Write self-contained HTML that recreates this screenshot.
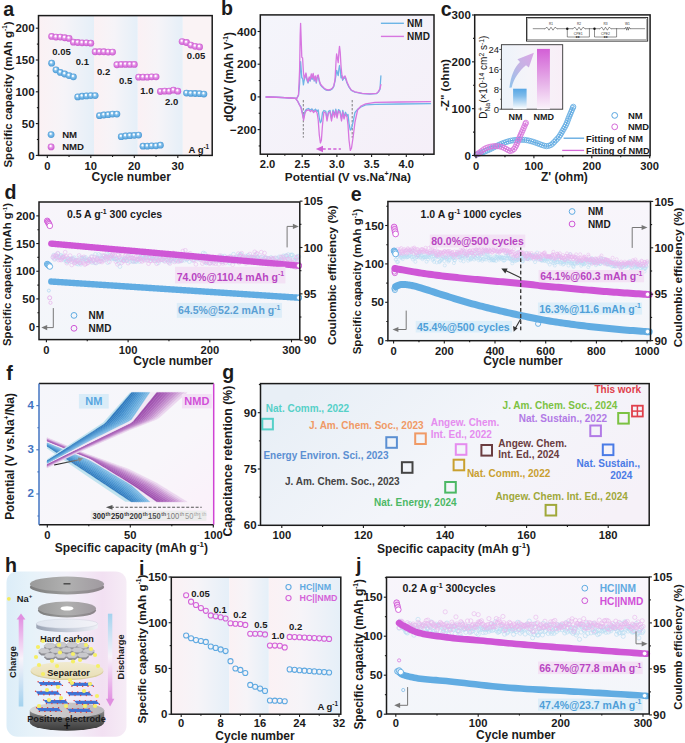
<!DOCTYPE html>
<html><head><meta charset="utf-8"><title>Figure</title>
<style>html,body{margin:0;padding:0;background:#fff;width:685px;height:743px;overflow:hidden}svg{display:block}</style>
</head><body>
<svg width="685" height="743" viewBox="0 0 685 743" font-family='"Liberation Sans", sans-serif'>
<defs><linearGradient id="bandA" x1="0" y1="0" x2="1" y2="0"><stop offset="0" stop-color="#fbf1f4"/><stop offset="0.45" stop-color="#f6f4f8"/><stop offset="1" stop-color="#e5eff8"/></linearGradient><radialGradient id="sphB" cx="0.5" cy="0.5" r="0.55" fx="0.4" fy="0.33"><stop offset="0" stop-color="#ffffff"/><stop offset="0.18" stop-color="#f4faff"/><stop offset="0.4" stop-color="#8cc4ec"/><stop offset="0.8" stop-color="#56a3dc"/><stop offset="1" stop-color="#4a93cd"/></radialGradient><radialGradient id="sphM" cx="0.5" cy="0.5" r="0.55" fx="0.4" fy="0.33"><stop offset="0" stop-color="#ffffff"/><stop offset="0.18" stop-color="#fff6ff"/><stop offset="0.4" stop-color="#e79be9"/><stop offset="0.8" stop-color="#d266d6"/><stop offset="1" stop-color="#c257c7"/></radialGradient><linearGradient id="bgB" x1="0" y1="0" x2="1" y2="1"><stop offset="0" stop-color="#f4f5fb"/><stop offset="1" stop-color="#f5eff8"/></linearGradient><linearGradient id="insBg" x1="0" y1="0" x2="1" y2="0"><stop offset="0" stop-color="#edf3fa"/><stop offset="0.45" stop-color="#f5f4f9"/><stop offset="1" stop-color="#f8eef7"/></linearGradient><linearGradient id="barNM" x1="0" y1="0" x2="0" y2="1"><stop offset="0" stop-color="#56a6e4"/><stop offset="0.35" stop-color="#7fbbea"/><stop offset="1" stop-color="#ffffff"/></linearGradient><linearGradient id="barNMD" x1="0" y1="0" x2="0" y2="1"><stop offset="0" stop-color="#d35fd6"/><stop offset="0.55" stop-color="#e6b0e8"/><stop offset="1" stop-color="#fbf3fb"/></linearGradient><linearGradient id="arrG" x1="0" y1="1" x2="1" y2="0"><stop offset="0" stop-color="#8fc3ec"/><stop offset="0.5" stop-color="#c3b4e4"/><stop offset="1" stop-color="#dba6e6"/></linearGradient><linearGradient id="bgD" x1="0" y1="0" x2="0" y2="1"><stop offset="0" stop-color="#f8f5fb"/><stop offset="1" stop-color="#f3f6fa"/></linearGradient><linearGradient id="bgE" x1="0" y1="0" x2="0" y2="1"><stop offset="0" stop-color="#f8f5fb"/><stop offset="1" stop-color="#f3f6fa"/></linearGradient><linearGradient id="bgF" x1="0" y1="0" x2="1" y2="1"><stop offset="0" stop-color="#f5f6fb"/><stop offset="0.6" stop-color="#f8f6fa"/><stop offset="1" stop-color="#fbf0fa"/></linearGradient><linearGradient id="kArr" x1="0" y1="0" x2="1" y2="0"><stop offset="0" stop-color="#111111"/><stop offset="1" stop-color="#9a9a9a"/></linearGradient><linearGradient id="bgG" x1="0" y1="0.3" x2="1" y2="0.7"><stop offset="0" stop-color="#e8eff6"/><stop offset="0.5" stop-color="#f3f5fa"/><stop offset="1" stop-color="#f6f1f8"/></linearGradient><linearGradient id="bgH" x1="0" y1="0" x2="1" y2="0"><stop offset="0" stop-color="#dcedf8"/><stop offset="0.2" stop-color="#e6f2f9"/><stop offset="0.5" stop-color="#f2f1f9"/><stop offset="0.8" stop-color="#f2e0f2"/><stop offset="1" stop-color="#f6ecf6"/></linearGradient><linearGradient id="chgA" x1="0" y1="0" x2="0" y2="1"><stop offset="0" stop-color="#e293e2"/><stop offset="0.45" stop-color="#f8f3fa"/><stop offset="1" stop-color="#a3d2ee"/></linearGradient><linearGradient id="dchA" x1="0" y1="0" x2="0" y2="1"><stop offset="0" stop-color="#a3d2ee"/><stop offset="0.5" stop-color="#f8f3fa"/><stop offset="1" stop-color="#e293e2"/></linearGradient><linearGradient id="discG" x1="0" y1="0" x2="1" y2="0"><stop offset="0" stop-color="#9a9a9a"/><stop offset="0.5" stop-color="#b0b0b0"/><stop offset="1" stop-color="#a09aa0"/></linearGradient><linearGradient id="discS" x1="0" y1="0" x2="1" y2="0"><stop offset="0" stop-color="#7d7d7d"/><stop offset="0.5" stop-color="#9a9a9a"/><stop offset="1" stop-color="#8a8288"/></linearGradient><linearGradient id="ccS" x1="0" y1="0" x2="1" y2="0"><stop offset="0" stop-color="#9aa3b3"/><stop offset="0.5" stop-color="#c3cad8"/><stop offset="1" stop-color="#eef0f6"/></linearGradient><linearGradient id="ccT" x1="0" y1="0" x2="1" y2="0"><stop offset="0" stop-color="#dfe5ef"/><stop offset="1" stop-color="#f3f3f8"/></linearGradient><linearGradient id="sepG" x1="0" y1="1" x2="0" y2="0"><stop offset="0" stop-color="#e8dfb4"/><stop offset="1" stop-color="#f1ead0"/></linearGradient><linearGradient id="elS" x1="0" y1="0" x2="0" y2="1"><stop offset="0" stop-color="#8e8e8e"/><stop offset="0.45" stop-color="#606060"/><stop offset="1" stop-color="#3a3a3a"/></linearGradient><linearGradient id="elT" x1="0" y1="0" x2="1" y2="0"><stop offset="0" stop-color="#d6d6d6"/><stop offset="1" stop-color="#b9b6ba"/></linearGradient><linearGradient id="bgJ" x1="0" y1="0" x2="0" y2="1"><stop offset="0" stop-color="#f8f5fb"/><stop offset="1" stop-color="#f3f6fa"/></linearGradient></defs>
<rect width="685" height="743" fill="#ffffff"/>
<rect x="38.5" y="15.6" width="55.5" height="139.8" fill="url(#bandA)"/>
<rect x="94.0" y="15.6" width="43.80000000000001" height="139.8" fill="url(#bandA)"/>
<rect x="137.8" y="15.6" width="45.0" height="139.8" fill="url(#bandA)"/>
<rect x="182.80" y="15.60" width="29.40" height="139.80" fill="#faf3f5"/>
<circle cx="51.65" cy="63.18" r="3.4" fill="url(#sphB)" stroke="none" stroke-width="1"/>
<circle cx="56.00" cy="69.86" r="3.4" fill="url(#sphB)" stroke="none" stroke-width="1"/>
<circle cx="60.35" cy="72.40" r="3.4" fill="url(#sphB)" stroke="none" stroke-width="1"/>
<circle cx="64.70" cy="73.99" r="3.4" fill="url(#sphB)" stroke="none" stroke-width="1"/>
<circle cx="69.05" cy="75.58" r="3.4" fill="url(#sphB)" stroke="none" stroke-width="1"/>
<circle cx="73.40" cy="76.85" r="3.4" fill="url(#sphB)" stroke="none" stroke-width="1"/>
<circle cx="77.75" cy="96.89" r="3.4" fill="url(#sphB)" stroke="none" stroke-width="1"/>
<circle cx="82.10" cy="96.25" r="3.4" fill="url(#sphB)" stroke="none" stroke-width="1"/>
<circle cx="86.45" cy="95.93" r="3.4" fill="url(#sphB)" stroke="none" stroke-width="1"/>
<circle cx="90.80" cy="95.62" r="3.4" fill="url(#sphB)" stroke="none" stroke-width="1"/>
<circle cx="95.15" cy="95.62" r="3.4" fill="url(#sphB)" stroke="none" stroke-width="1"/>
<circle cx="99.50" cy="115.65" r="3.4" fill="url(#sphB)" stroke="none" stroke-width="1"/>
<circle cx="103.85" cy="115.01" r="3.4" fill="url(#sphB)" stroke="none" stroke-width="1"/>
<circle cx="108.20" cy="114.70" r="3.4" fill="url(#sphB)" stroke="none" stroke-width="1"/>
<circle cx="112.55" cy="114.06" r="3.4" fill="url(#sphB)" stroke="none" stroke-width="1"/>
<circle cx="116.90" cy="114.06" r="3.4" fill="url(#sphB)" stroke="none" stroke-width="1"/>
<circle cx="121.25" cy="136.64" r="3.4" fill="url(#sphB)" stroke="none" stroke-width="1"/>
<circle cx="125.60" cy="136.00" r="3.4" fill="url(#sphB)" stroke="none" stroke-width="1"/>
<circle cx="129.95" cy="135.68" r="3.4" fill="url(#sphB)" stroke="none" stroke-width="1"/>
<circle cx="134.30" cy="135.37" r="3.4" fill="url(#sphB)" stroke="none" stroke-width="1"/>
<circle cx="138.65" cy="135.05" r="3.4" fill="url(#sphB)" stroke="none" stroke-width="1"/>
<circle cx="143.00" cy="146.18" r="3.4" fill="url(#sphB)" stroke="none" stroke-width="1"/>
<circle cx="147.35" cy="146.18" r="3.4" fill="url(#sphB)" stroke="none" stroke-width="1"/>
<circle cx="151.70" cy="145.86" r="3.4" fill="url(#sphB)" stroke="none" stroke-width="1"/>
<circle cx="156.05" cy="145.86" r="3.4" fill="url(#sphB)" stroke="none" stroke-width="1"/>
<circle cx="160.40" cy="145.22" r="3.4" fill="url(#sphB)" stroke="none" stroke-width="1"/>
<circle cx="186.50" cy="93.07" r="3.4" fill="url(#sphB)" stroke="none" stroke-width="1"/>
<circle cx="190.85" cy="93.39" r="3.4" fill="url(#sphB)" stroke="none" stroke-width="1"/>
<circle cx="195.20" cy="93.52" r="3.4" fill="url(#sphB)" stroke="none" stroke-width="1"/>
<circle cx="199.55" cy="93.71" r="3.4" fill="url(#sphB)" stroke="none" stroke-width="1"/>
<circle cx="203.90" cy="94.03" r="3.4" fill="url(#sphB)" stroke="none" stroke-width="1"/>
<circle cx="51.65" cy="36.47" r="3.4" fill="url(#sphM)" stroke="none" stroke-width="1"/>
<circle cx="56.00" cy="37.10" r="3.4" fill="url(#sphM)" stroke="none" stroke-width="1"/>
<circle cx="60.35" cy="37.10" r="3.4" fill="url(#sphM)" stroke="none" stroke-width="1"/>
<circle cx="64.70" cy="37.74" r="3.4" fill="url(#sphM)" stroke="none" stroke-width="1"/>
<circle cx="69.05" cy="38.38" r="3.4" fill="url(#sphM)" stroke="none" stroke-width="1"/>
<circle cx="73.40" cy="42.19" r="3.4" fill="url(#sphM)" stroke="none" stroke-width="1"/>
<circle cx="77.75" cy="42.51" r="3.4" fill="url(#sphM)" stroke="none" stroke-width="1"/>
<circle cx="82.10" cy="42.83" r="3.4" fill="url(#sphM)" stroke="none" stroke-width="1"/>
<circle cx="86.45" cy="42.83" r="3.4" fill="url(#sphM)" stroke="none" stroke-width="1"/>
<circle cx="90.80" cy="43.15" r="3.4" fill="url(#sphM)" stroke="none" stroke-width="1"/>
<circle cx="95.15" cy="51.73" r="3.4" fill="url(#sphM)" stroke="none" stroke-width="1"/>
<circle cx="99.50" cy="51.73" r="3.4" fill="url(#sphM)" stroke="none" stroke-width="1"/>
<circle cx="103.85" cy="51.73" r="3.4" fill="url(#sphM)" stroke="none" stroke-width="1"/>
<circle cx="108.20" cy="52.05" r="3.4" fill="url(#sphM)" stroke="none" stroke-width="1"/>
<circle cx="112.55" cy="52.05" r="3.4" fill="url(#sphM)" stroke="none" stroke-width="1"/>
<circle cx="116.90" cy="64.77" r="3.4" fill="url(#sphM)" stroke="none" stroke-width="1"/>
<circle cx="121.25" cy="64.45" r="3.4" fill="url(#sphM)" stroke="none" stroke-width="1"/>
<circle cx="125.60" cy="64.45" r="3.4" fill="url(#sphM)" stroke="none" stroke-width="1"/>
<circle cx="129.95" cy="64.45" r="3.4" fill="url(#sphM)" stroke="none" stroke-width="1"/>
<circle cx="134.30" cy="64.45" r="3.4" fill="url(#sphM)" stroke="none" stroke-width="1"/>
<circle cx="138.65" cy="77.17" r="3.4" fill="url(#sphM)" stroke="none" stroke-width="1"/>
<circle cx="143.00" cy="77.17" r="3.4" fill="url(#sphM)" stroke="none" stroke-width="1"/>
<circle cx="147.35" cy="77.17" r="3.4" fill="url(#sphM)" stroke="none" stroke-width="1"/>
<circle cx="151.70" cy="76.85" r="3.4" fill="url(#sphM)" stroke="none" stroke-width="1"/>
<circle cx="156.05" cy="76.85" r="3.4" fill="url(#sphM)" stroke="none" stroke-width="1"/>
<circle cx="160.40" cy="91.48" r="3.4" fill="url(#sphM)" stroke="none" stroke-width="1"/>
<circle cx="164.75" cy="91.16" r="3.4" fill="url(#sphM)" stroke="none" stroke-width="1"/>
<circle cx="169.10" cy="91.16" r="3.4" fill="url(#sphM)" stroke="none" stroke-width="1"/>
<circle cx="173.45" cy="90.21" r="3.4" fill="url(#sphM)" stroke="none" stroke-width="1"/>
<circle cx="177.80" cy="91.16" r="3.4" fill="url(#sphM)" stroke="none" stroke-width="1"/>
<circle cx="182.15" cy="41.56" r="3.4" fill="url(#sphM)" stroke="none" stroke-width="1"/>
<circle cx="186.50" cy="42.51" r="3.4" fill="url(#sphM)" stroke="none" stroke-width="1"/>
<circle cx="190.85" cy="45.05" r="3.4" fill="url(#sphM)" stroke="none" stroke-width="1"/>
<circle cx="195.20" cy="46.33" r="3.4" fill="url(#sphM)" stroke="none" stroke-width="1"/>
<circle cx="199.55" cy="46.96" r="3.4" fill="url(#sphM)" stroke="none" stroke-width="1"/>
<rect x="38.5" y="15.6" width="173.70" height="139.80" fill="none" stroke="#1b1b1b" stroke-width="1.5"/>
<line x1="38.50" y1="155.40" x2="35.80" y2="155.40" stroke="#1b1b1b" stroke-width="1.1"/>
<text x="34.60" y="159.54" font-size="11.5" font-weight="bold" text-anchor="end" fill="#1b1b1b">0</text>
<line x1="38.50" y1="123.60" x2="35.80" y2="123.60" stroke="#1b1b1b" stroke-width="1.1"/>
<text x="34.60" y="127.74" font-size="11.5" font-weight="bold" text-anchor="end" fill="#1b1b1b">50</text>
<line x1="38.50" y1="91.80" x2="35.80" y2="91.80" stroke="#1b1b1b" stroke-width="1.1"/>
<text x="34.60" y="95.94" font-size="11.5" font-weight="bold" text-anchor="end" fill="#1b1b1b">100</text>
<line x1="38.50" y1="60.00" x2="35.80" y2="60.00" stroke="#1b1b1b" stroke-width="1.1"/>
<text x="34.60" y="64.14" font-size="11.5" font-weight="bold" text-anchor="end" fill="#1b1b1b">150</text>
<line x1="38.50" y1="28.20" x2="35.80" y2="28.20" stroke="#1b1b1b" stroke-width="1.1"/>
<text x="34.60" y="32.34" font-size="11.5" font-weight="bold" text-anchor="end" fill="#1b1b1b">200</text>
<line x1="38.50" y1="139.50" x2="36.88" y2="139.50" stroke="#1b1b1b" stroke-width="1.1"/>
<line x1="38.50" y1="107.70" x2="36.88" y2="107.70" stroke="#1b1b1b" stroke-width="1.1"/>
<line x1="38.50" y1="75.90" x2="36.88" y2="75.90" stroke="#1b1b1b" stroke-width="1.1"/>
<line x1="38.50" y1="44.10" x2="36.88" y2="44.10" stroke="#1b1b1b" stroke-width="1.1"/>
<line x1="47.30" y1="155.40" x2="47.30" y2="158.10" stroke="#1b1b1b" stroke-width="1.1"/>
<text x="47.30" y="169.80" font-size="11.2" font-weight="bold" text-anchor="middle" fill="#1b1b1b">0</text>
<line x1="90.80" y1="155.40" x2="90.80" y2="158.10" stroke="#1b1b1b" stroke-width="1.1"/>
<text x="90.80" y="169.80" font-size="11.2" font-weight="bold" text-anchor="middle" fill="#1b1b1b">10</text>
<line x1="134.30" y1="155.40" x2="134.30" y2="158.10" stroke="#1b1b1b" stroke-width="1.1"/>
<text x="134.30" y="169.80" font-size="11.2" font-weight="bold" text-anchor="middle" fill="#1b1b1b">20</text>
<line x1="177.80" y1="155.40" x2="177.80" y2="158.10" stroke="#1b1b1b" stroke-width="1.1"/>
<text x="177.80" y="169.80" font-size="11.2" font-weight="bold" text-anchor="middle" fill="#1b1b1b">30</text>
<line x1="69.05" y1="155.40" x2="69.05" y2="157.02" stroke="#1b1b1b" stroke-width="1.1"/>
<line x1="112.55" y1="155.40" x2="112.55" y2="157.02" stroke="#1b1b1b" stroke-width="1.1"/>
<line x1="156.05" y1="155.40" x2="156.05" y2="157.02" stroke="#1b1b1b" stroke-width="1.1"/>
<line x1="199.55" y1="155.40" x2="199.55" y2="157.02" stroke="#1b1b1b" stroke-width="1.1"/>
<text x="61.50" y="55.40" font-size="9.5" font-weight="bold" text-anchor="middle" fill="#1b1b1b">0.05</text>
<text x="82.40" y="64.80" font-size="9.5" font-weight="bold" text-anchor="middle" fill="#1b1b1b">0.1</text>
<text x="103.60" y="74.70" font-size="9.5" font-weight="bold" text-anchor="middle" fill="#1b1b1b">0.2</text>
<text x="125.60" y="84.40" font-size="9.5" font-weight="bold" text-anchor="middle" fill="#1b1b1b">0.5</text>
<text x="146.90" y="94.20" font-size="9.5" font-weight="bold" text-anchor="middle" fill="#1b1b1b">1.0</text>
<text x="171.60" y="105.20" font-size="9.5" font-weight="bold" text-anchor="middle" fill="#1b1b1b">2.0</text>
<text x="196.10" y="58.80" font-size="9.5" font-weight="bold" text-anchor="middle" fill="#1b1b1b">0.05</text>
<text x="188.50" y="152.60" font-size="9.5" font-weight="bold" text-anchor="start" fill="#1b1b1b"><tspan dy="0.00">A g</tspan><tspan dy="-3.80" font-size="6.27">-1</tspan></text>
<circle cx="51.10" cy="134.60" r="3.4" fill="url(#sphB)" stroke="none" stroke-width="1"/>
<text x="62.20" y="138.00" font-size="9.6" font-weight="bold" text-anchor="start" fill="#1b1b1b">NM</text>
<circle cx="51.10" cy="146.90" r="3.4" fill="url(#sphM)" stroke="none" stroke-width="1"/>
<text x="62.20" y="150.30" font-size="9.6" font-weight="bold" text-anchor="start" fill="#1b1b1b">NMD</text>
<text x="12.00" y="94.50" font-size="11.55" font-weight="bold" text-anchor="middle" fill="#1b1b1b" transform="rotate(-90 12.0 94.5)"><tspan dy="0.00">Specific capacity (mAh g</tspan><tspan dy="-4.62" font-size="6.35">-1</tspan><tspan dy="4.62">)</tspan></text>
<text x="131.20" y="181.00" font-size="12" font-weight="bold" text-anchor="middle" fill="#1b1b1b">Cycle number</text>
<text x="3.30" y="15.50" font-size="19.6" font-weight="bold" text-anchor="start" fill="#1b1b1b">a</text>
<rect x="260.30" y="14.90" width="173.70" height="139.30" fill="url(#bgB)"/>
<line x1="303.30" y1="100.00" x2="303.30" y2="137.70" stroke="#555" stroke-width="0.75" stroke-dasharray="2.4,1.6"/>
<line x1="352.20" y1="100.00" x2="352.20" y2="137.70" stroke="#555" stroke-width="0.75" stroke-dasharray="2.4,1.6"/>
<polyline points="266.20,96.90 285.00,97.55 296.80,98.30 298.50,95.13 299.60,83.99 300.20,67.19 300.60,61.57 301.20,69.59 301.80,77.84 302.60,78.23 303.40,84.95 304.20,80.25 305.00,77.46 306.00,74.67 307.00,80.25 308.00,83.04 309.20,78.39 310.20,81.18 311.30,75.60 312.20,79.32 313.20,75.14 314.20,81.18 315.30,77.46 316.30,83.04 317.20,77.46 318.20,76.53 319.20,81.18 320.40,84.90 322.00,86.76 324.00,88.62 326.00,90.02 328.30,90.48 330.50,90.02 332.50,88.62 333.80,86.48 335.00,81.18 336.00,75.26 336.60,70.30 337.40,72.78 338.20,75.70 338.90,69.06 339.50,65.53 340.20,69.06 341.00,77.74 341.80,75.60 342.60,80.25 343.80,78.39 345.00,77.46 345.80,79.32 347.00,83.04 349.00,87.23 351.30,90.48 355.00,92.16 362.30,93.65 370.00,94.02 376.50,93.65 378.50,91.88 380.00,89.09 380.90,75.80" fill="none" stroke="#6db5e6" stroke-width="1.3" stroke-linejoin="round" stroke-linecap="round"/>
<polyline points="430.50,103.70 400.00,104.00 375.00,104.30 365.70,104.90 361.00,107.00 357.60,109.34 355.00,112.46 353.00,122.38 351.50,128.58 350.30,130.07 349.00,123.62 348.00,114.32 347.00,116.00 345.50,112.29 344.00,116.79 342.80,110.49 341.50,118.59 340.00,110.94 338.50,109.59 337.00,115.89 335.80,109.14 334.50,114.99 333.00,110.04 331.50,118.59 330.00,110.49 328.50,111.39 327.00,118.59 325.80,111.39 323.90,110.49 322.50,112.64 321.40,121.04 320.40,122.72 319.30,118.24 318.20,109.84 317.10,111.39 315.50,109.14 313.50,110.94 312.00,108.87 310.50,110.04 308.50,108.51 306.30,109.32 305.00,111.39 303.60,117.78 302.40,112.29 301.00,106.89 299.60,104.88 297.50,100.80 295.50,98.33 285.00,97.56 266.20,97.00" fill="none" stroke="#6db5e6" stroke-width="1.3" stroke-linejoin="round" stroke-linecap="round"/>
<polyline points="266.20,96.90 285.00,97.60 296.80,98.40 298.50,95.00 299.60,70.00 300.20,35.00 300.60,23.30 301.20,40.00 301.80,57.20 302.60,58.00 303.40,72.00 304.20,79.00 305.00,76.00 306.00,73.00 307.00,79.00 308.00,82.00 309.20,77.00 310.20,80.00 311.30,74.00 312.20,78.00 313.20,73.50 314.20,80.00 315.30,76.00 316.30,82.00 317.20,76.00 318.20,75.00 319.20,80.00 320.40,84.00 322.00,86.00 324.00,88.00 326.00,89.50 328.30,90.00 330.50,89.50 332.50,88.00 333.80,85.70 335.00,80.00 336.00,62.00 336.60,54.00 337.40,58.00 338.20,62.70 338.90,52.00 339.50,46.30 340.20,52.00 341.00,66.00 341.80,74.00 342.60,79.00 343.80,77.00 345.00,76.00 345.80,78.00 347.00,82.00 349.00,86.50 351.30,90.00 355.00,91.80 362.30,93.40 370.00,93.80 376.50,93.40 378.50,91.50 380.00,88.50 380.90,84.60" fill="none" stroke="#d776e0" stroke-width="1.3" stroke-linejoin="round" stroke-linecap="round"/>
<polyline points="430.50,101.70 400.00,102.00 375.00,102.30 365.70,103.90 361.00,106.00 357.60,110.00 355.00,122.00 353.00,138.00 351.50,148.00 350.30,150.40 349.00,140.00 348.00,125.00 347.00,117.00 345.50,114.00 344.00,119.00 342.80,112.00 341.50,121.00 340.00,112.50 338.50,111.00 337.00,118.00 335.80,110.50 334.50,117.00 333.00,111.50 331.50,121.00 330.00,112.00 328.50,113.00 327.00,121.00 325.80,113.00 323.90,112.00 322.50,125.00 321.40,140.00 320.40,143.00 319.30,135.00 318.20,120.00 317.10,113.00 315.50,110.50 313.50,112.50 312.00,110.20 310.50,111.50 308.50,109.80 306.30,110.70 305.00,113.00 303.60,120.10 302.40,114.00 301.00,108.00 299.60,105.30 297.50,101.00 295.50,98.40 285.00,97.60 266.20,97.00" fill="none" stroke="#d776e0" stroke-width="1.3" stroke-linejoin="round" stroke-linecap="round"/>
<line x1="322.50" y1="149.00" x2="340.90" y2="149.00" stroke="#d060d8" stroke-width="1.6" stroke-dasharray="3.2,2.2"/>
<polygon points="315.80,149.00 323.00,145.80 323.00,152.20" fill="#d060d8" stroke="none" stroke-width="1"/>
<rect x="260.3" y="14.9" width="173.70" height="139.30" fill="none" stroke="#1b1b1b" stroke-width="1.5"/>
<line x1="260.30" y1="31.50" x2="257.60" y2="31.50" stroke="#1b1b1b" stroke-width="1.1"/>
<text x="256.40" y="35.71" font-size="11.7" font-weight="bold" text-anchor="end" fill="#1b1b1b">400</text>
<line x1="260.30" y1="64.20" x2="257.60" y2="64.20" stroke="#1b1b1b" stroke-width="1.1"/>
<text x="256.40" y="68.41" font-size="11.7" font-weight="bold" text-anchor="end" fill="#1b1b1b">200</text>
<line x1="260.30" y1="96.90" x2="257.60" y2="96.90" stroke="#1b1b1b" stroke-width="1.1"/>
<text x="256.40" y="101.11" font-size="11.7" font-weight="bold" text-anchor="end" fill="#1b1b1b">0</text>
<line x1="260.30" y1="129.60" x2="257.60" y2="129.60" stroke="#1b1b1b" stroke-width="1.1"/>
<text x="256.40" y="133.81" font-size="11.7" font-weight="bold" text-anchor="end" fill="#1b1b1b">−200</text>
<line x1="260.30" y1="47.85" x2="258.68" y2="47.85" stroke="#1b1b1b" stroke-width="1.1"/>
<line x1="260.30" y1="80.55" x2="258.68" y2="80.55" stroke="#1b1b1b" stroke-width="1.1"/>
<line x1="260.30" y1="113.25" x2="258.68" y2="113.25" stroke="#1b1b1b" stroke-width="1.1"/>
<line x1="260.30" y1="145.95" x2="258.68" y2="145.95" stroke="#1b1b1b" stroke-width="1.1"/>
<line x1="267.50" y1="154.20" x2="267.50" y2="156.90" stroke="#1b1b1b" stroke-width="1.1"/>
<text x="267.50" y="168.00" font-size="11.2" font-weight="bold" text-anchor="middle" fill="#1b1b1b">2.0</text>
<line x1="302.20" y1="154.20" x2="302.20" y2="156.90" stroke="#1b1b1b" stroke-width="1.1"/>
<text x="302.20" y="168.00" font-size="11.2" font-weight="bold" text-anchor="middle" fill="#1b1b1b">2.5</text>
<line x1="336.90" y1="154.20" x2="336.90" y2="156.90" stroke="#1b1b1b" stroke-width="1.1"/>
<text x="336.90" y="168.00" font-size="11.2" font-weight="bold" text-anchor="middle" fill="#1b1b1b">3.0</text>
<line x1="371.60" y1="154.20" x2="371.60" y2="156.90" stroke="#1b1b1b" stroke-width="1.1"/>
<text x="371.60" y="168.00" font-size="11.2" font-weight="bold" text-anchor="middle" fill="#1b1b1b">3.5</text>
<line x1="406.30" y1="154.20" x2="406.30" y2="156.90" stroke="#1b1b1b" stroke-width="1.1"/>
<text x="406.30" y="168.00" font-size="11.2" font-weight="bold" text-anchor="middle" fill="#1b1b1b">4.0</text>
<line x1="284.85" y1="154.20" x2="284.85" y2="155.82" stroke="#1b1b1b" stroke-width="1.1"/>
<line x1="319.55" y1="154.20" x2="319.55" y2="155.82" stroke="#1b1b1b" stroke-width="1.1"/>
<line x1="354.25" y1="154.20" x2="354.25" y2="155.82" stroke="#1b1b1b" stroke-width="1.1"/>
<line x1="388.95" y1="154.20" x2="388.95" y2="155.82" stroke="#1b1b1b" stroke-width="1.1"/>
<line x1="423.65" y1="154.20" x2="423.65" y2="155.82" stroke="#1b1b1b" stroke-width="1.1"/>
<line x1="380.90" y1="23.30" x2="403.90" y2="23.30" stroke="#6db5e6" stroke-width="1.4"/>
<text x="407.10" y="26.90" font-size="10" font-weight="bold" text-anchor="start" fill="#1b1b1b">NM</text>
<line x1="380.90" y1="36.40" x2="403.90" y2="36.40" stroke="#d776e0" stroke-width="1.4"/>
<text x="407.10" y="40.00" font-size="10" font-weight="bold" text-anchor="start" fill="#1b1b1b">NMD</text>
<text x="232.60" y="76.90" font-size="11.9" font-weight="bold" text-anchor="middle" fill="#1b1b1b" transform="rotate(-90 232.6 76.9)"><tspan dy="0.00">dQ/dV (mAh V</tspan><tspan dy="-4.76" font-size="6.55">-1</tspan><tspan dy="4.76">)</tspan></text>
<text x="347.90" y="181.00" font-size="11.8" font-weight="bold" text-anchor="middle" fill="#1b1b1b"><tspan dy="0.00">Potential (V vs.Na</tspan><tspan dy="-4.72" font-size="7.08">+</tspan><tspan dy="4.72">/Na)</tspan></text>
<text x="220.90" y="15.30" font-size="19.6" font-weight="bold" text-anchor="start" fill="#1b1b1b">b</text>
<polyline points="476.58,154.56 476.97,154.43 477.47,154.25 478.06,154.05 478.73,153.81 479.46,153.56 480.22,153.28 481.01,152.99 481.79,152.69 482.60,152.37 483.46,152.03 484.36,151.67 485.28,151.30 486.22,150.91 487.17,150.51 488.11,150.10 489.03,149.69 489.93,149.27 490.82,148.84 491.71,148.39 492.60,147.94 493.50,147.48 494.41,147.03 495.33,146.58 496.26,146.13 497.23,145.69 498.23,145.24 499.25,144.78 500.27,144.33 501.29,143.88 502.30,143.46 503.27,143.07 504.20,142.72 505.08,142.39 505.93,142.10 506.75,141.83 507.55,141.58 508.34,141.35 509.13,141.13 509.93,140.94 510.74,140.75 511.58,140.58 512.44,140.42 513.30,140.28 514.17,140.16 515.02,140.05 515.85,139.96 516.65,139.88 517.40,139.81 518.10,139.76 518.76,139.74 519.38,139.73 519.99,139.73 520.57,139.74 521.15,139.76 521.73,139.79 522.32,139.81 522.90,139.83 523.47,139.85 524.03,139.88 524.58,139.91 525.14,139.95 525.72,140.01 526.32,140.08 526.95,140.19 527.62,140.32 528.32,140.47 529.05,140.65 529.79,140.84 530.54,141.04 531.28,141.25 532.02,141.47 532.74,141.69 533.46,141.91 534.18,142.14 534.90,142.39 535.62,142.64 536.32,142.89 537.01,143.14 537.67,143.38 538.30,143.61 538.90,143.82 539.46,144.04 540.00,144.26 540.52,144.46 541.03,144.66 541.54,144.85 542.06,145.03 542.59,145.20 543.13,145.36 543.67,145.53 544.21,145.70 544.75,145.85 545.30,145.98 545.84,146.08 546.38,146.13 546.93,146.13 547.47,146.09 548.02,146.01 548.57,145.89 549.12,145.74 549.66,145.54 550.20,145.31 550.74,145.04 551.27,144.73 551.79,144.36 552.30,143.94 552.81,143.46 553.31,142.96 553.82,142.42 554.32,141.88 554.82,141.33 555.32,140.80 555.83,140.27 556.35,139.74 556.87,139.21 557.39,138.67 557.90,138.11 558.40,137.54 558.90,136.93 559.38,136.30 559.84,135.63 560.29,134.93 560.72,134.21 561.15,133.46 561.57,132.70 562.00,131.93 562.42,131.16 562.85,130.40 563.29,129.63 563.75,128.85 564.20,128.07 564.66,127.27 565.11,126.48 565.54,125.69 565.95,124.90 566.32,124.12 566.67,123.35 566.98,122.58 567.28,121.81 567.55,121.04 567.82,120.28 568.09,119.52 568.36,118.77 568.64,118.04 568.93,117.31 569.22,116.60 569.51,115.89 569.80,115.20 570.09,114.50 570.38,113.81 570.67,113.12 570.96,112.42 571.26,111.68 571.59,110.88 571.93,110.06 572.26,109.26 572.57,108.49 572.86,107.81 573.09,107.23 573.27,106.80" fill="none" stroke="#5aa6e0" stroke-width="1.1" stroke-linejoin="round" stroke-linecap="round"/>
<polyline points="476.58,154.56 476.89,154.35 477.29,154.07 477.78,153.74 478.32,153.36 478.89,152.97 479.48,152.55 480.07,152.15 480.63,151.75 481.18,151.36 481.75,150.93 482.33,150.49 482.91,150.04 483.50,149.61 484.09,149.19 484.68,148.81 485.26,148.48 485.84,148.19 486.42,147.93 487.00,147.70 487.58,147.49 488.16,147.31 488.74,147.14 489.32,146.99 489.90,146.84 490.48,146.70 491.05,146.57 491.63,146.46 492.21,146.37 492.79,146.29 493.37,146.22 493.95,146.17 494.53,146.13 495.12,146.12 495.73,146.12 496.34,146.13 496.95,146.16 497.55,146.20 498.12,146.25 498.66,146.31 499.16,146.37 499.60,146.43 499.98,146.48 500.32,146.55 500.64,146.62 500.96,146.70 501.29,146.80 501.65,146.92 502.06,147.07 502.51,147.25 503.00,147.45 503.52,147.68 504.05,147.93 504.58,148.18 505.11,148.44 505.62,148.70 506.11,148.94 506.58,149.20 507.04,149.48 507.50,149.78 507.95,150.06 508.39,150.34 508.81,150.58 509.21,150.77 509.58,150.91 509.92,150.99 510.24,151.03 510.52,151.03 510.79,151.00 511.06,150.94 511.33,150.84 511.60,150.72 511.90,150.58 512.21,150.43 512.53,150.25 512.85,150.06 513.18,149.83 513.51,149.57 513.85,149.26 514.18,148.90 514.50,148.48 514.83,147.99 515.14,147.45 515.46,146.86 515.78,146.22 516.10,145.55 516.43,144.83 516.76,144.09 517.11,143.32 517.47,142.51 517.85,141.63 518.24,140.70 518.64,139.74 519.03,138.78 519.42,137.82 519.81,136.90 520.18,136.02 520.53,135.19 520.88,134.39 521.21,133.62 521.54,132.86 521.87,132.10 522.21,131.33 522.55,130.55 522.90,129.74 523.28,128.86 523.70,127.89 524.14,126.89 524.57,125.89 524.99,124.93 525.36,124.07 525.68,123.35 525.91,122.81" fill="none" stroke="#d56ad8" stroke-width="1.1" stroke-linejoin="round" stroke-linecap="round"/>
<circle cx="476.58" cy="154.56" r="2.6" fill="none" stroke="#66aee3" stroke-width="0.85"/>
<circle cx="478.75" cy="153.81" r="2.6" fill="none" stroke="#66aee3" stroke-width="0.85"/>
<circle cx="480.91" cy="153.03" r="2.6" fill="none" stroke="#66aee3" stroke-width="0.85"/>
<circle cx="483.06" cy="152.19" r="2.6" fill="none" stroke="#66aee3" stroke-width="0.85"/>
<circle cx="485.19" cy="151.33" r="2.6" fill="none" stroke="#66aee3" stroke-width="0.85"/>
<circle cx="487.31" cy="150.45" r="2.6" fill="none" stroke="#66aee3" stroke-width="0.85"/>
<circle cx="489.42" cy="149.51" r="2.6" fill="none" stroke="#66aee3" stroke-width="0.85"/>
<circle cx="491.48" cy="148.51" r="2.6" fill="none" stroke="#66aee3" stroke-width="0.85"/>
<circle cx="493.53" cy="147.47" r="2.6" fill="none" stroke="#66aee3" stroke-width="0.85"/>
<circle cx="495.60" cy="146.45" r="2.6" fill="none" stroke="#66aee3" stroke-width="0.85"/>
<circle cx="497.69" cy="145.48" r="2.6" fill="none" stroke="#66aee3" stroke-width="0.85"/>
<circle cx="499.78" cy="144.54" r="2.6" fill="none" stroke="#66aee3" stroke-width="0.85"/>
<circle cx="501.90" cy="143.63" r="2.6" fill="none" stroke="#66aee3" stroke-width="0.85"/>
<circle cx="504.03" cy="142.78" r="2.6" fill="none" stroke="#66aee3" stroke-width="0.85"/>
<circle cx="506.20" cy="142.01" r="2.6" fill="none" stroke="#66aee3" stroke-width="0.85"/>
<circle cx="508.40" cy="141.33" r="2.6" fill="none" stroke="#66aee3" stroke-width="0.85"/>
<circle cx="510.63" cy="140.77" r="2.6" fill="none" stroke="#66aee3" stroke-width="0.85"/>
<circle cx="512.89" cy="140.35" r="2.6" fill="none" stroke="#66aee3" stroke-width="0.85"/>
<circle cx="515.17" cy="140.03" r="2.6" fill="none" stroke="#66aee3" stroke-width="0.85"/>
<circle cx="517.45" cy="139.81" r="2.6" fill="none" stroke="#66aee3" stroke-width="0.85"/>
<circle cx="519.75" cy="139.73" r="2.6" fill="none" stroke="#66aee3" stroke-width="0.85"/>
<circle cx="522.05" cy="139.80" r="2.6" fill="none" stroke="#66aee3" stroke-width="0.85"/>
<circle cx="524.35" cy="139.89" r="2.6" fill="none" stroke="#66aee3" stroke-width="0.85"/>
<circle cx="526.63" cy="140.13" r="2.6" fill="none" stroke="#66aee3" stroke-width="0.85"/>
<circle cx="528.88" cy="140.61" r="2.6" fill="none" stroke="#66aee3" stroke-width="0.85"/>
<circle cx="531.11" cy="141.20" r="2.6" fill="none" stroke="#66aee3" stroke-width="0.85"/>
<circle cx="533.31" cy="141.86" r="2.6" fill="none" stroke="#66aee3" stroke-width="0.85"/>
<circle cx="535.49" cy="142.60" r="2.6" fill="none" stroke="#66aee3" stroke-width="0.85"/>
<circle cx="537.65" cy="143.37" r="2.6" fill="none" stroke="#66aee3" stroke-width="0.85"/>
<circle cx="539.81" cy="144.18" r="2.6" fill="none" stroke="#66aee3" stroke-width="0.85"/>
<circle cx="541.96" cy="145.00" r="2.6" fill="none" stroke="#66aee3" stroke-width="0.85"/>
<circle cx="544.15" cy="145.68" r="2.6" fill="none" stroke="#66aee3" stroke-width="0.85"/>
<circle cx="546.40" cy="146.13" r="2.6" fill="none" stroke="#66aee3" stroke-width="0.85"/>
<circle cx="548.68" cy="145.86" r="2.6" fill="none" stroke="#66aee3" stroke-width="0.85"/>
<circle cx="550.81" cy="145.00" r="2.6" fill="none" stroke="#66aee3" stroke-width="0.85"/>
<circle cx="552.64" cy="143.62" r="2.6" fill="none" stroke="#66aee3" stroke-width="0.85"/>
<circle cx="554.23" cy="141.97" r="2.6" fill="none" stroke="#66aee3" stroke-width="0.85"/>
<circle cx="555.81" cy="140.29" r="2.6" fill="none" stroke="#66aee3" stroke-width="0.85"/>
<circle cx="557.41" cy="138.64" r="2.6" fill="none" stroke="#66aee3" stroke-width="0.85"/>
<circle cx="558.92" cy="136.91" r="2.6" fill="none" stroke="#66aee3" stroke-width="0.85"/>
<circle cx="560.23" cy="135.02" r="2.6" fill="none" stroke="#66aee3" stroke-width="0.85"/>
<circle cx="561.39" cy="133.03" r="2.6" fill="none" stroke="#66aee3" stroke-width="0.85"/>
<circle cx="562.50" cy="131.02" r="2.6" fill="none" stroke="#66aee3" stroke-width="0.85"/>
<circle cx="563.65" cy="129.02" r="2.6" fill="none" stroke="#66aee3" stroke-width="0.85"/>
<circle cx="564.80" cy="127.03" r="2.6" fill="none" stroke="#66aee3" stroke-width="0.85"/>
<circle cx="565.89" cy="125.01" r="2.6" fill="none" stroke="#66aee3" stroke-width="0.85"/>
<circle cx="566.85" cy="122.92" r="2.6" fill="none" stroke="#66aee3" stroke-width="0.85"/>
<circle cx="567.65" cy="120.76" r="2.6" fill="none" stroke="#66aee3" stroke-width="0.85"/>
<circle cx="568.43" cy="118.60" r="2.6" fill="none" stroke="#66aee3" stroke-width="0.85"/>
<circle cx="569.28" cy="116.46" r="2.6" fill="none" stroke="#66aee3" stroke-width="0.85"/>
<circle cx="570.16" cy="114.34" r="2.6" fill="none" stroke="#66aee3" stroke-width="0.85"/>
<circle cx="571.04" cy="112.21" r="2.6" fill="none" stroke="#66aee3" stroke-width="0.85"/>
<circle cx="571.92" cy="110.09" r="2.6" fill="none" stroke="#66aee3" stroke-width="0.85"/>
<circle cx="572.79" cy="107.96" r="2.6" fill="none" stroke="#66aee3" stroke-width="0.85"/>
<circle cx="573.27" cy="106.80" r="2.6" fill="none" stroke="#66aee3" stroke-width="0.85"/>
<circle cx="476.58" cy="154.56" r="2.6" fill="none" stroke="#d877dc" stroke-width="0.85"/>
<circle cx="478.47" cy="153.26" r="2.6" fill="none" stroke="#d877dc" stroke-width="0.85"/>
<circle cx="480.36" cy="151.94" r="2.6" fill="none" stroke="#d877dc" stroke-width="0.85"/>
<circle cx="482.21" cy="150.58" r="2.6" fill="none" stroke="#d877dc" stroke-width="0.85"/>
<circle cx="484.06" cy="149.21" r="2.6" fill="none" stroke="#d877dc" stroke-width="0.85"/>
<circle cx="486.06" cy="148.09" r="2.6" fill="none" stroke="#d877dc" stroke-width="0.85"/>
<circle cx="488.22" cy="147.29" r="2.6" fill="none" stroke="#d877dc" stroke-width="0.85"/>
<circle cx="490.44" cy="146.71" r="2.6" fill="none" stroke="#d877dc" stroke-width="0.85"/>
<circle cx="492.71" cy="146.30" r="2.6" fill="none" stroke="#d877dc" stroke-width="0.85"/>
<circle cx="495.00" cy="146.12" r="2.6" fill="none" stroke="#d877dc" stroke-width="0.85"/>
<circle cx="497.30" cy="146.19" r="2.6" fill="none" stroke="#d877dc" stroke-width="0.85"/>
<circle cx="499.58" cy="146.42" r="2.6" fill="none" stroke="#d877dc" stroke-width="0.85"/>
<circle cx="501.81" cy="146.98" r="2.6" fill="none" stroke="#d877dc" stroke-width="0.85"/>
<circle cx="503.93" cy="147.87" r="2.6" fill="none" stroke="#d877dc" stroke-width="0.85"/>
<circle cx="505.99" cy="148.89" r="2.6" fill="none" stroke="#d877dc" stroke-width="0.85"/>
<circle cx="507.96" cy="150.07" r="2.6" fill="none" stroke="#d877dc" stroke-width="0.85"/>
<circle cx="510.04" cy="151.01" r="2.6" fill="none" stroke="#d877dc" stroke-width="0.85"/>
<circle cx="512.22" cy="150.42" r="2.6" fill="none" stroke="#d877dc" stroke-width="0.85"/>
<circle cx="514.04" cy="149.04" r="2.6" fill="none" stroke="#d877dc" stroke-width="0.85"/>
<circle cx="515.31" cy="147.13" r="2.6" fill="none" stroke="#d877dc" stroke-width="0.85"/>
<circle cx="516.32" cy="145.06" r="2.6" fill="none" stroke="#d877dc" stroke-width="0.85"/>
<circle cx="517.27" cy="142.97" r="2.6" fill="none" stroke="#d877dc" stroke-width="0.85"/>
<circle cx="518.17" cy="140.86" r="2.6" fill="none" stroke="#d877dc" stroke-width="0.85"/>
<circle cx="519.05" cy="138.73" r="2.6" fill="none" stroke="#d877dc" stroke-width="0.85"/>
<circle cx="519.93" cy="136.60" r="2.6" fill="none" stroke="#d877dc" stroke-width="0.85"/>
<circle cx="520.83" cy="134.49" r="2.6" fill="none" stroke="#d877dc" stroke-width="0.85"/>
<circle cx="521.75" cy="132.38" r="2.6" fill="none" stroke="#d877dc" stroke-width="0.85"/>
<circle cx="522.67" cy="130.27" r="2.6" fill="none" stroke="#d877dc" stroke-width="0.85"/>
<circle cx="523.59" cy="128.16" r="2.6" fill="none" stroke="#d877dc" stroke-width="0.85"/>
<circle cx="524.50" cy="126.05" r="2.6" fill="none" stroke="#d877dc" stroke-width="0.85"/>
<circle cx="525.42" cy="123.94" r="2.6" fill="none" stroke="#d877dc" stroke-width="0.85"/>
<circle cx="525.91" cy="122.81" r="2.6" fill="none" stroke="#d877dc" stroke-width="0.85"/>
<rect x="474.7" y="14.9" width="175.40" height="140.70" fill="none" stroke="#1b1b1b" stroke-width="1.5"/>
<line x1="474.70" y1="155.50" x2="472.00" y2="155.50" stroke="#1b1b1b" stroke-width="1.1"/>
<text x="470.80" y="159.64" font-size="11.5" font-weight="bold" text-anchor="end" fill="#1b1b1b">0</text>
<line x1="474.70" y1="108.67" x2="472.00" y2="108.67" stroke="#1b1b1b" stroke-width="1.1"/>
<text x="470.80" y="112.81" font-size="11.5" font-weight="bold" text-anchor="end" fill="#1b1b1b">100</text>
<line x1="474.70" y1="61.84" x2="472.00" y2="61.84" stroke="#1b1b1b" stroke-width="1.1"/>
<text x="470.80" y="65.98" font-size="11.5" font-weight="bold" text-anchor="end" fill="#1b1b1b">200</text>
<line x1="474.70" y1="15.01" x2="472.00" y2="15.01" stroke="#1b1b1b" stroke-width="1.1"/>
<text x="470.80" y="19.15" font-size="11.5" font-weight="bold" text-anchor="end" fill="#1b1b1b">300</text>
<line x1="474.70" y1="132.09" x2="473.08" y2="132.09" stroke="#1b1b1b" stroke-width="1.1"/>
<line x1="474.70" y1="85.25" x2="473.08" y2="85.25" stroke="#1b1b1b" stroke-width="1.1"/>
<line x1="474.70" y1="38.42" x2="473.08" y2="38.42" stroke="#1b1b1b" stroke-width="1.1"/>
<line x1="476.00" y1="155.60" x2="476.00" y2="158.30" stroke="#1b1b1b" stroke-width="1.1"/>
<text x="476.00" y="169.70" font-size="11.2" font-weight="bold" text-anchor="middle" fill="#1b1b1b">0</text>
<line x1="533.90" y1="155.60" x2="533.90" y2="158.30" stroke="#1b1b1b" stroke-width="1.1"/>
<text x="533.90" y="169.70" font-size="11.2" font-weight="bold" text-anchor="middle" fill="#1b1b1b">100</text>
<line x1="591.80" y1="155.60" x2="591.80" y2="158.30" stroke="#1b1b1b" stroke-width="1.1"/>
<text x="591.80" y="169.70" font-size="11.2" font-weight="bold" text-anchor="middle" fill="#1b1b1b">200</text>
<line x1="649.70" y1="155.60" x2="649.70" y2="158.30" stroke="#1b1b1b" stroke-width="1.1"/>
<text x="649.70" y="169.70" font-size="11.2" font-weight="bold" text-anchor="middle" fill="#1b1b1b">300</text>
<line x1="504.95" y1="155.60" x2="504.95" y2="157.22" stroke="#1b1b1b" stroke-width="1.1"/>
<line x1="562.85" y1="155.60" x2="562.85" y2="157.22" stroke="#1b1b1b" stroke-width="1.1"/>
<line x1="620.75" y1="155.60" x2="620.75" y2="157.22" stroke="#1b1b1b" stroke-width="1.1"/>
<circle cx="614.70" cy="115.40" r="2.9" fill="none" stroke="#5aa6e0" stroke-width="1.0"/>
<text x="627.90" y="118.80" font-size="9.5" font-weight="bold" text-anchor="start" fill="#1b1b1b">NM</text>
<circle cx="614.70" cy="126.80" r="2.9" fill="none" stroke="#d56ad8" stroke-width="1.0"/>
<text x="627.90" y="130.20" font-size="9.3" font-weight="bold" text-anchor="start" fill="#1b1b1b">NMD</text>
<line x1="563.60" y1="138.20" x2="584.10" y2="138.20" stroke="#5aa6e0" stroke-width="1.3"/>
<text x="586.10" y="141.60" font-size="9.3" font-weight="bold" text-anchor="start" fill="#1b1b1b">Fitting of NM</text>
<line x1="562.20" y1="150.40" x2="584.10" y2="150.40" stroke="#d56ad8" stroke-width="1.3"/>
<text x="586.10" y="153.80" font-size="9.3" font-weight="bold" text-anchor="start" fill="#1b1b1b">Fitting of NMD</text>
<text x="449.00" y="85.10" font-size="11.6" font-weight="bold" text-anchor="middle" fill="#1b1b1b" transform="rotate(-90 449.0 85.1)">-Z" (ohm)</text>
<text x="564.40" y="181.00" font-size="12" font-weight="bold" text-anchor="middle" fill="#1b1b1b">Z' (ohm)</text>
<text x="440.70" y="16.40" font-size="19.6" font-weight="bold" text-anchor="start" fill="#1b1b1b">c</text>
<rect x="526.5" y="17.5" width="121.2" height="23.6" fill="#ffffff" stroke="#222" stroke-width="0.9"/>
<rect x="527.8" y="18.8" width="118.6" height="21.0" fill="none" stroke="#444" stroke-width="0.4"/>
<line x1="532.80" y1="28.70" x2="545.00" y2="28.70" stroke="#222" stroke-width="0.5"/>
<polyline points="545.00,28.70 547.00,27.20 549.00,30.20 551.00,27.20 553.00,30.20 555.00,27.20 557.00,28.70" fill="none" stroke="#222" stroke-width="0.5" stroke-linejoin="round" stroke-linecap="round"/>
<line x1="557.00" y1="28.70" x2="567.30" y2="28.70" stroke="#222" stroke-width="0.5"/>
<circle cx="567.30" cy="28.70" r="1.2" fill="#111" stroke="none" stroke-width="1"/>
<polyline points="573.00,28.70 575.00,27.20 577.00,30.20 579.00,27.20 581.00,30.20 583.00,27.20 585.00,28.70" fill="none" stroke="#222" stroke-width="0.5" stroke-linejoin="round" stroke-linecap="round"/>
<line x1="567.30" y1="28.70" x2="573.00" y2="28.70" stroke="#222" stroke-width="0.5"/>
<line x1="585.00" y1="28.70" x2="594.50" y2="28.70" stroke="#222" stroke-width="0.5"/>
<polyline points="567.30,28.70 567.30,37.00 589.40,37.00 589.40,28.70" fill="none" stroke="#222" stroke-width="0.5" stroke-linejoin="round" stroke-linecap="round"/>
<circle cx="594.50" cy="28.70" r="1.2" fill="#111" stroke="none" stroke-width="1"/>
<polyline points="600.00,28.70 601.83,27.20 603.67,30.20 605.50,27.20 607.33,30.20 609.17,27.20 611.00,28.70" fill="none" stroke="#222" stroke-width="0.5" stroke-linejoin="round" stroke-linecap="round"/>
<line x1="594.50" y1="28.70" x2="600.00" y2="28.70" stroke="#222" stroke-width="0.5"/>
<line x1="611.00" y1="28.70" x2="625.00" y2="28.70" stroke="#222" stroke-width="0.5"/>
<polyline points="594.50,28.70 594.50,37.00 616.60,37.00 616.60,28.70" fill="none" stroke="#222" stroke-width="0.5" stroke-linejoin="round" stroke-linecap="round"/>
<polyline points="625.00,28.70 625.83,27.20 626.67,30.20 627.50,27.20 628.33,30.20 629.17,27.20 630.00,28.70" fill="none" stroke="#222" stroke-width="0.5" stroke-linejoin="round" stroke-linecap="round"/>
<line x1="630.00" y1="28.70" x2="645.10" y2="28.70" stroke="#222" stroke-width="0.5"/>
<text x="551.00" y="25.20" font-size="3.2" font-weight="normal" text-anchor="middle" fill="#333">R1</text>
<text x="579.00" y="25.20" font-size="3.2" font-weight="normal" text-anchor="middle" fill="#333">R2</text>
<text x="605.50" y="25.20" font-size="3.2" font-weight="normal" text-anchor="middle" fill="#333">R3</text>
<text x="627.50" y="25.20" font-size="3.2" font-weight="normal" text-anchor="middle" fill="#333">W1</text>
<text x="578.30" y="34.60" font-size="3.4" font-weight="normal" text-anchor="middle" fill="#333">CPE1</text>
<text x="578.30" y="38.30" font-size="3.6" font-weight="normal" text-anchor="middle" fill="#222">▸▸</text>
<text x="605.50" y="34.60" font-size="3.4" font-weight="normal" text-anchor="middle" fill="#333">CPE2</text>
<text x="605.50" y="38.30" font-size="3.6" font-weight="normal" text-anchor="middle" fill="#222">▸▸</text>
<rect x="501.4" y="44.7" width="61.3" height="64.5" fill="url(#insBg)" stroke="#333" stroke-width="0.9"/>
<rect x="513.10" y="88.70" width="13.50" height="20.50" fill="url(#barNM)"/>
<rect x="537.00" y="48.90" width="12.90" height="60.30" fill="url(#barNMD)"/>
<path d="M509.4,87.8 C510.8,76.5 514.2,67.5 520.0,62.0 L517.4,59.3 L533.9,52.7 L528.9,67.5 L526.0,65.2 C518.8,71.2 513.6,79 511.7,87.4 Z" fill="url(#arrG)"/>
<line x1="501.40" y1="109.20" x2="499.40" y2="109.20" stroke="#333" stroke-width="0.9"/>
<text x="499.00" y="112.60" font-size="9.5" font-weight="normal" text-anchor="end" fill="#1a1a1a">0</text>
<line x1="501.40" y1="89.28" x2="499.40" y2="89.28" stroke="#333" stroke-width="0.9"/>
<text x="499.00" y="92.68" font-size="9.5" font-weight="normal" text-anchor="end" fill="#1a1a1a">8</text>
<line x1="501.40" y1="69.36" x2="499.40" y2="69.36" stroke="#333" stroke-width="0.9"/>
<text x="499.00" y="72.76" font-size="9.5" font-weight="normal" text-anchor="end" fill="#1a1a1a">16</text>
<line x1="501.40" y1="49.44" x2="499.40" y2="49.44" stroke="#333" stroke-width="0.9"/>
<text x="499.00" y="52.84" font-size="9.5" font-weight="normal" text-anchor="end" fill="#1a1a1a">24</text>
<line x1="501.40" y1="99.24" x2="500.20" y2="99.24" stroke="#333" stroke-width="0.8"/>
<line x1="501.40" y1="79.32" x2="500.20" y2="79.32" stroke="#333" stroke-width="0.8"/>
<line x1="501.40" y1="59.40" x2="500.20" y2="59.40" stroke="#333" stroke-width="0.8"/>
<text x="515.60" y="119.80" font-size="9.0" font-weight="bold" text-anchor="middle" fill="#1a1a1a">NM</text>
<text x="543.70" y="119.80" font-size="9.0" font-weight="bold" text-anchor="middle" fill="#1a1a1a">NMD</text>
<text x="487.4" y="118.8" font-size="10.0" fill="#1a1a1a" transform="rotate(-90 487.4 118.8)">D<tspan dy="2.4" font-size="6.8">Na</tspan><tspan dx="-8.2" dy="-6.4" font-size="6.8">+</tspan><tspan dx="1.5" dy="4.0"> (×10</tspan><tspan dy="-3.8" font-size="6.8">-14</tspan><tspan dy="3.8"> cm</tspan><tspan dy="-3.8" font-size="6.8">2</tspan><tspan dy="3.8"> s</tspan><tspan dy="-3.8" font-size="6.8">-1</tspan><tspan dy="3.8">)</tspan></text>
<rect x="39.00" y="202.00" width="260.80" height="137.60" fill="url(#bgD)"/>
<g opacity="0.8">
<circle cx="52.94" cy="257.57" r="1.9" fill="none" stroke="#a8d6f0" stroke-width="0.55"/>
<circle cx="53.75" cy="255.14" r="1.9" fill="none" stroke="#a8d6f0" stroke-width="0.55"/>
<circle cx="54.57" cy="259.53" r="1.9" fill="none" stroke="#a8d6f0" stroke-width="0.55"/>
<circle cx="55.39" cy="255.55" r="1.9" fill="none" stroke="#a8d6f0" stroke-width="0.55"/>
<circle cx="56.20" cy="258.07" r="1.9" fill="none" stroke="#a8d6f0" stroke-width="0.55"/>
<circle cx="57.02" cy="258.05" r="1.9" fill="none" stroke="#a8d6f0" stroke-width="0.55"/>
<circle cx="57.84" cy="253.64" r="1.9" fill="none" stroke="#a8d6f0" stroke-width="0.55"/>
<circle cx="58.66" cy="257.20" r="1.9" fill="none" stroke="#a8d6f0" stroke-width="0.55"/>
<circle cx="59.47" cy="257.62" r="1.9" fill="none" stroke="#a8d6f0" stroke-width="0.55"/>
<circle cx="60.29" cy="256.08" r="1.9" fill="none" stroke="#a8d6f0" stroke-width="0.55"/>
<circle cx="61.11" cy="255.31" r="1.9" fill="none" stroke="#a8d6f0" stroke-width="0.55"/>
<circle cx="61.92" cy="257.73" r="1.9" fill="none" stroke="#a8d6f0" stroke-width="0.55"/>
<circle cx="62.74" cy="256.54" r="1.9" fill="none" stroke="#a8d6f0" stroke-width="0.55"/>
<circle cx="63.56" cy="259.81" r="1.9" fill="none" stroke="#a8d6f0" stroke-width="0.55"/>
<circle cx="64.37" cy="258.66" r="1.9" fill="none" stroke="#a8d6f0" stroke-width="0.55"/>
<circle cx="65.19" cy="258.90" r="1.9" fill="none" stroke="#a8d6f0" stroke-width="0.55"/>
<circle cx="66.01" cy="260.83" r="1.9" fill="none" stroke="#a8d6f0" stroke-width="0.55"/>
<circle cx="66.82" cy="261.30" r="1.9" fill="none" stroke="#a8d6f0" stroke-width="0.55"/>
<circle cx="67.64" cy="261.66" r="1.9" fill="none" stroke="#a8d6f0" stroke-width="0.55"/>
<circle cx="68.46" cy="258.95" r="1.9" fill="none" stroke="#a8d6f0" stroke-width="0.55"/>
<circle cx="69.28" cy="258.94" r="1.9" fill="none" stroke="#a8d6f0" stroke-width="0.55"/>
<circle cx="70.09" cy="259.37" r="1.9" fill="none" stroke="#a8d6f0" stroke-width="0.55"/>
<circle cx="70.91" cy="258.70" r="1.9" fill="none" stroke="#a8d6f0" stroke-width="0.55"/>
<circle cx="71.73" cy="261.68" r="1.9" fill="none" stroke="#a8d6f0" stroke-width="0.55"/>
<circle cx="72.54" cy="259.23" r="1.9" fill="none" stroke="#a8d6f0" stroke-width="0.55"/>
<circle cx="73.36" cy="258.70" r="1.9" fill="none" stroke="#a8d6f0" stroke-width="0.55"/>
<circle cx="74.18" cy="257.75" r="1.9" fill="none" stroke="#a8d6f0" stroke-width="0.55"/>
<circle cx="75.00" cy="261.11" r="1.9" fill="none" stroke="#a8d6f0" stroke-width="0.55"/>
<circle cx="75.81" cy="260.28" r="1.9" fill="none" stroke="#a8d6f0" stroke-width="0.55"/>
<circle cx="76.63" cy="263.65" r="1.9" fill="none" stroke="#a8d6f0" stroke-width="0.55"/>
<circle cx="77.45" cy="260.63" r="1.9" fill="none" stroke="#a8d6f0" stroke-width="0.55"/>
<circle cx="78.26" cy="264.14" r="1.9" fill="none" stroke="#a8d6f0" stroke-width="0.55"/>
<circle cx="79.08" cy="262.59" r="1.9" fill="none" stroke="#a8d6f0" stroke-width="0.55"/>
<circle cx="79.90" cy="257.48" r="1.9" fill="none" stroke="#a8d6f0" stroke-width="0.55"/>
<circle cx="80.71" cy="264.23" r="1.9" fill="none" stroke="#a8d6f0" stroke-width="0.55"/>
<circle cx="81.53" cy="258.11" r="1.9" fill="none" stroke="#a8d6f0" stroke-width="0.55"/>
<circle cx="82.35" cy="259.05" r="1.9" fill="none" stroke="#a8d6f0" stroke-width="0.55"/>
<circle cx="83.16" cy="260.33" r="1.9" fill="none" stroke="#a8d6f0" stroke-width="0.55"/>
<circle cx="83.98" cy="258.71" r="1.9" fill="none" stroke="#a8d6f0" stroke-width="0.55"/>
<circle cx="84.80" cy="258.52" r="1.9" fill="none" stroke="#a8d6f0" stroke-width="0.55"/>
<circle cx="85.62" cy="257.40" r="1.9" fill="none" stroke="#a8d6f0" stroke-width="0.55"/>
<circle cx="86.43" cy="259.92" r="1.9" fill="none" stroke="#a8d6f0" stroke-width="0.55"/>
<circle cx="87.25" cy="260.57" r="1.9" fill="none" stroke="#a8d6f0" stroke-width="0.55"/>
<circle cx="88.07" cy="260.50" r="1.9" fill="none" stroke="#a8d6f0" stroke-width="0.55"/>
<circle cx="88.88" cy="261.17" r="1.9" fill="none" stroke="#a8d6f0" stroke-width="0.55"/>
<circle cx="89.70" cy="259.14" r="1.9" fill="none" stroke="#a8d6f0" stroke-width="0.55"/>
<circle cx="90.52" cy="260.54" r="1.9" fill="none" stroke="#a8d6f0" stroke-width="0.55"/>
<circle cx="91.33" cy="256.64" r="1.9" fill="none" stroke="#a8d6f0" stroke-width="0.55"/>
<circle cx="92.15" cy="262.50" r="1.9" fill="none" stroke="#a8d6f0" stroke-width="0.55"/>
<circle cx="92.97" cy="260.80" r="1.9" fill="none" stroke="#a8d6f0" stroke-width="0.55"/>
<circle cx="93.79" cy="260.39" r="1.9" fill="none" stroke="#a8d6f0" stroke-width="0.55"/>
<circle cx="94.60" cy="262.59" r="1.9" fill="none" stroke="#a8d6f0" stroke-width="0.55"/>
<circle cx="95.42" cy="254.33" r="1.9" fill="none" stroke="#a8d6f0" stroke-width="0.55"/>
<circle cx="96.24" cy="263.01" r="1.9" fill="none" stroke="#a8d6f0" stroke-width="0.55"/>
<circle cx="97.05" cy="258.57" r="1.9" fill="none" stroke="#a8d6f0" stroke-width="0.55"/>
<circle cx="97.87" cy="258.96" r="1.9" fill="none" stroke="#a8d6f0" stroke-width="0.55"/>
<circle cx="98.69" cy="254.43" r="1.9" fill="none" stroke="#a8d6f0" stroke-width="0.55"/>
<circle cx="99.50" cy="261.78" r="1.9" fill="none" stroke="#a8d6f0" stroke-width="0.55"/>
<circle cx="100.32" cy="255.47" r="1.9" fill="none" stroke="#a8d6f0" stroke-width="0.55"/>
<circle cx="101.14" cy="259.10" r="1.9" fill="none" stroke="#a8d6f0" stroke-width="0.55"/>
<circle cx="101.96" cy="257.88" r="1.9" fill="none" stroke="#a8d6f0" stroke-width="0.55"/>
<circle cx="102.77" cy="258.90" r="1.9" fill="none" stroke="#a8d6f0" stroke-width="0.55"/>
<circle cx="103.59" cy="256.21" r="1.9" fill="none" stroke="#a8d6f0" stroke-width="0.55"/>
<circle cx="104.41" cy="259.83" r="1.9" fill="none" stroke="#a8d6f0" stroke-width="0.55"/>
<circle cx="105.22" cy="257.68" r="1.9" fill="none" stroke="#a8d6f0" stroke-width="0.55"/>
<circle cx="106.04" cy="256.83" r="1.9" fill="none" stroke="#a8d6f0" stroke-width="0.55"/>
<circle cx="106.86" cy="253.83" r="1.9" fill="none" stroke="#a8d6f0" stroke-width="0.55"/>
<circle cx="107.67" cy="262.54" r="1.9" fill="none" stroke="#a8d6f0" stroke-width="0.55"/>
<circle cx="108.49" cy="254.59" r="1.9" fill="none" stroke="#a8d6f0" stroke-width="0.55"/>
<circle cx="109.31" cy="255.84" r="1.9" fill="none" stroke="#a8d6f0" stroke-width="0.55"/>
<circle cx="110.13" cy="258.85" r="1.9" fill="none" stroke="#a8d6f0" stroke-width="0.55"/>
<circle cx="110.94" cy="257.33" r="1.9" fill="none" stroke="#a8d6f0" stroke-width="0.55"/>
<circle cx="111.76" cy="259.01" r="1.9" fill="none" stroke="#a8d6f0" stroke-width="0.55"/>
<circle cx="112.58" cy="254.81" r="1.9" fill="none" stroke="#a8d6f0" stroke-width="0.55"/>
<circle cx="113.39" cy="257.85" r="1.9" fill="none" stroke="#a8d6f0" stroke-width="0.55"/>
<circle cx="114.21" cy="258.84" r="1.9" fill="none" stroke="#a8d6f0" stroke-width="0.55"/>
<circle cx="115.03" cy="258.99" r="1.9" fill="none" stroke="#a8d6f0" stroke-width="0.55"/>
<circle cx="115.84" cy="259.05" r="1.9" fill="none" stroke="#a8d6f0" stroke-width="0.55"/>
<circle cx="116.66" cy="259.13" r="1.9" fill="none" stroke="#a8d6f0" stroke-width="0.55"/>
<circle cx="117.48" cy="260.68" r="1.9" fill="none" stroke="#a8d6f0" stroke-width="0.55"/>
<circle cx="118.30" cy="254.81" r="1.9" fill="none" stroke="#a8d6f0" stroke-width="0.55"/>
<circle cx="119.11" cy="263.02" r="1.9" fill="none" stroke="#a8d6f0" stroke-width="0.55"/>
<circle cx="119.93" cy="266.58" r="1.9" fill="none" stroke="#a8d6f0" stroke-width="0.55"/>
<circle cx="120.75" cy="259.58" r="1.9" fill="none" stroke="#a8d6f0" stroke-width="0.55"/>
<circle cx="121.56" cy="259.72" r="1.9" fill="none" stroke="#a8d6f0" stroke-width="0.55"/>
<circle cx="122.38" cy="258.74" r="1.9" fill="none" stroke="#a8d6f0" stroke-width="0.55"/>
<circle cx="123.20" cy="259.99" r="1.9" fill="none" stroke="#a8d6f0" stroke-width="0.55"/>
<circle cx="124.01" cy="259.93" r="1.9" fill="none" stroke="#a8d6f0" stroke-width="0.55"/>
<circle cx="124.83" cy="259.00" r="1.9" fill="none" stroke="#a8d6f0" stroke-width="0.55"/>
<circle cx="125.65" cy="257.74" r="1.9" fill="none" stroke="#a8d6f0" stroke-width="0.55"/>
<circle cx="126.47" cy="260.64" r="1.9" fill="none" stroke="#a8d6f0" stroke-width="0.55"/>
<circle cx="127.28" cy="260.50" r="1.9" fill="none" stroke="#a8d6f0" stroke-width="0.55"/>
<circle cx="128.10" cy="255.77" r="1.9" fill="none" stroke="#a8d6f0" stroke-width="0.55"/>
<circle cx="128.92" cy="258.63" r="1.9" fill="none" stroke="#a8d6f0" stroke-width="0.55"/>
<circle cx="129.73" cy="261.68" r="1.9" fill="none" stroke="#a8d6f0" stroke-width="0.55"/>
<circle cx="130.55" cy="254.89" r="1.9" fill="none" stroke="#a8d6f0" stroke-width="0.55"/>
<circle cx="131.37" cy="257.98" r="1.9" fill="none" stroke="#a8d6f0" stroke-width="0.55"/>
<circle cx="132.19" cy="260.70" r="1.9" fill="none" stroke="#a8d6f0" stroke-width="0.55"/>
<circle cx="133.00" cy="261.81" r="1.9" fill="none" stroke="#a8d6f0" stroke-width="0.55"/>
<circle cx="133.82" cy="258.71" r="1.9" fill="none" stroke="#a8d6f0" stroke-width="0.55"/>
<circle cx="134.64" cy="260.92" r="1.9" fill="none" stroke="#a8d6f0" stroke-width="0.55"/>
<circle cx="135.45" cy="261.27" r="1.9" fill="none" stroke="#a8d6f0" stroke-width="0.55"/>
<circle cx="136.27" cy="261.64" r="1.9" fill="none" stroke="#a8d6f0" stroke-width="0.55"/>
<circle cx="137.09" cy="259.91" r="1.9" fill="none" stroke="#a8d6f0" stroke-width="0.55"/>
<circle cx="137.90" cy="256.50" r="1.9" fill="none" stroke="#a8d6f0" stroke-width="0.55"/>
<circle cx="138.72" cy="259.52" r="1.9" fill="none" stroke="#a8d6f0" stroke-width="0.55"/>
<circle cx="139.54" cy="261.47" r="1.9" fill="none" stroke="#a8d6f0" stroke-width="0.55"/>
<circle cx="140.35" cy="257.03" r="1.9" fill="none" stroke="#a8d6f0" stroke-width="0.55"/>
<circle cx="141.17" cy="258.14" r="1.9" fill="none" stroke="#a8d6f0" stroke-width="0.55"/>
<circle cx="141.99" cy="256.44" r="1.9" fill="none" stroke="#a8d6f0" stroke-width="0.55"/>
<circle cx="142.81" cy="255.60" r="1.9" fill="none" stroke="#a8d6f0" stroke-width="0.55"/>
<circle cx="143.62" cy="258.29" r="1.9" fill="none" stroke="#a8d6f0" stroke-width="0.55"/>
<circle cx="144.44" cy="258.15" r="1.9" fill="none" stroke="#a8d6f0" stroke-width="0.55"/>
<circle cx="145.26" cy="257.86" r="1.9" fill="none" stroke="#a8d6f0" stroke-width="0.55"/>
<circle cx="146.07" cy="260.01" r="1.9" fill="none" stroke="#a8d6f0" stroke-width="0.55"/>
<circle cx="146.89" cy="256.27" r="1.9" fill="none" stroke="#a8d6f0" stroke-width="0.55"/>
<circle cx="147.71" cy="254.78" r="1.9" fill="none" stroke="#a8d6f0" stroke-width="0.55"/>
<circle cx="148.53" cy="257.19" r="1.9" fill="none" stroke="#a8d6f0" stroke-width="0.55"/>
<circle cx="149.34" cy="258.01" r="1.9" fill="none" stroke="#a8d6f0" stroke-width="0.55"/>
<circle cx="150.16" cy="258.04" r="1.9" fill="none" stroke="#a8d6f0" stroke-width="0.55"/>
<circle cx="150.98" cy="259.11" r="1.9" fill="none" stroke="#a8d6f0" stroke-width="0.55"/>
<circle cx="151.79" cy="259.17" r="1.9" fill="none" stroke="#a8d6f0" stroke-width="0.55"/>
<circle cx="152.61" cy="258.38" r="1.9" fill="none" stroke="#a8d6f0" stroke-width="0.55"/>
<circle cx="153.43" cy="259.32" r="1.9" fill="none" stroke="#a8d6f0" stroke-width="0.55"/>
<circle cx="154.24" cy="258.56" r="1.9" fill="none" stroke="#a8d6f0" stroke-width="0.55"/>
<circle cx="155.06" cy="260.95" r="1.9" fill="none" stroke="#a8d6f0" stroke-width="0.55"/>
<circle cx="155.88" cy="257.10" r="1.9" fill="none" stroke="#a8d6f0" stroke-width="0.55"/>
<circle cx="156.69" cy="257.80" r="1.9" fill="none" stroke="#a8d6f0" stroke-width="0.55"/>
<circle cx="157.51" cy="260.35" r="1.9" fill="none" stroke="#a8d6f0" stroke-width="0.55"/>
<circle cx="158.33" cy="262.79" r="1.9" fill="none" stroke="#a8d6f0" stroke-width="0.55"/>
<circle cx="159.15" cy="258.23" r="1.9" fill="none" stroke="#a8d6f0" stroke-width="0.55"/>
<circle cx="159.96" cy="256.08" r="1.9" fill="none" stroke="#a8d6f0" stroke-width="0.55"/>
<circle cx="160.78" cy="259.95" r="1.9" fill="none" stroke="#a8d6f0" stroke-width="0.55"/>
<circle cx="161.60" cy="259.56" r="1.9" fill="none" stroke="#a8d6f0" stroke-width="0.55"/>
<circle cx="162.41" cy="259.86" r="1.9" fill="none" stroke="#a8d6f0" stroke-width="0.55"/>
<circle cx="163.23" cy="257.49" r="1.9" fill="none" stroke="#a8d6f0" stroke-width="0.55"/>
<circle cx="164.05" cy="260.81" r="1.9" fill="none" stroke="#a8d6f0" stroke-width="0.55"/>
<circle cx="164.86" cy="257.05" r="1.9" fill="none" stroke="#a8d6f0" stroke-width="0.55"/>
<circle cx="165.68" cy="259.79" r="1.9" fill="none" stroke="#a8d6f0" stroke-width="0.55"/>
<circle cx="166.50" cy="257.39" r="1.9" fill="none" stroke="#a8d6f0" stroke-width="0.55"/>
<circle cx="167.32" cy="259.30" r="1.9" fill="none" stroke="#a8d6f0" stroke-width="0.55"/>
<circle cx="168.13" cy="259.93" r="1.9" fill="none" stroke="#a8d6f0" stroke-width="0.55"/>
<circle cx="168.95" cy="262.55" r="1.9" fill="none" stroke="#a8d6f0" stroke-width="0.55"/>
<circle cx="169.77" cy="261.00" r="1.9" fill="none" stroke="#a8d6f0" stroke-width="0.55"/>
<circle cx="170.58" cy="260.19" r="1.9" fill="none" stroke="#a8d6f0" stroke-width="0.55"/>
<circle cx="171.40" cy="258.35" r="1.9" fill="none" stroke="#a8d6f0" stroke-width="0.55"/>
<circle cx="172.22" cy="259.22" r="1.9" fill="none" stroke="#a8d6f0" stroke-width="0.55"/>
<circle cx="173.03" cy="261.16" r="1.9" fill="none" stroke="#a8d6f0" stroke-width="0.55"/>
<circle cx="173.85" cy="258.90" r="1.9" fill="none" stroke="#a8d6f0" stroke-width="0.55"/>
<circle cx="174.67" cy="257.71" r="1.9" fill="none" stroke="#a8d6f0" stroke-width="0.55"/>
<circle cx="175.49" cy="260.00" r="1.9" fill="none" stroke="#a8d6f0" stroke-width="0.55"/>
<circle cx="176.30" cy="260.55" r="1.9" fill="none" stroke="#a8d6f0" stroke-width="0.55"/>
<circle cx="177.12" cy="260.40" r="1.9" fill="none" stroke="#a8d6f0" stroke-width="0.55"/>
<circle cx="177.94" cy="257.88" r="1.9" fill="none" stroke="#a8d6f0" stroke-width="0.55"/>
<circle cx="178.75" cy="258.36" r="1.9" fill="none" stroke="#a8d6f0" stroke-width="0.55"/>
<circle cx="179.57" cy="261.27" r="1.9" fill="none" stroke="#a8d6f0" stroke-width="0.55"/>
<circle cx="180.39" cy="258.51" r="1.9" fill="none" stroke="#a8d6f0" stroke-width="0.55"/>
<circle cx="181.20" cy="260.15" r="1.9" fill="none" stroke="#a8d6f0" stroke-width="0.55"/>
<circle cx="182.02" cy="260.59" r="1.9" fill="none" stroke="#a8d6f0" stroke-width="0.55"/>
<circle cx="182.84" cy="256.42" r="1.9" fill="none" stroke="#a8d6f0" stroke-width="0.55"/>
<circle cx="183.66" cy="257.15" r="1.9" fill="none" stroke="#a8d6f0" stroke-width="0.55"/>
<circle cx="184.47" cy="260.18" r="1.9" fill="none" stroke="#a8d6f0" stroke-width="0.55"/>
<circle cx="185.29" cy="258.42" r="1.9" fill="none" stroke="#a8d6f0" stroke-width="0.55"/>
<circle cx="186.11" cy="257.43" r="1.9" fill="none" stroke="#a8d6f0" stroke-width="0.55"/>
<circle cx="186.92" cy="259.64" r="1.9" fill="none" stroke="#a8d6f0" stroke-width="0.55"/>
<circle cx="187.74" cy="258.46" r="1.9" fill="none" stroke="#a8d6f0" stroke-width="0.55"/>
<circle cx="188.56" cy="256.75" r="1.9" fill="none" stroke="#a8d6f0" stroke-width="0.55"/>
<circle cx="189.38" cy="261.65" r="1.9" fill="none" stroke="#a8d6f0" stroke-width="0.55"/>
<circle cx="190.19" cy="257.23" r="1.9" fill="none" stroke="#a8d6f0" stroke-width="0.55"/>
<circle cx="191.01" cy="256.31" r="1.9" fill="none" stroke="#a8d6f0" stroke-width="0.55"/>
<circle cx="191.83" cy="256.70" r="1.9" fill="none" stroke="#a8d6f0" stroke-width="0.55"/>
<circle cx="192.64" cy="260.40" r="1.9" fill="none" stroke="#a8d6f0" stroke-width="0.55"/>
<circle cx="193.46" cy="256.96" r="1.9" fill="none" stroke="#a8d6f0" stroke-width="0.55"/>
<circle cx="194.28" cy="259.33" r="1.9" fill="none" stroke="#a8d6f0" stroke-width="0.55"/>
<circle cx="195.09" cy="256.37" r="1.9" fill="none" stroke="#a8d6f0" stroke-width="0.55"/>
<circle cx="195.91" cy="256.28" r="1.9" fill="none" stroke="#a8d6f0" stroke-width="0.55"/>
<circle cx="196.73" cy="257.07" r="1.9" fill="none" stroke="#a8d6f0" stroke-width="0.55"/>
<circle cx="197.54" cy="259.08" r="1.9" fill="none" stroke="#a8d6f0" stroke-width="0.55"/>
<circle cx="198.36" cy="258.75" r="1.9" fill="none" stroke="#a8d6f0" stroke-width="0.55"/>
<circle cx="199.18" cy="255.84" r="1.9" fill="none" stroke="#a8d6f0" stroke-width="0.55"/>
<circle cx="200.00" cy="259.46" r="1.9" fill="none" stroke="#a8d6f0" stroke-width="0.55"/>
<circle cx="200.81" cy="256.68" r="1.9" fill="none" stroke="#a8d6f0" stroke-width="0.55"/>
<circle cx="201.63" cy="256.72" r="1.9" fill="none" stroke="#a8d6f0" stroke-width="0.55"/>
<circle cx="202.45" cy="258.42" r="1.9" fill="none" stroke="#a8d6f0" stroke-width="0.55"/>
<circle cx="203.26" cy="253.06" r="1.9" fill="none" stroke="#a8d6f0" stroke-width="0.55"/>
<circle cx="204.08" cy="257.90" r="1.9" fill="none" stroke="#a8d6f0" stroke-width="0.55"/>
<circle cx="204.90" cy="253.78" r="1.9" fill="none" stroke="#a8d6f0" stroke-width="0.55"/>
<circle cx="205.72" cy="262.38" r="1.9" fill="none" stroke="#a8d6f0" stroke-width="0.55"/>
<circle cx="206.53" cy="262.96" r="1.9" fill="none" stroke="#a8d6f0" stroke-width="0.55"/>
<circle cx="207.35" cy="256.51" r="1.9" fill="none" stroke="#a8d6f0" stroke-width="0.55"/>
<circle cx="208.17" cy="257.34" r="1.9" fill="none" stroke="#a8d6f0" stroke-width="0.55"/>
<circle cx="208.98" cy="259.39" r="1.9" fill="none" stroke="#a8d6f0" stroke-width="0.55"/>
<circle cx="209.80" cy="258.99" r="1.9" fill="none" stroke="#a8d6f0" stroke-width="0.55"/>
<circle cx="210.62" cy="262.88" r="1.9" fill="none" stroke="#a8d6f0" stroke-width="0.55"/>
<circle cx="211.43" cy="260.39" r="1.9" fill="none" stroke="#a8d6f0" stroke-width="0.55"/>
<circle cx="212.25" cy="261.33" r="1.9" fill="none" stroke="#a8d6f0" stroke-width="0.55"/>
<circle cx="213.07" cy="259.77" r="1.9" fill="none" stroke="#a8d6f0" stroke-width="0.55"/>
<circle cx="213.88" cy="257.60" r="1.9" fill="none" stroke="#a8d6f0" stroke-width="0.55"/>
<circle cx="214.70" cy="259.39" r="1.9" fill="none" stroke="#a8d6f0" stroke-width="0.55"/>
<circle cx="215.52" cy="258.81" r="1.9" fill="none" stroke="#a8d6f0" stroke-width="0.55"/>
<circle cx="216.34" cy="261.05" r="1.9" fill="none" stroke="#a8d6f0" stroke-width="0.55"/>
<circle cx="217.15" cy="260.56" r="1.9" fill="none" stroke="#a8d6f0" stroke-width="0.55"/>
<circle cx="217.97" cy="259.48" r="1.9" fill="none" stroke="#a8d6f0" stroke-width="0.55"/>
<circle cx="218.79" cy="260.30" r="1.9" fill="none" stroke="#a8d6f0" stroke-width="0.55"/>
<circle cx="219.60" cy="257.16" r="1.9" fill="none" stroke="#a8d6f0" stroke-width="0.55"/>
<circle cx="220.42" cy="261.52" r="1.9" fill="none" stroke="#a8d6f0" stroke-width="0.55"/>
<circle cx="221.24" cy="255.85" r="1.9" fill="none" stroke="#a8d6f0" stroke-width="0.55"/>
<circle cx="222.06" cy="261.68" r="1.9" fill="none" stroke="#a8d6f0" stroke-width="0.55"/>
<circle cx="222.87" cy="257.47" r="1.9" fill="none" stroke="#a8d6f0" stroke-width="0.55"/>
<circle cx="223.69" cy="261.15" r="1.9" fill="none" stroke="#a8d6f0" stroke-width="0.55"/>
<circle cx="224.51" cy="256.14" r="1.9" fill="none" stroke="#a8d6f0" stroke-width="0.55"/>
<circle cx="225.32" cy="259.14" r="1.9" fill="none" stroke="#a8d6f0" stroke-width="0.55"/>
<circle cx="226.14" cy="258.52" r="1.9" fill="none" stroke="#a8d6f0" stroke-width="0.55"/>
<circle cx="226.96" cy="257.71" r="1.9" fill="none" stroke="#a8d6f0" stroke-width="0.55"/>
<circle cx="227.77" cy="260.42" r="1.9" fill="none" stroke="#a8d6f0" stroke-width="0.55"/>
<circle cx="228.59" cy="261.14" r="1.9" fill="none" stroke="#a8d6f0" stroke-width="0.55"/>
<circle cx="229.41" cy="263.03" r="1.9" fill="none" stroke="#a8d6f0" stroke-width="0.55"/>
<circle cx="230.22" cy="256.28" r="1.9" fill="none" stroke="#a8d6f0" stroke-width="0.55"/>
<circle cx="231.04" cy="260.07" r="1.9" fill="none" stroke="#a8d6f0" stroke-width="0.55"/>
<circle cx="231.86" cy="259.73" r="1.9" fill="none" stroke="#a8d6f0" stroke-width="0.55"/>
<circle cx="232.68" cy="258.47" r="1.9" fill="none" stroke="#a8d6f0" stroke-width="0.55"/>
<circle cx="233.49" cy="254.23" r="1.9" fill="none" stroke="#a8d6f0" stroke-width="0.55"/>
<circle cx="234.31" cy="261.69" r="1.9" fill="none" stroke="#a8d6f0" stroke-width="0.55"/>
<circle cx="235.13" cy="257.55" r="1.9" fill="none" stroke="#a8d6f0" stroke-width="0.55"/>
<circle cx="235.94" cy="258.76" r="1.9" fill="none" stroke="#a8d6f0" stroke-width="0.55"/>
<circle cx="236.76" cy="256.78" r="1.9" fill="none" stroke="#a8d6f0" stroke-width="0.55"/>
<circle cx="237.58" cy="261.44" r="1.9" fill="none" stroke="#a8d6f0" stroke-width="0.55"/>
<circle cx="238.39" cy="258.51" r="1.9" fill="none" stroke="#a8d6f0" stroke-width="0.55"/>
<circle cx="239.21" cy="255.92" r="1.9" fill="none" stroke="#a8d6f0" stroke-width="0.55"/>
<circle cx="240.03" cy="254.41" r="1.9" fill="none" stroke="#a8d6f0" stroke-width="0.55"/>
<circle cx="240.85" cy="254.29" r="1.9" fill="none" stroke="#a8d6f0" stroke-width="0.55"/>
<circle cx="241.66" cy="259.27" r="1.9" fill="none" stroke="#a8d6f0" stroke-width="0.55"/>
<circle cx="242.48" cy="257.40" r="1.9" fill="none" stroke="#a8d6f0" stroke-width="0.55"/>
<circle cx="243.30" cy="257.74" r="1.9" fill="none" stroke="#a8d6f0" stroke-width="0.55"/>
<circle cx="244.11" cy="260.34" r="1.9" fill="none" stroke="#a8d6f0" stroke-width="0.55"/>
<circle cx="244.93" cy="260.50" r="1.9" fill="none" stroke="#a8d6f0" stroke-width="0.55"/>
<circle cx="245.75" cy="256.06" r="1.9" fill="none" stroke="#a8d6f0" stroke-width="0.55"/>
<circle cx="246.56" cy="257.16" r="1.9" fill="none" stroke="#a8d6f0" stroke-width="0.55"/>
<circle cx="247.38" cy="258.02" r="1.9" fill="none" stroke="#a8d6f0" stroke-width="0.55"/>
<circle cx="248.20" cy="255.32" r="1.9" fill="none" stroke="#a8d6f0" stroke-width="0.55"/>
<circle cx="249.02" cy="259.93" r="1.9" fill="none" stroke="#a8d6f0" stroke-width="0.55"/>
<circle cx="249.83" cy="256.92" r="1.9" fill="none" stroke="#a8d6f0" stroke-width="0.55"/>
<circle cx="250.65" cy="258.07" r="1.9" fill="none" stroke="#a8d6f0" stroke-width="0.55"/>
<circle cx="251.47" cy="258.33" r="1.9" fill="none" stroke="#a8d6f0" stroke-width="0.55"/>
<circle cx="252.28" cy="257.32" r="1.9" fill="none" stroke="#a8d6f0" stroke-width="0.55"/>
<circle cx="253.10" cy="258.08" r="1.9" fill="none" stroke="#a8d6f0" stroke-width="0.55"/>
<circle cx="253.92" cy="258.02" r="1.9" fill="none" stroke="#a8d6f0" stroke-width="0.55"/>
<circle cx="254.73" cy="258.15" r="1.9" fill="none" stroke="#a8d6f0" stroke-width="0.55"/>
<circle cx="255.55" cy="254.86" r="1.9" fill="none" stroke="#a8d6f0" stroke-width="0.55"/>
<circle cx="256.37" cy="259.57" r="1.9" fill="none" stroke="#a8d6f0" stroke-width="0.55"/>
<circle cx="257.19" cy="256.98" r="1.9" fill="none" stroke="#a8d6f0" stroke-width="0.55"/>
<circle cx="258.00" cy="257.92" r="1.9" fill="none" stroke="#a8d6f0" stroke-width="0.55"/>
<circle cx="258.82" cy="259.98" r="1.9" fill="none" stroke="#a8d6f0" stroke-width="0.55"/>
<circle cx="259.64" cy="257.74" r="1.9" fill="none" stroke="#a8d6f0" stroke-width="0.55"/>
<circle cx="260.45" cy="261.20" r="1.9" fill="none" stroke="#a8d6f0" stroke-width="0.55"/>
<circle cx="261.27" cy="257.16" r="1.9" fill="none" stroke="#a8d6f0" stroke-width="0.55"/>
<circle cx="262.09" cy="261.24" r="1.9" fill="none" stroke="#a8d6f0" stroke-width="0.55"/>
<circle cx="262.90" cy="260.65" r="1.9" fill="none" stroke="#a8d6f0" stroke-width="0.55"/>
<circle cx="263.72" cy="259.03" r="1.9" fill="none" stroke="#a8d6f0" stroke-width="0.55"/>
<circle cx="264.54" cy="258.02" r="1.9" fill="none" stroke="#a8d6f0" stroke-width="0.55"/>
<circle cx="265.36" cy="257.88" r="1.9" fill="none" stroke="#a8d6f0" stroke-width="0.55"/>
<circle cx="266.17" cy="257.91" r="1.9" fill="none" stroke="#a8d6f0" stroke-width="0.55"/>
<circle cx="266.99" cy="260.15" r="1.9" fill="none" stroke="#a8d6f0" stroke-width="0.55"/>
<circle cx="267.81" cy="261.65" r="1.9" fill="none" stroke="#a8d6f0" stroke-width="0.55"/>
<circle cx="268.62" cy="258.54" r="1.9" fill="none" stroke="#a8d6f0" stroke-width="0.55"/>
<circle cx="269.44" cy="258.99" r="1.9" fill="none" stroke="#a8d6f0" stroke-width="0.55"/>
<circle cx="270.26" cy="261.49" r="1.9" fill="none" stroke="#a8d6f0" stroke-width="0.55"/>
<circle cx="271.07" cy="257.48" r="1.9" fill="none" stroke="#a8d6f0" stroke-width="0.55"/>
<circle cx="271.89" cy="258.98" r="1.9" fill="none" stroke="#a8d6f0" stroke-width="0.55"/>
<circle cx="272.71" cy="261.24" r="1.9" fill="none" stroke="#a8d6f0" stroke-width="0.55"/>
<circle cx="273.53" cy="258.28" r="1.9" fill="none" stroke="#a8d6f0" stroke-width="0.55"/>
<circle cx="274.34" cy="261.78" r="1.9" fill="none" stroke="#a8d6f0" stroke-width="0.55"/>
<circle cx="275.16" cy="260.75" r="1.9" fill="none" stroke="#a8d6f0" stroke-width="0.55"/>
<circle cx="275.98" cy="258.02" r="1.9" fill="none" stroke="#a8d6f0" stroke-width="0.55"/>
<circle cx="276.79" cy="261.89" r="1.9" fill="none" stroke="#a8d6f0" stroke-width="0.55"/>
<circle cx="277.61" cy="258.52" r="1.9" fill="none" stroke="#a8d6f0" stroke-width="0.55"/>
<circle cx="278.43" cy="261.22" r="1.9" fill="none" stroke="#a8d6f0" stroke-width="0.55"/>
<circle cx="279.25" cy="256.84" r="1.9" fill="none" stroke="#a8d6f0" stroke-width="0.55"/>
<circle cx="280.06" cy="259.71" r="1.9" fill="none" stroke="#a8d6f0" stroke-width="0.55"/>
<circle cx="280.88" cy="257.74" r="1.9" fill="none" stroke="#a8d6f0" stroke-width="0.55"/>
<circle cx="281.70" cy="261.07" r="1.9" fill="none" stroke="#a8d6f0" stroke-width="0.55"/>
<circle cx="282.51" cy="258.61" r="1.9" fill="none" stroke="#a8d6f0" stroke-width="0.55"/>
<circle cx="283.33" cy="255.89" r="1.9" fill="none" stroke="#a8d6f0" stroke-width="0.55"/>
<circle cx="284.15" cy="256.81" r="1.9" fill="none" stroke="#a8d6f0" stroke-width="0.55"/>
<circle cx="284.96" cy="261.42" r="1.9" fill="none" stroke="#a8d6f0" stroke-width="0.55"/>
<circle cx="285.78" cy="255.73" r="1.9" fill="none" stroke="#a8d6f0" stroke-width="0.55"/>
<circle cx="286.60" cy="255.75" r="1.9" fill="none" stroke="#a8d6f0" stroke-width="0.55"/>
<circle cx="287.41" cy="258.30" r="1.9" fill="none" stroke="#a8d6f0" stroke-width="0.55"/>
<circle cx="288.23" cy="254.63" r="1.9" fill="none" stroke="#a8d6f0" stroke-width="0.55"/>
<circle cx="289.05" cy="259.67" r="1.9" fill="none" stroke="#a8d6f0" stroke-width="0.55"/>
<circle cx="289.87" cy="257.69" r="1.9" fill="none" stroke="#a8d6f0" stroke-width="0.55"/>
<circle cx="290.68" cy="255.27" r="1.9" fill="none" stroke="#a8d6f0" stroke-width="0.55"/>
<circle cx="291.50" cy="254.91" r="1.9" fill="none" stroke="#a8d6f0" stroke-width="0.55"/>
<circle cx="292.32" cy="255.02" r="1.9" fill="none" stroke="#a8d6f0" stroke-width="0.55"/>
<circle cx="293.13" cy="259.92" r="1.9" fill="none" stroke="#a8d6f0" stroke-width="0.55"/>
<circle cx="293.95" cy="261.39" r="1.9" fill="none" stroke="#a8d6f0" stroke-width="0.55"/>
<circle cx="294.77" cy="257.04" r="1.9" fill="none" stroke="#a8d6f0" stroke-width="0.55"/>
<circle cx="295.58" cy="260.85" r="1.9" fill="none" stroke="#a8d6f0" stroke-width="0.55"/>
<circle cx="296.40" cy="258.30" r="1.9" fill="none" stroke="#a8d6f0" stroke-width="0.55"/>
<circle cx="297.22" cy="260.76" r="1.9" fill="none" stroke="#a8d6f0" stroke-width="0.55"/>
<circle cx="298.04" cy="256.09" r="1.9" fill="none" stroke="#a8d6f0" stroke-width="0.55"/>
<circle cx="298.85" cy="256.74" r="1.9" fill="none" stroke="#a8d6f0" stroke-width="0.55"/>
<circle cx="52.94" cy="257.12" r="1.9" fill="none" stroke="#e6a8ea" stroke-width="0.55"/>
<circle cx="53.75" cy="255.95" r="1.9" fill="none" stroke="#e6a8ea" stroke-width="0.55"/>
<circle cx="54.57" cy="258.55" r="1.9" fill="none" stroke="#e6a8ea" stroke-width="0.55"/>
<circle cx="55.39" cy="256.32" r="1.9" fill="none" stroke="#e6a8ea" stroke-width="0.55"/>
<circle cx="56.20" cy="254.77" r="1.9" fill="none" stroke="#e6a8ea" stroke-width="0.55"/>
<circle cx="57.02" cy="256.26" r="1.9" fill="none" stroke="#e6a8ea" stroke-width="0.55"/>
<circle cx="57.84" cy="253.12" r="1.9" fill="none" stroke="#e6a8ea" stroke-width="0.55"/>
<circle cx="58.66" cy="260.00" r="1.9" fill="none" stroke="#e6a8ea" stroke-width="0.55"/>
<circle cx="59.47" cy="257.44" r="1.9" fill="none" stroke="#e6a8ea" stroke-width="0.55"/>
<circle cx="60.29" cy="259.68" r="1.9" fill="none" stroke="#e6a8ea" stroke-width="0.55"/>
<circle cx="61.11" cy="259.99" r="1.9" fill="none" stroke="#e6a8ea" stroke-width="0.55"/>
<circle cx="61.92" cy="258.43" r="1.9" fill="none" stroke="#e6a8ea" stroke-width="0.55"/>
<circle cx="62.74" cy="257.42" r="1.9" fill="none" stroke="#e6a8ea" stroke-width="0.55"/>
<circle cx="63.56" cy="256.99" r="1.9" fill="none" stroke="#e6a8ea" stroke-width="0.55"/>
<circle cx="64.37" cy="256.87" r="1.9" fill="none" stroke="#e6a8ea" stroke-width="0.55"/>
<circle cx="65.19" cy="252.20" r="1.9" fill="none" stroke="#e6a8ea" stroke-width="0.55"/>
<circle cx="66.01" cy="256.15" r="1.9" fill="none" stroke="#e6a8ea" stroke-width="0.55"/>
<circle cx="66.82" cy="263.12" r="1.9" fill="none" stroke="#e6a8ea" stroke-width="0.55"/>
<circle cx="67.64" cy="258.26" r="1.9" fill="none" stroke="#e6a8ea" stroke-width="0.55"/>
<circle cx="68.46" cy="260.70" r="1.9" fill="none" stroke="#e6a8ea" stroke-width="0.55"/>
<circle cx="69.28" cy="260.54" r="1.9" fill="none" stroke="#e6a8ea" stroke-width="0.55"/>
<circle cx="70.09" cy="255.62" r="1.9" fill="none" stroke="#e6a8ea" stroke-width="0.55"/>
<circle cx="70.91" cy="260.01" r="1.9" fill="none" stroke="#e6a8ea" stroke-width="0.55"/>
<circle cx="71.73" cy="264.96" r="1.9" fill="none" stroke="#e6a8ea" stroke-width="0.55"/>
<circle cx="72.54" cy="258.81" r="1.9" fill="none" stroke="#e6a8ea" stroke-width="0.55"/>
<circle cx="73.36" cy="260.61" r="1.9" fill="none" stroke="#e6a8ea" stroke-width="0.55"/>
<circle cx="74.18" cy="263.20" r="1.9" fill="none" stroke="#e6a8ea" stroke-width="0.55"/>
<circle cx="75.00" cy="262.62" r="1.9" fill="none" stroke="#e6a8ea" stroke-width="0.55"/>
<circle cx="75.81" cy="261.92" r="1.9" fill="none" stroke="#e6a8ea" stroke-width="0.55"/>
<circle cx="76.63" cy="260.35" r="1.9" fill="none" stroke="#e6a8ea" stroke-width="0.55"/>
<circle cx="77.45" cy="261.58" r="1.9" fill="none" stroke="#e6a8ea" stroke-width="0.55"/>
<circle cx="78.26" cy="260.29" r="1.9" fill="none" stroke="#e6a8ea" stroke-width="0.55"/>
<circle cx="79.08" cy="255.47" r="1.9" fill="none" stroke="#e6a8ea" stroke-width="0.55"/>
<circle cx="79.90" cy="262.89" r="1.9" fill="none" stroke="#e6a8ea" stroke-width="0.55"/>
<circle cx="80.71" cy="262.98" r="1.9" fill="none" stroke="#e6a8ea" stroke-width="0.55"/>
<circle cx="81.53" cy="261.48" r="1.9" fill="none" stroke="#e6a8ea" stroke-width="0.55"/>
<circle cx="82.35" cy="257.80" r="1.9" fill="none" stroke="#e6a8ea" stroke-width="0.55"/>
<circle cx="83.16" cy="262.85" r="1.9" fill="none" stroke="#e6a8ea" stroke-width="0.55"/>
<circle cx="83.98" cy="256.92" r="1.9" fill="none" stroke="#e6a8ea" stroke-width="0.55"/>
<circle cx="84.80" cy="264.57" r="1.9" fill="none" stroke="#e6a8ea" stroke-width="0.55"/>
<circle cx="85.62" cy="263.81" r="1.9" fill="none" stroke="#e6a8ea" stroke-width="0.55"/>
<circle cx="86.43" cy="261.09" r="1.9" fill="none" stroke="#e6a8ea" stroke-width="0.55"/>
<circle cx="87.25" cy="263.33" r="1.9" fill="none" stroke="#e6a8ea" stroke-width="0.55"/>
<circle cx="88.07" cy="262.62" r="1.9" fill="none" stroke="#e6a8ea" stroke-width="0.55"/>
<circle cx="88.88" cy="259.61" r="1.9" fill="none" stroke="#e6a8ea" stroke-width="0.55"/>
<circle cx="89.70" cy="258.81" r="1.9" fill="none" stroke="#e6a8ea" stroke-width="0.55"/>
<circle cx="90.52" cy="260.45" r="1.9" fill="none" stroke="#e6a8ea" stroke-width="0.55"/>
<circle cx="91.33" cy="261.46" r="1.9" fill="none" stroke="#e6a8ea" stroke-width="0.55"/>
<circle cx="92.15" cy="256.88" r="1.9" fill="none" stroke="#e6a8ea" stroke-width="0.55"/>
<circle cx="92.97" cy="259.42" r="1.9" fill="none" stroke="#e6a8ea" stroke-width="0.55"/>
<circle cx="93.79" cy="261.10" r="1.9" fill="none" stroke="#e6a8ea" stroke-width="0.55"/>
<circle cx="94.60" cy="256.97" r="1.9" fill="none" stroke="#e6a8ea" stroke-width="0.55"/>
<circle cx="95.42" cy="262.74" r="1.9" fill="none" stroke="#e6a8ea" stroke-width="0.55"/>
<circle cx="96.24" cy="259.66" r="1.9" fill="none" stroke="#e6a8ea" stroke-width="0.55"/>
<circle cx="97.05" cy="258.16" r="1.9" fill="none" stroke="#e6a8ea" stroke-width="0.55"/>
<circle cx="97.87" cy="259.90" r="1.9" fill="none" stroke="#e6a8ea" stroke-width="0.55"/>
<circle cx="98.69" cy="261.34" r="1.9" fill="none" stroke="#e6a8ea" stroke-width="0.55"/>
<circle cx="99.50" cy="258.63" r="1.9" fill="none" stroke="#e6a8ea" stroke-width="0.55"/>
<circle cx="100.32" cy="260.97" r="1.9" fill="none" stroke="#e6a8ea" stroke-width="0.55"/>
<circle cx="101.14" cy="260.98" r="1.9" fill="none" stroke="#e6a8ea" stroke-width="0.55"/>
<circle cx="101.96" cy="262.03" r="1.9" fill="none" stroke="#e6a8ea" stroke-width="0.55"/>
<circle cx="102.77" cy="255.41" r="1.9" fill="none" stroke="#e6a8ea" stroke-width="0.55"/>
<circle cx="103.59" cy="260.43" r="1.9" fill="none" stroke="#e6a8ea" stroke-width="0.55"/>
<circle cx="104.41" cy="255.55" r="1.9" fill="none" stroke="#e6a8ea" stroke-width="0.55"/>
<circle cx="105.22" cy="257.56" r="1.9" fill="none" stroke="#e6a8ea" stroke-width="0.55"/>
<circle cx="106.04" cy="259.21" r="1.9" fill="none" stroke="#e6a8ea" stroke-width="0.55"/>
<circle cx="106.86" cy="256.49" r="1.9" fill="none" stroke="#e6a8ea" stroke-width="0.55"/>
<circle cx="107.67" cy="257.46" r="1.9" fill="none" stroke="#e6a8ea" stroke-width="0.55"/>
<circle cx="108.49" cy="257.73" r="1.9" fill="none" stroke="#e6a8ea" stroke-width="0.55"/>
<circle cx="109.31" cy="261.81" r="1.9" fill="none" stroke="#e6a8ea" stroke-width="0.55"/>
<circle cx="110.13" cy="257.67" r="1.9" fill="none" stroke="#e6a8ea" stroke-width="0.55"/>
<circle cx="110.94" cy="255.28" r="1.9" fill="none" stroke="#e6a8ea" stroke-width="0.55"/>
<circle cx="111.76" cy="256.31" r="1.9" fill="none" stroke="#e6a8ea" stroke-width="0.55"/>
<circle cx="112.58" cy="254.81" r="1.9" fill="none" stroke="#e6a8ea" stroke-width="0.55"/>
<circle cx="113.39" cy="253.36" r="1.9" fill="none" stroke="#e6a8ea" stroke-width="0.55"/>
<circle cx="114.21" cy="256.29" r="1.9" fill="none" stroke="#e6a8ea" stroke-width="0.55"/>
<circle cx="115.03" cy="251.88" r="1.9" fill="none" stroke="#e6a8ea" stroke-width="0.55"/>
<circle cx="115.84" cy="261.53" r="1.9" fill="none" stroke="#e6a8ea" stroke-width="0.55"/>
<circle cx="116.66" cy="257.96" r="1.9" fill="none" stroke="#e6a8ea" stroke-width="0.55"/>
<circle cx="117.48" cy="264.28" r="1.9" fill="none" stroke="#e6a8ea" stroke-width="0.55"/>
<circle cx="118.30" cy="254.96" r="1.9" fill="none" stroke="#e6a8ea" stroke-width="0.55"/>
<circle cx="119.11" cy="256.97" r="1.9" fill="none" stroke="#e6a8ea" stroke-width="0.55"/>
<circle cx="119.93" cy="252.54" r="1.9" fill="none" stroke="#e6a8ea" stroke-width="0.55"/>
<circle cx="120.75" cy="258.27" r="1.9" fill="none" stroke="#e6a8ea" stroke-width="0.55"/>
<circle cx="121.56" cy="262.91" r="1.9" fill="none" stroke="#e6a8ea" stroke-width="0.55"/>
<circle cx="122.38" cy="253.76" r="1.9" fill="none" stroke="#e6a8ea" stroke-width="0.55"/>
<circle cx="123.20" cy="261.09" r="1.9" fill="none" stroke="#e6a8ea" stroke-width="0.55"/>
<circle cx="124.01" cy="260.95" r="1.9" fill="none" stroke="#e6a8ea" stroke-width="0.55"/>
<circle cx="124.83" cy="257.98" r="1.9" fill="none" stroke="#e6a8ea" stroke-width="0.55"/>
<circle cx="125.65" cy="255.82" r="1.9" fill="none" stroke="#e6a8ea" stroke-width="0.55"/>
<circle cx="126.47" cy="259.07" r="1.9" fill="none" stroke="#e6a8ea" stroke-width="0.55"/>
<circle cx="127.28" cy="257.23" r="1.9" fill="none" stroke="#e6a8ea" stroke-width="0.55"/>
<circle cx="128.10" cy="263.08" r="1.9" fill="none" stroke="#e6a8ea" stroke-width="0.55"/>
<circle cx="128.92" cy="253.15" r="1.9" fill="none" stroke="#e6a8ea" stroke-width="0.55"/>
<circle cx="129.73" cy="258.26" r="1.9" fill="none" stroke="#e6a8ea" stroke-width="0.55"/>
<circle cx="130.55" cy="257.86" r="1.9" fill="none" stroke="#e6a8ea" stroke-width="0.55"/>
<circle cx="131.37" cy="256.69" r="1.9" fill="none" stroke="#e6a8ea" stroke-width="0.55"/>
<circle cx="132.19" cy="257.98" r="1.9" fill="none" stroke="#e6a8ea" stroke-width="0.55"/>
<circle cx="133.00" cy="258.04" r="1.9" fill="none" stroke="#e6a8ea" stroke-width="0.55"/>
<circle cx="133.82" cy="261.31" r="1.9" fill="none" stroke="#e6a8ea" stroke-width="0.55"/>
<circle cx="134.64" cy="259.19" r="1.9" fill="none" stroke="#e6a8ea" stroke-width="0.55"/>
<circle cx="135.45" cy="257.80" r="1.9" fill="none" stroke="#e6a8ea" stroke-width="0.55"/>
<circle cx="136.27" cy="256.25" r="1.9" fill="none" stroke="#e6a8ea" stroke-width="0.55"/>
<circle cx="137.09" cy="259.63" r="1.9" fill="none" stroke="#e6a8ea" stroke-width="0.55"/>
<circle cx="137.90" cy="259.18" r="1.9" fill="none" stroke="#e6a8ea" stroke-width="0.55"/>
<circle cx="138.72" cy="258.64" r="1.9" fill="none" stroke="#e6a8ea" stroke-width="0.55"/>
<circle cx="139.54" cy="258.12" r="1.9" fill="none" stroke="#e6a8ea" stroke-width="0.55"/>
<circle cx="140.35" cy="259.27" r="1.9" fill="none" stroke="#e6a8ea" stroke-width="0.55"/>
<circle cx="141.17" cy="260.68" r="1.9" fill="none" stroke="#e6a8ea" stroke-width="0.55"/>
<circle cx="141.99" cy="261.52" r="1.9" fill="none" stroke="#e6a8ea" stroke-width="0.55"/>
<circle cx="142.81" cy="257.09" r="1.9" fill="none" stroke="#e6a8ea" stroke-width="0.55"/>
<circle cx="143.62" cy="259.50" r="1.9" fill="none" stroke="#e6a8ea" stroke-width="0.55"/>
<circle cx="144.44" cy="260.37" r="1.9" fill="none" stroke="#e6a8ea" stroke-width="0.55"/>
<circle cx="145.26" cy="250.85" r="1.9" fill="none" stroke="#e6a8ea" stroke-width="0.55"/>
<circle cx="146.07" cy="258.15" r="1.9" fill="none" stroke="#e6a8ea" stroke-width="0.55"/>
<circle cx="146.89" cy="258.31" r="1.9" fill="none" stroke="#e6a8ea" stroke-width="0.55"/>
<circle cx="147.71" cy="260.33" r="1.9" fill="none" stroke="#e6a8ea" stroke-width="0.55"/>
<circle cx="148.53" cy="263.63" r="1.9" fill="none" stroke="#e6a8ea" stroke-width="0.55"/>
<circle cx="149.34" cy="257.70" r="1.9" fill="none" stroke="#e6a8ea" stroke-width="0.55"/>
<circle cx="150.16" cy="261.14" r="1.9" fill="none" stroke="#e6a8ea" stroke-width="0.55"/>
<circle cx="150.98" cy="260.77" r="1.9" fill="none" stroke="#e6a8ea" stroke-width="0.55"/>
<circle cx="151.79" cy="258.08" r="1.9" fill="none" stroke="#e6a8ea" stroke-width="0.55"/>
<circle cx="152.61" cy="258.11" r="1.9" fill="none" stroke="#e6a8ea" stroke-width="0.55"/>
<circle cx="153.43" cy="260.27" r="1.9" fill="none" stroke="#e6a8ea" stroke-width="0.55"/>
<circle cx="154.24" cy="260.87" r="1.9" fill="none" stroke="#e6a8ea" stroke-width="0.55"/>
<circle cx="155.06" cy="255.06" r="1.9" fill="none" stroke="#e6a8ea" stroke-width="0.55"/>
<circle cx="155.88" cy="259.26" r="1.9" fill="none" stroke="#e6a8ea" stroke-width="0.55"/>
<circle cx="156.69" cy="263.66" r="1.9" fill="none" stroke="#e6a8ea" stroke-width="0.55"/>
<circle cx="157.51" cy="258.65" r="1.9" fill="none" stroke="#e6a8ea" stroke-width="0.55"/>
<circle cx="158.33" cy="260.25" r="1.9" fill="none" stroke="#e6a8ea" stroke-width="0.55"/>
<circle cx="159.15" cy="260.51" r="1.9" fill="none" stroke="#e6a8ea" stroke-width="0.55"/>
<circle cx="159.96" cy="258.61" r="1.9" fill="none" stroke="#e6a8ea" stroke-width="0.55"/>
<circle cx="160.78" cy="259.76" r="1.9" fill="none" stroke="#e6a8ea" stroke-width="0.55"/>
<circle cx="161.60" cy="254.73" r="1.9" fill="none" stroke="#e6a8ea" stroke-width="0.55"/>
<circle cx="162.41" cy="259.63" r="1.9" fill="none" stroke="#e6a8ea" stroke-width="0.55"/>
<circle cx="163.23" cy="259.38" r="1.9" fill="none" stroke="#e6a8ea" stroke-width="0.55"/>
<circle cx="164.05" cy="256.73" r="1.9" fill="none" stroke="#e6a8ea" stroke-width="0.55"/>
<circle cx="164.86" cy="261.40" r="1.9" fill="none" stroke="#e6a8ea" stroke-width="0.55"/>
<circle cx="165.68" cy="256.88" r="1.9" fill="none" stroke="#e6a8ea" stroke-width="0.55"/>
<circle cx="166.50" cy="259.73" r="1.9" fill="none" stroke="#e6a8ea" stroke-width="0.55"/>
<circle cx="167.32" cy="256.13" r="1.9" fill="none" stroke="#e6a8ea" stroke-width="0.55"/>
<circle cx="168.13" cy="261.64" r="1.9" fill="none" stroke="#e6a8ea" stroke-width="0.55"/>
<circle cx="168.95" cy="257.97" r="1.9" fill="none" stroke="#e6a8ea" stroke-width="0.55"/>
<circle cx="169.77" cy="263.44" r="1.9" fill="none" stroke="#e6a8ea" stroke-width="0.55"/>
<circle cx="170.58" cy="260.08" r="1.9" fill="none" stroke="#e6a8ea" stroke-width="0.55"/>
<circle cx="171.40" cy="258.67" r="1.9" fill="none" stroke="#e6a8ea" stroke-width="0.55"/>
<circle cx="172.22" cy="257.20" r="1.9" fill="none" stroke="#e6a8ea" stroke-width="0.55"/>
<circle cx="173.03" cy="252.95" r="1.9" fill="none" stroke="#e6a8ea" stroke-width="0.55"/>
<circle cx="173.85" cy="253.20" r="1.9" fill="none" stroke="#e6a8ea" stroke-width="0.55"/>
<circle cx="174.67" cy="261.91" r="1.9" fill="none" stroke="#e6a8ea" stroke-width="0.55"/>
<circle cx="175.49" cy="260.17" r="1.9" fill="none" stroke="#e6a8ea" stroke-width="0.55"/>
<circle cx="176.30" cy="254.46" r="1.9" fill="none" stroke="#e6a8ea" stroke-width="0.55"/>
<circle cx="177.12" cy="256.61" r="1.9" fill="none" stroke="#e6a8ea" stroke-width="0.55"/>
<circle cx="177.94" cy="261.53" r="1.9" fill="none" stroke="#e6a8ea" stroke-width="0.55"/>
<circle cx="178.75" cy="256.29" r="1.9" fill="none" stroke="#e6a8ea" stroke-width="0.55"/>
<circle cx="179.57" cy="260.69" r="1.9" fill="none" stroke="#e6a8ea" stroke-width="0.55"/>
<circle cx="180.39" cy="259.87" r="1.9" fill="none" stroke="#e6a8ea" stroke-width="0.55"/>
<circle cx="181.20" cy="260.91" r="1.9" fill="none" stroke="#e6a8ea" stroke-width="0.55"/>
<circle cx="182.02" cy="258.08" r="1.9" fill="none" stroke="#e6a8ea" stroke-width="0.55"/>
<circle cx="182.84" cy="251.06" r="1.9" fill="none" stroke="#e6a8ea" stroke-width="0.55"/>
<circle cx="183.66" cy="256.22" r="1.9" fill="none" stroke="#e6a8ea" stroke-width="0.55"/>
<circle cx="184.47" cy="257.55" r="1.9" fill="none" stroke="#e6a8ea" stroke-width="0.55"/>
<circle cx="185.29" cy="250.25" r="1.9" fill="none" stroke="#e6a8ea" stroke-width="0.55"/>
<circle cx="186.11" cy="258.52" r="1.9" fill="none" stroke="#e6a8ea" stroke-width="0.55"/>
<circle cx="186.92" cy="257.65" r="1.9" fill="none" stroke="#e6a8ea" stroke-width="0.55"/>
<circle cx="187.74" cy="257.99" r="1.9" fill="none" stroke="#e6a8ea" stroke-width="0.55"/>
<circle cx="188.56" cy="256.12" r="1.9" fill="none" stroke="#e6a8ea" stroke-width="0.55"/>
<circle cx="189.38" cy="258.19" r="1.9" fill="none" stroke="#e6a8ea" stroke-width="0.55"/>
<circle cx="190.19" cy="253.34" r="1.9" fill="none" stroke="#e6a8ea" stroke-width="0.55"/>
<circle cx="191.01" cy="258.25" r="1.9" fill="none" stroke="#e6a8ea" stroke-width="0.55"/>
<circle cx="191.83" cy="255.95" r="1.9" fill="none" stroke="#e6a8ea" stroke-width="0.55"/>
<circle cx="192.64" cy="256.97" r="1.9" fill="none" stroke="#e6a8ea" stroke-width="0.55"/>
<circle cx="193.46" cy="260.06" r="1.9" fill="none" stroke="#e6a8ea" stroke-width="0.55"/>
<circle cx="194.28" cy="260.49" r="1.9" fill="none" stroke="#e6a8ea" stroke-width="0.55"/>
<circle cx="195.09" cy="258.02" r="1.9" fill="none" stroke="#e6a8ea" stroke-width="0.55"/>
<circle cx="195.91" cy="264.36" r="1.9" fill="none" stroke="#e6a8ea" stroke-width="0.55"/>
<circle cx="196.73" cy="258.07" r="1.9" fill="none" stroke="#e6a8ea" stroke-width="0.55"/>
<circle cx="197.54" cy="258.02" r="1.9" fill="none" stroke="#e6a8ea" stroke-width="0.55"/>
<circle cx="198.36" cy="257.97" r="1.9" fill="none" stroke="#e6a8ea" stroke-width="0.55"/>
<circle cx="199.18" cy="258.71" r="1.9" fill="none" stroke="#e6a8ea" stroke-width="0.55"/>
<circle cx="200.00" cy="257.65" r="1.9" fill="none" stroke="#e6a8ea" stroke-width="0.55"/>
<circle cx="200.81" cy="259.74" r="1.9" fill="none" stroke="#e6a8ea" stroke-width="0.55"/>
<circle cx="201.63" cy="257.13" r="1.9" fill="none" stroke="#e6a8ea" stroke-width="0.55"/>
<circle cx="202.45" cy="263.58" r="1.9" fill="none" stroke="#e6a8ea" stroke-width="0.55"/>
<circle cx="203.26" cy="256.67" r="1.9" fill="none" stroke="#e6a8ea" stroke-width="0.55"/>
<circle cx="204.08" cy="261.78" r="1.9" fill="none" stroke="#e6a8ea" stroke-width="0.55"/>
<circle cx="204.90" cy="258.13" r="1.9" fill="none" stroke="#e6a8ea" stroke-width="0.55"/>
<circle cx="205.72" cy="260.91" r="1.9" fill="none" stroke="#e6a8ea" stroke-width="0.55"/>
<circle cx="206.53" cy="260.94" r="1.9" fill="none" stroke="#e6a8ea" stroke-width="0.55"/>
<circle cx="207.35" cy="262.08" r="1.9" fill="none" stroke="#e6a8ea" stroke-width="0.55"/>
<circle cx="208.17" cy="256.29" r="1.9" fill="none" stroke="#e6a8ea" stroke-width="0.55"/>
<circle cx="208.98" cy="263.15" r="1.9" fill="none" stroke="#e6a8ea" stroke-width="0.55"/>
<circle cx="209.80" cy="263.59" r="1.9" fill="none" stroke="#e6a8ea" stroke-width="0.55"/>
<circle cx="210.62" cy="259.75" r="1.9" fill="none" stroke="#e6a8ea" stroke-width="0.55"/>
<circle cx="211.43" cy="259.73" r="1.9" fill="none" stroke="#e6a8ea" stroke-width="0.55"/>
<circle cx="212.25" cy="260.43" r="1.9" fill="none" stroke="#e6a8ea" stroke-width="0.55"/>
<circle cx="213.07" cy="263.30" r="1.9" fill="none" stroke="#e6a8ea" stroke-width="0.55"/>
<circle cx="213.88" cy="262.51" r="1.9" fill="none" stroke="#e6a8ea" stroke-width="0.55"/>
<circle cx="214.70" cy="258.26" r="1.9" fill="none" stroke="#e6a8ea" stroke-width="0.55"/>
<circle cx="215.52" cy="263.69" r="1.9" fill="none" stroke="#e6a8ea" stroke-width="0.55"/>
<circle cx="216.34" cy="259.17" r="1.9" fill="none" stroke="#e6a8ea" stroke-width="0.55"/>
<circle cx="217.15" cy="258.88" r="1.9" fill="none" stroke="#e6a8ea" stroke-width="0.55"/>
<circle cx="217.97" cy="260.55" r="1.9" fill="none" stroke="#e6a8ea" stroke-width="0.55"/>
<circle cx="218.79" cy="264.30" r="1.9" fill="none" stroke="#e6a8ea" stroke-width="0.55"/>
<circle cx="219.60" cy="255.65" r="1.9" fill="none" stroke="#e6a8ea" stroke-width="0.55"/>
<circle cx="220.42" cy="260.58" r="1.9" fill="none" stroke="#e6a8ea" stroke-width="0.55"/>
<circle cx="221.24" cy="260.36" r="1.9" fill="none" stroke="#e6a8ea" stroke-width="0.55"/>
<circle cx="222.06" cy="261.92" r="1.9" fill="none" stroke="#e6a8ea" stroke-width="0.55"/>
<circle cx="222.87" cy="263.46" r="1.9" fill="none" stroke="#e6a8ea" stroke-width="0.55"/>
<circle cx="223.69" cy="261.52" r="1.9" fill="none" stroke="#e6a8ea" stroke-width="0.55"/>
<circle cx="224.51" cy="260.16" r="1.9" fill="none" stroke="#e6a8ea" stroke-width="0.55"/>
<circle cx="225.32" cy="262.99" r="1.9" fill="none" stroke="#e6a8ea" stroke-width="0.55"/>
<circle cx="226.14" cy="260.24" r="1.9" fill="none" stroke="#e6a8ea" stroke-width="0.55"/>
<circle cx="226.96" cy="257.29" r="1.9" fill="none" stroke="#e6a8ea" stroke-width="0.55"/>
<circle cx="227.77" cy="259.17" r="1.9" fill="none" stroke="#e6a8ea" stroke-width="0.55"/>
<circle cx="228.59" cy="260.54" r="1.9" fill="none" stroke="#e6a8ea" stroke-width="0.55"/>
<circle cx="229.41" cy="257.25" r="1.9" fill="none" stroke="#e6a8ea" stroke-width="0.55"/>
<circle cx="230.22" cy="257.49" r="1.9" fill="none" stroke="#e6a8ea" stroke-width="0.55"/>
<circle cx="231.04" cy="257.41" r="1.9" fill="none" stroke="#e6a8ea" stroke-width="0.55"/>
<circle cx="231.86" cy="261.99" r="1.9" fill="none" stroke="#e6a8ea" stroke-width="0.55"/>
<circle cx="232.68" cy="264.68" r="1.9" fill="none" stroke="#e6a8ea" stroke-width="0.55"/>
<circle cx="233.49" cy="257.30" r="1.9" fill="none" stroke="#e6a8ea" stroke-width="0.55"/>
<circle cx="234.31" cy="259.21" r="1.9" fill="none" stroke="#e6a8ea" stroke-width="0.55"/>
<circle cx="235.13" cy="260.26" r="1.9" fill="none" stroke="#e6a8ea" stroke-width="0.55"/>
<circle cx="235.94" cy="257.74" r="1.9" fill="none" stroke="#e6a8ea" stroke-width="0.55"/>
<circle cx="236.76" cy="260.20" r="1.9" fill="none" stroke="#e6a8ea" stroke-width="0.55"/>
<circle cx="237.58" cy="260.52" r="1.9" fill="none" stroke="#e6a8ea" stroke-width="0.55"/>
<circle cx="238.39" cy="253.66" r="1.9" fill="none" stroke="#e6a8ea" stroke-width="0.55"/>
<circle cx="239.21" cy="262.93" r="1.9" fill="none" stroke="#e6a8ea" stroke-width="0.55"/>
<circle cx="240.03" cy="256.07" r="1.9" fill="none" stroke="#e6a8ea" stroke-width="0.55"/>
<circle cx="240.85" cy="255.46" r="1.9" fill="none" stroke="#e6a8ea" stroke-width="0.55"/>
<circle cx="241.66" cy="253.22" r="1.9" fill="none" stroke="#e6a8ea" stroke-width="0.55"/>
<circle cx="242.48" cy="257.32" r="1.9" fill="none" stroke="#e6a8ea" stroke-width="0.55"/>
<circle cx="243.30" cy="256.49" r="1.9" fill="none" stroke="#e6a8ea" stroke-width="0.55"/>
<circle cx="244.11" cy="260.33" r="1.9" fill="none" stroke="#e6a8ea" stroke-width="0.55"/>
<circle cx="244.93" cy="257.61" r="1.9" fill="none" stroke="#e6a8ea" stroke-width="0.55"/>
<circle cx="245.75" cy="263.43" r="1.9" fill="none" stroke="#e6a8ea" stroke-width="0.55"/>
<circle cx="246.56" cy="259.10" r="1.9" fill="none" stroke="#e6a8ea" stroke-width="0.55"/>
<circle cx="247.38" cy="257.53" r="1.9" fill="none" stroke="#e6a8ea" stroke-width="0.55"/>
<circle cx="248.20" cy="257.68" r="1.9" fill="none" stroke="#e6a8ea" stroke-width="0.55"/>
<circle cx="249.02" cy="258.66" r="1.9" fill="none" stroke="#e6a8ea" stroke-width="0.55"/>
<circle cx="249.83" cy="254.07" r="1.9" fill="none" stroke="#e6a8ea" stroke-width="0.55"/>
<circle cx="250.65" cy="261.66" r="1.9" fill="none" stroke="#e6a8ea" stroke-width="0.55"/>
<circle cx="251.47" cy="256.87" r="1.9" fill="none" stroke="#e6a8ea" stroke-width="0.55"/>
<circle cx="252.28" cy="258.33" r="1.9" fill="none" stroke="#e6a8ea" stroke-width="0.55"/>
<circle cx="253.10" cy="257.13" r="1.9" fill="none" stroke="#e6a8ea" stroke-width="0.55"/>
<circle cx="253.92" cy="257.09" r="1.9" fill="none" stroke="#e6a8ea" stroke-width="0.55"/>
<circle cx="254.73" cy="251.88" r="1.9" fill="none" stroke="#e6a8ea" stroke-width="0.55"/>
<circle cx="255.55" cy="260.25" r="1.9" fill="none" stroke="#e6a8ea" stroke-width="0.55"/>
<circle cx="256.37" cy="253.63" r="1.9" fill="none" stroke="#e6a8ea" stroke-width="0.55"/>
<circle cx="257.19" cy="253.51" r="1.9" fill="none" stroke="#e6a8ea" stroke-width="0.55"/>
<circle cx="258.00" cy="257.81" r="1.9" fill="none" stroke="#e6a8ea" stroke-width="0.55"/>
<circle cx="258.82" cy="259.23" r="1.9" fill="none" stroke="#e6a8ea" stroke-width="0.55"/>
<circle cx="259.64" cy="261.04" r="1.9" fill="none" stroke="#e6a8ea" stroke-width="0.55"/>
<circle cx="260.45" cy="260.09" r="1.9" fill="none" stroke="#e6a8ea" stroke-width="0.55"/>
<circle cx="261.27" cy="252.15" r="1.9" fill="none" stroke="#e6a8ea" stroke-width="0.55"/>
<circle cx="262.09" cy="263.91" r="1.9" fill="none" stroke="#e6a8ea" stroke-width="0.55"/>
<circle cx="262.90" cy="256.77" r="1.9" fill="none" stroke="#e6a8ea" stroke-width="0.55"/>
<circle cx="263.72" cy="260.07" r="1.9" fill="none" stroke="#e6a8ea" stroke-width="0.55"/>
<circle cx="264.54" cy="253.02" r="1.9" fill="none" stroke="#e6a8ea" stroke-width="0.55"/>
<circle cx="265.36" cy="257.53" r="1.9" fill="none" stroke="#e6a8ea" stroke-width="0.55"/>
<circle cx="266.17" cy="262.27" r="1.9" fill="none" stroke="#e6a8ea" stroke-width="0.55"/>
<circle cx="266.99" cy="260.11" r="1.9" fill="none" stroke="#e6a8ea" stroke-width="0.55"/>
<circle cx="267.81" cy="258.27" r="1.9" fill="none" stroke="#e6a8ea" stroke-width="0.55"/>
<circle cx="268.62" cy="258.61" r="1.9" fill="none" stroke="#e6a8ea" stroke-width="0.55"/>
<circle cx="269.44" cy="261.72" r="1.9" fill="none" stroke="#e6a8ea" stroke-width="0.55"/>
<circle cx="270.26" cy="260.03" r="1.9" fill="none" stroke="#e6a8ea" stroke-width="0.55"/>
<circle cx="271.07" cy="260.65" r="1.9" fill="none" stroke="#e6a8ea" stroke-width="0.55"/>
<circle cx="271.89" cy="258.18" r="1.9" fill="none" stroke="#e6a8ea" stroke-width="0.55"/>
<circle cx="272.71" cy="258.90" r="1.9" fill="none" stroke="#e6a8ea" stroke-width="0.55"/>
<circle cx="273.53" cy="259.17" r="1.9" fill="none" stroke="#e6a8ea" stroke-width="0.55"/>
<circle cx="274.34" cy="261.55" r="1.9" fill="none" stroke="#e6a8ea" stroke-width="0.55"/>
<circle cx="275.16" cy="257.86" r="1.9" fill="none" stroke="#e6a8ea" stroke-width="0.55"/>
<circle cx="275.98" cy="261.72" r="1.9" fill="none" stroke="#e6a8ea" stroke-width="0.55"/>
<circle cx="276.79" cy="262.58" r="1.9" fill="none" stroke="#e6a8ea" stroke-width="0.55"/>
<circle cx="277.61" cy="261.58" r="1.9" fill="none" stroke="#e6a8ea" stroke-width="0.55"/>
<circle cx="278.43" cy="261.38" r="1.9" fill="none" stroke="#e6a8ea" stroke-width="0.55"/>
<circle cx="279.25" cy="261.42" r="1.9" fill="none" stroke="#e6a8ea" stroke-width="0.55"/>
<circle cx="280.06" cy="266.00" r="1.9" fill="none" stroke="#e6a8ea" stroke-width="0.55"/>
<circle cx="280.88" cy="256.98" r="1.9" fill="none" stroke="#e6a8ea" stroke-width="0.55"/>
<circle cx="281.70" cy="259.06" r="1.9" fill="none" stroke="#e6a8ea" stroke-width="0.55"/>
<circle cx="282.51" cy="257.18" r="1.9" fill="none" stroke="#e6a8ea" stroke-width="0.55"/>
<circle cx="283.33" cy="261.97" r="1.9" fill="none" stroke="#e6a8ea" stroke-width="0.55"/>
<circle cx="284.15" cy="258.83" r="1.9" fill="none" stroke="#e6a8ea" stroke-width="0.55"/>
<circle cx="284.96" cy="260.38" r="1.9" fill="none" stroke="#e6a8ea" stroke-width="0.55"/>
<circle cx="285.78" cy="260.86" r="1.9" fill="none" stroke="#e6a8ea" stroke-width="0.55"/>
<circle cx="286.60" cy="255.97" r="1.9" fill="none" stroke="#e6a8ea" stroke-width="0.55"/>
<circle cx="287.41" cy="262.56" r="1.9" fill="none" stroke="#e6a8ea" stroke-width="0.55"/>
<circle cx="288.23" cy="259.31" r="1.9" fill="none" stroke="#e6a8ea" stroke-width="0.55"/>
<circle cx="289.05" cy="265.66" r="1.9" fill="none" stroke="#e6a8ea" stroke-width="0.55"/>
<circle cx="289.87" cy="259.26" r="1.9" fill="none" stroke="#e6a8ea" stroke-width="0.55"/>
<circle cx="290.68" cy="261.24" r="1.9" fill="none" stroke="#e6a8ea" stroke-width="0.55"/>
<circle cx="291.50" cy="263.51" r="1.9" fill="none" stroke="#e6a8ea" stroke-width="0.55"/>
<circle cx="292.32" cy="262.27" r="1.9" fill="none" stroke="#e6a8ea" stroke-width="0.55"/>
<circle cx="293.13" cy="266.41" r="1.9" fill="none" stroke="#e6a8ea" stroke-width="0.55"/>
<circle cx="293.95" cy="263.38" r="1.9" fill="none" stroke="#e6a8ea" stroke-width="0.55"/>
<circle cx="294.77" cy="259.88" r="1.9" fill="none" stroke="#e6a8ea" stroke-width="0.55"/>
<circle cx="295.58" cy="267.54" r="1.9" fill="none" stroke="#e6a8ea" stroke-width="0.55"/>
<circle cx="296.40" cy="257.13" r="1.9" fill="none" stroke="#e6a8ea" stroke-width="0.55"/>
<circle cx="297.22" cy="257.30" r="1.9" fill="none" stroke="#e6a8ea" stroke-width="0.55"/>
<circle cx="298.04" cy="261.96" r="1.9" fill="none" stroke="#e6a8ea" stroke-width="0.55"/>
<circle cx="298.85" cy="263.85" r="1.9" fill="none" stroke="#e6a8ea" stroke-width="0.55"/>
</g>
<polyline points="51.30,243.63 52.12,243.71 52.94,243.78 53.75,243.85 54.57,243.92 55.39,244.00 56.20,244.07 57.02,244.14 57.84,244.22 58.66,244.29 59.47,244.36 60.29,244.43 61.11,244.51 61.92,244.58 62.74,244.65 63.56,244.73 64.37,244.80 65.19,244.87 66.01,244.94 66.82,245.02 67.64,245.09 68.46,245.16 69.28,245.24 70.09,245.31 70.91,245.38 71.73,245.45 72.54,245.53 73.36,245.60 74.18,245.67 75.00,245.75 75.81,245.82 76.63,245.89 77.45,245.96 78.26,246.04 79.08,246.11 79.90,246.18 80.71,246.26 81.53,246.33 82.35,246.40 83.16,246.47 83.98,246.55 84.80,246.62 85.62,246.69 86.43,246.77 87.25,246.84 88.07,246.91 88.88,246.98 89.70,247.06 90.52,247.13 91.33,247.20 92.15,247.28 92.97,247.35 93.79,247.42 94.60,247.49 95.42,247.57 96.24,247.64 97.05,247.71 97.87,247.79 98.69,247.86 99.50,247.93 100.32,248.00 101.14,248.08 101.96,248.15 102.77,248.22 103.59,248.30 104.41,248.37 105.22,248.44 106.04,248.51 106.86,248.59 107.67,248.66 108.49,248.73 109.31,248.81 110.13,248.88 110.94,248.95 111.76,249.02 112.58,249.10 113.39,249.17 114.21,249.24 115.03,249.32 115.84,249.39 116.66,249.46 117.48,249.53 118.30,249.61 119.11,249.68 119.93,249.75 120.75,249.83 121.56,249.90 122.38,249.97 123.20,250.04 124.01,250.12 124.83,250.19 125.65,250.26 126.47,250.34 127.28,250.41 128.10,250.48 128.92,250.55 129.73,250.63 130.55,250.70 131.37,250.77 132.19,250.85 133.00,250.92 133.82,250.99 134.64,251.06 135.45,251.14 136.27,251.21 137.09,251.28 137.90,251.36 138.72,251.43 139.54,251.50 140.35,251.57 141.17,251.65 141.99,251.72 142.81,251.79 143.62,251.87 144.44,251.94 145.26,252.01 146.07,252.08 146.89,252.16 147.71,252.23 148.53,252.30 149.34,252.38 150.16,252.45 150.98,252.52 151.79,252.59 152.61,252.67 153.43,252.74 154.24,252.81 155.06,252.89 155.88,252.96 156.69,253.03 157.51,253.10 158.33,253.18 159.15,253.25 159.96,253.32 160.78,253.40 161.60,253.47 162.41,253.54 163.23,253.61 164.05,253.69 164.86,253.76 165.68,253.83 166.50,253.91 167.32,253.98 168.13,254.05 168.95,254.12 169.77,254.20 170.58,254.27 171.40,254.34 172.22,254.42 173.03,254.49 173.85,254.56 174.67,254.63 175.49,254.71 176.30,254.78 177.12,254.85 177.94,254.93 178.75,255.00 179.57,255.07 180.39,255.14 181.20,255.22 182.02,255.29 182.84,255.36 183.66,255.44 184.47,255.51 185.29,255.58 186.11,255.65 186.92,255.73 187.74,255.80 188.56,255.87 189.38,255.95 190.19,256.02 191.01,256.09 191.83,256.16 192.64,256.24 193.46,256.31 194.28,256.38 195.09,256.46 195.91,256.53 196.73,256.60 197.54,256.67 198.36,256.75 199.18,256.82 200.00,256.89 200.81,256.97 201.63,257.04 202.45,257.11 203.26,257.18 204.08,257.26 204.90,257.33 205.72,257.40 206.53,257.48 207.35,257.55 208.17,257.62 208.98,257.69 209.80,257.77 210.62,257.84 211.43,257.91 212.25,257.99 213.07,258.06 213.88,258.13 214.70,258.20 215.52,258.28 216.34,258.35 217.15,258.42 217.97,258.50 218.79,258.57 219.60,258.64 220.42,258.71 221.24,258.79 222.06,258.86 222.87,258.93 223.69,259.00 224.51,259.08 225.32,259.15 226.14,259.22 226.96,259.30 227.77,259.37 228.59,259.44 229.41,259.51 230.22,259.59 231.04,259.66 231.86,259.73 232.68,259.81 233.49,259.88 234.31,259.95 235.13,260.02 235.94,260.10 236.76,260.17 237.58,260.24 238.39,260.32 239.21,260.39 240.03,260.46 240.85,260.53 241.66,260.61 242.48,260.68 243.30,260.75 244.11,260.83 244.93,260.90 245.75,260.97 246.56,261.04 247.38,261.12 248.20,261.19 249.02,261.26 249.83,261.34 250.65,261.41 251.47,261.48 252.28,261.55 253.10,261.63 253.92,261.70 254.73,261.77 255.55,261.85 256.37,261.92 257.19,261.99 258.00,262.06 258.82,262.14 259.64,262.21 260.45,262.28 261.27,262.36 262.09,262.43 262.90,262.50 263.72,262.57 264.54,262.65 265.36,262.72 266.17,262.79 266.99,262.87 267.81,262.94 268.62,263.01 269.44,263.08 270.26,263.16 271.07,263.23 271.89,263.30 272.71,263.38 273.53,263.45 274.34,263.52 275.16,263.59 275.98,263.67 276.79,263.74 277.61,263.81 278.43,263.89 279.25,263.96 280.06,264.03 280.88,264.10 281.70,264.18 282.51,264.25 283.33,264.32 284.15,264.40 284.96,264.47 285.78,264.54 286.60,264.61 287.41,264.69 288.23,264.76 289.05,264.83 289.87,264.91 290.68,264.98 291.50,265.05 292.32,265.12 293.13,265.20 293.95,265.27 294.77,265.34 295.58,265.42 296.40,265.49 297.22,265.56 298.04,265.63 298.85,265.71" fill="none" stroke="#cf57d6" stroke-width="6.4" stroke-linejoin="round" stroke-linecap="round"/>
<polyline points="51.30,281.54 52.12,281.59 52.94,281.64 53.75,281.70 54.57,281.75 55.39,281.80 56.20,281.86 57.02,281.91 57.84,281.96 58.66,282.02 59.47,282.07 60.29,282.12 61.11,282.18 61.92,282.23 62.74,282.28 63.56,282.34 64.37,282.39 65.19,282.44 66.01,282.50 66.82,282.55 67.64,282.60 68.46,282.66 69.28,282.71 70.09,282.76 70.91,282.82 71.73,282.87 72.54,282.92 73.36,282.98 74.18,283.03 75.00,283.08 75.81,283.14 76.63,283.19 77.45,283.24 78.26,283.30 79.08,283.35 79.90,283.40 80.71,283.46 81.53,283.51 82.35,283.57 83.16,283.62 83.98,283.67 84.80,283.73 85.62,283.78 86.43,283.83 87.25,283.89 88.07,283.94 88.88,283.99 89.70,284.05 90.52,284.10 91.33,284.15 92.15,284.21 92.97,284.26 93.79,284.31 94.60,284.37 95.42,284.42 96.24,284.47 97.05,284.53 97.87,284.58 98.69,284.63 99.50,284.69 100.32,284.74 101.14,284.79 101.96,284.85 102.77,284.90 103.59,284.95 104.41,285.01 105.22,285.06 106.04,285.11 106.86,285.17 107.67,285.22 108.49,285.27 109.31,285.33 110.13,285.38 110.94,285.43 111.76,285.49 112.58,285.54 113.39,285.60 114.21,285.65 115.03,285.70 115.84,285.76 116.66,285.81 117.48,285.86 118.30,285.92 119.11,285.97 119.93,286.02 120.75,286.08 121.56,286.13 122.38,286.18 123.20,286.24 124.01,286.29 124.83,286.34 125.65,286.40 126.47,286.45 127.28,286.50 128.10,286.56 128.92,286.61 129.73,286.66 130.55,286.72 131.37,286.77 132.19,286.82 133.00,286.88 133.82,286.93 134.64,286.98 135.45,287.04 136.27,287.09 137.09,287.14 137.90,287.20 138.72,287.25 139.54,287.30 140.35,287.36 141.17,287.41 141.99,287.46 142.81,287.52 143.62,287.57 144.44,287.63 145.26,287.68 146.07,287.73 146.89,287.79 147.71,287.84 148.53,287.89 149.34,287.95 150.16,288.00 150.98,288.05 151.79,288.11 152.61,288.16 153.43,288.21 154.24,288.27 155.06,288.32 155.88,288.37 156.69,288.43 157.51,288.48 158.33,288.53 159.15,288.59 159.96,288.64 160.78,288.69 161.60,288.75 162.41,288.80 163.23,288.85 164.05,288.91 164.86,288.96 165.68,289.01 166.50,289.07 167.32,289.12 168.13,289.17 168.95,289.23 169.77,289.28 170.58,289.33 171.40,289.39 172.22,289.44 173.03,289.49 173.85,289.55 174.67,289.60 175.49,289.66 176.30,289.71 177.12,289.76 177.94,289.82 178.75,289.87 179.57,289.92 180.39,289.98 181.20,290.03 182.02,290.08 182.84,290.14 183.66,290.19 184.47,290.24 185.29,290.30 186.11,290.35 186.92,290.40 187.74,290.46 188.56,290.51 189.38,290.56 190.19,290.62 191.01,290.67 191.83,290.72 192.64,290.78 193.46,290.83 194.28,290.88 195.09,290.94 195.91,290.99 196.73,291.04 197.54,291.10 198.36,291.15 199.18,291.20 200.00,291.26 200.81,291.31 201.63,291.36 202.45,291.42 203.26,291.47 204.08,291.53 204.90,291.58 205.72,291.63 206.53,291.69 207.35,291.74 208.17,291.79 208.98,291.85 209.80,291.90 210.62,291.95 211.43,292.01 212.25,292.06 213.07,292.11 213.88,292.17 214.70,292.22 215.52,292.27 216.34,292.33 217.15,292.38 217.97,292.43 218.79,292.49 219.60,292.54 220.42,292.59 221.24,292.65 222.06,292.70 222.87,292.75 223.69,292.81 224.51,292.86 225.32,292.91 226.14,292.97 226.96,293.02 227.77,293.07 228.59,293.13 229.41,293.18 230.22,293.23 231.04,293.29 231.86,293.34 232.68,293.39 233.49,293.45 234.31,293.50 235.13,293.56 235.94,293.61 236.76,293.66 237.58,293.72 238.39,293.77 239.21,293.82 240.03,293.88 240.85,293.93 241.66,293.98 242.48,294.04 243.30,294.09 244.11,294.14 244.93,294.20 245.75,294.25 246.56,294.30 247.38,294.36 248.20,294.41 249.02,294.46 249.83,294.52 250.65,294.57 251.47,294.62 252.28,294.68 253.10,294.73 253.92,294.78 254.73,294.84 255.55,294.89 256.37,294.94 257.19,295.00 258.00,295.05 258.82,295.10 259.64,295.16 260.45,295.21 261.27,295.26 262.09,295.32 262.90,295.37 263.72,295.42 264.54,295.48 265.36,295.53 266.17,295.59 266.99,295.64 267.81,295.69 268.62,295.75 269.44,295.80 270.26,295.85 271.07,295.91 271.89,295.96 272.71,296.01 273.53,296.07 274.34,296.12 275.16,296.17 275.98,296.23 276.79,296.28 277.61,296.33 278.43,296.39 279.25,296.44 280.06,296.49 280.88,296.55 281.70,296.60 282.51,296.65 283.33,296.71 284.15,296.76 284.96,296.81 285.78,296.87 286.60,296.92 287.41,296.97 288.23,297.03 289.05,297.08 289.87,297.13 290.68,297.19 291.50,297.24 292.32,297.29 293.13,297.35 293.95,297.40 294.77,297.45 295.58,297.51 296.40,297.56 297.22,297.62 298.04,297.67 298.85,297.72" fill="none" stroke="#61ace2" stroke-width="6.4" stroke-linejoin="round" stroke-linecap="round"/>
<circle cx="298.85" cy="265.71" r="2.4" fill="#ffffff" stroke="#cf57d6" stroke-width="0.8"/>
<circle cx="298.85" cy="297.72" r="2.4" fill="#ffffff" stroke="#61ace2" stroke-width="0.8"/>
<circle cx="47.22" cy="220.86" r="2.8" fill="#f4d2f5" stroke="#cf57d6" stroke-width="0.9"/>
<circle cx="47.87" cy="221.97" r="2.8" fill="#f4d2f5" stroke="#cf57d6" stroke-width="0.9"/>
<circle cx="48.52" cy="223.08" r="2.8" fill="#f4d2f5" stroke="#cf57d6" stroke-width="0.9"/>
<circle cx="49.18" cy="224.18" r="2.8" fill="#f4d2f5" stroke="#cf57d6" stroke-width="0.9"/>
<circle cx="49.83" cy="225.84" r="2.8" fill="#ffffff" stroke="#cf57d6" stroke-width="0.9"/>
<circle cx="47.22" cy="264.04" r="2.8" fill="#cfe6f6" stroke="#61ace2" stroke-width="0.9"/>
<circle cx="47.87" cy="264.60" r="2.8" fill="#cfe6f6" stroke="#61ace2" stroke-width="0.9"/>
<circle cx="48.52" cy="265.15" r="2.8" fill="#cfe6f6" stroke="#61ace2" stroke-width="0.9"/>
<circle cx="49.18" cy="265.70" r="2.8" fill="#cfe6f6" stroke="#61ace2" stroke-width="0.9"/>
<circle cx="49.83" cy="266.53" r="2.8" fill="#ffffff" stroke="#61ace2" stroke-width="0.9"/>
<circle cx="48.85" cy="290.62" r="1.5" fill="none" stroke="#9fd0ee" stroke-width="0.6"/>
<circle cx="49.67" cy="297.81" r="2.0" fill="none" stroke="#e3a6e8" stroke-width="0.8"/>
<circle cx="50.48" cy="302.80" r="1.6" fill="none" stroke="#e3a6e8" stroke-width="0.6"/>
<rect x="175.00" y="266.80" width="110.40" height="16.60" fill="#f3e2f5"/>
<text x="230.40" y="280.60" font-size="10.5" font-weight="bold" text-anchor="middle" fill="#b845c2"><tspan dy="0.00">74.0%@110.4 mAh g</tspan><tspan dy="-4.20" font-size="6.93">-1</tspan></text>
<rect x="176.80" y="302.90" width="105.10" height="14.90" fill="#ddedf8"/>
<text x="229.20" y="314.20" font-size="10.5" font-weight="bold" text-anchor="middle" fill="#5a9fd4"><tspan dy="0.00">64.5%@52.2 mAh g</tspan><tspan dy="-4.20" font-size="6.93">-1</tspan></text>
<text x="66.90" y="218.00" font-size="10.5" font-weight="bold" text-anchor="start" fill="#1b1b1b"><tspan dy="0.00">0.5 A g</tspan><tspan dy="-4.20" font-size="6.93">-1</tspan><tspan dy="4.20"> 300 cycles</tspan></text>
<polyline points="53.30,308.50 53.30,327.60 45.00,327.60" fill="none" stroke="#777" stroke-width="1.0" stroke-linejoin="round" stroke-linecap="round"/>
<polygon points="41.30,327.60 47.20,325.00 47.20,330.20" fill="#777" stroke="none" stroke-width="1"/>
<polyline points="287.10,247.00 287.10,226.40 295.00,226.40" fill="none" stroke="#777" stroke-width="1.0" stroke-linejoin="round" stroke-linecap="round"/>
<polygon points="298.80,226.40 292.90,223.80 292.90,229.00" fill="#777" stroke="none" stroke-width="1"/>
<circle cx="74.00" cy="315.40" r="2.9" fill="none" stroke="#61ace2" stroke-width="1.0"/>
<text x="88.60" y="319.00" font-size="10" font-weight="bold" text-anchor="start" fill="#1b1b1b">NM</text>
<circle cx="74.00" cy="328.30" r="2.9" fill="none" stroke="#cf57d6" stroke-width="1.0"/>
<text x="88.60" y="331.90" font-size="10" font-weight="bold" text-anchor="start" fill="#1b1b1b">NMD</text>
<rect x="39.0" y="202.0" width="260.80" height="137.60" fill="none" stroke="#1b1b1b" stroke-width="1.5"/>
<line x1="39.00" y1="326.60" x2="36.30" y2="326.60" stroke="#1b1b1b" stroke-width="1.1"/>
<text x="35.10" y="330.74" font-size="11.5" font-weight="bold" text-anchor="end" fill="#1b1b1b">0</text>
<line x1="39.00" y1="298.92" x2="36.30" y2="298.92" stroke="#1b1b1b" stroke-width="1.1"/>
<text x="35.10" y="303.06" font-size="11.5" font-weight="bold" text-anchor="end" fill="#1b1b1b">50</text>
<line x1="39.00" y1="271.24" x2="36.30" y2="271.24" stroke="#1b1b1b" stroke-width="1.1"/>
<text x="35.10" y="275.38" font-size="11.5" font-weight="bold" text-anchor="end" fill="#1b1b1b">100</text>
<line x1="39.00" y1="243.56" x2="36.30" y2="243.56" stroke="#1b1b1b" stroke-width="1.1"/>
<text x="35.10" y="247.70" font-size="11.5" font-weight="bold" text-anchor="end" fill="#1b1b1b">150</text>
<line x1="39.00" y1="215.88" x2="36.30" y2="215.88" stroke="#1b1b1b" stroke-width="1.1"/>
<text x="35.10" y="220.02" font-size="11.5" font-weight="bold" text-anchor="end" fill="#1b1b1b">200</text>
<line x1="39.00" y1="312.76" x2="37.38" y2="312.76" stroke="#1b1b1b" stroke-width="1.1"/>
<line x1="39.00" y1="285.08" x2="37.38" y2="285.08" stroke="#1b1b1b" stroke-width="1.1"/>
<line x1="39.00" y1="257.40" x2="37.38" y2="257.40" stroke="#1b1b1b" stroke-width="1.1"/>
<line x1="39.00" y1="229.72" x2="37.38" y2="229.72" stroke="#1b1b1b" stroke-width="1.1"/>
<line x1="299.80" y1="340.20" x2="302.50" y2="340.20" stroke="#1b1b1b" stroke-width="1.1"/>
<text x="303.70" y="344.34" font-size="11.5" font-weight="bold" text-anchor="start" fill="#1b1b1b">90</text>
<line x1="299.80" y1="293.85" x2="302.50" y2="293.85" stroke="#1b1b1b" stroke-width="1.1"/>
<text x="303.70" y="297.99" font-size="11.5" font-weight="bold" text-anchor="start" fill="#1b1b1b">95</text>
<line x1="299.80" y1="247.50" x2="302.50" y2="247.50" stroke="#1b1b1b" stroke-width="1.1"/>
<text x="303.70" y="251.64" font-size="11.5" font-weight="bold" text-anchor="start" fill="#1b1b1b">100</text>
<line x1="299.80" y1="201.15" x2="302.50" y2="201.15" stroke="#1b1b1b" stroke-width="1.1"/>
<text x="303.70" y="205.29" font-size="11.5" font-weight="bold" text-anchor="start" fill="#1b1b1b">105</text>
<line x1="299.80" y1="317.02" x2="301.42" y2="317.02" stroke="#1b1b1b" stroke-width="1.1"/>
<line x1="299.80" y1="270.68" x2="301.42" y2="270.68" stroke="#1b1b1b" stroke-width="1.1"/>
<line x1="299.80" y1="224.32" x2="301.42" y2="224.32" stroke="#1b1b1b" stroke-width="1.1"/>
<line x1="46.40" y1="339.60" x2="46.40" y2="342.30" stroke="#1b1b1b" stroke-width="1.1"/>
<text x="46.40" y="353.60" font-size="11.2" font-weight="bold" text-anchor="middle" fill="#1b1b1b">0</text>
<line x1="128.10" y1="339.60" x2="128.10" y2="342.30" stroke="#1b1b1b" stroke-width="1.1"/>
<text x="128.10" y="353.60" font-size="11.2" font-weight="bold" text-anchor="middle" fill="#1b1b1b">100</text>
<line x1="209.80" y1="339.60" x2="209.80" y2="342.30" stroke="#1b1b1b" stroke-width="1.1"/>
<text x="209.80" y="353.60" font-size="11.2" font-weight="bold" text-anchor="middle" fill="#1b1b1b">200</text>
<line x1="291.50" y1="339.60" x2="291.50" y2="342.30" stroke="#1b1b1b" stroke-width="1.1"/>
<text x="291.50" y="353.60" font-size="11.2" font-weight="bold" text-anchor="middle" fill="#1b1b1b">300</text>
<line x1="87.25" y1="339.60" x2="87.25" y2="341.22" stroke="#1b1b1b" stroke-width="1.1"/>
<line x1="168.95" y1="339.60" x2="168.95" y2="341.22" stroke="#1b1b1b" stroke-width="1.1"/>
<line x1="250.65" y1="339.60" x2="250.65" y2="341.22" stroke="#1b1b1b" stroke-width="1.1"/>
<text x="11.30" y="274.50" font-size="11.3" font-weight="bold" text-anchor="middle" fill="#1b1b1b" transform="rotate(-90 11.3 274.5)"><tspan dy="0.00">Specific capacity (mAh g</tspan><tspan dy="-4.52" font-size="6.22">-1</tspan><tspan dy="4.52">)</tspan></text>
<text x="336.50" y="275.20" font-size="11.75" font-weight="bold" text-anchor="middle" fill="#1b1b1b" transform="rotate(-90 336.5 275.2)">Coulombic efficiency (%)</text>
<text x="173.00" y="365.00" font-size="12" font-weight="bold" text-anchor="middle" fill="#1b1b1b">Cycle number</text>
<text x="4.50" y="199.30" font-size="19.6" font-weight="bold" text-anchor="start" fill="#1b1b1b">d</text>
<rect x="387.90" y="201.50" width="262.60" height="139.20" fill="url(#bgE)"/>
<g opacity="0.8">
<circle cx="395.63" cy="259.59" r="1.55" fill="none" stroke="#a8d6f0" stroke-width="0.5"/>
<circle cx="396.14" cy="259.47" r="1.55" fill="none" stroke="#a8d6f0" stroke-width="0.5"/>
<circle cx="396.64" cy="255.20" r="1.55" fill="none" stroke="#a8d6f0" stroke-width="0.5"/>
<circle cx="397.15" cy="262.02" r="1.55" fill="none" stroke="#a8d6f0" stroke-width="0.5"/>
<circle cx="397.66" cy="256.98" r="1.55" fill="none" stroke="#a8d6f0" stroke-width="0.5"/>
<circle cx="398.16" cy="261.83" r="1.55" fill="none" stroke="#a8d6f0" stroke-width="0.5"/>
<circle cx="398.67" cy="253.99" r="1.55" fill="none" stroke="#a8d6f0" stroke-width="0.5"/>
<circle cx="399.18" cy="256.03" r="1.55" fill="none" stroke="#a8d6f0" stroke-width="0.5"/>
<circle cx="399.68" cy="253.30" r="1.55" fill="none" stroke="#a8d6f0" stroke-width="0.5"/>
<circle cx="400.19" cy="257.58" r="1.55" fill="none" stroke="#a8d6f0" stroke-width="0.5"/>
<circle cx="400.70" cy="255.44" r="1.55" fill="none" stroke="#a8d6f0" stroke-width="0.5"/>
<circle cx="401.21" cy="256.98" r="1.55" fill="none" stroke="#a8d6f0" stroke-width="0.5"/>
<circle cx="401.71" cy="257.99" r="1.55" fill="none" stroke="#a8d6f0" stroke-width="0.5"/>
<circle cx="402.22" cy="255.91" r="1.55" fill="none" stroke="#a8d6f0" stroke-width="0.5"/>
<circle cx="402.73" cy="259.12" r="1.55" fill="none" stroke="#a8d6f0" stroke-width="0.5"/>
<circle cx="403.23" cy="257.00" r="1.55" fill="none" stroke="#a8d6f0" stroke-width="0.5"/>
<circle cx="403.74" cy="254.53" r="1.55" fill="none" stroke="#a8d6f0" stroke-width="0.5"/>
<circle cx="404.25" cy="255.98" r="1.55" fill="none" stroke="#a8d6f0" stroke-width="0.5"/>
<circle cx="404.75" cy="257.04" r="1.55" fill="none" stroke="#a8d6f0" stroke-width="0.5"/>
<circle cx="405.26" cy="250.98" r="1.55" fill="none" stroke="#a8d6f0" stroke-width="0.5"/>
<circle cx="405.77" cy="255.91" r="1.55" fill="none" stroke="#a8d6f0" stroke-width="0.5"/>
<circle cx="406.28" cy="257.38" r="1.55" fill="none" stroke="#a8d6f0" stroke-width="0.5"/>
<circle cx="406.78" cy="255.64" r="1.55" fill="none" stroke="#a8d6f0" stroke-width="0.5"/>
<circle cx="407.29" cy="257.21" r="1.55" fill="none" stroke="#a8d6f0" stroke-width="0.5"/>
<circle cx="407.80" cy="256.88" r="1.55" fill="none" stroke="#a8d6f0" stroke-width="0.5"/>
<circle cx="408.30" cy="256.79" r="1.55" fill="none" stroke="#a8d6f0" stroke-width="0.5"/>
<circle cx="408.81" cy="251.27" r="1.55" fill="none" stroke="#a8d6f0" stroke-width="0.5"/>
<circle cx="409.32" cy="255.91" r="1.55" fill="none" stroke="#a8d6f0" stroke-width="0.5"/>
<circle cx="409.82" cy="255.56" r="1.55" fill="none" stroke="#a8d6f0" stroke-width="0.5"/>
<circle cx="410.33" cy="254.41" r="1.55" fill="none" stroke="#a8d6f0" stroke-width="0.5"/>
<circle cx="410.84" cy="251.30" r="1.55" fill="none" stroke="#a8d6f0" stroke-width="0.5"/>
<circle cx="411.35" cy="256.50" r="1.55" fill="none" stroke="#a8d6f0" stroke-width="0.5"/>
<circle cx="411.85" cy="257.44" r="1.55" fill="none" stroke="#a8d6f0" stroke-width="0.5"/>
<circle cx="412.36" cy="250.27" r="1.55" fill="none" stroke="#a8d6f0" stroke-width="0.5"/>
<circle cx="412.87" cy="259.41" r="1.55" fill="none" stroke="#a8d6f0" stroke-width="0.5"/>
<circle cx="413.37" cy="256.90" r="1.55" fill="none" stroke="#a8d6f0" stroke-width="0.5"/>
<circle cx="413.88" cy="254.52" r="1.55" fill="none" stroke="#a8d6f0" stroke-width="0.5"/>
<circle cx="414.39" cy="250.79" r="1.55" fill="none" stroke="#a8d6f0" stroke-width="0.5"/>
<circle cx="414.89" cy="258.32" r="1.55" fill="none" stroke="#a8d6f0" stroke-width="0.5"/>
<circle cx="415.40" cy="261.78" r="1.55" fill="none" stroke="#a8d6f0" stroke-width="0.5"/>
<circle cx="415.91" cy="254.64" r="1.55" fill="none" stroke="#a8d6f0" stroke-width="0.5"/>
<circle cx="416.42" cy="257.42" r="1.55" fill="none" stroke="#a8d6f0" stroke-width="0.5"/>
<circle cx="416.92" cy="257.15" r="1.55" fill="none" stroke="#a8d6f0" stroke-width="0.5"/>
<circle cx="417.43" cy="255.22" r="1.55" fill="none" stroke="#a8d6f0" stroke-width="0.5"/>
<circle cx="417.94" cy="255.81" r="1.55" fill="none" stroke="#a8d6f0" stroke-width="0.5"/>
<circle cx="418.44" cy="255.69" r="1.55" fill="none" stroke="#a8d6f0" stroke-width="0.5"/>
<circle cx="418.95" cy="257.41" r="1.55" fill="none" stroke="#a8d6f0" stroke-width="0.5"/>
<circle cx="419.46" cy="253.47" r="1.55" fill="none" stroke="#a8d6f0" stroke-width="0.5"/>
<circle cx="419.96" cy="253.01" r="1.55" fill="none" stroke="#a8d6f0" stroke-width="0.5"/>
<circle cx="420.47" cy="256.48" r="1.55" fill="none" stroke="#a8d6f0" stroke-width="0.5"/>
<circle cx="420.98" cy="257.65" r="1.55" fill="none" stroke="#a8d6f0" stroke-width="0.5"/>
<circle cx="421.49" cy="254.95" r="1.55" fill="none" stroke="#a8d6f0" stroke-width="0.5"/>
<circle cx="421.99" cy="255.60" r="1.55" fill="none" stroke="#a8d6f0" stroke-width="0.5"/>
<circle cx="422.50" cy="259.17" r="1.55" fill="none" stroke="#a8d6f0" stroke-width="0.5"/>
<circle cx="423.01" cy="257.88" r="1.55" fill="none" stroke="#a8d6f0" stroke-width="0.5"/>
<circle cx="423.51" cy="254.43" r="1.55" fill="none" stroke="#a8d6f0" stroke-width="0.5"/>
<circle cx="424.02" cy="257.15" r="1.55" fill="none" stroke="#a8d6f0" stroke-width="0.5"/>
<circle cx="424.53" cy="257.74" r="1.55" fill="none" stroke="#a8d6f0" stroke-width="0.5"/>
<circle cx="425.03" cy="256.54" r="1.55" fill="none" stroke="#a8d6f0" stroke-width="0.5"/>
<circle cx="425.54" cy="257.17" r="1.55" fill="none" stroke="#a8d6f0" stroke-width="0.5"/>
<circle cx="426.05" cy="257.15" r="1.55" fill="none" stroke="#a8d6f0" stroke-width="0.5"/>
<circle cx="426.56" cy="261.68" r="1.55" fill="none" stroke="#a8d6f0" stroke-width="0.5"/>
<circle cx="427.06" cy="253.20" r="1.55" fill="none" stroke="#a8d6f0" stroke-width="0.5"/>
<circle cx="427.57" cy="256.85" r="1.55" fill="none" stroke="#a8d6f0" stroke-width="0.5"/>
<circle cx="428.08" cy="259.40" r="1.55" fill="none" stroke="#a8d6f0" stroke-width="0.5"/>
<circle cx="428.58" cy="255.15" r="1.55" fill="none" stroke="#a8d6f0" stroke-width="0.5"/>
<circle cx="429.09" cy="256.75" r="1.55" fill="none" stroke="#a8d6f0" stroke-width="0.5"/>
<circle cx="429.60" cy="257.48" r="1.55" fill="none" stroke="#a8d6f0" stroke-width="0.5"/>
<circle cx="430.10" cy="255.14" r="1.55" fill="none" stroke="#a8d6f0" stroke-width="0.5"/>
<circle cx="430.61" cy="252.38" r="1.55" fill="none" stroke="#a8d6f0" stroke-width="0.5"/>
<circle cx="431.12" cy="256.39" r="1.55" fill="none" stroke="#a8d6f0" stroke-width="0.5"/>
<circle cx="431.62" cy="254.04" r="1.55" fill="none" stroke="#a8d6f0" stroke-width="0.5"/>
<circle cx="432.13" cy="252.76" r="1.55" fill="none" stroke="#a8d6f0" stroke-width="0.5"/>
<circle cx="432.64" cy="260.17" r="1.55" fill="none" stroke="#a8d6f0" stroke-width="0.5"/>
<circle cx="433.15" cy="259.06" r="1.55" fill="none" stroke="#a8d6f0" stroke-width="0.5"/>
<circle cx="433.65" cy="256.08" r="1.55" fill="none" stroke="#a8d6f0" stroke-width="0.5"/>
<circle cx="434.16" cy="261.89" r="1.55" fill="none" stroke="#a8d6f0" stroke-width="0.5"/>
<circle cx="434.67" cy="258.58" r="1.55" fill="none" stroke="#a8d6f0" stroke-width="0.5"/>
<circle cx="435.17" cy="254.99" r="1.55" fill="none" stroke="#a8d6f0" stroke-width="0.5"/>
<circle cx="435.68" cy="255.60" r="1.55" fill="none" stroke="#a8d6f0" stroke-width="0.5"/>
<circle cx="436.19" cy="256.71" r="1.55" fill="none" stroke="#a8d6f0" stroke-width="0.5"/>
<circle cx="436.70" cy="262.47" r="1.55" fill="none" stroke="#a8d6f0" stroke-width="0.5"/>
<circle cx="437.20" cy="252.65" r="1.55" fill="none" stroke="#a8d6f0" stroke-width="0.5"/>
<circle cx="437.71" cy="256.84" r="1.55" fill="none" stroke="#a8d6f0" stroke-width="0.5"/>
<circle cx="438.22" cy="256.36" r="1.55" fill="none" stroke="#a8d6f0" stroke-width="0.5"/>
<circle cx="438.72" cy="257.01" r="1.55" fill="none" stroke="#a8d6f0" stroke-width="0.5"/>
<circle cx="439.23" cy="262.15" r="1.55" fill="none" stroke="#a8d6f0" stroke-width="0.5"/>
<circle cx="439.74" cy="261.51" r="1.55" fill="none" stroke="#a8d6f0" stroke-width="0.5"/>
<circle cx="440.24" cy="261.01" r="1.55" fill="none" stroke="#a8d6f0" stroke-width="0.5"/>
<circle cx="440.75" cy="253.74" r="1.55" fill="none" stroke="#a8d6f0" stroke-width="0.5"/>
<circle cx="441.26" cy="260.12" r="1.55" fill="none" stroke="#a8d6f0" stroke-width="0.5"/>
<circle cx="441.77" cy="258.75" r="1.55" fill="none" stroke="#a8d6f0" stroke-width="0.5"/>
<circle cx="442.27" cy="258.78" r="1.55" fill="none" stroke="#a8d6f0" stroke-width="0.5"/>
<circle cx="442.78" cy="256.86" r="1.55" fill="none" stroke="#a8d6f0" stroke-width="0.5"/>
<circle cx="443.29" cy="257.01" r="1.55" fill="none" stroke="#a8d6f0" stroke-width="0.5"/>
<circle cx="443.79" cy="257.54" r="1.55" fill="none" stroke="#a8d6f0" stroke-width="0.5"/>
<circle cx="444.30" cy="261.07" r="1.55" fill="none" stroke="#a8d6f0" stroke-width="0.5"/>
<circle cx="444.81" cy="265.41" r="1.55" fill="none" stroke="#a8d6f0" stroke-width="0.5"/>
<circle cx="445.31" cy="257.72" r="1.55" fill="none" stroke="#a8d6f0" stroke-width="0.5"/>
<circle cx="445.82" cy="257.47" r="1.55" fill="none" stroke="#a8d6f0" stroke-width="0.5"/>
<circle cx="446.33" cy="255.21" r="1.55" fill="none" stroke="#a8d6f0" stroke-width="0.5"/>
<circle cx="446.84" cy="258.28" r="1.55" fill="none" stroke="#a8d6f0" stroke-width="0.5"/>
<circle cx="447.34" cy="259.42" r="1.55" fill="none" stroke="#a8d6f0" stroke-width="0.5"/>
<circle cx="447.85" cy="257.02" r="1.55" fill="none" stroke="#a8d6f0" stroke-width="0.5"/>
<circle cx="448.36" cy="261.55" r="1.55" fill="none" stroke="#a8d6f0" stroke-width="0.5"/>
<circle cx="448.86" cy="260.32" r="1.55" fill="none" stroke="#a8d6f0" stroke-width="0.5"/>
<circle cx="449.37" cy="260.20" r="1.55" fill="none" stroke="#a8d6f0" stroke-width="0.5"/>
<circle cx="449.88" cy="257.16" r="1.55" fill="none" stroke="#a8d6f0" stroke-width="0.5"/>
<circle cx="450.38" cy="252.93" r="1.55" fill="none" stroke="#a8d6f0" stroke-width="0.5"/>
<circle cx="450.89" cy="255.97" r="1.55" fill="none" stroke="#a8d6f0" stroke-width="0.5"/>
<circle cx="451.40" cy="255.04" r="1.55" fill="none" stroke="#a8d6f0" stroke-width="0.5"/>
<circle cx="451.91" cy="257.09" r="1.55" fill="none" stroke="#a8d6f0" stroke-width="0.5"/>
<circle cx="452.41" cy="256.95" r="1.55" fill="none" stroke="#a8d6f0" stroke-width="0.5"/>
<circle cx="452.92" cy="258.59" r="1.55" fill="none" stroke="#a8d6f0" stroke-width="0.5"/>
<circle cx="453.43" cy="258.15" r="1.55" fill="none" stroke="#a8d6f0" stroke-width="0.5"/>
<circle cx="453.93" cy="263.08" r="1.55" fill="none" stroke="#a8d6f0" stroke-width="0.5"/>
<circle cx="454.44" cy="260.18" r="1.55" fill="none" stroke="#a8d6f0" stroke-width="0.5"/>
<circle cx="454.95" cy="260.32" r="1.55" fill="none" stroke="#a8d6f0" stroke-width="0.5"/>
<circle cx="455.45" cy="255.34" r="1.55" fill="none" stroke="#a8d6f0" stroke-width="0.5"/>
<circle cx="455.96" cy="255.69" r="1.55" fill="none" stroke="#a8d6f0" stroke-width="0.5"/>
<circle cx="456.47" cy="254.52" r="1.55" fill="none" stroke="#a8d6f0" stroke-width="0.5"/>
<circle cx="456.98" cy="253.51" r="1.55" fill="none" stroke="#a8d6f0" stroke-width="0.5"/>
<circle cx="457.48" cy="257.77" r="1.55" fill="none" stroke="#a8d6f0" stroke-width="0.5"/>
<circle cx="457.99" cy="254.56" r="1.55" fill="none" stroke="#a8d6f0" stroke-width="0.5"/>
<circle cx="458.50" cy="252.41" r="1.55" fill="none" stroke="#a8d6f0" stroke-width="0.5"/>
<circle cx="459.00" cy="256.92" r="1.55" fill="none" stroke="#a8d6f0" stroke-width="0.5"/>
<circle cx="459.51" cy="254.32" r="1.55" fill="none" stroke="#a8d6f0" stroke-width="0.5"/>
<circle cx="460.02" cy="257.17" r="1.55" fill="none" stroke="#a8d6f0" stroke-width="0.5"/>
<circle cx="460.52" cy="260.47" r="1.55" fill="none" stroke="#a8d6f0" stroke-width="0.5"/>
<circle cx="461.03" cy="256.40" r="1.55" fill="none" stroke="#a8d6f0" stroke-width="0.5"/>
<circle cx="461.54" cy="258.54" r="1.55" fill="none" stroke="#a8d6f0" stroke-width="0.5"/>
<circle cx="462.05" cy="256.33" r="1.55" fill="none" stroke="#a8d6f0" stroke-width="0.5"/>
<circle cx="462.55" cy="257.60" r="1.55" fill="none" stroke="#a8d6f0" stroke-width="0.5"/>
<circle cx="463.06" cy="255.74" r="1.55" fill="none" stroke="#a8d6f0" stroke-width="0.5"/>
<circle cx="463.57" cy="261.39" r="1.55" fill="none" stroke="#a8d6f0" stroke-width="0.5"/>
<circle cx="464.07" cy="251.56" r="1.55" fill="none" stroke="#a8d6f0" stroke-width="0.5"/>
<circle cx="464.58" cy="253.19" r="1.55" fill="none" stroke="#a8d6f0" stroke-width="0.5"/>
<circle cx="465.09" cy="257.12" r="1.55" fill="none" stroke="#a8d6f0" stroke-width="0.5"/>
<circle cx="465.59" cy="258.38" r="1.55" fill="none" stroke="#a8d6f0" stroke-width="0.5"/>
<circle cx="466.10" cy="256.22" r="1.55" fill="none" stroke="#a8d6f0" stroke-width="0.5"/>
<circle cx="466.61" cy="254.63" r="1.55" fill="none" stroke="#a8d6f0" stroke-width="0.5"/>
<circle cx="467.12" cy="255.18" r="1.55" fill="none" stroke="#a8d6f0" stroke-width="0.5"/>
<circle cx="467.62" cy="255.20" r="1.55" fill="none" stroke="#a8d6f0" stroke-width="0.5"/>
<circle cx="468.13" cy="260.67" r="1.55" fill="none" stroke="#a8d6f0" stroke-width="0.5"/>
<circle cx="468.64" cy="258.70" r="1.55" fill="none" stroke="#a8d6f0" stroke-width="0.5"/>
<circle cx="469.14" cy="252.94" r="1.55" fill="none" stroke="#a8d6f0" stroke-width="0.5"/>
<circle cx="469.65" cy="255.48" r="1.55" fill="none" stroke="#a8d6f0" stroke-width="0.5"/>
<circle cx="470.16" cy="259.55" r="1.55" fill="none" stroke="#a8d6f0" stroke-width="0.5"/>
<circle cx="470.66" cy="258.02" r="1.55" fill="none" stroke="#a8d6f0" stroke-width="0.5"/>
<circle cx="471.17" cy="259.35" r="1.55" fill="none" stroke="#a8d6f0" stroke-width="0.5"/>
<circle cx="471.68" cy="258.35" r="1.55" fill="none" stroke="#a8d6f0" stroke-width="0.5"/>
<circle cx="472.19" cy="253.23" r="1.55" fill="none" stroke="#a8d6f0" stroke-width="0.5"/>
<circle cx="472.69" cy="256.48" r="1.55" fill="none" stroke="#a8d6f0" stroke-width="0.5"/>
<circle cx="473.20" cy="253.34" r="1.55" fill="none" stroke="#a8d6f0" stroke-width="0.5"/>
<circle cx="473.71" cy="255.53" r="1.55" fill="none" stroke="#a8d6f0" stroke-width="0.5"/>
<circle cx="474.21" cy="259.50" r="1.55" fill="none" stroke="#a8d6f0" stroke-width="0.5"/>
<circle cx="474.72" cy="257.50" r="1.55" fill="none" stroke="#a8d6f0" stroke-width="0.5"/>
<circle cx="475.23" cy="250.60" r="1.55" fill="none" stroke="#a8d6f0" stroke-width="0.5"/>
<circle cx="475.73" cy="257.80" r="1.55" fill="none" stroke="#a8d6f0" stroke-width="0.5"/>
<circle cx="476.24" cy="258.49" r="1.55" fill="none" stroke="#a8d6f0" stroke-width="0.5"/>
<circle cx="476.75" cy="253.12" r="1.55" fill="none" stroke="#a8d6f0" stroke-width="0.5"/>
<circle cx="477.25" cy="255.84" r="1.55" fill="none" stroke="#a8d6f0" stroke-width="0.5"/>
<circle cx="477.76" cy="256.09" r="1.55" fill="none" stroke="#a8d6f0" stroke-width="0.5"/>
<circle cx="478.27" cy="252.64" r="1.55" fill="none" stroke="#a8d6f0" stroke-width="0.5"/>
<circle cx="478.78" cy="260.29" r="1.55" fill="none" stroke="#a8d6f0" stroke-width="0.5"/>
<circle cx="479.28" cy="255.17" r="1.55" fill="none" stroke="#a8d6f0" stroke-width="0.5"/>
<circle cx="479.79" cy="258.68" r="1.55" fill="none" stroke="#a8d6f0" stroke-width="0.5"/>
<circle cx="480.30" cy="259.54" r="1.55" fill="none" stroke="#a8d6f0" stroke-width="0.5"/>
<circle cx="480.80" cy="258.19" r="1.55" fill="none" stroke="#a8d6f0" stroke-width="0.5"/>
<circle cx="481.31" cy="253.58" r="1.55" fill="none" stroke="#a8d6f0" stroke-width="0.5"/>
<circle cx="481.82" cy="256.67" r="1.55" fill="none" stroke="#a8d6f0" stroke-width="0.5"/>
<circle cx="482.33" cy="260.73" r="1.55" fill="none" stroke="#a8d6f0" stroke-width="0.5"/>
<circle cx="482.83" cy="259.05" r="1.55" fill="none" stroke="#a8d6f0" stroke-width="0.5"/>
<circle cx="483.34" cy="252.86" r="1.55" fill="none" stroke="#a8d6f0" stroke-width="0.5"/>
<circle cx="483.85" cy="254.10" r="1.55" fill="none" stroke="#a8d6f0" stroke-width="0.5"/>
<circle cx="484.35" cy="259.15" r="1.55" fill="none" stroke="#a8d6f0" stroke-width="0.5"/>
<circle cx="484.86" cy="250.88" r="1.55" fill="none" stroke="#a8d6f0" stroke-width="0.5"/>
<circle cx="485.37" cy="257.54" r="1.55" fill="none" stroke="#a8d6f0" stroke-width="0.5"/>
<circle cx="485.87" cy="259.55" r="1.55" fill="none" stroke="#a8d6f0" stroke-width="0.5"/>
<circle cx="486.38" cy="257.10" r="1.55" fill="none" stroke="#a8d6f0" stroke-width="0.5"/>
<circle cx="486.89" cy="254.61" r="1.55" fill="none" stroke="#a8d6f0" stroke-width="0.5"/>
<circle cx="487.40" cy="253.07" r="1.55" fill="none" stroke="#a8d6f0" stroke-width="0.5"/>
<circle cx="487.90" cy="254.50" r="1.55" fill="none" stroke="#a8d6f0" stroke-width="0.5"/>
<circle cx="488.41" cy="258.01" r="1.55" fill="none" stroke="#a8d6f0" stroke-width="0.5"/>
<circle cx="488.92" cy="258.38" r="1.55" fill="none" stroke="#a8d6f0" stroke-width="0.5"/>
<circle cx="489.42" cy="260.56" r="1.55" fill="none" stroke="#a8d6f0" stroke-width="0.5"/>
<circle cx="489.93" cy="257.34" r="1.55" fill="none" stroke="#a8d6f0" stroke-width="0.5"/>
<circle cx="490.44" cy="258.63" r="1.55" fill="none" stroke="#a8d6f0" stroke-width="0.5"/>
<circle cx="490.94" cy="256.69" r="1.55" fill="none" stroke="#a8d6f0" stroke-width="0.5"/>
<circle cx="491.45" cy="260.33" r="1.55" fill="none" stroke="#a8d6f0" stroke-width="0.5"/>
<circle cx="491.96" cy="258.61" r="1.55" fill="none" stroke="#a8d6f0" stroke-width="0.5"/>
<circle cx="492.47" cy="259.53" r="1.55" fill="none" stroke="#a8d6f0" stroke-width="0.5"/>
<circle cx="492.97" cy="260.34" r="1.55" fill="none" stroke="#a8d6f0" stroke-width="0.5"/>
<circle cx="493.48" cy="260.35" r="1.55" fill="none" stroke="#a8d6f0" stroke-width="0.5"/>
<circle cx="493.99" cy="260.01" r="1.55" fill="none" stroke="#a8d6f0" stroke-width="0.5"/>
<circle cx="494.49" cy="260.45" r="1.55" fill="none" stroke="#a8d6f0" stroke-width="0.5"/>
<circle cx="495.00" cy="256.34" r="1.55" fill="none" stroke="#a8d6f0" stroke-width="0.5"/>
<circle cx="495.51" cy="257.50" r="1.55" fill="none" stroke="#a8d6f0" stroke-width="0.5"/>
<circle cx="496.01" cy="260.91" r="1.55" fill="none" stroke="#a8d6f0" stroke-width="0.5"/>
<circle cx="496.52" cy="256.60" r="1.55" fill="none" stroke="#a8d6f0" stroke-width="0.5"/>
<circle cx="497.03" cy="257.18" r="1.55" fill="none" stroke="#a8d6f0" stroke-width="0.5"/>
<circle cx="497.54" cy="254.43" r="1.55" fill="none" stroke="#a8d6f0" stroke-width="0.5"/>
<circle cx="498.04" cy="258.40" r="1.55" fill="none" stroke="#a8d6f0" stroke-width="0.5"/>
<circle cx="498.55" cy="258.47" r="1.55" fill="none" stroke="#a8d6f0" stroke-width="0.5"/>
<circle cx="499.06" cy="259.64" r="1.55" fill="none" stroke="#a8d6f0" stroke-width="0.5"/>
<circle cx="499.56" cy="257.74" r="1.55" fill="none" stroke="#a8d6f0" stroke-width="0.5"/>
<circle cx="500.07" cy="256.89" r="1.55" fill="none" stroke="#a8d6f0" stroke-width="0.5"/>
<circle cx="500.58" cy="257.67" r="1.55" fill="none" stroke="#a8d6f0" stroke-width="0.5"/>
<circle cx="501.08" cy="258.71" r="1.55" fill="none" stroke="#a8d6f0" stroke-width="0.5"/>
<circle cx="501.59" cy="256.79" r="1.55" fill="none" stroke="#a8d6f0" stroke-width="0.5"/>
<circle cx="502.10" cy="257.93" r="1.55" fill="none" stroke="#a8d6f0" stroke-width="0.5"/>
<circle cx="502.61" cy="257.57" r="1.55" fill="none" stroke="#a8d6f0" stroke-width="0.5"/>
<circle cx="503.11" cy="260.39" r="1.55" fill="none" stroke="#a8d6f0" stroke-width="0.5"/>
<circle cx="503.62" cy="257.69" r="1.55" fill="none" stroke="#a8d6f0" stroke-width="0.5"/>
<circle cx="504.13" cy="260.55" r="1.55" fill="none" stroke="#a8d6f0" stroke-width="0.5"/>
<circle cx="504.63" cy="260.19" r="1.55" fill="none" stroke="#a8d6f0" stroke-width="0.5"/>
<circle cx="505.14" cy="257.81" r="1.55" fill="none" stroke="#a8d6f0" stroke-width="0.5"/>
<circle cx="505.65" cy="253.19" r="1.55" fill="none" stroke="#a8d6f0" stroke-width="0.5"/>
<circle cx="506.15" cy="255.82" r="1.55" fill="none" stroke="#a8d6f0" stroke-width="0.5"/>
<circle cx="506.66" cy="258.17" r="1.55" fill="none" stroke="#a8d6f0" stroke-width="0.5"/>
<circle cx="507.17" cy="258.60" r="1.55" fill="none" stroke="#a8d6f0" stroke-width="0.5"/>
<circle cx="507.68" cy="255.81" r="1.55" fill="none" stroke="#a8d6f0" stroke-width="0.5"/>
<circle cx="508.18" cy="254.89" r="1.55" fill="none" stroke="#a8d6f0" stroke-width="0.5"/>
<circle cx="508.69" cy="255.30" r="1.55" fill="none" stroke="#a8d6f0" stroke-width="0.5"/>
<circle cx="509.20" cy="258.65" r="1.55" fill="none" stroke="#a8d6f0" stroke-width="0.5"/>
<circle cx="509.70" cy="257.77" r="1.55" fill="none" stroke="#a8d6f0" stroke-width="0.5"/>
<circle cx="510.21" cy="259.01" r="1.55" fill="none" stroke="#a8d6f0" stroke-width="0.5"/>
<circle cx="510.72" cy="258.91" r="1.55" fill="none" stroke="#a8d6f0" stroke-width="0.5"/>
<circle cx="511.22" cy="260.26" r="1.55" fill="none" stroke="#a8d6f0" stroke-width="0.5"/>
<circle cx="511.73" cy="258.83" r="1.55" fill="none" stroke="#a8d6f0" stroke-width="0.5"/>
<circle cx="512.24" cy="263.34" r="1.55" fill="none" stroke="#a8d6f0" stroke-width="0.5"/>
<circle cx="512.75" cy="261.08" r="1.55" fill="none" stroke="#a8d6f0" stroke-width="0.5"/>
<circle cx="513.25" cy="257.21" r="1.55" fill="none" stroke="#a8d6f0" stroke-width="0.5"/>
<circle cx="513.76" cy="260.41" r="1.55" fill="none" stroke="#a8d6f0" stroke-width="0.5"/>
<circle cx="514.27" cy="256.92" r="1.55" fill="none" stroke="#a8d6f0" stroke-width="0.5"/>
<circle cx="514.77" cy="261.27" r="1.55" fill="none" stroke="#a8d6f0" stroke-width="0.5"/>
<circle cx="515.28" cy="259.06" r="1.55" fill="none" stroke="#a8d6f0" stroke-width="0.5"/>
<circle cx="515.79" cy="257.23" r="1.55" fill="none" stroke="#a8d6f0" stroke-width="0.5"/>
<circle cx="516.29" cy="260.62" r="1.55" fill="none" stroke="#a8d6f0" stroke-width="0.5"/>
<circle cx="516.80" cy="259.83" r="1.55" fill="none" stroke="#a8d6f0" stroke-width="0.5"/>
<circle cx="517.31" cy="252.25" r="1.55" fill="none" stroke="#a8d6f0" stroke-width="0.5"/>
<circle cx="517.82" cy="259.72" r="1.55" fill="none" stroke="#a8d6f0" stroke-width="0.5"/>
<circle cx="518.32" cy="259.76" r="1.55" fill="none" stroke="#a8d6f0" stroke-width="0.5"/>
<circle cx="518.83" cy="259.42" r="1.55" fill="none" stroke="#a8d6f0" stroke-width="0.5"/>
<circle cx="519.34" cy="257.96" r="1.55" fill="none" stroke="#a8d6f0" stroke-width="0.5"/>
<circle cx="519.84" cy="258.08" r="1.55" fill="none" stroke="#a8d6f0" stroke-width="0.5"/>
<circle cx="520.35" cy="255.66" r="1.55" fill="none" stroke="#a8d6f0" stroke-width="0.5"/>
<circle cx="520.86" cy="256.10" r="1.55" fill="none" stroke="#a8d6f0" stroke-width="0.5"/>
<circle cx="521.36" cy="258.91" r="1.55" fill="none" stroke="#a8d6f0" stroke-width="0.5"/>
<circle cx="521.87" cy="258.78" r="1.55" fill="none" stroke="#a8d6f0" stroke-width="0.5"/>
<circle cx="522.38" cy="261.27" r="1.55" fill="none" stroke="#a8d6f0" stroke-width="0.5"/>
<circle cx="522.88" cy="261.44" r="1.55" fill="none" stroke="#a8d6f0" stroke-width="0.5"/>
<circle cx="523.39" cy="259.62" r="1.55" fill="none" stroke="#a8d6f0" stroke-width="0.5"/>
<circle cx="523.90" cy="256.11" r="1.55" fill="none" stroke="#a8d6f0" stroke-width="0.5"/>
<circle cx="524.41" cy="257.54" r="1.55" fill="none" stroke="#a8d6f0" stroke-width="0.5"/>
<circle cx="524.91" cy="255.91" r="1.55" fill="none" stroke="#a8d6f0" stroke-width="0.5"/>
<circle cx="525.42" cy="255.56" r="1.55" fill="none" stroke="#a8d6f0" stroke-width="0.5"/>
<circle cx="525.93" cy="258.17" r="1.55" fill="none" stroke="#a8d6f0" stroke-width="0.5"/>
<circle cx="526.43" cy="252.78" r="1.55" fill="none" stroke="#a8d6f0" stroke-width="0.5"/>
<circle cx="526.94" cy="258.99" r="1.55" fill="none" stroke="#a8d6f0" stroke-width="0.5"/>
<circle cx="527.45" cy="259.22" r="1.55" fill="none" stroke="#a8d6f0" stroke-width="0.5"/>
<circle cx="527.96" cy="258.75" r="1.55" fill="none" stroke="#a8d6f0" stroke-width="0.5"/>
<circle cx="528.46" cy="255.02" r="1.55" fill="none" stroke="#a8d6f0" stroke-width="0.5"/>
<circle cx="528.97" cy="258.04" r="1.55" fill="none" stroke="#a8d6f0" stroke-width="0.5"/>
<circle cx="529.48" cy="259.46" r="1.55" fill="none" stroke="#a8d6f0" stroke-width="0.5"/>
<circle cx="529.98" cy="256.67" r="1.55" fill="none" stroke="#a8d6f0" stroke-width="0.5"/>
<circle cx="530.49" cy="255.02" r="1.55" fill="none" stroke="#a8d6f0" stroke-width="0.5"/>
<circle cx="531.00" cy="257.97" r="1.55" fill="none" stroke="#a8d6f0" stroke-width="0.5"/>
<circle cx="531.50" cy="258.31" r="1.55" fill="none" stroke="#a8d6f0" stroke-width="0.5"/>
<circle cx="532.01" cy="255.14" r="1.55" fill="none" stroke="#a8d6f0" stroke-width="0.5"/>
<circle cx="532.52" cy="255.39" r="1.55" fill="none" stroke="#a8d6f0" stroke-width="0.5"/>
<circle cx="533.03" cy="255.49" r="1.55" fill="none" stroke="#a8d6f0" stroke-width="0.5"/>
<circle cx="533.53" cy="259.56" r="1.55" fill="none" stroke="#a8d6f0" stroke-width="0.5"/>
<circle cx="534.04" cy="257.09" r="1.55" fill="none" stroke="#a8d6f0" stroke-width="0.5"/>
<circle cx="534.55" cy="256.93" r="1.55" fill="none" stroke="#a8d6f0" stroke-width="0.5"/>
<circle cx="535.05" cy="262.07" r="1.55" fill="none" stroke="#a8d6f0" stroke-width="0.5"/>
<circle cx="535.56" cy="254.98" r="1.55" fill="none" stroke="#a8d6f0" stroke-width="0.5"/>
<circle cx="536.07" cy="257.62" r="1.55" fill="none" stroke="#a8d6f0" stroke-width="0.5"/>
<circle cx="536.57" cy="258.70" r="1.55" fill="none" stroke="#a8d6f0" stroke-width="0.5"/>
<circle cx="537.08" cy="252.56" r="1.55" fill="none" stroke="#a8d6f0" stroke-width="0.5"/>
<circle cx="537.59" cy="257.61" r="1.55" fill="none" stroke="#a8d6f0" stroke-width="0.5"/>
<circle cx="538.10" cy="259.71" r="1.55" fill="none" stroke="#a8d6f0" stroke-width="0.5"/>
<circle cx="538.60" cy="258.19" r="1.55" fill="none" stroke="#a8d6f0" stroke-width="0.5"/>
<circle cx="539.11" cy="256.75" r="1.55" fill="none" stroke="#a8d6f0" stroke-width="0.5"/>
<circle cx="539.62" cy="256.20" r="1.55" fill="none" stroke="#a8d6f0" stroke-width="0.5"/>
<circle cx="540.12" cy="258.32" r="1.55" fill="none" stroke="#a8d6f0" stroke-width="0.5"/>
<circle cx="540.63" cy="260.28" r="1.55" fill="none" stroke="#a8d6f0" stroke-width="0.5"/>
<circle cx="541.14" cy="259.94" r="1.55" fill="none" stroke="#a8d6f0" stroke-width="0.5"/>
<circle cx="541.64" cy="260.28" r="1.55" fill="none" stroke="#a8d6f0" stroke-width="0.5"/>
<circle cx="542.15" cy="260.90" r="1.55" fill="none" stroke="#a8d6f0" stroke-width="0.5"/>
<circle cx="542.66" cy="258.51" r="1.55" fill="none" stroke="#a8d6f0" stroke-width="0.5"/>
<circle cx="543.16" cy="259.69" r="1.55" fill="none" stroke="#a8d6f0" stroke-width="0.5"/>
<circle cx="543.67" cy="258.47" r="1.55" fill="none" stroke="#a8d6f0" stroke-width="0.5"/>
<circle cx="544.18" cy="260.63" r="1.55" fill="none" stroke="#a8d6f0" stroke-width="0.5"/>
<circle cx="544.69" cy="260.79" r="1.55" fill="none" stroke="#a8d6f0" stroke-width="0.5"/>
<circle cx="545.19" cy="259.25" r="1.55" fill="none" stroke="#a8d6f0" stroke-width="0.5"/>
<circle cx="545.70" cy="259.71" r="1.55" fill="none" stroke="#a8d6f0" stroke-width="0.5"/>
<circle cx="546.21" cy="256.24" r="1.55" fill="none" stroke="#a8d6f0" stroke-width="0.5"/>
<circle cx="546.71" cy="261.18" r="1.55" fill="none" stroke="#a8d6f0" stroke-width="0.5"/>
<circle cx="547.22" cy="258.63" r="1.55" fill="none" stroke="#a8d6f0" stroke-width="0.5"/>
<circle cx="547.73" cy="259.30" r="1.55" fill="none" stroke="#a8d6f0" stroke-width="0.5"/>
<circle cx="548.24" cy="262.39" r="1.55" fill="none" stroke="#a8d6f0" stroke-width="0.5"/>
<circle cx="548.74" cy="257.65" r="1.55" fill="none" stroke="#a8d6f0" stroke-width="0.5"/>
<circle cx="549.25" cy="259.06" r="1.55" fill="none" stroke="#a8d6f0" stroke-width="0.5"/>
<circle cx="549.76" cy="264.51" r="1.55" fill="none" stroke="#a8d6f0" stroke-width="0.5"/>
<circle cx="550.26" cy="258.21" r="1.55" fill="none" stroke="#a8d6f0" stroke-width="0.5"/>
<circle cx="550.77" cy="257.50" r="1.55" fill="none" stroke="#a8d6f0" stroke-width="0.5"/>
<circle cx="551.28" cy="261.69" r="1.55" fill="none" stroke="#a8d6f0" stroke-width="0.5"/>
<circle cx="551.78" cy="255.89" r="1.55" fill="none" stroke="#a8d6f0" stroke-width="0.5"/>
<circle cx="552.29" cy="259.62" r="1.55" fill="none" stroke="#a8d6f0" stroke-width="0.5"/>
<circle cx="552.80" cy="262.80" r="1.55" fill="none" stroke="#a8d6f0" stroke-width="0.5"/>
<circle cx="553.31" cy="258.83" r="1.55" fill="none" stroke="#a8d6f0" stroke-width="0.5"/>
<circle cx="553.81" cy="261.11" r="1.55" fill="none" stroke="#a8d6f0" stroke-width="0.5"/>
<circle cx="554.32" cy="263.51" r="1.55" fill="none" stroke="#a8d6f0" stroke-width="0.5"/>
<circle cx="554.83" cy="265.51" r="1.55" fill="none" stroke="#a8d6f0" stroke-width="0.5"/>
<circle cx="555.33" cy="259.94" r="1.55" fill="none" stroke="#a8d6f0" stroke-width="0.5"/>
<circle cx="555.84" cy="262.35" r="1.55" fill="none" stroke="#a8d6f0" stroke-width="0.5"/>
<circle cx="556.35" cy="259.17" r="1.55" fill="none" stroke="#a8d6f0" stroke-width="0.5"/>
<circle cx="556.85" cy="259.86" r="1.55" fill="none" stroke="#a8d6f0" stroke-width="0.5"/>
<circle cx="557.36" cy="262.09" r="1.55" fill="none" stroke="#a8d6f0" stroke-width="0.5"/>
<circle cx="557.87" cy="262.20" r="1.55" fill="none" stroke="#a8d6f0" stroke-width="0.5"/>
<circle cx="558.38" cy="256.85" r="1.55" fill="none" stroke="#a8d6f0" stroke-width="0.5"/>
<circle cx="558.88" cy="257.07" r="1.55" fill="none" stroke="#a8d6f0" stroke-width="0.5"/>
<circle cx="559.39" cy="259.41" r="1.55" fill="none" stroke="#a8d6f0" stroke-width="0.5"/>
<circle cx="559.90" cy="262.11" r="1.55" fill="none" stroke="#a8d6f0" stroke-width="0.5"/>
<circle cx="560.40" cy="263.66" r="1.55" fill="none" stroke="#a8d6f0" stroke-width="0.5"/>
<circle cx="560.91" cy="262.33" r="1.55" fill="none" stroke="#a8d6f0" stroke-width="0.5"/>
<circle cx="561.42" cy="257.55" r="1.55" fill="none" stroke="#a8d6f0" stroke-width="0.5"/>
<circle cx="561.92" cy="260.47" r="1.55" fill="none" stroke="#a8d6f0" stroke-width="0.5"/>
<circle cx="562.43" cy="262.31" r="1.55" fill="none" stroke="#a8d6f0" stroke-width="0.5"/>
<circle cx="562.94" cy="264.59" r="1.55" fill="none" stroke="#a8d6f0" stroke-width="0.5"/>
<circle cx="563.45" cy="261.36" r="1.55" fill="none" stroke="#a8d6f0" stroke-width="0.5"/>
<circle cx="563.95" cy="263.89" r="1.55" fill="none" stroke="#a8d6f0" stroke-width="0.5"/>
<circle cx="564.46" cy="261.84" r="1.55" fill="none" stroke="#a8d6f0" stroke-width="0.5"/>
<circle cx="564.97" cy="260.17" r="1.55" fill="none" stroke="#a8d6f0" stroke-width="0.5"/>
<circle cx="565.47" cy="259.45" r="1.55" fill="none" stroke="#a8d6f0" stroke-width="0.5"/>
<circle cx="565.98" cy="261.70" r="1.55" fill="none" stroke="#a8d6f0" stroke-width="0.5"/>
<circle cx="566.49" cy="262.89" r="1.55" fill="none" stroke="#a8d6f0" stroke-width="0.5"/>
<circle cx="566.99" cy="261.59" r="1.55" fill="none" stroke="#a8d6f0" stroke-width="0.5"/>
<circle cx="567.50" cy="257.91" r="1.55" fill="none" stroke="#a8d6f0" stroke-width="0.5"/>
<circle cx="568.01" cy="261.32" r="1.55" fill="none" stroke="#a8d6f0" stroke-width="0.5"/>
<circle cx="568.51" cy="265.55" r="1.55" fill="none" stroke="#a8d6f0" stroke-width="0.5"/>
<circle cx="569.02" cy="258.61" r="1.55" fill="none" stroke="#a8d6f0" stroke-width="0.5"/>
<circle cx="569.53" cy="261.71" r="1.55" fill="none" stroke="#a8d6f0" stroke-width="0.5"/>
<circle cx="570.04" cy="254.11" r="1.55" fill="none" stroke="#a8d6f0" stroke-width="0.5"/>
<circle cx="570.54" cy="263.47" r="1.55" fill="none" stroke="#a8d6f0" stroke-width="0.5"/>
<circle cx="571.05" cy="262.61" r="1.55" fill="none" stroke="#a8d6f0" stroke-width="0.5"/>
<circle cx="571.56" cy="263.11" r="1.55" fill="none" stroke="#a8d6f0" stroke-width="0.5"/>
<circle cx="572.06" cy="261.53" r="1.55" fill="none" stroke="#a8d6f0" stroke-width="0.5"/>
<circle cx="572.57" cy="263.80" r="1.55" fill="none" stroke="#a8d6f0" stroke-width="0.5"/>
<circle cx="573.08" cy="265.94" r="1.55" fill="none" stroke="#a8d6f0" stroke-width="0.5"/>
<circle cx="573.59" cy="267.00" r="1.55" fill="none" stroke="#a8d6f0" stroke-width="0.5"/>
<circle cx="574.09" cy="262.76" r="1.55" fill="none" stroke="#a8d6f0" stroke-width="0.5"/>
<circle cx="574.60" cy="263.68" r="1.55" fill="none" stroke="#a8d6f0" stroke-width="0.5"/>
<circle cx="575.11" cy="263.84" r="1.55" fill="none" stroke="#a8d6f0" stroke-width="0.5"/>
<circle cx="575.61" cy="257.47" r="1.55" fill="none" stroke="#a8d6f0" stroke-width="0.5"/>
<circle cx="576.12" cy="260.59" r="1.55" fill="none" stroke="#a8d6f0" stroke-width="0.5"/>
<circle cx="576.63" cy="259.89" r="1.55" fill="none" stroke="#a8d6f0" stroke-width="0.5"/>
<circle cx="577.13" cy="263.64" r="1.55" fill="none" stroke="#a8d6f0" stroke-width="0.5"/>
<circle cx="577.64" cy="261.75" r="1.55" fill="none" stroke="#a8d6f0" stroke-width="0.5"/>
<circle cx="578.15" cy="262.94" r="1.55" fill="none" stroke="#a8d6f0" stroke-width="0.5"/>
<circle cx="578.65" cy="262.91" r="1.55" fill="none" stroke="#a8d6f0" stroke-width="0.5"/>
<circle cx="579.16" cy="260.66" r="1.55" fill="none" stroke="#a8d6f0" stroke-width="0.5"/>
<circle cx="579.67" cy="260.98" r="1.55" fill="none" stroke="#a8d6f0" stroke-width="0.5"/>
<circle cx="580.18" cy="261.67" r="1.55" fill="none" stroke="#a8d6f0" stroke-width="0.5"/>
<circle cx="580.68" cy="262.02" r="1.55" fill="none" stroke="#a8d6f0" stroke-width="0.5"/>
<circle cx="581.19" cy="265.76" r="1.55" fill="none" stroke="#a8d6f0" stroke-width="0.5"/>
<circle cx="581.70" cy="264.08" r="1.55" fill="none" stroke="#a8d6f0" stroke-width="0.5"/>
<circle cx="582.20" cy="261.42" r="1.55" fill="none" stroke="#a8d6f0" stroke-width="0.5"/>
<circle cx="582.71" cy="263.16" r="1.55" fill="none" stroke="#a8d6f0" stroke-width="0.5"/>
<circle cx="583.22" cy="264.11" r="1.55" fill="none" stroke="#a8d6f0" stroke-width="0.5"/>
<circle cx="583.73" cy="261.41" r="1.55" fill="none" stroke="#a8d6f0" stroke-width="0.5"/>
<circle cx="584.23" cy="264.41" r="1.55" fill="none" stroke="#a8d6f0" stroke-width="0.5"/>
<circle cx="584.74" cy="263.79" r="1.55" fill="none" stroke="#a8d6f0" stroke-width="0.5"/>
<circle cx="585.25" cy="260.11" r="1.55" fill="none" stroke="#a8d6f0" stroke-width="0.5"/>
<circle cx="585.75" cy="263.01" r="1.55" fill="none" stroke="#a8d6f0" stroke-width="0.5"/>
<circle cx="586.26" cy="258.77" r="1.55" fill="none" stroke="#a8d6f0" stroke-width="0.5"/>
<circle cx="586.77" cy="260.89" r="1.55" fill="none" stroke="#a8d6f0" stroke-width="0.5"/>
<circle cx="587.27" cy="260.19" r="1.55" fill="none" stroke="#a8d6f0" stroke-width="0.5"/>
<circle cx="587.78" cy="259.42" r="1.55" fill="none" stroke="#a8d6f0" stroke-width="0.5"/>
<circle cx="588.29" cy="267.16" r="1.55" fill="none" stroke="#a8d6f0" stroke-width="0.5"/>
<circle cx="588.80" cy="262.23" r="1.55" fill="none" stroke="#a8d6f0" stroke-width="0.5"/>
<circle cx="589.30" cy="265.07" r="1.55" fill="none" stroke="#a8d6f0" stroke-width="0.5"/>
<circle cx="589.81" cy="263.10" r="1.55" fill="none" stroke="#a8d6f0" stroke-width="0.5"/>
<circle cx="590.32" cy="262.24" r="1.55" fill="none" stroke="#a8d6f0" stroke-width="0.5"/>
<circle cx="590.82" cy="259.06" r="1.55" fill="none" stroke="#a8d6f0" stroke-width="0.5"/>
<circle cx="591.33" cy="262.08" r="1.55" fill="none" stroke="#a8d6f0" stroke-width="0.5"/>
<circle cx="591.84" cy="258.10" r="1.55" fill="none" stroke="#a8d6f0" stroke-width="0.5"/>
<circle cx="592.34" cy="263.19" r="1.55" fill="none" stroke="#a8d6f0" stroke-width="0.5"/>
<circle cx="592.85" cy="262.08" r="1.55" fill="none" stroke="#a8d6f0" stroke-width="0.5"/>
<circle cx="593.36" cy="261.73" r="1.55" fill="none" stroke="#a8d6f0" stroke-width="0.5"/>
<circle cx="593.87" cy="259.72" r="1.55" fill="none" stroke="#a8d6f0" stroke-width="0.5"/>
<circle cx="594.37" cy="262.07" r="1.55" fill="none" stroke="#a8d6f0" stroke-width="0.5"/>
<circle cx="594.88" cy="263.40" r="1.55" fill="none" stroke="#a8d6f0" stroke-width="0.5"/>
<circle cx="595.39" cy="262.73" r="1.55" fill="none" stroke="#a8d6f0" stroke-width="0.5"/>
<circle cx="595.89" cy="265.25" r="1.55" fill="none" stroke="#a8d6f0" stroke-width="0.5"/>
<circle cx="596.40" cy="259.01" r="1.55" fill="none" stroke="#a8d6f0" stroke-width="0.5"/>
<circle cx="596.91" cy="260.22" r="1.55" fill="none" stroke="#a8d6f0" stroke-width="0.5"/>
<circle cx="597.41" cy="260.99" r="1.55" fill="none" stroke="#a8d6f0" stroke-width="0.5"/>
<circle cx="597.92" cy="261.36" r="1.55" fill="none" stroke="#a8d6f0" stroke-width="0.5"/>
<circle cx="598.43" cy="263.46" r="1.55" fill="none" stroke="#a8d6f0" stroke-width="0.5"/>
<circle cx="598.94" cy="263.01" r="1.55" fill="none" stroke="#a8d6f0" stroke-width="0.5"/>
<circle cx="599.44" cy="260.18" r="1.55" fill="none" stroke="#a8d6f0" stroke-width="0.5"/>
<circle cx="599.95" cy="263.97" r="1.55" fill="none" stroke="#a8d6f0" stroke-width="0.5"/>
<circle cx="600.46" cy="263.98" r="1.55" fill="none" stroke="#a8d6f0" stroke-width="0.5"/>
<circle cx="600.96" cy="258.47" r="1.55" fill="none" stroke="#a8d6f0" stroke-width="0.5"/>
<circle cx="601.47" cy="258.55" r="1.55" fill="none" stroke="#a8d6f0" stroke-width="0.5"/>
<circle cx="601.98" cy="261.57" r="1.55" fill="none" stroke="#a8d6f0" stroke-width="0.5"/>
<circle cx="602.48" cy="261.04" r="1.55" fill="none" stroke="#a8d6f0" stroke-width="0.5"/>
<circle cx="602.99" cy="261.90" r="1.55" fill="none" stroke="#a8d6f0" stroke-width="0.5"/>
<circle cx="603.50" cy="259.04" r="1.55" fill="none" stroke="#a8d6f0" stroke-width="0.5"/>
<circle cx="604.00" cy="263.48" r="1.55" fill="none" stroke="#a8d6f0" stroke-width="0.5"/>
<circle cx="604.51" cy="262.30" r="1.55" fill="none" stroke="#a8d6f0" stroke-width="0.5"/>
<circle cx="605.02" cy="261.41" r="1.55" fill="none" stroke="#a8d6f0" stroke-width="0.5"/>
<circle cx="605.53" cy="259.22" r="1.55" fill="none" stroke="#a8d6f0" stroke-width="0.5"/>
<circle cx="606.03" cy="263.25" r="1.55" fill="none" stroke="#a8d6f0" stroke-width="0.5"/>
<circle cx="606.54" cy="262.18" r="1.55" fill="none" stroke="#a8d6f0" stroke-width="0.5"/>
<circle cx="607.05" cy="263.94" r="1.55" fill="none" stroke="#a8d6f0" stroke-width="0.5"/>
<circle cx="607.55" cy="264.40" r="1.55" fill="none" stroke="#a8d6f0" stroke-width="0.5"/>
<circle cx="608.06" cy="264.46" r="1.55" fill="none" stroke="#a8d6f0" stroke-width="0.5"/>
<circle cx="608.57" cy="262.81" r="1.55" fill="none" stroke="#a8d6f0" stroke-width="0.5"/>
<circle cx="609.08" cy="261.00" r="1.55" fill="none" stroke="#a8d6f0" stroke-width="0.5"/>
<circle cx="609.58" cy="264.78" r="1.55" fill="none" stroke="#a8d6f0" stroke-width="0.5"/>
<circle cx="610.09" cy="264.64" r="1.55" fill="none" stroke="#a8d6f0" stroke-width="0.5"/>
<circle cx="610.60" cy="264.26" r="1.55" fill="none" stroke="#a8d6f0" stroke-width="0.5"/>
<circle cx="611.10" cy="262.56" r="1.55" fill="none" stroke="#a8d6f0" stroke-width="0.5"/>
<circle cx="611.61" cy="261.84" r="1.55" fill="none" stroke="#a8d6f0" stroke-width="0.5"/>
<circle cx="612.12" cy="266.48" r="1.55" fill="none" stroke="#a8d6f0" stroke-width="0.5"/>
<circle cx="612.62" cy="262.81" r="1.55" fill="none" stroke="#a8d6f0" stroke-width="0.5"/>
<circle cx="613.13" cy="266.06" r="1.55" fill="none" stroke="#a8d6f0" stroke-width="0.5"/>
<circle cx="613.64" cy="262.14" r="1.55" fill="none" stroke="#a8d6f0" stroke-width="0.5"/>
<circle cx="614.14" cy="266.15" r="1.55" fill="none" stroke="#a8d6f0" stroke-width="0.5"/>
<circle cx="614.65" cy="266.52" r="1.55" fill="none" stroke="#a8d6f0" stroke-width="0.5"/>
<circle cx="615.16" cy="265.74" r="1.55" fill="none" stroke="#a8d6f0" stroke-width="0.5"/>
<circle cx="615.67" cy="264.31" r="1.55" fill="none" stroke="#a8d6f0" stroke-width="0.5"/>
<circle cx="616.17" cy="266.58" r="1.55" fill="none" stroke="#a8d6f0" stroke-width="0.5"/>
<circle cx="616.68" cy="263.85" r="1.55" fill="none" stroke="#a8d6f0" stroke-width="0.5"/>
<circle cx="617.19" cy="264.09" r="1.55" fill="none" stroke="#a8d6f0" stroke-width="0.5"/>
<circle cx="617.69" cy="264.33" r="1.55" fill="none" stroke="#a8d6f0" stroke-width="0.5"/>
<circle cx="618.20" cy="263.98" r="1.55" fill="none" stroke="#a8d6f0" stroke-width="0.5"/>
<circle cx="618.71" cy="262.66" r="1.55" fill="none" stroke="#a8d6f0" stroke-width="0.5"/>
<circle cx="619.22" cy="266.49" r="1.55" fill="none" stroke="#a8d6f0" stroke-width="0.5"/>
<circle cx="619.72" cy="264.87" r="1.55" fill="none" stroke="#a8d6f0" stroke-width="0.5"/>
<circle cx="620.23" cy="265.03" r="1.55" fill="none" stroke="#a8d6f0" stroke-width="0.5"/>
<circle cx="620.74" cy="269.83" r="1.55" fill="none" stroke="#a8d6f0" stroke-width="0.5"/>
<circle cx="621.24" cy="264.22" r="1.55" fill="none" stroke="#a8d6f0" stroke-width="0.5"/>
<circle cx="621.75" cy="267.01" r="1.55" fill="none" stroke="#a8d6f0" stroke-width="0.5"/>
<circle cx="622.26" cy="266.97" r="1.55" fill="none" stroke="#a8d6f0" stroke-width="0.5"/>
<circle cx="622.76" cy="266.42" r="1.55" fill="none" stroke="#a8d6f0" stroke-width="0.5"/>
<circle cx="623.27" cy="265.23" r="1.55" fill="none" stroke="#a8d6f0" stroke-width="0.5"/>
<circle cx="623.78" cy="264.76" r="1.55" fill="none" stroke="#a8d6f0" stroke-width="0.5"/>
<circle cx="624.29" cy="264.48" r="1.55" fill="none" stroke="#a8d6f0" stroke-width="0.5"/>
<circle cx="624.79" cy="267.30" r="1.55" fill="none" stroke="#a8d6f0" stroke-width="0.5"/>
<circle cx="625.30" cy="264.13" r="1.55" fill="none" stroke="#a8d6f0" stroke-width="0.5"/>
<circle cx="625.81" cy="264.85" r="1.55" fill="none" stroke="#a8d6f0" stroke-width="0.5"/>
<circle cx="626.31" cy="266.80" r="1.55" fill="none" stroke="#a8d6f0" stroke-width="0.5"/>
<circle cx="626.82" cy="266.00" r="1.55" fill="none" stroke="#a8d6f0" stroke-width="0.5"/>
<circle cx="627.33" cy="264.15" r="1.55" fill="none" stroke="#a8d6f0" stroke-width="0.5"/>
<circle cx="627.83" cy="265.07" r="1.55" fill="none" stroke="#a8d6f0" stroke-width="0.5"/>
<circle cx="628.34" cy="264.51" r="1.55" fill="none" stroke="#a8d6f0" stroke-width="0.5"/>
<circle cx="628.85" cy="265.94" r="1.55" fill="none" stroke="#a8d6f0" stroke-width="0.5"/>
<circle cx="629.36" cy="263.59" r="1.55" fill="none" stroke="#a8d6f0" stroke-width="0.5"/>
<circle cx="629.86" cy="261.12" r="1.55" fill="none" stroke="#a8d6f0" stroke-width="0.5"/>
<circle cx="630.37" cy="265.28" r="1.55" fill="none" stroke="#a8d6f0" stroke-width="0.5"/>
<circle cx="630.88" cy="270.10" r="1.55" fill="none" stroke="#a8d6f0" stroke-width="0.5"/>
<circle cx="631.38" cy="262.41" r="1.55" fill="none" stroke="#a8d6f0" stroke-width="0.5"/>
<circle cx="631.89" cy="267.78" r="1.55" fill="none" stroke="#a8d6f0" stroke-width="0.5"/>
<circle cx="632.40" cy="269.71" r="1.55" fill="none" stroke="#a8d6f0" stroke-width="0.5"/>
<circle cx="632.90" cy="272.03" r="1.55" fill="none" stroke="#a8d6f0" stroke-width="0.5"/>
<circle cx="633.41" cy="265.57" r="1.55" fill="none" stroke="#a8d6f0" stroke-width="0.5"/>
<circle cx="633.92" cy="264.04" r="1.55" fill="none" stroke="#a8d6f0" stroke-width="0.5"/>
<circle cx="634.43" cy="264.28" r="1.55" fill="none" stroke="#a8d6f0" stroke-width="0.5"/>
<circle cx="634.93" cy="267.52" r="1.55" fill="none" stroke="#a8d6f0" stroke-width="0.5"/>
<circle cx="635.44" cy="263.29" r="1.55" fill="none" stroke="#a8d6f0" stroke-width="0.5"/>
<circle cx="635.95" cy="266.85" r="1.55" fill="none" stroke="#a8d6f0" stroke-width="0.5"/>
<circle cx="636.45" cy="268.06" r="1.55" fill="none" stroke="#a8d6f0" stroke-width="0.5"/>
<circle cx="636.96" cy="266.54" r="1.55" fill="none" stroke="#a8d6f0" stroke-width="0.5"/>
<circle cx="637.47" cy="266.21" r="1.55" fill="none" stroke="#a8d6f0" stroke-width="0.5"/>
<circle cx="637.97" cy="266.59" r="1.55" fill="none" stroke="#a8d6f0" stroke-width="0.5"/>
<circle cx="638.48" cy="265.78" r="1.55" fill="none" stroke="#a8d6f0" stroke-width="0.5"/>
<circle cx="638.99" cy="271.80" r="1.55" fill="none" stroke="#a8d6f0" stroke-width="0.5"/>
<circle cx="639.50" cy="263.07" r="1.55" fill="none" stroke="#a8d6f0" stroke-width="0.5"/>
<circle cx="640.00" cy="268.03" r="1.55" fill="none" stroke="#a8d6f0" stroke-width="0.5"/>
<circle cx="640.51" cy="265.20" r="1.55" fill="none" stroke="#a8d6f0" stroke-width="0.5"/>
<circle cx="641.02" cy="268.55" r="1.55" fill="none" stroke="#a8d6f0" stroke-width="0.5"/>
<circle cx="641.52" cy="266.31" r="1.55" fill="none" stroke="#a8d6f0" stroke-width="0.5"/>
<circle cx="642.03" cy="267.09" r="1.55" fill="none" stroke="#a8d6f0" stroke-width="0.5"/>
<circle cx="642.54" cy="270.34" r="1.55" fill="none" stroke="#a8d6f0" stroke-width="0.5"/>
<circle cx="643.04" cy="265.76" r="1.55" fill="none" stroke="#a8d6f0" stroke-width="0.5"/>
<circle cx="643.55" cy="265.17" r="1.55" fill="none" stroke="#a8d6f0" stroke-width="0.5"/>
<circle cx="644.06" cy="269.21" r="1.55" fill="none" stroke="#a8d6f0" stroke-width="0.5"/>
<circle cx="644.57" cy="271.47" r="1.55" fill="none" stroke="#a8d6f0" stroke-width="0.5"/>
<circle cx="645.07" cy="268.09" r="1.55" fill="none" stroke="#a8d6f0" stroke-width="0.5"/>
<circle cx="645.58" cy="268.52" r="1.55" fill="none" stroke="#a8d6f0" stroke-width="0.5"/>
<circle cx="646.09" cy="266.29" r="1.55" fill="none" stroke="#a8d6f0" stroke-width="0.5"/>
<circle cx="646.59" cy="266.57" r="1.55" fill="none" stroke="#a8d6f0" stroke-width="0.5"/>
<circle cx="647.10" cy="262.77" r="1.55" fill="none" stroke="#a8d6f0" stroke-width="0.5"/>
<circle cx="395.63" cy="250.87" r="1.55" fill="none" stroke="#e6a8ea" stroke-width="0.5"/>
<circle cx="396.14" cy="255.08" r="1.55" fill="none" stroke="#e6a8ea" stroke-width="0.5"/>
<circle cx="396.64" cy="253.15" r="1.55" fill="none" stroke="#e6a8ea" stroke-width="0.5"/>
<circle cx="397.15" cy="251.53" r="1.55" fill="none" stroke="#e6a8ea" stroke-width="0.5"/>
<circle cx="397.66" cy="248.89" r="1.55" fill="none" stroke="#e6a8ea" stroke-width="0.5"/>
<circle cx="398.16" cy="251.58" r="1.55" fill="none" stroke="#e6a8ea" stroke-width="0.5"/>
<circle cx="398.67" cy="254.62" r="1.55" fill="none" stroke="#e6a8ea" stroke-width="0.5"/>
<circle cx="399.18" cy="250.92" r="1.55" fill="none" stroke="#e6a8ea" stroke-width="0.5"/>
<circle cx="399.68" cy="253.69" r="1.55" fill="none" stroke="#e6a8ea" stroke-width="0.5"/>
<circle cx="400.19" cy="249.15" r="1.55" fill="none" stroke="#e6a8ea" stroke-width="0.5"/>
<circle cx="400.70" cy="251.86" r="1.55" fill="none" stroke="#e6a8ea" stroke-width="0.5"/>
<circle cx="401.21" cy="248.04" r="1.55" fill="none" stroke="#e6a8ea" stroke-width="0.5"/>
<circle cx="401.71" cy="251.55" r="1.55" fill="none" stroke="#e6a8ea" stroke-width="0.5"/>
<circle cx="402.22" cy="253.18" r="1.55" fill="none" stroke="#e6a8ea" stroke-width="0.5"/>
<circle cx="402.73" cy="253.97" r="1.55" fill="none" stroke="#e6a8ea" stroke-width="0.5"/>
<circle cx="403.23" cy="251.88" r="1.55" fill="none" stroke="#e6a8ea" stroke-width="0.5"/>
<circle cx="403.74" cy="250.35" r="1.55" fill="none" stroke="#e6a8ea" stroke-width="0.5"/>
<circle cx="404.25" cy="248.94" r="1.55" fill="none" stroke="#e6a8ea" stroke-width="0.5"/>
<circle cx="404.75" cy="250.62" r="1.55" fill="none" stroke="#e6a8ea" stroke-width="0.5"/>
<circle cx="405.26" cy="252.46" r="1.55" fill="none" stroke="#e6a8ea" stroke-width="0.5"/>
<circle cx="405.77" cy="250.13" r="1.55" fill="none" stroke="#e6a8ea" stroke-width="0.5"/>
<circle cx="406.28" cy="253.71" r="1.55" fill="none" stroke="#e6a8ea" stroke-width="0.5"/>
<circle cx="406.78" cy="250.08" r="1.55" fill="none" stroke="#e6a8ea" stroke-width="0.5"/>
<circle cx="407.29" cy="252.39" r="1.55" fill="none" stroke="#e6a8ea" stroke-width="0.5"/>
<circle cx="407.80" cy="248.20" r="1.55" fill="none" stroke="#e6a8ea" stroke-width="0.5"/>
<circle cx="408.30" cy="249.11" r="1.55" fill="none" stroke="#e6a8ea" stroke-width="0.5"/>
<circle cx="408.81" cy="250.26" r="1.55" fill="none" stroke="#e6a8ea" stroke-width="0.5"/>
<circle cx="409.32" cy="252.82" r="1.55" fill="none" stroke="#e6a8ea" stroke-width="0.5"/>
<circle cx="409.82" cy="249.89" r="1.55" fill="none" stroke="#e6a8ea" stroke-width="0.5"/>
<circle cx="410.33" cy="250.21" r="1.55" fill="none" stroke="#e6a8ea" stroke-width="0.5"/>
<circle cx="410.84" cy="251.91" r="1.55" fill="none" stroke="#e6a8ea" stroke-width="0.5"/>
<circle cx="411.35" cy="252.03" r="1.55" fill="none" stroke="#e6a8ea" stroke-width="0.5"/>
<circle cx="411.85" cy="248.51" r="1.55" fill="none" stroke="#e6a8ea" stroke-width="0.5"/>
<circle cx="412.36" cy="251.61" r="1.55" fill="none" stroke="#e6a8ea" stroke-width="0.5"/>
<circle cx="412.87" cy="250.04" r="1.55" fill="none" stroke="#e6a8ea" stroke-width="0.5"/>
<circle cx="413.37" cy="248.28" r="1.55" fill="none" stroke="#e6a8ea" stroke-width="0.5"/>
<circle cx="413.88" cy="253.62" r="1.55" fill="none" stroke="#e6a8ea" stroke-width="0.5"/>
<circle cx="414.39" cy="247.55" r="1.55" fill="none" stroke="#e6a8ea" stroke-width="0.5"/>
<circle cx="414.89" cy="248.99" r="1.55" fill="none" stroke="#e6a8ea" stroke-width="0.5"/>
<circle cx="415.40" cy="252.08" r="1.55" fill="none" stroke="#e6a8ea" stroke-width="0.5"/>
<circle cx="415.91" cy="252.65" r="1.55" fill="none" stroke="#e6a8ea" stroke-width="0.5"/>
<circle cx="416.42" cy="253.16" r="1.55" fill="none" stroke="#e6a8ea" stroke-width="0.5"/>
<circle cx="416.92" cy="249.17" r="1.55" fill="none" stroke="#e6a8ea" stroke-width="0.5"/>
<circle cx="417.43" cy="255.69" r="1.55" fill="none" stroke="#e6a8ea" stroke-width="0.5"/>
<circle cx="417.94" cy="249.20" r="1.55" fill="none" stroke="#e6a8ea" stroke-width="0.5"/>
<circle cx="418.44" cy="250.63" r="1.55" fill="none" stroke="#e6a8ea" stroke-width="0.5"/>
<circle cx="418.95" cy="252.23" r="1.55" fill="none" stroke="#e6a8ea" stroke-width="0.5"/>
<circle cx="419.46" cy="251.93" r="1.55" fill="none" stroke="#e6a8ea" stroke-width="0.5"/>
<circle cx="419.96" cy="251.69" r="1.55" fill="none" stroke="#e6a8ea" stroke-width="0.5"/>
<circle cx="420.47" cy="251.45" r="1.55" fill="none" stroke="#e6a8ea" stroke-width="0.5"/>
<circle cx="420.98" cy="249.40" r="1.55" fill="none" stroke="#e6a8ea" stroke-width="0.5"/>
<circle cx="421.49" cy="252.63" r="1.55" fill="none" stroke="#e6a8ea" stroke-width="0.5"/>
<circle cx="421.99" cy="249.07" r="1.55" fill="none" stroke="#e6a8ea" stroke-width="0.5"/>
<circle cx="422.50" cy="249.30" r="1.55" fill="none" stroke="#e6a8ea" stroke-width="0.5"/>
<circle cx="423.01" cy="251.63" r="1.55" fill="none" stroke="#e6a8ea" stroke-width="0.5"/>
<circle cx="423.51" cy="250.06" r="1.55" fill="none" stroke="#e6a8ea" stroke-width="0.5"/>
<circle cx="424.02" cy="252.23" r="1.55" fill="none" stroke="#e6a8ea" stroke-width="0.5"/>
<circle cx="424.53" cy="251.15" r="1.55" fill="none" stroke="#e6a8ea" stroke-width="0.5"/>
<circle cx="425.03" cy="250.36" r="1.55" fill="none" stroke="#e6a8ea" stroke-width="0.5"/>
<circle cx="425.54" cy="247.73" r="1.55" fill="none" stroke="#e6a8ea" stroke-width="0.5"/>
<circle cx="426.05" cy="251.46" r="1.55" fill="none" stroke="#e6a8ea" stroke-width="0.5"/>
<circle cx="426.56" cy="251.68" r="1.55" fill="none" stroke="#e6a8ea" stroke-width="0.5"/>
<circle cx="427.06" cy="251.38" r="1.55" fill="none" stroke="#e6a8ea" stroke-width="0.5"/>
<circle cx="427.57" cy="251.82" r="1.55" fill="none" stroke="#e6a8ea" stroke-width="0.5"/>
<circle cx="428.08" cy="253.52" r="1.55" fill="none" stroke="#e6a8ea" stroke-width="0.5"/>
<circle cx="428.58" cy="248.07" r="1.55" fill="none" stroke="#e6a8ea" stroke-width="0.5"/>
<circle cx="429.09" cy="252.76" r="1.55" fill="none" stroke="#e6a8ea" stroke-width="0.5"/>
<circle cx="429.60" cy="252.73" r="1.55" fill="none" stroke="#e6a8ea" stroke-width="0.5"/>
<circle cx="430.10" cy="253.01" r="1.55" fill="none" stroke="#e6a8ea" stroke-width="0.5"/>
<circle cx="430.61" cy="250.45" r="1.55" fill="none" stroke="#e6a8ea" stroke-width="0.5"/>
<circle cx="431.12" cy="246.27" r="1.55" fill="none" stroke="#e6a8ea" stroke-width="0.5"/>
<circle cx="431.62" cy="246.18" r="1.55" fill="none" stroke="#e6a8ea" stroke-width="0.5"/>
<circle cx="432.13" cy="250.03" r="1.55" fill="none" stroke="#e6a8ea" stroke-width="0.5"/>
<circle cx="432.64" cy="251.26" r="1.55" fill="none" stroke="#e6a8ea" stroke-width="0.5"/>
<circle cx="433.15" cy="252.00" r="1.55" fill="none" stroke="#e6a8ea" stroke-width="0.5"/>
<circle cx="433.65" cy="253.87" r="1.55" fill="none" stroke="#e6a8ea" stroke-width="0.5"/>
<circle cx="434.16" cy="250.66" r="1.55" fill="none" stroke="#e6a8ea" stroke-width="0.5"/>
<circle cx="434.67" cy="252.25" r="1.55" fill="none" stroke="#e6a8ea" stroke-width="0.5"/>
<circle cx="435.17" cy="248.24" r="1.55" fill="none" stroke="#e6a8ea" stroke-width="0.5"/>
<circle cx="435.68" cy="252.68" r="1.55" fill="none" stroke="#e6a8ea" stroke-width="0.5"/>
<circle cx="436.19" cy="254.09" r="1.55" fill="none" stroke="#e6a8ea" stroke-width="0.5"/>
<circle cx="436.70" cy="255.68" r="1.55" fill="none" stroke="#e6a8ea" stroke-width="0.5"/>
<circle cx="437.20" cy="255.61" r="1.55" fill="none" stroke="#e6a8ea" stroke-width="0.5"/>
<circle cx="437.71" cy="251.21" r="1.55" fill="none" stroke="#e6a8ea" stroke-width="0.5"/>
<circle cx="438.22" cy="251.75" r="1.55" fill="none" stroke="#e6a8ea" stroke-width="0.5"/>
<circle cx="438.72" cy="254.57" r="1.55" fill="none" stroke="#e6a8ea" stroke-width="0.5"/>
<circle cx="439.23" cy="255.32" r="1.55" fill="none" stroke="#e6a8ea" stroke-width="0.5"/>
<circle cx="439.74" cy="251.98" r="1.55" fill="none" stroke="#e6a8ea" stroke-width="0.5"/>
<circle cx="440.24" cy="253.21" r="1.55" fill="none" stroke="#e6a8ea" stroke-width="0.5"/>
<circle cx="440.75" cy="252.16" r="1.55" fill="none" stroke="#e6a8ea" stroke-width="0.5"/>
<circle cx="441.26" cy="252.65" r="1.55" fill="none" stroke="#e6a8ea" stroke-width="0.5"/>
<circle cx="441.77" cy="254.12" r="1.55" fill="none" stroke="#e6a8ea" stroke-width="0.5"/>
<circle cx="442.27" cy="255.93" r="1.55" fill="none" stroke="#e6a8ea" stroke-width="0.5"/>
<circle cx="442.78" cy="252.47" r="1.55" fill="none" stroke="#e6a8ea" stroke-width="0.5"/>
<circle cx="443.29" cy="252.57" r="1.55" fill="none" stroke="#e6a8ea" stroke-width="0.5"/>
<circle cx="443.79" cy="252.44" r="1.55" fill="none" stroke="#e6a8ea" stroke-width="0.5"/>
<circle cx="444.30" cy="251.05" r="1.55" fill="none" stroke="#e6a8ea" stroke-width="0.5"/>
<circle cx="444.81" cy="251.11" r="1.55" fill="none" stroke="#e6a8ea" stroke-width="0.5"/>
<circle cx="445.31" cy="253.79" r="1.55" fill="none" stroke="#e6a8ea" stroke-width="0.5"/>
<circle cx="445.82" cy="251.81" r="1.55" fill="none" stroke="#e6a8ea" stroke-width="0.5"/>
<circle cx="446.33" cy="256.98" r="1.55" fill="none" stroke="#e6a8ea" stroke-width="0.5"/>
<circle cx="446.84" cy="251.67" r="1.55" fill="none" stroke="#e6a8ea" stroke-width="0.5"/>
<circle cx="447.34" cy="253.02" r="1.55" fill="none" stroke="#e6a8ea" stroke-width="0.5"/>
<circle cx="447.85" cy="251.08" r="1.55" fill="none" stroke="#e6a8ea" stroke-width="0.5"/>
<circle cx="448.36" cy="251.15" r="1.55" fill="none" stroke="#e6a8ea" stroke-width="0.5"/>
<circle cx="448.86" cy="254.78" r="1.55" fill="none" stroke="#e6a8ea" stroke-width="0.5"/>
<circle cx="449.37" cy="253.27" r="1.55" fill="none" stroke="#e6a8ea" stroke-width="0.5"/>
<circle cx="449.88" cy="250.96" r="1.55" fill="none" stroke="#e6a8ea" stroke-width="0.5"/>
<circle cx="450.38" cy="254.08" r="1.55" fill="none" stroke="#e6a8ea" stroke-width="0.5"/>
<circle cx="450.89" cy="252.93" r="1.55" fill="none" stroke="#e6a8ea" stroke-width="0.5"/>
<circle cx="451.40" cy="254.22" r="1.55" fill="none" stroke="#e6a8ea" stroke-width="0.5"/>
<circle cx="451.91" cy="251.98" r="1.55" fill="none" stroke="#e6a8ea" stroke-width="0.5"/>
<circle cx="452.41" cy="252.53" r="1.55" fill="none" stroke="#e6a8ea" stroke-width="0.5"/>
<circle cx="452.92" cy="254.63" r="1.55" fill="none" stroke="#e6a8ea" stroke-width="0.5"/>
<circle cx="453.43" cy="255.75" r="1.55" fill="none" stroke="#e6a8ea" stroke-width="0.5"/>
<circle cx="453.93" cy="257.24" r="1.55" fill="none" stroke="#e6a8ea" stroke-width="0.5"/>
<circle cx="454.44" cy="251.49" r="1.55" fill="none" stroke="#e6a8ea" stroke-width="0.5"/>
<circle cx="454.95" cy="253.92" r="1.55" fill="none" stroke="#e6a8ea" stroke-width="0.5"/>
<circle cx="455.45" cy="254.37" r="1.55" fill="none" stroke="#e6a8ea" stroke-width="0.5"/>
<circle cx="455.96" cy="254.05" r="1.55" fill="none" stroke="#e6a8ea" stroke-width="0.5"/>
<circle cx="456.47" cy="254.78" r="1.55" fill="none" stroke="#e6a8ea" stroke-width="0.5"/>
<circle cx="456.98" cy="251.76" r="1.55" fill="none" stroke="#e6a8ea" stroke-width="0.5"/>
<circle cx="457.48" cy="251.86" r="1.55" fill="none" stroke="#e6a8ea" stroke-width="0.5"/>
<circle cx="457.99" cy="257.21" r="1.55" fill="none" stroke="#e6a8ea" stroke-width="0.5"/>
<circle cx="458.50" cy="253.05" r="1.55" fill="none" stroke="#e6a8ea" stroke-width="0.5"/>
<circle cx="459.00" cy="252.78" r="1.55" fill="none" stroke="#e6a8ea" stroke-width="0.5"/>
<circle cx="459.51" cy="253.56" r="1.55" fill="none" stroke="#e6a8ea" stroke-width="0.5"/>
<circle cx="460.02" cy="252.74" r="1.55" fill="none" stroke="#e6a8ea" stroke-width="0.5"/>
<circle cx="460.52" cy="249.77" r="1.55" fill="none" stroke="#e6a8ea" stroke-width="0.5"/>
<circle cx="461.03" cy="252.29" r="1.55" fill="none" stroke="#e6a8ea" stroke-width="0.5"/>
<circle cx="461.54" cy="250.61" r="1.55" fill="none" stroke="#e6a8ea" stroke-width="0.5"/>
<circle cx="462.05" cy="250.92" r="1.55" fill="none" stroke="#e6a8ea" stroke-width="0.5"/>
<circle cx="462.55" cy="255.64" r="1.55" fill="none" stroke="#e6a8ea" stroke-width="0.5"/>
<circle cx="463.06" cy="249.44" r="1.55" fill="none" stroke="#e6a8ea" stroke-width="0.5"/>
<circle cx="463.57" cy="252.34" r="1.55" fill="none" stroke="#e6a8ea" stroke-width="0.5"/>
<circle cx="464.07" cy="253.24" r="1.55" fill="none" stroke="#e6a8ea" stroke-width="0.5"/>
<circle cx="464.58" cy="251.09" r="1.55" fill="none" stroke="#e6a8ea" stroke-width="0.5"/>
<circle cx="465.09" cy="248.43" r="1.55" fill="none" stroke="#e6a8ea" stroke-width="0.5"/>
<circle cx="465.59" cy="254.08" r="1.55" fill="none" stroke="#e6a8ea" stroke-width="0.5"/>
<circle cx="466.10" cy="253.84" r="1.55" fill="none" stroke="#e6a8ea" stroke-width="0.5"/>
<circle cx="466.61" cy="251.85" r="1.55" fill="none" stroke="#e6a8ea" stroke-width="0.5"/>
<circle cx="467.12" cy="255.83" r="1.55" fill="none" stroke="#e6a8ea" stroke-width="0.5"/>
<circle cx="467.62" cy="254.54" r="1.55" fill="none" stroke="#e6a8ea" stroke-width="0.5"/>
<circle cx="468.13" cy="252.30" r="1.55" fill="none" stroke="#e6a8ea" stroke-width="0.5"/>
<circle cx="468.64" cy="250.95" r="1.55" fill="none" stroke="#e6a8ea" stroke-width="0.5"/>
<circle cx="469.14" cy="251.29" r="1.55" fill="none" stroke="#e6a8ea" stroke-width="0.5"/>
<circle cx="469.65" cy="250.69" r="1.55" fill="none" stroke="#e6a8ea" stroke-width="0.5"/>
<circle cx="470.16" cy="250.19" r="1.55" fill="none" stroke="#e6a8ea" stroke-width="0.5"/>
<circle cx="470.66" cy="253.01" r="1.55" fill="none" stroke="#e6a8ea" stroke-width="0.5"/>
<circle cx="471.17" cy="252.80" r="1.55" fill="none" stroke="#e6a8ea" stroke-width="0.5"/>
<circle cx="471.68" cy="252.70" r="1.55" fill="none" stroke="#e6a8ea" stroke-width="0.5"/>
<circle cx="472.19" cy="252.67" r="1.55" fill="none" stroke="#e6a8ea" stroke-width="0.5"/>
<circle cx="472.69" cy="249.92" r="1.55" fill="none" stroke="#e6a8ea" stroke-width="0.5"/>
<circle cx="473.20" cy="250.34" r="1.55" fill="none" stroke="#e6a8ea" stroke-width="0.5"/>
<circle cx="473.71" cy="255.81" r="1.55" fill="none" stroke="#e6a8ea" stroke-width="0.5"/>
<circle cx="474.21" cy="250.97" r="1.55" fill="none" stroke="#e6a8ea" stroke-width="0.5"/>
<circle cx="474.72" cy="253.83" r="1.55" fill="none" stroke="#e6a8ea" stroke-width="0.5"/>
<circle cx="475.23" cy="253.90" r="1.55" fill="none" stroke="#e6a8ea" stroke-width="0.5"/>
<circle cx="475.73" cy="249.31" r="1.55" fill="none" stroke="#e6a8ea" stroke-width="0.5"/>
<circle cx="476.24" cy="249.20" r="1.55" fill="none" stroke="#e6a8ea" stroke-width="0.5"/>
<circle cx="476.75" cy="249.44" r="1.55" fill="none" stroke="#e6a8ea" stroke-width="0.5"/>
<circle cx="477.25" cy="250.34" r="1.55" fill="none" stroke="#e6a8ea" stroke-width="0.5"/>
<circle cx="477.76" cy="248.15" r="1.55" fill="none" stroke="#e6a8ea" stroke-width="0.5"/>
<circle cx="478.27" cy="253.69" r="1.55" fill="none" stroke="#e6a8ea" stroke-width="0.5"/>
<circle cx="478.78" cy="249.91" r="1.55" fill="none" stroke="#e6a8ea" stroke-width="0.5"/>
<circle cx="479.28" cy="252.73" r="1.55" fill="none" stroke="#e6a8ea" stroke-width="0.5"/>
<circle cx="479.79" cy="252.56" r="1.55" fill="none" stroke="#e6a8ea" stroke-width="0.5"/>
<circle cx="480.30" cy="254.47" r="1.55" fill="none" stroke="#e6a8ea" stroke-width="0.5"/>
<circle cx="480.80" cy="248.45" r="1.55" fill="none" stroke="#e6a8ea" stroke-width="0.5"/>
<circle cx="481.31" cy="247.94" r="1.55" fill="none" stroke="#e6a8ea" stroke-width="0.5"/>
<circle cx="481.82" cy="249.60" r="1.55" fill="none" stroke="#e6a8ea" stroke-width="0.5"/>
<circle cx="482.33" cy="252.33" r="1.55" fill="none" stroke="#e6a8ea" stroke-width="0.5"/>
<circle cx="482.83" cy="250.85" r="1.55" fill="none" stroke="#e6a8ea" stroke-width="0.5"/>
<circle cx="483.34" cy="253.17" r="1.55" fill="none" stroke="#e6a8ea" stroke-width="0.5"/>
<circle cx="483.85" cy="251.63" r="1.55" fill="none" stroke="#e6a8ea" stroke-width="0.5"/>
<circle cx="484.35" cy="248.23" r="1.55" fill="none" stroke="#e6a8ea" stroke-width="0.5"/>
<circle cx="484.86" cy="248.02" r="1.55" fill="none" stroke="#e6a8ea" stroke-width="0.5"/>
<circle cx="485.37" cy="249.77" r="1.55" fill="none" stroke="#e6a8ea" stroke-width="0.5"/>
<circle cx="485.87" cy="249.53" r="1.55" fill="none" stroke="#e6a8ea" stroke-width="0.5"/>
<circle cx="486.38" cy="251.23" r="1.55" fill="none" stroke="#e6a8ea" stroke-width="0.5"/>
<circle cx="486.89" cy="250.27" r="1.55" fill="none" stroke="#e6a8ea" stroke-width="0.5"/>
<circle cx="487.40" cy="251.26" r="1.55" fill="none" stroke="#e6a8ea" stroke-width="0.5"/>
<circle cx="487.90" cy="250.01" r="1.55" fill="none" stroke="#e6a8ea" stroke-width="0.5"/>
<circle cx="488.41" cy="252.11" r="1.55" fill="none" stroke="#e6a8ea" stroke-width="0.5"/>
<circle cx="488.92" cy="249.00" r="1.55" fill="none" stroke="#e6a8ea" stroke-width="0.5"/>
<circle cx="489.42" cy="251.33" r="1.55" fill="none" stroke="#e6a8ea" stroke-width="0.5"/>
<circle cx="489.93" cy="250.48" r="1.55" fill="none" stroke="#e6a8ea" stroke-width="0.5"/>
<circle cx="490.44" cy="251.11" r="1.55" fill="none" stroke="#e6a8ea" stroke-width="0.5"/>
<circle cx="490.94" cy="247.95" r="1.55" fill="none" stroke="#e6a8ea" stroke-width="0.5"/>
<circle cx="491.45" cy="249.12" r="1.55" fill="none" stroke="#e6a8ea" stroke-width="0.5"/>
<circle cx="491.96" cy="252.35" r="1.55" fill="none" stroke="#e6a8ea" stroke-width="0.5"/>
<circle cx="492.47" cy="252.62" r="1.55" fill="none" stroke="#e6a8ea" stroke-width="0.5"/>
<circle cx="492.97" cy="249.74" r="1.55" fill="none" stroke="#e6a8ea" stroke-width="0.5"/>
<circle cx="493.48" cy="250.63" r="1.55" fill="none" stroke="#e6a8ea" stroke-width="0.5"/>
<circle cx="493.99" cy="251.28" r="1.55" fill="none" stroke="#e6a8ea" stroke-width="0.5"/>
<circle cx="494.49" cy="250.43" r="1.55" fill="none" stroke="#e6a8ea" stroke-width="0.5"/>
<circle cx="495.00" cy="247.72" r="1.55" fill="none" stroke="#e6a8ea" stroke-width="0.5"/>
<circle cx="495.51" cy="251.02" r="1.55" fill="none" stroke="#e6a8ea" stroke-width="0.5"/>
<circle cx="496.01" cy="248.15" r="1.55" fill="none" stroke="#e6a8ea" stroke-width="0.5"/>
<circle cx="496.52" cy="251.80" r="1.55" fill="none" stroke="#e6a8ea" stroke-width="0.5"/>
<circle cx="497.03" cy="251.33" r="1.55" fill="none" stroke="#e6a8ea" stroke-width="0.5"/>
<circle cx="497.54" cy="250.31" r="1.55" fill="none" stroke="#e6a8ea" stroke-width="0.5"/>
<circle cx="498.04" cy="251.05" r="1.55" fill="none" stroke="#e6a8ea" stroke-width="0.5"/>
<circle cx="498.55" cy="251.87" r="1.55" fill="none" stroke="#e6a8ea" stroke-width="0.5"/>
<circle cx="499.06" cy="252.96" r="1.55" fill="none" stroke="#e6a8ea" stroke-width="0.5"/>
<circle cx="499.56" cy="251.61" r="1.55" fill="none" stroke="#e6a8ea" stroke-width="0.5"/>
<circle cx="500.07" cy="251.76" r="1.55" fill="none" stroke="#e6a8ea" stroke-width="0.5"/>
<circle cx="500.58" cy="251.07" r="1.55" fill="none" stroke="#e6a8ea" stroke-width="0.5"/>
<circle cx="501.08" cy="249.15" r="1.55" fill="none" stroke="#e6a8ea" stroke-width="0.5"/>
<circle cx="501.59" cy="250.22" r="1.55" fill="none" stroke="#e6a8ea" stroke-width="0.5"/>
<circle cx="502.10" cy="249.08" r="1.55" fill="none" stroke="#e6a8ea" stroke-width="0.5"/>
<circle cx="502.61" cy="250.94" r="1.55" fill="none" stroke="#e6a8ea" stroke-width="0.5"/>
<circle cx="503.11" cy="250.56" r="1.55" fill="none" stroke="#e6a8ea" stroke-width="0.5"/>
<circle cx="503.62" cy="250.30" r="1.55" fill="none" stroke="#e6a8ea" stroke-width="0.5"/>
<circle cx="504.13" cy="250.20" r="1.55" fill="none" stroke="#e6a8ea" stroke-width="0.5"/>
<circle cx="504.63" cy="249.72" r="1.55" fill="none" stroke="#e6a8ea" stroke-width="0.5"/>
<circle cx="505.14" cy="252.76" r="1.55" fill="none" stroke="#e6a8ea" stroke-width="0.5"/>
<circle cx="505.65" cy="250.99" r="1.55" fill="none" stroke="#e6a8ea" stroke-width="0.5"/>
<circle cx="506.15" cy="251.49" r="1.55" fill="none" stroke="#e6a8ea" stroke-width="0.5"/>
<circle cx="506.66" cy="249.65" r="1.55" fill="none" stroke="#e6a8ea" stroke-width="0.5"/>
<circle cx="507.17" cy="250.44" r="1.55" fill="none" stroke="#e6a8ea" stroke-width="0.5"/>
<circle cx="507.68" cy="253.20" r="1.55" fill="none" stroke="#e6a8ea" stroke-width="0.5"/>
<circle cx="508.18" cy="251.41" r="1.55" fill="none" stroke="#e6a8ea" stroke-width="0.5"/>
<circle cx="508.69" cy="250.95" r="1.55" fill="none" stroke="#e6a8ea" stroke-width="0.5"/>
<circle cx="509.20" cy="252.27" r="1.55" fill="none" stroke="#e6a8ea" stroke-width="0.5"/>
<circle cx="509.70" cy="250.09" r="1.55" fill="none" stroke="#e6a8ea" stroke-width="0.5"/>
<circle cx="510.21" cy="252.05" r="1.55" fill="none" stroke="#e6a8ea" stroke-width="0.5"/>
<circle cx="510.72" cy="255.02" r="1.55" fill="none" stroke="#e6a8ea" stroke-width="0.5"/>
<circle cx="511.22" cy="252.14" r="1.55" fill="none" stroke="#e6a8ea" stroke-width="0.5"/>
<circle cx="511.73" cy="251.33" r="1.55" fill="none" stroke="#e6a8ea" stroke-width="0.5"/>
<circle cx="512.24" cy="254.41" r="1.55" fill="none" stroke="#e6a8ea" stroke-width="0.5"/>
<circle cx="512.75" cy="251.67" r="1.55" fill="none" stroke="#e6a8ea" stroke-width="0.5"/>
<circle cx="513.25" cy="258.26" r="1.55" fill="none" stroke="#e6a8ea" stroke-width="0.5"/>
<circle cx="513.76" cy="249.34" r="1.55" fill="none" stroke="#e6a8ea" stroke-width="0.5"/>
<circle cx="514.27" cy="255.89" r="1.55" fill="none" stroke="#e6a8ea" stroke-width="0.5"/>
<circle cx="514.77" cy="254.24" r="1.55" fill="none" stroke="#e6a8ea" stroke-width="0.5"/>
<circle cx="515.28" cy="254.03" r="1.55" fill="none" stroke="#e6a8ea" stroke-width="0.5"/>
<circle cx="515.79" cy="256.17" r="1.55" fill="none" stroke="#e6a8ea" stroke-width="0.5"/>
<circle cx="516.29" cy="253.03" r="1.55" fill="none" stroke="#e6a8ea" stroke-width="0.5"/>
<circle cx="516.80" cy="255.41" r="1.55" fill="none" stroke="#e6a8ea" stroke-width="0.5"/>
<circle cx="517.31" cy="256.30" r="1.55" fill="none" stroke="#e6a8ea" stroke-width="0.5"/>
<circle cx="517.82" cy="258.21" r="1.55" fill="none" stroke="#e6a8ea" stroke-width="0.5"/>
<circle cx="518.32" cy="252.64" r="1.55" fill="none" stroke="#e6a8ea" stroke-width="0.5"/>
<circle cx="518.83" cy="251.83" r="1.55" fill="none" stroke="#e6a8ea" stroke-width="0.5"/>
<circle cx="519.34" cy="254.64" r="1.55" fill="none" stroke="#e6a8ea" stroke-width="0.5"/>
<circle cx="519.84" cy="253.79" r="1.55" fill="none" stroke="#e6a8ea" stroke-width="0.5"/>
<circle cx="520.35" cy="251.28" r="1.55" fill="none" stroke="#e6a8ea" stroke-width="0.5"/>
<circle cx="520.86" cy="253.61" r="1.55" fill="none" stroke="#e6a8ea" stroke-width="0.5"/>
<circle cx="521.36" cy="252.27" r="1.55" fill="none" stroke="#e6a8ea" stroke-width="0.5"/>
<circle cx="521.87" cy="252.62" r="1.55" fill="none" stroke="#e6a8ea" stroke-width="0.5"/>
<circle cx="522.38" cy="253.19" r="1.55" fill="none" stroke="#e6a8ea" stroke-width="0.5"/>
<circle cx="522.88" cy="253.65" r="1.55" fill="none" stroke="#e6a8ea" stroke-width="0.5"/>
<circle cx="523.39" cy="252.50" r="1.55" fill="none" stroke="#e6a8ea" stroke-width="0.5"/>
<circle cx="523.90" cy="254.38" r="1.55" fill="none" stroke="#e6a8ea" stroke-width="0.5"/>
<circle cx="524.41" cy="254.62" r="1.55" fill="none" stroke="#e6a8ea" stroke-width="0.5"/>
<circle cx="524.91" cy="256.28" r="1.55" fill="none" stroke="#e6a8ea" stroke-width="0.5"/>
<circle cx="525.42" cy="258.90" r="1.55" fill="none" stroke="#e6a8ea" stroke-width="0.5"/>
<circle cx="525.93" cy="256.80" r="1.55" fill="none" stroke="#e6a8ea" stroke-width="0.5"/>
<circle cx="526.43" cy="255.76" r="1.55" fill="none" stroke="#e6a8ea" stroke-width="0.5"/>
<circle cx="526.94" cy="253.24" r="1.55" fill="none" stroke="#e6a8ea" stroke-width="0.5"/>
<circle cx="527.45" cy="255.92" r="1.55" fill="none" stroke="#e6a8ea" stroke-width="0.5"/>
<circle cx="527.96" cy="259.04" r="1.55" fill="none" stroke="#e6a8ea" stroke-width="0.5"/>
<circle cx="528.46" cy="254.10" r="1.55" fill="none" stroke="#e6a8ea" stroke-width="0.5"/>
<circle cx="528.97" cy="253.12" r="1.55" fill="none" stroke="#e6a8ea" stroke-width="0.5"/>
<circle cx="529.48" cy="254.89" r="1.55" fill="none" stroke="#e6a8ea" stroke-width="0.5"/>
<circle cx="529.98" cy="254.99" r="1.55" fill="none" stroke="#e6a8ea" stroke-width="0.5"/>
<circle cx="530.49" cy="255.07" r="1.55" fill="none" stroke="#e6a8ea" stroke-width="0.5"/>
<circle cx="531.00" cy="255.77" r="1.55" fill="none" stroke="#e6a8ea" stroke-width="0.5"/>
<circle cx="531.50" cy="253.05" r="1.55" fill="none" stroke="#e6a8ea" stroke-width="0.5"/>
<circle cx="532.01" cy="257.30" r="1.55" fill="none" stroke="#e6a8ea" stroke-width="0.5"/>
<circle cx="532.52" cy="257.20" r="1.55" fill="none" stroke="#e6a8ea" stroke-width="0.5"/>
<circle cx="533.03" cy="258.58" r="1.55" fill="none" stroke="#e6a8ea" stroke-width="0.5"/>
<circle cx="533.53" cy="256.83" r="1.55" fill="none" stroke="#e6a8ea" stroke-width="0.5"/>
<circle cx="534.04" cy="257.22" r="1.55" fill="none" stroke="#e6a8ea" stroke-width="0.5"/>
<circle cx="534.55" cy="257.19" r="1.55" fill="none" stroke="#e6a8ea" stroke-width="0.5"/>
<circle cx="535.05" cy="255.62" r="1.55" fill="none" stroke="#e6a8ea" stroke-width="0.5"/>
<circle cx="535.56" cy="254.05" r="1.55" fill="none" stroke="#e6a8ea" stroke-width="0.5"/>
<circle cx="536.07" cy="258.62" r="1.55" fill="none" stroke="#e6a8ea" stroke-width="0.5"/>
<circle cx="536.57" cy="255.85" r="1.55" fill="none" stroke="#e6a8ea" stroke-width="0.5"/>
<circle cx="537.08" cy="257.44" r="1.55" fill="none" stroke="#e6a8ea" stroke-width="0.5"/>
<circle cx="537.59" cy="257.40" r="1.55" fill="none" stroke="#e6a8ea" stroke-width="0.5"/>
<circle cx="538.10" cy="257.02" r="1.55" fill="none" stroke="#e6a8ea" stroke-width="0.5"/>
<circle cx="538.60" cy="255.49" r="1.55" fill="none" stroke="#e6a8ea" stroke-width="0.5"/>
<circle cx="539.11" cy="259.26" r="1.55" fill="none" stroke="#e6a8ea" stroke-width="0.5"/>
<circle cx="539.62" cy="253.40" r="1.55" fill="none" stroke="#e6a8ea" stroke-width="0.5"/>
<circle cx="540.12" cy="256.42" r="1.55" fill="none" stroke="#e6a8ea" stroke-width="0.5"/>
<circle cx="540.63" cy="257.65" r="1.55" fill="none" stroke="#e6a8ea" stroke-width="0.5"/>
<circle cx="541.14" cy="259.31" r="1.55" fill="none" stroke="#e6a8ea" stroke-width="0.5"/>
<circle cx="541.64" cy="254.30" r="1.55" fill="none" stroke="#e6a8ea" stroke-width="0.5"/>
<circle cx="542.15" cy="255.01" r="1.55" fill="none" stroke="#e6a8ea" stroke-width="0.5"/>
<circle cx="542.66" cy="254.67" r="1.55" fill="none" stroke="#e6a8ea" stroke-width="0.5"/>
<circle cx="543.16" cy="256.06" r="1.55" fill="none" stroke="#e6a8ea" stroke-width="0.5"/>
<circle cx="543.67" cy="253.08" r="1.55" fill="none" stroke="#e6a8ea" stroke-width="0.5"/>
<circle cx="544.18" cy="253.41" r="1.55" fill="none" stroke="#e6a8ea" stroke-width="0.5"/>
<circle cx="544.69" cy="252.33" r="1.55" fill="none" stroke="#e6a8ea" stroke-width="0.5"/>
<circle cx="545.19" cy="255.72" r="1.55" fill="none" stroke="#e6a8ea" stroke-width="0.5"/>
<circle cx="545.70" cy="254.58" r="1.55" fill="none" stroke="#e6a8ea" stroke-width="0.5"/>
<circle cx="546.21" cy="257.11" r="1.55" fill="none" stroke="#e6a8ea" stroke-width="0.5"/>
<circle cx="546.71" cy="256.17" r="1.55" fill="none" stroke="#e6a8ea" stroke-width="0.5"/>
<circle cx="547.22" cy="257.00" r="1.55" fill="none" stroke="#e6a8ea" stroke-width="0.5"/>
<circle cx="547.73" cy="256.31" r="1.55" fill="none" stroke="#e6a8ea" stroke-width="0.5"/>
<circle cx="548.24" cy="256.28" r="1.55" fill="none" stroke="#e6a8ea" stroke-width="0.5"/>
<circle cx="548.74" cy="256.36" r="1.55" fill="none" stroke="#e6a8ea" stroke-width="0.5"/>
<circle cx="549.25" cy="256.43" r="1.55" fill="none" stroke="#e6a8ea" stroke-width="0.5"/>
<circle cx="549.76" cy="256.11" r="1.55" fill="none" stroke="#e6a8ea" stroke-width="0.5"/>
<circle cx="550.26" cy="257.18" r="1.55" fill="none" stroke="#e6a8ea" stroke-width="0.5"/>
<circle cx="550.77" cy="257.73" r="1.55" fill="none" stroke="#e6a8ea" stroke-width="0.5"/>
<circle cx="551.28" cy="257.28" r="1.55" fill="none" stroke="#e6a8ea" stroke-width="0.5"/>
<circle cx="551.78" cy="255.18" r="1.55" fill="none" stroke="#e6a8ea" stroke-width="0.5"/>
<circle cx="552.29" cy="255.05" r="1.55" fill="none" stroke="#e6a8ea" stroke-width="0.5"/>
<circle cx="552.80" cy="254.36" r="1.55" fill="none" stroke="#e6a8ea" stroke-width="0.5"/>
<circle cx="553.31" cy="251.83" r="1.55" fill="none" stroke="#e6a8ea" stroke-width="0.5"/>
<circle cx="553.81" cy="258.33" r="1.55" fill="none" stroke="#e6a8ea" stroke-width="0.5"/>
<circle cx="554.32" cy="254.81" r="1.55" fill="none" stroke="#e6a8ea" stroke-width="0.5"/>
<circle cx="554.83" cy="258.87" r="1.55" fill="none" stroke="#e6a8ea" stroke-width="0.5"/>
<circle cx="555.33" cy="257.48" r="1.55" fill="none" stroke="#e6a8ea" stroke-width="0.5"/>
<circle cx="555.84" cy="257.93" r="1.55" fill="none" stroke="#e6a8ea" stroke-width="0.5"/>
<circle cx="556.35" cy="256.29" r="1.55" fill="none" stroke="#e6a8ea" stroke-width="0.5"/>
<circle cx="556.85" cy="253.93" r="1.55" fill="none" stroke="#e6a8ea" stroke-width="0.5"/>
<circle cx="557.36" cy="253.53" r="1.55" fill="none" stroke="#e6a8ea" stroke-width="0.5"/>
<circle cx="557.87" cy="255.76" r="1.55" fill="none" stroke="#e6a8ea" stroke-width="0.5"/>
<circle cx="558.38" cy="254.58" r="1.55" fill="none" stroke="#e6a8ea" stroke-width="0.5"/>
<circle cx="558.88" cy="255.61" r="1.55" fill="none" stroke="#e6a8ea" stroke-width="0.5"/>
<circle cx="559.39" cy="258.75" r="1.55" fill="none" stroke="#e6a8ea" stroke-width="0.5"/>
<circle cx="559.90" cy="253.29" r="1.55" fill="none" stroke="#e6a8ea" stroke-width="0.5"/>
<circle cx="560.40" cy="257.58" r="1.55" fill="none" stroke="#e6a8ea" stroke-width="0.5"/>
<circle cx="560.91" cy="257.44" r="1.55" fill="none" stroke="#e6a8ea" stroke-width="0.5"/>
<circle cx="561.42" cy="256.59" r="1.55" fill="none" stroke="#e6a8ea" stroke-width="0.5"/>
<circle cx="561.92" cy="258.27" r="1.55" fill="none" stroke="#e6a8ea" stroke-width="0.5"/>
<circle cx="562.43" cy="257.68" r="1.55" fill="none" stroke="#e6a8ea" stroke-width="0.5"/>
<circle cx="562.94" cy="255.06" r="1.55" fill="none" stroke="#e6a8ea" stroke-width="0.5"/>
<circle cx="563.45" cy="258.29" r="1.55" fill="none" stroke="#e6a8ea" stroke-width="0.5"/>
<circle cx="563.95" cy="257.73" r="1.55" fill="none" stroke="#e6a8ea" stroke-width="0.5"/>
<circle cx="564.46" cy="259.77" r="1.55" fill="none" stroke="#e6a8ea" stroke-width="0.5"/>
<circle cx="564.97" cy="260.10" r="1.55" fill="none" stroke="#e6a8ea" stroke-width="0.5"/>
<circle cx="565.47" cy="255.96" r="1.55" fill="none" stroke="#e6a8ea" stroke-width="0.5"/>
<circle cx="565.98" cy="255.77" r="1.55" fill="none" stroke="#e6a8ea" stroke-width="0.5"/>
<circle cx="566.49" cy="257.29" r="1.55" fill="none" stroke="#e6a8ea" stroke-width="0.5"/>
<circle cx="566.99" cy="253.41" r="1.55" fill="none" stroke="#e6a8ea" stroke-width="0.5"/>
<circle cx="567.50" cy="258.53" r="1.55" fill="none" stroke="#e6a8ea" stroke-width="0.5"/>
<circle cx="568.01" cy="255.70" r="1.55" fill="none" stroke="#e6a8ea" stroke-width="0.5"/>
<circle cx="568.51" cy="258.09" r="1.55" fill="none" stroke="#e6a8ea" stroke-width="0.5"/>
<circle cx="569.02" cy="256.80" r="1.55" fill="none" stroke="#e6a8ea" stroke-width="0.5"/>
<circle cx="569.53" cy="255.83" r="1.55" fill="none" stroke="#e6a8ea" stroke-width="0.5"/>
<circle cx="570.04" cy="259.36" r="1.55" fill="none" stroke="#e6a8ea" stroke-width="0.5"/>
<circle cx="570.54" cy="254.24" r="1.55" fill="none" stroke="#e6a8ea" stroke-width="0.5"/>
<circle cx="571.05" cy="257.05" r="1.55" fill="none" stroke="#e6a8ea" stroke-width="0.5"/>
<circle cx="571.56" cy="256.81" r="1.55" fill="none" stroke="#e6a8ea" stroke-width="0.5"/>
<circle cx="572.06" cy="257.26" r="1.55" fill="none" stroke="#e6a8ea" stroke-width="0.5"/>
<circle cx="572.57" cy="256.32" r="1.55" fill="none" stroke="#e6a8ea" stroke-width="0.5"/>
<circle cx="573.08" cy="259.36" r="1.55" fill="none" stroke="#e6a8ea" stroke-width="0.5"/>
<circle cx="573.59" cy="259.34" r="1.55" fill="none" stroke="#e6a8ea" stroke-width="0.5"/>
<circle cx="574.09" cy="256.46" r="1.55" fill="none" stroke="#e6a8ea" stroke-width="0.5"/>
<circle cx="574.60" cy="257.58" r="1.55" fill="none" stroke="#e6a8ea" stroke-width="0.5"/>
<circle cx="575.11" cy="257.98" r="1.55" fill="none" stroke="#e6a8ea" stroke-width="0.5"/>
<circle cx="575.61" cy="256.67" r="1.55" fill="none" stroke="#e6a8ea" stroke-width="0.5"/>
<circle cx="576.12" cy="254.39" r="1.55" fill="none" stroke="#e6a8ea" stroke-width="0.5"/>
<circle cx="576.63" cy="259.32" r="1.55" fill="none" stroke="#e6a8ea" stroke-width="0.5"/>
<circle cx="577.13" cy="262.06" r="1.55" fill="none" stroke="#e6a8ea" stroke-width="0.5"/>
<circle cx="577.64" cy="258.12" r="1.55" fill="none" stroke="#e6a8ea" stroke-width="0.5"/>
<circle cx="578.15" cy="260.80" r="1.55" fill="none" stroke="#e6a8ea" stroke-width="0.5"/>
<circle cx="578.65" cy="258.08" r="1.55" fill="none" stroke="#e6a8ea" stroke-width="0.5"/>
<circle cx="579.16" cy="259.50" r="1.55" fill="none" stroke="#e6a8ea" stroke-width="0.5"/>
<circle cx="579.67" cy="257.67" r="1.55" fill="none" stroke="#e6a8ea" stroke-width="0.5"/>
<circle cx="580.18" cy="254.31" r="1.55" fill="none" stroke="#e6a8ea" stroke-width="0.5"/>
<circle cx="580.68" cy="258.07" r="1.55" fill="none" stroke="#e6a8ea" stroke-width="0.5"/>
<circle cx="581.19" cy="261.14" r="1.55" fill="none" stroke="#e6a8ea" stroke-width="0.5"/>
<circle cx="581.70" cy="260.11" r="1.55" fill="none" stroke="#e6a8ea" stroke-width="0.5"/>
<circle cx="582.20" cy="260.11" r="1.55" fill="none" stroke="#e6a8ea" stroke-width="0.5"/>
<circle cx="582.71" cy="260.91" r="1.55" fill="none" stroke="#e6a8ea" stroke-width="0.5"/>
<circle cx="583.22" cy="257.40" r="1.55" fill="none" stroke="#e6a8ea" stroke-width="0.5"/>
<circle cx="583.73" cy="257.98" r="1.55" fill="none" stroke="#e6a8ea" stroke-width="0.5"/>
<circle cx="584.23" cy="256.51" r="1.55" fill="none" stroke="#e6a8ea" stroke-width="0.5"/>
<circle cx="584.74" cy="256.94" r="1.55" fill="none" stroke="#e6a8ea" stroke-width="0.5"/>
<circle cx="585.25" cy="258.82" r="1.55" fill="none" stroke="#e6a8ea" stroke-width="0.5"/>
<circle cx="585.75" cy="259.75" r="1.55" fill="none" stroke="#e6a8ea" stroke-width="0.5"/>
<circle cx="586.26" cy="259.69" r="1.55" fill="none" stroke="#e6a8ea" stroke-width="0.5"/>
<circle cx="586.77" cy="258.89" r="1.55" fill="none" stroke="#e6a8ea" stroke-width="0.5"/>
<circle cx="587.27" cy="260.18" r="1.55" fill="none" stroke="#e6a8ea" stroke-width="0.5"/>
<circle cx="587.78" cy="262.01" r="1.55" fill="none" stroke="#e6a8ea" stroke-width="0.5"/>
<circle cx="588.29" cy="254.67" r="1.55" fill="none" stroke="#e6a8ea" stroke-width="0.5"/>
<circle cx="588.80" cy="256.51" r="1.55" fill="none" stroke="#e6a8ea" stroke-width="0.5"/>
<circle cx="589.30" cy="259.77" r="1.55" fill="none" stroke="#e6a8ea" stroke-width="0.5"/>
<circle cx="589.81" cy="260.20" r="1.55" fill="none" stroke="#e6a8ea" stroke-width="0.5"/>
<circle cx="590.32" cy="260.10" r="1.55" fill="none" stroke="#e6a8ea" stroke-width="0.5"/>
<circle cx="590.82" cy="258.67" r="1.55" fill="none" stroke="#e6a8ea" stroke-width="0.5"/>
<circle cx="591.33" cy="260.20" r="1.55" fill="none" stroke="#e6a8ea" stroke-width="0.5"/>
<circle cx="591.84" cy="263.82" r="1.55" fill="none" stroke="#e6a8ea" stroke-width="0.5"/>
<circle cx="592.34" cy="259.27" r="1.55" fill="none" stroke="#e6a8ea" stroke-width="0.5"/>
<circle cx="592.85" cy="258.84" r="1.55" fill="none" stroke="#e6a8ea" stroke-width="0.5"/>
<circle cx="593.36" cy="262.52" r="1.55" fill="none" stroke="#e6a8ea" stroke-width="0.5"/>
<circle cx="593.87" cy="262.73" r="1.55" fill="none" stroke="#e6a8ea" stroke-width="0.5"/>
<circle cx="594.37" cy="260.30" r="1.55" fill="none" stroke="#e6a8ea" stroke-width="0.5"/>
<circle cx="594.88" cy="262.29" r="1.55" fill="none" stroke="#e6a8ea" stroke-width="0.5"/>
<circle cx="595.39" cy="258.36" r="1.55" fill="none" stroke="#e6a8ea" stroke-width="0.5"/>
<circle cx="595.89" cy="258.78" r="1.55" fill="none" stroke="#e6a8ea" stroke-width="0.5"/>
<circle cx="596.40" cy="263.72" r="1.55" fill="none" stroke="#e6a8ea" stroke-width="0.5"/>
<circle cx="596.91" cy="259.67" r="1.55" fill="none" stroke="#e6a8ea" stroke-width="0.5"/>
<circle cx="597.41" cy="263.39" r="1.55" fill="none" stroke="#e6a8ea" stroke-width="0.5"/>
<circle cx="597.92" cy="262.08" r="1.55" fill="none" stroke="#e6a8ea" stroke-width="0.5"/>
<circle cx="598.43" cy="258.28" r="1.55" fill="none" stroke="#e6a8ea" stroke-width="0.5"/>
<circle cx="598.94" cy="261.40" r="1.55" fill="none" stroke="#e6a8ea" stroke-width="0.5"/>
<circle cx="599.44" cy="259.75" r="1.55" fill="none" stroke="#e6a8ea" stroke-width="0.5"/>
<circle cx="599.95" cy="261.87" r="1.55" fill="none" stroke="#e6a8ea" stroke-width="0.5"/>
<circle cx="600.46" cy="257.33" r="1.55" fill="none" stroke="#e6a8ea" stroke-width="0.5"/>
<circle cx="600.96" cy="261.21" r="1.55" fill="none" stroke="#e6a8ea" stroke-width="0.5"/>
<circle cx="601.47" cy="255.53" r="1.55" fill="none" stroke="#e6a8ea" stroke-width="0.5"/>
<circle cx="601.98" cy="260.30" r="1.55" fill="none" stroke="#e6a8ea" stroke-width="0.5"/>
<circle cx="602.48" cy="262.11" r="1.55" fill="none" stroke="#e6a8ea" stroke-width="0.5"/>
<circle cx="602.99" cy="261.37" r="1.55" fill="none" stroke="#e6a8ea" stroke-width="0.5"/>
<circle cx="603.50" cy="262.08" r="1.55" fill="none" stroke="#e6a8ea" stroke-width="0.5"/>
<circle cx="604.00" cy="258.77" r="1.55" fill="none" stroke="#e6a8ea" stroke-width="0.5"/>
<circle cx="604.51" cy="263.71" r="1.55" fill="none" stroke="#e6a8ea" stroke-width="0.5"/>
<circle cx="605.02" cy="260.11" r="1.55" fill="none" stroke="#e6a8ea" stroke-width="0.5"/>
<circle cx="605.53" cy="259.08" r="1.55" fill="none" stroke="#e6a8ea" stroke-width="0.5"/>
<circle cx="606.03" cy="259.86" r="1.55" fill="none" stroke="#e6a8ea" stroke-width="0.5"/>
<circle cx="606.54" cy="264.49" r="1.55" fill="none" stroke="#e6a8ea" stroke-width="0.5"/>
<circle cx="607.05" cy="259.59" r="1.55" fill="none" stroke="#e6a8ea" stroke-width="0.5"/>
<circle cx="607.55" cy="260.50" r="1.55" fill="none" stroke="#e6a8ea" stroke-width="0.5"/>
<circle cx="608.06" cy="260.02" r="1.55" fill="none" stroke="#e6a8ea" stroke-width="0.5"/>
<circle cx="608.57" cy="264.13" r="1.55" fill="none" stroke="#e6a8ea" stroke-width="0.5"/>
<circle cx="609.08" cy="261.97" r="1.55" fill="none" stroke="#e6a8ea" stroke-width="0.5"/>
<circle cx="609.58" cy="260.12" r="1.55" fill="none" stroke="#e6a8ea" stroke-width="0.5"/>
<circle cx="610.09" cy="262.17" r="1.55" fill="none" stroke="#e6a8ea" stroke-width="0.5"/>
<circle cx="610.60" cy="262.04" r="1.55" fill="none" stroke="#e6a8ea" stroke-width="0.5"/>
<circle cx="611.10" cy="263.28" r="1.55" fill="none" stroke="#e6a8ea" stroke-width="0.5"/>
<circle cx="611.61" cy="262.87" r="1.55" fill="none" stroke="#e6a8ea" stroke-width="0.5"/>
<circle cx="612.12" cy="262.54" r="1.55" fill="none" stroke="#e6a8ea" stroke-width="0.5"/>
<circle cx="612.62" cy="257.78" r="1.55" fill="none" stroke="#e6a8ea" stroke-width="0.5"/>
<circle cx="613.13" cy="262.90" r="1.55" fill="none" stroke="#e6a8ea" stroke-width="0.5"/>
<circle cx="613.64" cy="263.69" r="1.55" fill="none" stroke="#e6a8ea" stroke-width="0.5"/>
<circle cx="614.14" cy="264.71" r="1.55" fill="none" stroke="#e6a8ea" stroke-width="0.5"/>
<circle cx="614.65" cy="261.99" r="1.55" fill="none" stroke="#e6a8ea" stroke-width="0.5"/>
<circle cx="615.16" cy="262.47" r="1.55" fill="none" stroke="#e6a8ea" stroke-width="0.5"/>
<circle cx="615.67" cy="263.83" r="1.55" fill="none" stroke="#e6a8ea" stroke-width="0.5"/>
<circle cx="616.17" cy="266.11" r="1.55" fill="none" stroke="#e6a8ea" stroke-width="0.5"/>
<circle cx="616.68" cy="259.29" r="1.55" fill="none" stroke="#e6a8ea" stroke-width="0.5"/>
<circle cx="617.19" cy="263.25" r="1.55" fill="none" stroke="#e6a8ea" stroke-width="0.5"/>
<circle cx="617.69" cy="264.34" r="1.55" fill="none" stroke="#e6a8ea" stroke-width="0.5"/>
<circle cx="618.20" cy="262.51" r="1.55" fill="none" stroke="#e6a8ea" stroke-width="0.5"/>
<circle cx="618.71" cy="264.72" r="1.55" fill="none" stroke="#e6a8ea" stroke-width="0.5"/>
<circle cx="619.22" cy="263.54" r="1.55" fill="none" stroke="#e6a8ea" stroke-width="0.5"/>
<circle cx="619.72" cy="266.82" r="1.55" fill="none" stroke="#e6a8ea" stroke-width="0.5"/>
<circle cx="620.23" cy="264.20" r="1.55" fill="none" stroke="#e6a8ea" stroke-width="0.5"/>
<circle cx="620.74" cy="268.16" r="1.55" fill="none" stroke="#e6a8ea" stroke-width="0.5"/>
<circle cx="621.24" cy="261.64" r="1.55" fill="none" stroke="#e6a8ea" stroke-width="0.5"/>
<circle cx="621.75" cy="263.29" r="1.55" fill="none" stroke="#e6a8ea" stroke-width="0.5"/>
<circle cx="622.26" cy="263.75" r="1.55" fill="none" stroke="#e6a8ea" stroke-width="0.5"/>
<circle cx="622.76" cy="263.26" r="1.55" fill="none" stroke="#e6a8ea" stroke-width="0.5"/>
<circle cx="623.27" cy="265.95" r="1.55" fill="none" stroke="#e6a8ea" stroke-width="0.5"/>
<circle cx="623.78" cy="263.33" r="1.55" fill="none" stroke="#e6a8ea" stroke-width="0.5"/>
<circle cx="624.29" cy="263.34" r="1.55" fill="none" stroke="#e6a8ea" stroke-width="0.5"/>
<circle cx="624.79" cy="261.67" r="1.55" fill="none" stroke="#e6a8ea" stroke-width="0.5"/>
<circle cx="625.30" cy="264.74" r="1.55" fill="none" stroke="#e6a8ea" stroke-width="0.5"/>
<circle cx="625.81" cy="264.36" r="1.55" fill="none" stroke="#e6a8ea" stroke-width="0.5"/>
<circle cx="626.31" cy="263.52" r="1.55" fill="none" stroke="#e6a8ea" stroke-width="0.5"/>
<circle cx="626.82" cy="262.96" r="1.55" fill="none" stroke="#e6a8ea" stroke-width="0.5"/>
<circle cx="627.33" cy="263.19" r="1.55" fill="none" stroke="#e6a8ea" stroke-width="0.5"/>
<circle cx="627.83" cy="262.87" r="1.55" fill="none" stroke="#e6a8ea" stroke-width="0.5"/>
<circle cx="628.34" cy="261.74" r="1.55" fill="none" stroke="#e6a8ea" stroke-width="0.5"/>
<circle cx="628.85" cy="262.90" r="1.55" fill="none" stroke="#e6a8ea" stroke-width="0.5"/>
<circle cx="629.36" cy="262.74" r="1.55" fill="none" stroke="#e6a8ea" stroke-width="0.5"/>
<circle cx="629.86" cy="263.68" r="1.55" fill="none" stroke="#e6a8ea" stroke-width="0.5"/>
<circle cx="630.37" cy="266.13" r="1.55" fill="none" stroke="#e6a8ea" stroke-width="0.5"/>
<circle cx="630.88" cy="262.31" r="1.55" fill="none" stroke="#e6a8ea" stroke-width="0.5"/>
<circle cx="631.38" cy="264.14" r="1.55" fill="none" stroke="#e6a8ea" stroke-width="0.5"/>
<circle cx="631.89" cy="263.60" r="1.55" fill="none" stroke="#e6a8ea" stroke-width="0.5"/>
<circle cx="632.40" cy="265.73" r="1.55" fill="none" stroke="#e6a8ea" stroke-width="0.5"/>
<circle cx="632.90" cy="260.07" r="1.55" fill="none" stroke="#e6a8ea" stroke-width="0.5"/>
<circle cx="633.41" cy="261.23" r="1.55" fill="none" stroke="#e6a8ea" stroke-width="0.5"/>
<circle cx="633.92" cy="264.00" r="1.55" fill="none" stroke="#e6a8ea" stroke-width="0.5"/>
<circle cx="634.43" cy="262.33" r="1.55" fill="none" stroke="#e6a8ea" stroke-width="0.5"/>
<circle cx="634.93" cy="261.54" r="1.55" fill="none" stroke="#e6a8ea" stroke-width="0.5"/>
<circle cx="635.44" cy="259.40" r="1.55" fill="none" stroke="#e6a8ea" stroke-width="0.5"/>
<circle cx="635.95" cy="262.92" r="1.55" fill="none" stroke="#e6a8ea" stroke-width="0.5"/>
<circle cx="636.45" cy="261.46" r="1.55" fill="none" stroke="#e6a8ea" stroke-width="0.5"/>
<circle cx="636.96" cy="264.93" r="1.55" fill="none" stroke="#e6a8ea" stroke-width="0.5"/>
<circle cx="637.47" cy="263.77" r="1.55" fill="none" stroke="#e6a8ea" stroke-width="0.5"/>
<circle cx="637.97" cy="263.70" r="1.55" fill="none" stroke="#e6a8ea" stroke-width="0.5"/>
<circle cx="638.48" cy="263.93" r="1.55" fill="none" stroke="#e6a8ea" stroke-width="0.5"/>
<circle cx="638.99" cy="265.49" r="1.55" fill="none" stroke="#e6a8ea" stroke-width="0.5"/>
<circle cx="639.50" cy="262.23" r="1.55" fill="none" stroke="#e6a8ea" stroke-width="0.5"/>
<circle cx="640.00" cy="265.14" r="1.55" fill="none" stroke="#e6a8ea" stroke-width="0.5"/>
<circle cx="640.51" cy="265.01" r="1.55" fill="none" stroke="#e6a8ea" stroke-width="0.5"/>
<circle cx="641.02" cy="263.61" r="1.55" fill="none" stroke="#e6a8ea" stroke-width="0.5"/>
<circle cx="641.52" cy="260.68" r="1.55" fill="none" stroke="#e6a8ea" stroke-width="0.5"/>
<circle cx="642.03" cy="261.21" r="1.55" fill="none" stroke="#e6a8ea" stroke-width="0.5"/>
<circle cx="642.54" cy="263.69" r="1.55" fill="none" stroke="#e6a8ea" stroke-width="0.5"/>
<circle cx="643.04" cy="265.52" r="1.55" fill="none" stroke="#e6a8ea" stroke-width="0.5"/>
<circle cx="643.55" cy="266.13" r="1.55" fill="none" stroke="#e6a8ea" stroke-width="0.5"/>
<circle cx="644.06" cy="263.39" r="1.55" fill="none" stroke="#e6a8ea" stroke-width="0.5"/>
<circle cx="644.57" cy="261.92" r="1.55" fill="none" stroke="#e6a8ea" stroke-width="0.5"/>
<circle cx="645.07" cy="261.86" r="1.55" fill="none" stroke="#e6a8ea" stroke-width="0.5"/>
<circle cx="645.58" cy="263.71" r="1.55" fill="none" stroke="#e6a8ea" stroke-width="0.5"/>
<circle cx="646.09" cy="265.04" r="1.55" fill="none" stroke="#e6a8ea" stroke-width="0.5"/>
<circle cx="646.59" cy="262.66" r="1.55" fill="none" stroke="#e6a8ea" stroke-width="0.5"/>
<circle cx="647.10" cy="261.16" r="1.55" fill="none" stroke="#e6a8ea" stroke-width="0.5"/>
</g>
<polyline points="394.87,268.51 396.29,268.76 398.12,269.09 400.28,269.49 402.71,269.93 405.32,270.40 408.07,270.89 410.87,271.39 413.67,271.87 416.38,272.32 418.95,272.73 421.43,273.11 423.94,273.48 426.46,273.85 429.00,274.21 431.55,274.56 434.10,274.90 436.66,275.23 439.21,275.56 441.76,275.88 444.30,276.19 446.84,276.49 449.37,276.78 451.91,277.06 454.44,277.34 456.98,277.60 459.51,277.87 462.05,278.12 464.58,278.38 467.12,278.63 469.65,278.88 472.19,279.12 474.72,279.36 477.25,279.60 479.79,279.83 482.33,280.05 484.86,280.28 487.40,280.50 489.93,280.73 492.47,280.95 495.00,281.18 497.54,281.41 500.07,281.63 502.61,281.86 505.14,282.08 507.68,282.31 510.21,282.53 512.75,282.76 515.28,283.00 517.82,283.24 520.35,283.48 522.88,283.74 525.42,284.00 527.96,284.27 530.49,284.55 533.03,284.83 535.56,285.11 538.10,285.38 540.63,285.65 543.16,285.92 545.70,286.17 548.24,286.42 550.77,286.66 553.31,286.89 555.84,287.12 558.38,287.35 560.91,287.57 563.45,287.80 565.98,288.02 568.51,288.25 571.05,288.48 573.59,288.71 576.12,288.94 578.65,289.18 581.19,289.42 583.73,289.65 586.26,289.89 588.80,290.12 591.33,290.34 593.87,290.57 596.40,290.78 598.94,290.99 601.47,291.19 604.00,291.39 606.54,291.59 609.08,291.78 611.61,291.97 614.14,292.15 616.68,292.34 619.22,292.52 621.75,292.70 624.40,292.89 627.22,293.08 630.14,293.28 633.08,293.47 635.98,293.66 638.75,293.84 641.32,294.01 643.62,294.16 645.57,294.29 647.10,294.39 648.16,294.46 648.80,294.50 649.09,294.52 649.12,294.52 648.94,294.51 648.63,294.49 648.27,294.47 647.94,294.45 647.69,294.43 647.61,294.42" fill="none" stroke="#cf57d6" stroke-width="7.0" stroke-linejoin="round" stroke-linecap="round"/>
<polyline points="395.63,286.56 395.95,286.42 396.35,286.23 396.83,286.00 397.36,285.75 397.94,285.49 398.56,285.22 399.21,284.98 399.87,284.76 400.54,284.59 401.21,284.48 401.87,284.42 402.56,284.39 403.26,284.40 403.98,284.42 404.72,284.48 405.49,284.55 406.28,284.65 407.09,284.76 407.94,284.88 408.81,285.02 409.65,285.15 410.43,285.28 411.19,285.40 411.95,285.54 412.77,285.70 413.68,285.90 414.71,286.15 415.91,286.47 417.31,286.85 418.95,287.32 420.87,287.90 423.05,288.57 425.44,289.33 427.99,290.15 430.67,291.02 433.43,291.91 436.22,292.82 438.99,293.71 441.70,294.57 444.30,295.39 446.84,296.18 449.37,296.97 451.91,297.76 454.44,298.54 456.98,299.32 459.51,300.10 462.05,300.86 464.58,301.61 467.12,302.35 469.65,303.07 472.19,303.77 474.72,304.46 477.25,305.14 479.79,305.80 482.33,306.45 484.86,307.10 487.40,307.73 489.93,308.36 492.47,308.98 495.00,309.60 497.54,310.21 500.07,310.81 502.61,311.40 505.14,311.99 507.68,312.57 510.21,313.14 512.75,313.71 515.28,314.27 517.82,314.81 520.35,315.36 522.88,315.89 525.42,316.42 527.96,316.95 530.49,317.46 533.03,317.97 535.56,318.47 538.10,318.96 540.63,319.44 543.16,319.90 545.70,320.35 548.24,320.78 550.77,321.20 553.31,321.61 555.84,322.00 558.38,322.39 560.91,322.76 563.45,323.13 565.98,323.49 568.51,323.84 571.05,324.19 573.59,324.53 576.12,324.86 578.65,325.19 581.19,325.50 583.73,325.81 586.26,326.11 588.80,326.41 591.33,326.70 593.87,326.98 596.40,327.26 598.94,327.53 601.47,327.80 604.00,328.06 606.54,328.31 609.08,328.56 611.61,328.80 614.14,329.04 616.68,329.27 619.22,329.50 621.75,329.72 624.40,329.94 627.22,330.17 630.14,330.39 633.08,330.61 635.98,330.83 638.75,331.03 641.32,331.22 643.62,331.38 645.57,331.52 647.10,331.64 648.16,331.72 648.80,331.77 649.09,331.79 649.12,331.79 648.94,331.78 648.63,331.75 648.27,331.73 647.94,331.70 647.69,331.68 647.61,331.68" fill="none" stroke="#61ace2" stroke-width="7.0" stroke-linejoin="round" stroke-linecap="round"/>
<circle cx="647.61" cy="294.39" r="2.3" fill="#ffffff" stroke="#cf57d6" stroke-width="0.8"/>
<circle cx="647.61" cy="331.64" r="2.3" fill="#ffffff" stroke="#61ace2" stroke-width="0.8"/>
<circle cx="538.10" cy="323.80" r="2.6" fill="none" stroke="#61ace2" stroke-width="0.9"/>
<circle cx="394.11" cy="227.04" r="2.9" fill="#f4d2f5" stroke="#cf57d6" stroke-width="0.9"/>
<circle cx="394.61" cy="229.34" r="2.9" fill="#f4d2f5" stroke="#cf57d6" stroke-width="0.9"/>
<circle cx="395.12" cy="231.64" r="2.9" fill="#f4d2f5" stroke="#cf57d6" stroke-width="0.9"/>
<circle cx="395.63" cy="233.95" r="2.9" fill="#ffffff" stroke="#cf57d6" stroke-width="0.9"/>
<circle cx="394.11" cy="250.84" r="2.9" fill="#cfe6f6" stroke="#61ace2" stroke-width="0.9"/>
<circle cx="394.61" cy="251.61" r="2.9" fill="#cfe6f6" stroke="#61ace2" stroke-width="0.9"/>
<circle cx="395.12" cy="252.38" r="2.9" fill="#cfe6f6" stroke="#61ace2" stroke-width="0.9"/>
<circle cx="395.63" cy="253.92" r="2.9" fill="#ffffff" stroke="#61ace2" stroke-width="0.9"/>
<circle cx="394.36" cy="271.58" r="2.6" fill="none" stroke="#cf57d6" stroke-width="0.8"/>
<circle cx="394.87" cy="273.12" r="2.6" fill="none" stroke="#cf57d6" stroke-width="0.8"/>
<circle cx="394.36" cy="288.48" r="2.6" fill="none" stroke="#61ace2" stroke-width="0.8"/>
<circle cx="394.87" cy="290.01" r="2.6" fill="none" stroke="#61ace2" stroke-width="0.8"/>
<line x1="520.70" y1="245.90" x2="520.70" y2="331.80" stroke="#3a3a3a" stroke-width="1.35" stroke-dasharray="3.8,2.4"/>
<line x1="520.70" y1="277.70" x2="505.00" y2="270.20" stroke="#333" stroke-width="1.1"/>
<polygon points="501.30,268.40 507.60,268.60 505.30,273.40" fill="#333" stroke="none" stroke-width="1"/>
<line x1="520.70" y1="319.00" x2="515.20" y2="328.60" stroke="#333" stroke-width="1.1"/>
<polygon points="513.70,331.80 513.00,325.90 517.60,328.20" fill="#333" stroke="none" stroke-width="1"/>
<rect x="429.80" y="234.60" width="95.50" height="12.90" fill="#f3e2f5"/>
<text x="477.50" y="245.00" font-size="10.5" font-weight="bold" text-anchor="middle" fill="#b845c2">80.0%@500 cycles</text>
<rect x="538.60" y="270.00" width="105.50" height="12.30" fill="#f3e2f5"/>
<text x="591.30" y="280.40" font-size="10.5" font-weight="bold" text-anchor="middle" fill="#b845c2"><tspan dy="0.00">64.1%@60.3 mAh g</tspan><tspan dy="-4.20" font-size="6.93">-1</tspan></text>
<rect x="537.90" y="302.50" width="104.20" height="12.10" fill="#ddeef9"/>
<text x="590.00" y="312.60" font-size="10.5" font-weight="bold" text-anchor="middle" fill="#4f9fd8"><tspan dy="0.00">16.3%@11.6 mAh g</tspan><tspan dy="-4.20" font-size="6.93">-1</tspan></text>
<rect x="415.70" y="320.90" width="96.30" height="11.60" fill="#ddeef9"/>
<text x="463.30" y="330.60" font-size="10.5" font-weight="bold" text-anchor="middle" fill="#4f9fd8">45.4%@500 cycles</text>
<text x="420.60" y="217.80" font-size="10.5" font-weight="bold" text-anchor="start" fill="#1b1b1b"><tspan dy="0.00">1.0 A g</tspan><tspan dy="-4.20" font-size="6.93">-1</tspan><tspan dy="4.20"> 1000 cycles</tspan></text>
<polyline points="406.20,311.00 406.20,329.50 396.00,329.50" fill="none" stroke="#777" stroke-width="1.0" stroke-linejoin="round" stroke-linecap="round"/>
<polygon points="392.50,329.50 398.40,326.90 398.40,332.10" fill="#777" stroke="none" stroke-width="1"/>
<polyline points="632.20,247.50 632.20,227.50 644.00,227.50" fill="none" stroke="#777" stroke-width="1.0" stroke-linejoin="round" stroke-linecap="round"/>
<polygon points="647.50,227.50 641.60,224.90 641.60,230.10" fill="#777" stroke="none" stroke-width="1"/>
<circle cx="572.10" cy="211.50" r="2.9" fill="none" stroke="#61ace2" stroke-width="1.0"/>
<text x="587.90" y="215.10" font-size="10" font-weight="bold" text-anchor="start" fill="#1b1b1b">NM</text>
<circle cx="572.10" cy="224.00" r="2.9" fill="none" stroke="#cf57d6" stroke-width="1.0"/>
<text x="587.90" y="227.60" font-size="10" font-weight="bold" text-anchor="start" fill="#1b1b1b">NMD</text>
<rect x="387.9" y="201.5" width="262.60" height="139.20" fill="none" stroke="#1b1b1b" stroke-width="1.5"/>
<line x1="387.90" y1="340.70" x2="385.20" y2="340.70" stroke="#1b1b1b" stroke-width="1.1"/>
<text x="384.00" y="344.84" font-size="11.5" font-weight="bold" text-anchor="end" fill="#1b1b1b">0</text>
<line x1="387.90" y1="302.30" x2="385.20" y2="302.30" stroke="#1b1b1b" stroke-width="1.1"/>
<text x="384.00" y="306.44" font-size="11.5" font-weight="bold" text-anchor="end" fill="#1b1b1b">50</text>
<line x1="387.90" y1="263.90" x2="385.20" y2="263.90" stroke="#1b1b1b" stroke-width="1.1"/>
<text x="384.00" y="268.04" font-size="11.5" font-weight="bold" text-anchor="end" fill="#1b1b1b">100</text>
<line x1="387.90" y1="225.50" x2="385.20" y2="225.50" stroke="#1b1b1b" stroke-width="1.1"/>
<text x="384.00" y="229.64" font-size="11.5" font-weight="bold" text-anchor="end" fill="#1b1b1b">150</text>
<line x1="387.90" y1="321.50" x2="386.28" y2="321.50" stroke="#1b1b1b" stroke-width="1.1"/>
<line x1="387.90" y1="283.10" x2="386.28" y2="283.10" stroke="#1b1b1b" stroke-width="1.1"/>
<line x1="387.90" y1="244.70" x2="386.28" y2="244.70" stroke="#1b1b1b" stroke-width="1.1"/>
<line x1="387.90" y1="206.30" x2="386.28" y2="206.30" stroke="#1b1b1b" stroke-width="1.1"/>
<line x1="650.50" y1="340.60" x2="653.20" y2="340.60" stroke="#1b1b1b" stroke-width="1.1"/>
<text x="654.40" y="344.74" font-size="11.5" font-weight="bold" text-anchor="start" fill="#1b1b1b">90</text>
<line x1="650.50" y1="294.20" x2="653.20" y2="294.20" stroke="#1b1b1b" stroke-width="1.1"/>
<text x="654.40" y="298.34" font-size="11.5" font-weight="bold" text-anchor="start" fill="#1b1b1b">95</text>
<line x1="650.50" y1="247.80" x2="653.20" y2="247.80" stroke="#1b1b1b" stroke-width="1.1"/>
<text x="654.40" y="251.94" font-size="11.5" font-weight="bold" text-anchor="start" fill="#1b1b1b">100</text>
<line x1="650.50" y1="201.40" x2="653.20" y2="201.40" stroke="#1b1b1b" stroke-width="1.1"/>
<text x="654.40" y="205.54" font-size="11.5" font-weight="bold" text-anchor="start" fill="#1b1b1b">105</text>
<line x1="650.50" y1="317.40" x2="652.12" y2="317.40" stroke="#1b1b1b" stroke-width="1.1"/>
<line x1="650.50" y1="271.00" x2="652.12" y2="271.00" stroke="#1b1b1b" stroke-width="1.1"/>
<line x1="650.50" y1="224.60" x2="652.12" y2="224.60" stroke="#1b1b1b" stroke-width="1.1"/>
<line x1="393.60" y1="340.70" x2="393.60" y2="343.40" stroke="#1b1b1b" stroke-width="1.1"/>
<text x="393.60" y="354.60" font-size="11.2" font-weight="bold" text-anchor="middle" fill="#1b1b1b">0</text>
<line x1="444.30" y1="340.70" x2="444.30" y2="343.40" stroke="#1b1b1b" stroke-width="1.1"/>
<text x="444.30" y="354.60" font-size="11.2" font-weight="bold" text-anchor="middle" fill="#1b1b1b">200</text>
<line x1="495.00" y1="340.70" x2="495.00" y2="343.40" stroke="#1b1b1b" stroke-width="1.1"/>
<text x="495.00" y="354.60" font-size="11.2" font-weight="bold" text-anchor="middle" fill="#1b1b1b">400</text>
<line x1="545.70" y1="340.70" x2="545.70" y2="343.40" stroke="#1b1b1b" stroke-width="1.1"/>
<text x="545.70" y="354.60" font-size="11.2" font-weight="bold" text-anchor="middle" fill="#1b1b1b">600</text>
<line x1="596.40" y1="340.70" x2="596.40" y2="343.40" stroke="#1b1b1b" stroke-width="1.1"/>
<text x="596.40" y="354.60" font-size="11.2" font-weight="bold" text-anchor="middle" fill="#1b1b1b">800</text>
<line x1="647.10" y1="340.70" x2="647.10" y2="343.40" stroke="#1b1b1b" stroke-width="1.1"/>
<text x="647.10" y="354.60" font-size="11.2" font-weight="bold" text-anchor="middle" fill="#1b1b1b">1000</text>
<line x1="418.95" y1="340.70" x2="418.95" y2="342.32" stroke="#1b1b1b" stroke-width="1.1"/>
<line x1="469.65" y1="340.70" x2="469.65" y2="342.32" stroke="#1b1b1b" stroke-width="1.1"/>
<line x1="520.35" y1="340.70" x2="520.35" y2="342.32" stroke="#1b1b1b" stroke-width="1.1"/>
<line x1="571.05" y1="340.70" x2="571.05" y2="342.32" stroke="#1b1b1b" stroke-width="1.1"/>
<line x1="621.75" y1="340.70" x2="621.75" y2="342.32" stroke="#1b1b1b" stroke-width="1.1"/>
<text x="361.20" y="281.50" font-size="11.5" font-weight="bold" text-anchor="middle" fill="#1b1b1b" transform="rotate(-90 361.2 281.5)"><tspan dy="0.00">Specific capacity (mAh g</tspan><tspan dy="-4.60" font-size="6.33">-1</tspan><tspan dy="4.60">)</tspan></text>
<text x="682.30" y="277.50" font-size="11.75" font-weight="bold" text-anchor="middle" fill="#1b1b1b" transform="rotate(-90 682.3 277.5)">Coulombic efficiency (%)</text>
<text x="523.00" y="364.60" font-size="12" font-weight="bold" text-anchor="middle" fill="#1b1b1b">Cycle number</text>
<text x="350.70" y="201.30" font-size="19.6" font-weight="bold" text-anchor="start" fill="#1b1b1b">e</text>
<rect x="39.00" y="383.60" width="174.70" height="141.10" fill="url(#bgF)"/>
<polygon points="47.00,448.60 88.00,476.80 125.30,501.80 131.10,501.80 89.00,473.80 47.00,446.20" fill="#c0e3ef" stroke="none" stroke-width="1"/>
<polygon points="47.00,441.00 90.00,458.50 133.40,485.40 156.80,501.80 149.80,501.80 131.50,485.50 90.00,460.60 47.00,442.90" fill="#f2e9f5" stroke="#f2e9f5" stroke-width="0.4"/>
<polygon points="47.00,441.00 49.99,442.22 52.99,443.44 55.98,444.66 58.98,445.87 61.97,447.09 64.96,448.31 67.96,449.53 70.95,450.75 73.94,451.97 76.94,453.18 79.93,454.40 82.93,455.62 85.92,456.84 88.91,458.06 91.75,459.59 94.50,461.29 97.25,462.99 99.99,464.69 102.74,466.40 105.49,468.10 108.24,469.80 110.98,471.51 113.73,473.21 116.48,474.91 119.22,476.61 121.97,478.32 124.72,480.02 127.47,481.72 130.21,483.43 132.96,485.13 135.62,486.96 138.27,488.81 140.92,490.67 143.57,492.52 146.21,494.38 148.86,496.23 151.51,498.09 154.15,499.94 156.80,501.80 159.84,501.80 157.12,499.92 154.40,498.05 151.68,496.17 148.96,494.29 146.24,492.41 143.52,490.54 140.80,488.66 138.08,486.78 135.35,484.93 132.52,483.22 129.69,481.51 126.86,479.80 124.04,478.09 121.21,476.38 118.38,474.67 115.55,472.96 112.72,471.25 109.88,469.58 107.03,467.92 104.19,466.25 101.34,464.58 98.50,462.91 95.65,461.25 92.80,459.58 89.88,458.07 86.81,456.84 83.74,455.61 80.68,454.38 77.61,453.13 74.55,451.88 71.49,450.64 68.43,449.39 65.37,448.14 62.31,446.90 59.25,445.65 56.18,444.40 53.12,443.15 50.06,441.91 47.00,440.66" fill="#9d4ead" stroke="#9d4ead" stroke-width="0.35"/>
<polygon points="47.00,440.66 50.06,441.91 53.12,443.15 56.18,444.40 59.25,445.65 62.31,446.90 65.37,448.14 68.43,449.39 71.49,450.64 74.55,451.88 77.61,453.13 80.68,454.38 83.74,455.61 86.81,456.84 89.88,458.07 92.80,459.58 95.65,461.25 98.50,462.91 101.34,464.58 104.19,466.25 107.03,467.92 109.88,469.58 112.72,471.25 115.55,472.96 118.38,474.67 121.21,476.38 124.04,478.09 126.86,479.80 129.69,481.51 132.52,483.22 135.35,484.93 138.08,486.78 140.80,488.66 143.52,490.54 146.24,492.41 148.96,494.29 151.68,496.17 154.40,498.05 157.12,499.92 159.84,501.80 162.88,501.80 160.09,499.90 157.29,498.00 154.50,496.10 151.71,494.20 148.91,492.30 146.12,490.40 143.33,488.50 140.53,486.60 137.73,484.72 134.82,483.01 131.91,481.29 129.01,479.57 126.10,477.85 123.19,476.14 120.28,474.42 117.38,472.70 114.47,471.00 111.52,469.36 108.58,467.73 105.63,466.10 102.69,464.47 99.75,462.84 96.80,461.21 93.86,459.57 90.84,458.08 87.70,456.84 84.56,455.59 81.42,454.35 78.29,453.08 75.16,451.80 72.03,450.53 68.90,449.25 65.77,447.98 62.64,446.70 59.52,445.42 56.39,444.15 53.26,442.87 50.13,441.60 47.00,440.32" fill="#a357b2" stroke="#a357b2" stroke-width="0.35"/>
<polygon points="47.00,440.32 50.13,441.60 53.26,442.87 56.39,444.15 59.52,445.42 62.64,446.70 65.77,447.98 68.90,449.25 72.03,450.53 75.16,451.80 78.29,453.08 81.42,454.35 84.56,455.59 87.70,456.84 90.84,458.08 93.86,459.57 96.80,461.21 99.75,462.84 102.69,464.47 105.63,466.10 108.58,467.73 111.52,469.36 114.47,471.00 117.38,472.70 120.28,474.42 123.19,476.14 126.10,477.85 129.01,479.57 131.91,481.29 134.82,483.01 137.73,484.72 140.53,486.60 143.33,488.50 146.12,490.40 148.91,492.30 151.71,494.20 154.50,496.10 157.29,498.00 160.09,499.90 162.88,501.80 165.92,501.80 163.05,499.88 160.19,497.96 157.32,496.03 154.45,494.11 151.59,492.19 148.72,490.27 145.86,488.35 142.99,486.42 140.11,484.52 137.13,482.80 134.14,481.07 131.15,479.35 128.16,477.62 125.18,475.90 122.19,474.17 119.20,472.45 116.21,470.74 113.17,469.14 110.12,467.55 107.08,465.95 104.04,464.36 101.00,462.76 97.95,461.16 94.91,459.57 91.81,458.10 88.59,456.84 85.38,455.58 82.16,454.32 78.96,453.03 75.77,451.72 72.57,450.42 69.37,449.11 66.18,447.81 62.98,446.50 59.79,445.20 56.59,443.89 53.39,442.59 50.20,441.28 47.00,439.98" fill="#a85fb7" stroke="#a85fb7" stroke-width="0.35"/>
<polygon points="47.00,439.98 50.20,441.28 53.39,442.59 56.59,443.89 59.79,445.20 62.98,446.50 66.18,447.81 69.37,449.11 72.57,450.42 75.77,451.72 78.96,453.03 82.16,454.32 85.38,455.58 88.59,456.84 91.81,458.10 94.91,459.57 97.95,461.16 101.00,462.76 104.04,464.36 107.08,465.95 110.12,467.55 113.17,469.14 116.21,470.74 119.20,472.45 122.19,474.17 125.18,475.90 128.16,477.62 131.15,479.35 134.14,481.07 137.13,482.80 140.11,484.52 142.99,486.42 145.86,488.35 148.72,490.27 151.59,492.19 154.45,494.11 157.32,496.03 160.19,497.96 163.05,499.88 165.92,501.80 168.96,501.80 166.02,499.86 163.08,497.91 160.14,495.97 157.20,494.02 154.26,492.08 151.32,490.13 148.38,488.19 145.45,486.25 142.50,484.32 139.43,482.59 136.36,480.85 133.29,479.12 130.23,477.39 127.16,475.66 124.09,473.93 121.02,472.20 117.95,470.49 114.81,468.92 111.67,467.36 108.53,465.80 105.39,464.24 102.25,462.68 99.11,461.12 95.97,459.56 92.77,458.11 89.48,456.84 86.19,455.57 82.91,454.30 79.64,452.98 76.37,451.64 73.11,450.31 69.85,448.98 66.58,447.64 63.32,446.31 60.06,444.97 56.79,443.64 53.53,442.31 50.26,440.97 47.00,439.64" fill="#ae68bc" stroke="#ae68bc" stroke-width="0.35"/>
<polygon points="47.00,439.64 50.26,440.97 53.53,442.31 56.79,443.64 60.06,444.97 63.32,446.31 66.58,447.64 69.85,448.98 73.11,450.31 76.37,451.64 79.64,452.98 82.91,454.30 86.19,455.57 89.48,456.84 92.77,458.11 95.97,459.56 99.11,461.12 102.25,462.68 105.39,464.24 108.53,465.80 111.67,467.36 114.81,468.92 117.95,470.49 121.02,472.20 124.09,473.93 127.16,475.66 130.23,477.39 133.29,479.12 136.36,480.85 139.43,482.59 142.50,484.32 145.45,486.25 148.38,488.19 151.32,490.13 154.26,492.08 157.20,494.02 160.14,495.97 163.08,497.91 166.02,499.86 168.96,501.80 172.00,501.80 168.99,499.83 165.98,497.87 162.96,495.90 159.95,493.93 156.94,491.97 153.93,490.00 150.91,488.03 147.90,486.07 144.88,484.11 141.73,482.38 138.59,480.64 135.44,478.90 132.29,477.16 129.14,475.42 126.00,473.68 122.85,471.95 119.69,470.23 116.45,468.71 113.21,467.18 109.97,465.66 106.74,464.13 103.50,462.61 100.26,461.08 97.02,459.56 93.74,458.12 90.37,456.84 87.01,455.55 83.65,454.27 80.31,452.92 76.98,451.56 73.65,450.20 70.32,448.84 66.99,447.47 63.66,446.11 60.33,444.75 56.99,443.39 53.66,442.02 50.33,440.66 47.00,439.30" fill="#b777c3" stroke="#b777c3" stroke-width="0.35"/>
<polygon points="47.00,439.30 50.33,440.66 53.66,442.02 56.99,443.39 60.33,444.75 63.66,446.11 66.99,447.47 70.32,448.84 73.65,450.20 76.98,451.56 80.31,452.92 83.65,454.27 87.01,455.55 90.37,456.84 93.74,458.12 97.02,459.56 100.26,461.08 103.50,462.61 106.74,464.13 109.97,465.66 113.21,467.18 116.45,468.71 119.69,470.23 122.85,471.95 126.00,473.68 129.14,475.42 132.29,477.16 135.44,478.90 138.59,480.64 141.73,482.38 144.88,484.11 147.90,486.07 150.91,488.03 153.93,490.00 156.94,491.97 159.95,493.93 162.96,495.90 165.98,497.87 168.99,499.83 172.00,501.80 175.04,501.80 171.95,499.81 168.87,497.82 165.78,495.83 162.70,493.84 159.61,491.86 156.53,489.87 153.44,487.88 150.36,485.89 147.26,483.91 144.04,482.17 140.81,480.42 137.58,478.67 134.35,476.93 131.13,475.18 127.90,473.44 124.67,471.69 121.43,469.98 118.10,468.49 114.76,467.00 111.42,465.51 108.08,464.02 104.75,462.53 101.41,461.04 98.07,459.55 94.70,458.13 91.26,456.84 87.83,455.54 84.39,454.25 80.99,452.87 77.59,451.48 74.19,450.09 70.79,448.70 67.39,447.31 63.99,445.92 60.60,444.52 57.20,443.13 53.80,441.74 50.40,440.35 47.00,438.96" fill="#bf86ca" stroke="#bf86ca" stroke-width="0.35"/>
<polygon points="47.00,438.96 50.40,440.35 53.80,441.74 57.20,443.13 60.60,444.52 63.99,445.92 67.39,447.31 70.79,448.70 74.19,450.09 77.59,451.48 80.99,452.87 84.39,454.25 87.83,455.54 91.26,456.84 94.70,458.13 98.07,459.55 101.41,461.04 104.75,462.53 108.08,464.02 111.42,465.51 114.76,467.00 118.10,468.49 121.43,469.98 124.67,471.69 127.90,473.44 131.13,475.18 134.35,476.93 137.58,478.67 140.81,480.42 144.04,482.17 147.26,483.91 150.36,485.89 153.44,487.88 156.53,489.87 159.61,491.86 162.70,493.84 165.78,495.83 168.87,497.82 171.95,499.81 175.04,501.80 178.08,501.80 174.92,499.79 171.76,497.78 168.60,495.77 165.45,493.76 162.29,491.74 159.13,489.73 155.97,487.72 152.81,485.71 149.65,483.71 146.34,481.96 143.03,480.20 139.73,478.45 136.42,476.70 133.11,474.95 129.80,473.19 126.50,471.44 123.17,469.72 119.74,468.27 116.30,466.81 112.87,465.36 109.43,463.91 106.00,462.45 102.56,461.00 99.13,459.55 95.66,458.14 92.16,456.84 88.65,455.53 85.14,454.22 81.66,452.82 78.20,451.40 74.73,449.98 71.26,448.56 67.80,447.14 64.33,445.72 60.87,444.30 57.40,442.88 53.93,441.46 50.47,440.04 47.00,438.62" fill="#c895d1" stroke="#c895d1" stroke-width="0.35"/>
<polygon points="47.00,438.62 50.47,440.04 53.93,441.46 57.40,442.88 60.87,444.30 64.33,445.72 67.80,447.14 71.26,448.56 74.73,449.98 78.20,451.40 81.66,452.82 85.14,454.22 88.65,455.53 92.16,456.84 95.66,458.14 99.13,459.55 102.56,461.00 106.00,462.45 109.43,463.91 112.87,465.36 116.30,466.81 119.74,468.27 123.17,469.72 126.50,471.44 129.80,473.19 133.11,474.95 136.42,476.70 139.73,478.45 143.03,480.20 146.34,481.96 149.65,483.71 152.81,485.71 155.97,487.72 159.13,489.73 162.29,491.74 165.45,493.76 168.60,495.77 171.76,497.78 174.92,499.79 178.08,501.80 181.12,501.80 177.89,499.77 174.66,497.73 171.42,495.70 168.19,493.67 164.96,491.63 161.73,489.60 158.50,487.57 155.27,485.53 152.03,483.50 148.64,481.75 145.26,479.99 141.87,478.23 138.48,476.47 135.09,474.71 131.71,472.95 128.32,471.19 124.92,469.47 121.38,468.05 117.85,466.63 114.32,465.21 110.78,463.79 107.25,462.38 103.71,460.96 100.18,459.54 96.63,458.16 93.05,456.84 89.46,455.51 85.88,454.19 82.34,452.77 78.80,451.32 75.27,449.87 71.74,448.42 68.20,446.97 64.67,445.52 61.14,444.07 57.60,442.63 54.07,441.18 50.53,439.73 47.00,438.28" fill="#d3aada" stroke="#d3aada" stroke-width="0.35"/>
<polygon points="47.00,438.28 50.53,439.73 54.07,441.18 57.60,442.63 61.14,444.07 64.67,445.52 68.20,446.97 71.74,448.42 75.27,449.87 78.80,451.32 82.34,452.77 85.88,454.19 89.46,455.51 93.05,456.84 96.63,458.16 100.18,459.54 103.71,460.96 107.25,462.38 110.78,463.79 114.32,465.21 117.85,466.63 121.38,468.05 124.92,469.47 128.32,471.19 131.71,472.95 135.09,474.71 138.48,476.47 141.87,478.23 145.26,479.99 148.64,481.75 152.03,483.50 155.27,485.53 158.50,487.57 161.73,489.60 164.96,491.63 168.19,493.67 171.42,495.70 174.66,497.73 177.89,499.77 181.12,501.80 184.16,501.80 180.86,499.74 177.55,497.69 174.25,495.63 170.94,493.58 167.64,491.52 164.33,489.47 161.03,487.41 157.72,485.35 154.41,483.30 150.95,481.54 147.48,479.77 144.01,478.00 140.55,476.24 137.08,474.47 133.61,472.70 130.14,470.94 126.66,469.21 123.03,467.83 119.39,466.45 115.76,465.06 112.13,463.68 108.50,462.30 104.87,460.92 101.23,459.53 97.59,458.17 93.94,456.84 90.28,455.50 86.62,454.17 83.01,452.72 79.41,451.24 75.81,449.76 72.21,448.28 68.61,446.81 65.01,445.33 61.41,443.85 57.80,442.37 54.20,440.90 50.60,439.42 47.00,437.94" fill="#dfc0e5" stroke="#dfc0e5" stroke-width="0.35"/>
<polygon points="47.00,437.94 50.60,439.42 54.20,440.90 57.80,442.37 61.41,443.85 65.01,445.33 68.61,446.81 72.21,448.28 75.81,449.76 79.41,451.24 83.01,452.72 86.62,454.17 90.28,455.50 93.94,456.84 97.59,458.17 101.23,459.53 104.87,460.92 108.50,462.30 112.13,463.68 115.76,465.06 119.39,466.45 123.03,467.83 126.66,469.21 130.14,470.94 133.61,472.70 137.08,474.47 140.55,476.24 144.01,478.00 147.48,479.77 150.95,481.54 154.41,483.30 157.72,485.35 161.03,487.41 164.33,489.47 167.64,491.52 170.94,493.58 174.25,495.63 177.55,497.69 180.86,499.74 184.16,501.80 187.20,501.80 183.82,499.72 180.44,497.64 177.07,495.57 173.69,493.49 170.31,491.41 166.93,489.33 163.55,487.25 160.18,485.18 156.80,483.10 153.25,481.33 149.70,479.55 146.16,477.78 142.61,476.00 139.06,474.23 135.51,472.46 131.97,470.68 128.40,468.96 124.67,467.61 120.94,466.26 117.21,464.92 113.48,463.57 109.75,462.22 106.02,460.87 102.29,459.53 98.56,458.18 94.83,456.83 91.10,455.49 87.37,454.14 83.69,452.66 80.02,451.16 76.35,449.65 72.68,448.14 69.01,446.64 65.34,445.13 61.68,443.63 58.01,442.12 54.34,440.61 50.67,439.11 47.00,437.60" fill="#ebd6ef" stroke="#ebd6ef" stroke-width="0.35"/>
<polygon points="47.00,446.20 49.16,447.62 51.32,449.04 53.48,450.46 55.64,451.88 57.80,453.30 59.96,454.72 62.12,456.14 64.28,457.56 66.44,458.98 68.60,460.40 70.76,461.82 72.92,463.24 75.08,464.66 77.25,466.08 79.41,467.49 81.57,468.91 83.73,470.33 85.89,471.75 88.05,473.17 90.20,474.60 92.36,476.03 94.51,477.46 96.66,478.89 98.81,480.33 100.97,481.76 103.12,483.19 105.27,484.62 107.42,486.05 109.58,487.48 111.73,488.92 113.88,490.35 116.03,491.78 118.19,493.21 120.34,494.64 122.49,496.07 124.64,497.51 126.80,498.94 128.95,500.37 131.10,501.80 132.97,501.80 130.80,500.31 128.64,498.82 126.47,497.32 124.31,495.83 122.14,494.34 119.97,492.85 117.81,491.36 115.64,489.86 113.44,488.42 111.24,486.97 109.04,485.53 106.84,484.08 104.64,482.63 102.44,481.19 100.24,479.74 98.05,478.30 95.85,476.85 93.65,475.40 91.45,473.96 89.24,472.52 87.04,471.08 84.83,469.65 82.62,468.21 80.41,466.78 78.18,465.39 75.96,464.00 73.73,462.60 71.50,461.21 69.27,459.81 67.05,458.42 64.82,457.02 62.59,455.63 60.36,454.24 58.14,452.84 55.91,451.45 53.68,450.05 51.45,448.66 49.23,447.26 47.00,445.87" fill="#2e79bd" stroke="#2e79bd" stroke-width="0.35"/>
<polygon points="47.00,445.87 49.23,447.26 51.45,448.66 53.68,450.05 55.91,451.45 58.14,452.84 60.36,454.24 62.59,455.63 64.82,457.02 67.05,458.42 69.27,459.81 71.50,461.21 73.73,462.60 75.96,464.00 78.18,465.39 80.41,466.78 82.62,468.21 84.83,469.65 87.04,471.08 89.24,472.52 91.45,473.96 93.65,475.40 95.85,476.85 98.05,478.30 100.24,479.74 102.44,481.19 104.64,482.63 106.84,484.08 109.04,485.53 111.24,486.97 113.44,488.42 115.64,489.86 117.81,491.36 119.97,492.85 122.14,494.34 124.31,495.83 126.47,497.32 128.64,498.82 130.80,500.31 132.97,501.80 134.84,501.80 132.66,500.25 130.48,498.69 128.30,497.14 126.12,495.59 123.94,494.04 121.76,492.48 119.59,490.93 117.41,489.38 115.16,487.92 112.91,486.46 110.67,485.00 108.42,483.54 106.17,482.08 103.92,480.62 101.68,479.16 99.43,477.70 97.18,476.24 94.94,474.78 92.69,473.32 90.44,471.86 88.19,470.41 85.93,468.96 83.68,467.51 81.42,466.07 79.12,464.70 76.83,463.33 74.53,461.97 72.24,460.60 69.95,459.23 67.65,457.86 65.36,456.49 63.06,455.12 60.77,453.75 58.47,452.38 56.18,451.02 53.88,449.65 51.59,448.28 49.29,446.91 47.00,445.54" fill="#3480c2" stroke="#3480c2" stroke-width="0.35"/>
<polygon points="47.00,445.54 49.29,446.91 51.59,448.28 53.88,449.65 56.18,451.02 58.47,452.38 60.77,453.75 63.06,455.12 65.36,456.49 67.65,457.86 69.95,459.23 72.24,460.60 74.53,461.97 76.83,463.33 79.12,464.70 81.42,466.07 83.68,467.51 85.93,468.96 88.19,470.41 90.44,471.86 92.69,473.32 94.94,474.78 97.18,476.24 99.43,477.70 101.68,479.16 103.92,480.62 106.17,482.08 108.42,483.54 110.67,485.00 112.91,486.46 115.16,487.92 117.41,489.38 119.59,490.93 121.76,492.48 123.94,494.04 126.12,495.59 128.30,497.14 130.48,498.69 132.66,500.25 134.84,501.80 136.71,501.80 134.52,500.19 132.32,498.57 130.13,496.96 127.94,495.35 125.75,493.73 123.55,492.12 121.36,490.51 119.17,488.90 116.88,487.42 114.58,485.95 112.29,484.47 109.99,483.00 107.70,481.52 105.40,480.05 103.11,478.57 100.81,477.10 98.52,475.62 96.23,474.15 93.93,472.67 91.64,471.20 89.34,469.74 87.04,468.27 84.74,466.80 82.42,465.36 80.06,464.02 77.70,462.67 75.34,461.33 72.98,459.99 70.62,458.64 68.25,457.30 65.89,455.96 63.53,454.61 61.17,453.27 58.81,451.93 56.45,450.58 54.08,449.24 51.72,447.90 49.36,446.55 47.00,445.21" fill="#3a86c7" stroke="#3a86c7" stroke-width="0.35"/>
<polygon points="47.00,445.21 49.36,446.55 51.72,447.90 54.08,449.24 56.45,450.58 58.81,451.93 61.17,453.27 63.53,454.61 65.89,455.96 68.25,457.30 70.62,458.64 72.98,459.99 75.34,461.33 77.70,462.67 80.06,464.02 82.42,465.36 84.74,466.80 87.04,468.27 89.34,469.74 91.64,471.20 93.93,472.67 96.23,474.15 98.52,475.62 100.81,477.10 103.11,478.57 105.40,480.05 107.70,481.52 109.99,483.00 112.29,484.47 114.58,485.95 116.88,487.42 119.17,488.90 121.36,490.51 123.55,492.12 125.75,493.73 127.94,495.35 130.13,496.96 132.32,498.57 134.52,500.19 136.71,501.80 138.58,501.80 136.37,500.13 134.17,498.45 131.96,496.78 129.76,495.11 127.55,493.43 125.34,491.76 123.14,490.09 120.93,488.41 118.59,486.92 116.25,485.43 113.91,483.94 111.57,482.46 109.22,480.97 106.88,479.48 104.54,477.99 102.20,476.50 99.86,475.01 97.52,473.52 95.17,472.03 92.83,470.55 90.48,469.06 88.14,467.58 85.79,466.10 83.43,464.65 81.00,463.33 78.57,462.01 76.14,460.70 73.72,459.38 71.29,458.06 68.86,456.74 66.43,455.42 64.00,454.11 61.57,452.79 59.14,451.47 56.71,450.15 54.29,448.83 51.86,447.52 49.43,446.20 47.00,444.88" fill="#418dcc" stroke="#418dcc" stroke-width="0.35"/>
<polygon points="47.00,444.88 49.43,446.20 51.86,447.52 54.29,448.83 56.71,450.15 59.14,451.47 61.57,452.79 64.00,454.11 66.43,455.42 68.86,456.74 71.29,458.06 73.72,459.38 76.14,460.70 78.57,462.01 81.00,463.33 83.43,464.65 85.79,466.10 88.14,467.58 90.48,469.06 92.83,470.55 95.17,472.03 97.52,473.52 99.86,475.01 102.20,476.50 104.54,477.99 106.88,479.48 109.22,480.97 111.57,482.46 113.91,483.94 116.25,485.43 118.59,486.92 120.93,488.41 123.14,490.09 125.34,491.76 127.55,493.43 129.76,495.11 131.96,496.78 134.17,498.45 136.37,500.13 138.58,501.80 140.45,501.80 138.23,500.07 136.01,498.33 133.79,496.60 131.57,494.86 129.35,493.13 127.13,491.40 124.91,489.66 122.70,487.93 120.31,486.42 117.92,484.92 115.53,483.42 113.14,481.91 110.75,480.41 108.36,478.91 105.97,477.40 103.58,475.90 101.20,474.40 98.81,472.89 96.42,471.39 94.03,469.89 91.63,468.39 89.24,466.89 86.85,465.40 84.44,463.94 81.94,462.65 79.44,461.35 76.95,460.06 74.45,458.77 71.96,457.48 69.46,456.18 66.97,454.89 64.47,453.60 61.97,452.31 59.48,451.01 56.98,449.72 54.49,448.43 51.99,447.14 49.50,445.84 47.00,444.55" fill="#4a95d0" stroke="#4a95d0" stroke-width="0.35"/>
<polygon points="47.00,444.55 49.50,445.84 51.99,447.14 54.49,448.43 56.98,449.72 59.48,451.01 61.97,452.31 64.47,453.60 66.97,454.89 69.46,456.18 71.96,457.48 74.45,458.77 76.95,460.06 79.44,461.35 81.94,462.65 84.44,463.94 86.85,465.40 89.24,466.89 91.63,468.39 94.03,469.89 96.42,471.39 98.81,472.89 101.20,474.40 103.58,475.90 105.97,477.40 108.36,478.91 110.75,480.41 113.14,481.91 115.53,483.42 117.92,484.92 120.31,486.42 122.70,487.93 124.91,489.66 127.13,491.40 129.35,493.13 131.57,494.86 133.79,496.60 136.01,498.33 138.23,500.07 140.45,501.80 142.32,501.80 140.09,500.01 137.85,498.21 135.62,496.42 133.39,494.62 131.16,492.83 128.92,491.03 126.69,489.24 124.46,487.44 122.02,485.93 119.59,484.41 117.15,482.89 114.71,481.37 112.28,479.85 109.84,478.34 107.41,476.82 104.97,475.30 102.53,473.78 100.10,472.27 97.66,470.75 95.22,469.23 92.78,467.72 90.34,466.21 87.91,464.69 85.44,463.23 82.88,461.96 80.32,460.69 77.75,459.43 75.19,458.16 72.63,456.89 70.07,455.62 67.50,454.36 64.94,453.09 62.38,451.82 59.81,450.56 57.25,449.29 54.69,448.02 52.13,446.75 49.56,445.49 47.00,444.22" fill="#549dd5" stroke="#549dd5" stroke-width="0.35"/>
<polygon points="47.00,444.22 49.56,445.49 52.13,446.75 54.69,448.02 57.25,449.29 59.81,450.56 62.38,451.82 64.94,453.09 67.50,454.36 70.07,455.62 72.63,456.89 75.19,458.16 77.75,459.43 80.32,460.69 82.88,461.96 85.44,463.23 87.91,464.69 90.34,466.21 92.78,467.72 95.22,469.23 97.66,470.75 100.10,472.27 102.53,473.78 104.97,475.30 107.41,476.82 109.84,478.34 112.28,479.85 114.71,481.37 117.15,482.89 119.59,484.41 122.02,485.93 124.46,487.44 126.69,489.24 128.92,491.03 131.16,492.83 133.39,494.62 135.62,496.42 137.85,498.21 140.09,500.01 142.32,501.80 144.19,501.80 141.94,499.95 139.70,498.09 137.45,496.24 135.21,494.38 132.96,492.53 130.71,490.67 128.47,488.82 126.22,486.96 123.74,485.43 121.26,483.89 118.77,482.36 116.29,480.83 113.80,479.30 111.32,477.77 108.84,476.23 106.35,474.70 103.87,473.17 101.39,471.64 98.90,470.11 96.42,468.58 93.93,467.05 91.45,465.52 88.96,463.99 86.45,462.52 83.82,461.27 81.19,460.03 78.56,458.79 75.93,457.55 73.30,456.31 70.67,455.07 68.04,453.82 65.41,452.58 62.78,451.34 60.15,450.10 57.52,448.86 54.89,447.62 52.26,446.37 49.63,445.13 47.00,443.89" fill="#5da5d9" stroke="#5da5d9" stroke-width="0.35"/>
<polygon points="47.00,443.89 49.63,445.13 52.26,446.37 54.89,447.62 57.52,448.86 60.15,450.10 62.78,451.34 65.41,452.58 68.04,453.82 70.67,455.07 73.30,456.31 75.93,457.55 78.56,458.79 81.19,460.03 83.82,461.27 86.45,462.52 88.96,463.99 91.45,465.52 93.93,467.05 96.42,468.58 98.90,470.11 101.39,471.64 103.87,473.17 106.35,474.70 108.84,476.23 111.32,477.77 113.80,479.30 116.29,480.83 118.77,482.36 121.26,483.89 123.74,485.43 126.22,486.96 128.47,488.82 130.71,490.67 132.96,492.53 135.21,494.38 137.45,496.24 139.70,498.09 141.94,499.95 144.19,501.80 146.06,501.80 143.80,499.88 141.54,497.97 139.28,496.05 137.02,494.14 134.76,492.22 132.50,490.31 130.24,488.39 127.98,486.48 125.45,484.93 122.92,483.38 120.39,481.84 117.86,480.29 115.33,478.74 112.80,477.20 110.27,475.65 107.74,474.10 105.21,472.56 102.68,471.01 100.15,469.46 97.62,467.92 95.08,466.37 92.55,464.83 90.02,463.29 87.46,461.80 84.76,460.59 82.06,459.37 79.36,458.15 76.67,456.94 73.97,455.72 71.27,454.51 68.58,453.29 65.88,452.07 63.18,450.86 60.49,449.64 57.79,448.42 55.09,447.21 52.39,445.99 49.70,444.78 47.00,443.56" fill="#69acdd" stroke="#69acdd" stroke-width="0.35"/>
<polygon points="47.00,443.56 49.70,444.78 52.39,445.99 55.09,447.21 57.79,448.42 60.49,449.64 63.18,450.86 65.88,452.07 68.58,453.29 71.27,454.51 73.97,455.72 76.67,456.94 79.36,458.15 82.06,459.37 84.76,460.59 87.46,461.80 90.02,463.29 92.55,464.83 95.08,466.37 97.62,467.92 100.15,469.46 102.68,471.01 105.21,472.56 107.74,474.10 110.27,475.65 112.80,477.20 115.33,478.74 117.86,480.29 120.39,481.84 122.92,483.38 125.45,484.93 127.98,486.48 130.24,488.39 132.50,490.31 134.76,492.22 137.02,494.14 139.28,496.05 141.54,497.97 143.80,499.88 146.06,501.80 147.93,501.80 145.66,499.82 143.38,497.85 141.11,495.87 138.84,493.90 136.57,491.92 134.29,489.94 132.02,487.97 129.75,485.99 127.17,484.43 124.59,482.87 122.01,481.31 119.44,479.75 116.86,478.19 114.28,476.63 111.70,475.07 109.12,473.50 106.55,471.94 103.97,470.38 101.39,468.82 98.81,467.26 96.23,465.70 93.65,464.14 91.08,462.58 88.46,461.09 85.70,459.90 82.93,458.71 80.17,457.52 77.40,456.33 74.64,455.14 71.88,453.95 69.11,452.76 66.35,451.57 63.58,450.37 60.82,449.18 58.06,447.99 55.29,446.80 52.53,445.61 49.76,444.42 47.00,443.23" fill="#74b4e1" stroke="#74b4e1" stroke-width="0.35"/>
<polygon points="47.00,443.23 49.76,444.42 52.53,445.61 55.29,446.80 58.06,447.99 60.82,449.18 63.58,450.37 66.35,451.57 69.11,452.76 71.88,453.95 74.64,455.14 77.40,456.33 80.17,457.52 82.93,458.71 85.70,459.90 88.46,461.09 91.08,462.58 93.65,464.14 96.23,465.70 98.81,467.26 101.39,468.82 103.97,470.38 106.55,471.94 109.12,473.50 111.70,475.07 114.28,476.63 116.86,478.19 119.44,479.75 122.01,481.31 124.59,482.87 127.17,484.43 129.75,485.99 132.02,487.97 134.29,489.94 136.57,491.92 138.84,493.90 141.11,495.87 143.38,497.85 145.66,499.82 147.93,501.80 149.80,501.80 147.51,499.76 145.23,497.73 142.94,495.69 140.66,493.65 138.37,491.62 136.08,489.58 133.80,487.55 131.51,485.51 128.89,483.93 126.26,482.36 123.64,480.78 121.01,479.21 118.38,477.63 115.76,476.06 113.13,474.48 110.51,472.91 107.88,471.33 105.26,469.75 102.63,468.18 100.01,466.60 97.38,465.03 94.76,463.45 92.13,461.88 89.47,460.38 86.64,459.22 83.81,458.05 80.97,456.88 78.14,455.72 75.31,454.55 72.48,453.39 69.65,452.22 66.82,451.06 63.99,449.89 61.16,448.73 58.32,447.56 55.49,446.40 52.66,445.23 49.83,444.07 47.00,442.90" fill="#80bce4" stroke="#80bce4" stroke-width="0.35"/>
<polygon points="47.00,459.30 103.10,422.40 129.90,392.40 131.60,392.40 105.00,423.60 47.00,460.90" fill="#c0e3ef" stroke="none" stroke-width="1"/>
<polygon points="47.00,463.30 90.00,440.50 131.10,420.00 149.80,392.40 156.80,392.40 132.30,422.60 47.00,464.60" fill="#f2e9f5" stroke="#f2e9f5" stroke-width="0.4"/>
<polygon points="47.00,460.90 49.37,459.37 51.74,457.85 54.11,456.32 56.49,454.80 58.86,453.27 61.23,451.75 63.60,450.22 65.97,448.70 68.34,447.17 70.71,445.65 73.09,444.12 75.46,442.60 77.83,441.07 80.20,439.55 82.57,438.02 84.94,436.50 87.31,434.97 89.69,433.45 92.06,431.92 94.43,430.40 96.80,428.87 99.17,427.35 101.54,425.82 103.91,424.30 105.99,422.44 107.82,420.29 109.65,418.15 111.48,416.00 113.31,413.86 115.14,411.71 116.97,409.56 118.80,407.42 120.62,405.27 122.45,403.13 124.28,400.98 126.11,398.84 127.94,396.69 129.77,394.55 131.60,392.40 133.42,392.40 131.59,394.60 129.76,396.81 127.93,399.01 126.10,401.21 124.27,403.41 122.44,405.62 120.61,407.82 118.78,410.02 116.95,412.22 115.12,414.43 113.20,416.52 111.26,418.60 109.32,420.68 107.38,422.76 105.21,424.58 102.78,426.10 100.36,427.62 97.93,429.13 95.50,430.65 93.07,432.17 90.65,433.69 88.22,435.21 85.79,436.73 83.36,438.25 80.94,439.77 78.51,441.30 76.09,442.83 73.66,444.35 71.24,445.88 68.82,447.40 66.39,448.93 63.97,450.46 61.54,451.98 59.12,453.51 56.70,455.04 54.27,456.56 51.85,458.09 49.42,459.61 47.00,461.14" fill="#2e79bd" stroke="#2e79bd" stroke-width="0.35"/>
<polygon points="47.00,461.14 49.42,459.61 51.85,458.09 54.27,456.56 56.70,455.04 59.12,453.51 61.54,451.98 63.97,450.46 66.39,448.93 68.82,447.40 71.24,445.88 73.66,444.35 76.09,442.83 78.51,441.30 80.94,439.77 83.36,438.25 85.79,436.73 88.22,435.21 90.65,433.69 93.07,432.17 95.50,430.65 97.93,429.13 100.36,427.62 102.78,426.10 105.21,424.58 107.38,422.76 109.32,420.68 111.26,418.60 113.20,416.52 115.12,414.43 116.95,412.22 118.78,410.02 120.61,407.82 122.44,405.62 124.27,403.41 126.10,401.21 127.93,399.01 129.76,396.81 131.59,394.60 133.42,392.40 135.24,392.40 133.41,394.66 131.58,396.92 129.75,399.18 127.91,401.44 126.08,403.70 124.25,405.96 122.42,408.22 120.59,410.48 118.76,412.74 116.93,415.00 114.91,417.05 112.86,419.06 110.81,421.06 108.76,423.07 106.51,424.86 104.03,426.37 101.54,427.88 99.06,429.39 96.57,430.91 94.09,432.42 91.61,433.93 89.12,435.45 86.64,436.96 84.15,438.47 81.67,440.00 79.20,441.52 76.72,443.05 74.24,444.58 71.77,446.11 69.29,447.63 66.81,449.16 64.34,450.69 61.86,452.22 59.38,453.74 56.91,455.27 54.43,456.80 51.95,458.33 49.48,459.85 47.00,461.38" fill="#3480c2" stroke="#3480c2" stroke-width="0.35"/>
<polygon points="47.00,461.38 49.48,459.85 51.95,458.33 54.43,456.80 56.91,455.27 59.38,453.74 61.86,452.22 64.34,450.69 66.81,449.16 69.29,447.63 71.77,446.11 74.24,444.58 76.72,443.05 79.20,441.52 81.67,440.00 84.15,438.47 86.64,436.96 89.12,435.45 91.61,433.93 94.09,432.42 96.57,430.91 99.06,429.39 101.54,427.88 104.03,426.37 106.51,424.86 108.76,423.07 110.81,421.06 112.86,419.06 114.91,417.05 116.93,415.00 118.76,412.74 120.59,410.48 122.42,408.22 124.25,405.96 126.08,403.70 127.91,401.44 129.75,399.18 131.58,396.92 133.41,394.66 135.24,392.40 137.06,392.40 135.23,394.72 133.40,397.03 131.56,399.35 129.73,401.67 127.90,403.98 126.07,406.30 124.23,408.62 122.40,410.93 120.57,413.25 118.74,415.57 116.63,417.57 114.47,419.51 112.31,421.45 110.14,423.39 107.81,425.13 105.27,426.64 102.73,428.15 100.19,429.65 97.65,431.16 95.11,432.67 92.57,434.17 90.02,435.68 87.48,437.19 84.94,438.70 82.41,440.22 79.88,441.75 77.35,443.28 74.82,444.81 72.29,446.33 69.77,447.86 67.24,449.39 64.71,450.92 62.18,452.45 59.65,453.98 57.12,455.51 54.59,457.03 52.06,458.56 49.53,460.09 47.00,461.62" fill="#3a86c7" stroke="#3a86c7" stroke-width="0.35"/>
<polygon points="47.00,461.62 49.53,460.09 52.06,458.56 54.59,457.03 57.12,455.51 59.65,453.98 62.18,452.45 64.71,450.92 67.24,449.39 69.77,447.86 72.29,446.33 74.82,444.81 77.35,443.28 79.88,441.75 82.41,440.22 84.94,438.70 87.48,437.19 90.02,435.68 92.57,434.17 95.11,432.67 97.65,431.16 100.19,429.65 102.73,428.15 105.27,426.64 107.81,425.13 110.14,423.39 112.31,421.45 114.47,419.51 116.63,417.57 118.74,415.57 120.57,413.25 122.40,410.93 124.23,408.62 126.07,406.30 127.90,403.98 129.73,401.67 131.56,399.35 133.40,397.03 135.23,394.72 137.06,392.40 138.88,392.40 137.05,394.77 135.21,397.15 133.38,399.52 131.55,401.89 129.71,404.27 127.88,406.64 126.05,409.02 124.21,411.39 122.38,413.76 120.54,416.14 118.34,418.09 116.07,419.96 113.80,421.84 111.53,423.71 109.11,425.41 106.51,426.91 103.91,428.41 101.32,429.91 98.72,431.42 96.12,432.92 93.53,434.42 90.93,435.92 88.33,437.42 85.73,438.92 83.15,440.44 80.57,441.97 77.99,443.50 75.40,445.03 72.82,446.56 70.24,448.09 67.66,449.62 65.07,451.15 62.49,452.68 59.91,454.21 57.33,455.74 54.75,457.27 52.16,458.80 49.58,460.33 47.00,461.86" fill="#418dcc" stroke="#418dcc" stroke-width="0.35"/>
<polygon points="47.00,461.86 49.58,460.33 52.16,458.80 54.75,457.27 57.33,455.74 59.91,454.21 62.49,452.68 65.07,451.15 67.66,449.62 70.24,448.09 72.82,446.56 75.40,445.03 77.99,443.50 80.57,441.97 83.15,440.44 85.73,438.92 88.33,437.42 90.93,435.92 93.53,434.42 96.12,432.92 98.72,431.42 101.32,429.91 103.91,428.41 106.51,426.91 109.11,425.41 111.53,423.71 113.80,421.84 116.07,419.96 118.34,418.09 120.54,416.14 122.38,413.76 124.21,411.39 126.05,409.02 127.88,406.64 129.71,404.27 131.55,401.89 133.38,399.52 135.21,397.15 137.05,394.77 138.88,392.40 140.70,392.40 138.87,394.83 137.03,397.26 135.20,399.69 133.36,402.12 131.53,404.55 129.69,406.98 127.86,409.41 126.02,411.85 124.19,414.28 122.35,416.71 120.06,418.61 117.68,420.42 115.30,422.22 112.91,424.03 110.41,425.69 107.75,427.19 105.10,428.68 102.45,430.17 99.79,431.67 97.14,433.16 94.49,434.66 91.83,436.15 89.18,437.65 86.53,439.14 83.89,440.67 81.25,442.20 78.62,443.73 75.98,445.26 73.35,446.79 70.71,448.32 68.08,449.85 65.44,451.38 62.81,452.91 60.17,454.45 57.54,455.98 54.90,457.51 52.27,459.04 49.63,460.57 47.00,462.10" fill="#4a95d0" stroke="#4a95d0" stroke-width="0.35"/>
<polygon points="47.00,462.10 49.63,460.57 52.27,459.04 54.90,457.51 57.54,455.98 60.17,454.45 62.81,452.91 65.44,451.38 68.08,449.85 70.71,448.32 73.35,446.79 75.98,445.26 78.62,443.73 81.25,442.20 83.89,440.67 86.53,439.14 89.18,437.65 91.83,436.15 94.49,434.66 97.14,433.16 99.79,431.67 102.45,430.17 105.10,428.68 107.75,427.19 110.41,425.69 112.91,424.03 115.30,422.22 117.68,420.42 120.06,418.61 122.35,416.71 124.19,414.28 126.02,411.85 127.86,409.41 129.69,406.98 131.53,404.55 133.36,402.12 135.20,399.69 137.03,397.26 138.87,394.83 140.70,392.40 142.52,392.40 140.68,394.89 138.85,397.38 137.01,399.86 135.18,402.35 133.34,404.84 131.51,407.33 129.67,409.81 127.83,412.30 126.00,414.79 124.16,417.28 121.78,419.14 119.28,420.87 116.79,422.61 114.30,424.35 111.71,425.97 109.00,427.46 106.29,428.95 103.58,430.43 100.87,431.92 98.16,433.41 95.45,434.90 92.74,436.39 90.03,437.88 87.32,439.37 84.63,440.89 81.94,442.42 79.25,443.96 76.56,445.49 73.88,447.02 71.19,448.55 68.50,450.08 65.81,451.62 63.13,453.15 60.44,454.68 57.75,456.21 55.06,457.74 52.38,459.28 49.69,460.81 47.00,462.34" fill="#549dd5" stroke="#549dd5" stroke-width="0.35"/>
<polygon points="47.00,462.34 49.69,460.81 52.38,459.28 55.06,457.74 57.75,456.21 60.44,454.68 63.13,453.15 65.81,451.62 68.50,450.08 71.19,448.55 73.88,447.02 76.56,445.49 79.25,443.96 81.94,442.42 84.63,440.89 87.32,439.37 90.03,437.88 92.74,436.39 95.45,434.90 98.16,433.41 100.87,431.92 103.58,430.43 106.29,428.95 109.00,427.46 111.71,425.97 114.30,424.35 116.79,422.61 119.28,420.87 121.78,419.14 124.16,417.28 126.00,414.79 127.83,412.30 129.67,409.81 131.51,407.33 133.34,404.84 135.18,402.35 137.01,399.86 138.85,397.38 140.68,394.89 142.52,392.40 144.34,392.40 142.50,394.94 140.67,397.49 138.83,400.03 136.99,402.58 135.16,405.12 133.32,407.67 131.48,410.21 129.65,412.76 127.81,415.30 125.97,417.85 123.49,419.66 120.89,421.33 118.29,423.00 115.68,424.66 113.00,426.25 110.24,427.73 107.47,429.21 104.71,430.69 101.94,432.18 99.17,433.66 96.41,435.14 93.64,436.62 90.87,438.11 88.11,439.59 85.36,441.11 82.62,442.65 79.88,444.18 77.14,445.71 74.40,447.25 71.66,448.78 68.92,450.31 66.18,451.85 63.44,453.38 60.70,454.91 57.96,456.45 55.22,457.98 52.48,459.51 49.74,461.05 47.00,462.58" fill="#5da5d9" stroke="#5da5d9" stroke-width="0.35"/>
<polygon points="47.00,462.58 49.74,461.05 52.48,459.51 55.22,457.98 57.96,456.45 60.70,454.91 63.44,453.38 66.18,451.85 68.92,450.31 71.66,448.78 74.40,447.25 77.14,445.71 79.88,444.18 82.62,442.65 85.36,441.11 88.11,439.59 90.87,438.11 93.64,436.62 96.41,435.14 99.17,433.66 101.94,432.18 104.71,430.69 107.47,429.21 110.24,427.73 113.00,426.25 115.68,424.66 118.29,423.00 120.89,421.33 123.49,419.66 125.97,417.85 127.81,415.30 129.65,412.76 131.48,410.21 133.32,407.67 135.16,405.12 136.99,402.58 138.83,400.03 140.67,397.49 142.50,394.94 144.34,392.40 146.16,392.40 144.32,395.00 142.48,397.60 140.65,400.21 138.81,402.81 136.97,405.41 135.13,408.01 133.29,410.61 131.46,413.21 129.62,415.82 127.78,418.42 125.21,420.18 122.50,421.78 119.78,423.38 117.07,424.98 114.30,426.53 111.48,428.00 108.66,429.48 105.83,430.96 103.01,432.43 100.19,433.91 97.37,435.38 94.54,436.86 91.72,438.34 88.90,439.81 86.10,441.34 83.31,442.87 80.51,444.41 77.72,445.94 74.93,447.48 72.14,449.01 69.34,450.54 66.55,452.08 63.76,453.61 60.96,455.15 58.17,456.68 55.38,458.22 52.59,459.75 49.79,461.29 47.00,462.82" fill="#69acdd" stroke="#69acdd" stroke-width="0.35"/>
<polygon points="47.00,462.82 49.79,461.29 52.59,459.75 55.38,458.22 58.17,456.68 60.96,455.15 63.76,453.61 66.55,452.08 69.34,450.54 72.14,449.01 74.93,447.48 77.72,445.94 80.51,444.41 83.31,442.87 86.10,441.34 88.90,439.81 91.72,438.34 94.54,436.86 97.37,435.38 100.19,433.91 103.01,432.43 105.83,430.96 108.66,429.48 111.48,428.00 114.30,426.53 117.07,424.98 119.78,423.38 122.50,421.78 125.21,420.18 127.78,418.42 129.62,415.82 131.46,413.21 133.29,410.61 135.13,408.01 136.97,405.41 138.81,402.81 140.65,400.21 142.48,397.60 144.32,395.00 146.16,392.40 147.98,392.40 146.14,395.06 144.30,397.72 142.46,400.38 140.62,403.04 138.79,405.69 136.95,408.35 135.11,411.01 133.27,413.67 131.43,416.33 129.59,418.99 126.93,420.70 124.10,422.24 121.28,423.77 118.45,425.30 115.60,426.80 112.72,428.27 109.84,429.74 106.96,431.22 104.08,432.69 101.21,434.16 98.33,435.63 95.45,437.10 92.57,438.57 89.69,440.04 86.84,441.56 83.99,443.10 81.15,444.63 78.30,446.17 75.46,447.70 72.61,449.24 69.76,450.78 66.92,452.31 64.07,453.85 61.23,455.38 58.38,456.92 55.54,458.45 52.69,459.99 49.85,461.52 47.00,463.06" fill="#74b4e1" stroke="#74b4e1" stroke-width="0.35"/>
<polygon points="47.00,463.06 49.85,461.52 52.69,459.99 55.54,458.45 58.38,456.92 61.23,455.38 64.07,453.85 66.92,452.31 69.76,450.78 72.61,449.24 75.46,447.70 78.30,446.17 81.15,444.63 83.99,443.10 86.84,441.56 89.69,440.04 92.57,438.57 95.45,437.10 98.33,435.63 101.21,434.16 104.08,432.69 106.96,431.22 109.84,429.74 112.72,428.27 115.60,426.80 118.45,425.30 121.28,423.77 124.10,422.24 126.93,420.70 129.59,418.99 131.43,416.33 133.27,413.67 135.11,411.01 136.95,408.35 138.79,405.69 140.62,403.04 142.46,400.38 144.30,397.72 146.14,395.06 147.98,392.40 149.80,392.40 147.96,395.12 146.12,397.83 144.28,400.55 142.44,403.26 140.60,405.98 138.76,408.69 136.92,411.41 135.08,414.13 133.24,416.84 131.40,419.56 128.64,421.23 125.71,422.69 122.77,424.15 119.84,425.62 116.90,427.08 113.96,428.55 111.03,430.01 108.09,431.48 105.16,432.94 102.22,434.40 99.29,435.87 96.35,437.33 93.42,438.80 90.48,440.26 87.58,441.79 84.68,443.32 81.78,444.86 78.88,446.40 75.98,447.93 73.08,449.47 70.19,451.01 67.29,452.54 64.39,454.08 61.49,455.62 58.59,457.15 55.69,458.69 52.80,460.23 49.90,461.76 47.00,463.30" fill="#80bce4" stroke="#80bce4" stroke-width="0.35"/>
<polygon points="47.00,464.60 50.08,463.08 53.16,461.57 56.25,460.05 59.33,458.53 62.41,457.01 65.49,455.50 68.57,453.98 71.65,452.46 74.74,450.94 77.82,449.43 80.90,447.91 83.98,446.39 87.06,444.87 90.14,443.36 93.23,441.84 96.31,440.32 99.39,438.80 102.47,437.29 105.55,435.77 108.64,434.25 111.72,432.73 114.80,431.22 117.88,429.70 120.96,428.18 124.04,426.67 127.13,425.15 130.21,423.63 132.99,421.74 135.16,419.08 137.32,416.41 139.49,413.74 141.65,411.07 143.82,408.41 145.98,405.74 148.14,403.07 150.31,400.40 152.47,397.74 154.64,395.07 156.80,392.40 159.84,392.40 157.59,395.08 155.33,397.76 153.08,400.43 150.83,403.11 148.57,405.79 146.32,408.47 144.07,411.15 141.81,413.82 139.56,416.50 137.27,419.12 134.94,421.68 132.05,423.52 128.89,425.04 125.73,426.55 122.58,428.07 119.42,429.59 116.26,431.11 113.11,432.64 109.96,434.17 106.81,435.70 103.65,437.23 100.50,438.76 97.35,440.29 94.20,441.82 91.05,443.35 87.89,444.88 84.74,446.41 81.59,447.94 78.44,449.47 75.29,451.00 72.14,452.53 68.99,454.08 65.85,455.63 62.71,457.18 59.57,458.74 56.43,460.29 53.28,461.84 50.14,463.39 47.00,464.94" fill="#9d4ead" stroke="#9d4ead" stroke-width="0.35"/>
<polygon points="47.00,464.94 50.14,463.39 53.28,461.84 56.43,460.29 59.57,458.74 62.71,457.18 65.85,455.63 68.99,454.08 72.14,452.53 75.29,451.00 78.44,449.47 81.59,447.94 84.74,446.41 87.89,444.88 91.05,443.35 94.20,441.82 97.35,440.29 100.50,438.76 103.65,437.23 106.81,435.70 109.96,434.17 113.11,432.64 116.26,431.11 119.42,429.59 122.58,428.07 125.73,426.55 128.89,425.04 132.05,423.52 134.94,421.68 137.27,419.12 139.56,416.50 141.81,413.82 144.07,411.15 146.32,408.47 148.57,405.79 150.83,403.11 153.08,400.43 155.33,397.76 157.59,395.08 159.84,392.40 162.88,392.40 160.54,395.09 158.20,397.78 155.85,400.47 153.51,403.15 151.17,405.84 148.83,408.53 146.48,411.22 144.14,413.91 141.80,416.60 139.39,419.17 136.89,421.61 133.89,423.42 130.66,424.93 127.42,426.44 124.19,427.96 120.95,429.47 117.73,431.00 114.50,432.54 111.28,434.08 108.06,435.63 104.84,437.17 101.61,438.71 98.39,440.25 95.17,441.79 91.95,443.34 88.73,444.88 85.50,446.42 82.28,447.96 79.06,449.51 75.84,451.05 72.62,452.60 69.42,454.19 66.21,455.77 63.01,457.36 59.81,458.94 56.61,460.53 53.40,462.11 50.20,463.70 47.00,465.28" fill="#a357b2" stroke="#a357b2" stroke-width="0.35"/>
<polygon points="47.00,465.28 50.20,463.70 53.40,462.11 56.61,460.53 59.81,458.94 63.01,457.36 66.21,455.77 69.42,454.19 72.62,452.60 75.84,451.05 79.06,449.51 82.28,447.96 85.50,446.42 88.73,444.88 91.95,443.34 95.17,441.79 98.39,440.25 101.61,438.71 104.84,437.17 108.06,435.63 111.28,434.08 114.50,432.54 117.73,431.00 120.95,429.47 124.19,427.96 127.42,426.44 130.66,424.93 133.89,423.42 136.89,421.61 139.39,419.17 141.80,416.60 144.14,413.91 146.48,411.22 148.83,408.53 151.17,405.84 153.51,403.15 155.85,400.47 158.20,397.78 160.54,395.09 162.88,392.40 165.92,392.40 163.49,395.10 161.06,397.80 158.63,400.50 156.19,403.20 153.76,405.90 151.33,408.59 148.90,411.29 146.47,413.99 144.04,416.69 141.50,419.22 138.84,421.54 135.73,423.31 132.42,424.82 129.11,426.33 125.80,427.85 122.49,429.36 119.19,430.89 115.90,432.44 112.60,434.00 109.31,435.55 106.02,437.11 102.73,438.66 99.43,440.22 96.14,441.77 92.85,443.33 89.56,444.88 86.26,446.44 82.97,447.99 79.68,449.55 76.39,451.10 73.10,452.67 69.84,454.29 66.58,455.91 63.31,457.53 60.05,459.15 56.79,460.76 53.53,462.38 50.26,464.00 47.00,465.62" fill="#a85fb7" stroke="#a85fb7" stroke-width="0.35"/>
<polygon points="47.00,465.62 50.26,464.00 53.53,462.38 56.79,460.76 60.05,459.15 63.31,457.53 66.58,455.91 69.84,454.29 73.10,452.67 76.39,451.10 79.68,449.55 82.97,447.99 86.26,446.44 89.56,444.88 92.85,443.33 96.14,441.77 99.43,440.22 102.73,438.66 106.02,437.11 109.31,435.55 112.60,434.00 115.90,432.44 119.19,430.89 122.49,429.36 125.80,427.85 129.11,426.33 132.42,424.82 135.73,423.31 138.84,421.54 141.50,419.22 144.04,416.69 146.47,413.99 148.90,411.29 151.33,408.59 153.76,405.90 156.19,403.20 158.63,400.50 161.06,397.80 163.49,395.10 165.92,392.40 168.96,392.40 166.44,395.11 163.92,397.82 161.40,400.53 158.88,403.24 156.36,405.95 153.84,408.66 151.32,411.37 148.80,414.08 146.28,416.79 143.62,419.27 140.78,421.47 137.57,423.20 134.19,424.71 130.80,426.22 127.41,427.73 124.03,429.24 120.65,430.78 117.29,432.35 113.93,433.91 110.56,435.48 107.20,437.05 103.84,438.62 100.48,440.18 97.11,441.75 93.75,443.32 90.39,444.88 87.02,446.45 83.66,448.02 80.30,449.59 76.94,451.15 73.58,452.74 70.26,454.39 66.94,456.05 63.61,457.70 60.29,459.35 56.97,461.00 53.65,462.66 50.32,464.31 47.00,465.96" fill="#ae68bc" stroke="#ae68bc" stroke-width="0.35"/>
<polygon points="47.00,465.96 50.32,464.31 53.65,462.66 56.97,461.00 60.29,459.35 63.61,457.70 66.94,456.05 70.26,454.39 73.58,452.74 76.94,451.15 80.30,449.59 83.66,448.02 87.02,446.45 90.39,444.88 93.75,443.32 97.11,441.75 100.48,440.18 103.84,438.62 107.20,437.05 110.56,435.48 113.93,433.91 117.29,432.35 120.65,430.78 124.03,429.24 127.41,427.73 130.80,426.22 134.19,424.71 137.57,423.20 140.78,421.47 143.62,419.27 146.28,416.79 148.80,414.08 151.32,411.37 153.84,408.66 156.36,405.95 158.88,403.24 161.40,400.53 163.92,397.82 166.44,395.11 168.96,392.40 172.00,392.40 169.39,395.12 166.78,397.84 164.17,400.56 161.56,403.28 158.95,406.00 156.34,408.72 153.73,411.44 151.12,414.16 148.52,416.88 145.73,419.32 142.73,421.40 139.41,423.10 135.95,424.60 132.49,426.11 129.03,427.62 125.56,429.13 122.12,430.67 118.68,432.25 115.25,433.83 111.82,435.41 108.38,436.99 104.95,438.57 101.52,440.15 98.08,441.73 94.65,443.31 91.22,444.89 87.79,446.47 84.35,448.05 80.92,449.63 77.49,451.21 74.07,452.81 70.68,454.50 67.30,456.18 63.92,457.87 60.53,459.56 57.15,461.24 53.77,462.93 50.38,464.61 47.00,466.30" fill="#b777c3" stroke="#b777c3" stroke-width="0.35"/>
<polygon points="47.00,466.30 50.38,464.61 53.77,462.93 57.15,461.24 60.53,459.56 63.92,457.87 67.30,456.18 70.68,454.50 74.07,452.81 77.49,451.21 80.92,449.63 84.35,448.05 87.79,446.47 91.22,444.89 94.65,443.31 98.08,441.73 101.52,440.15 104.95,438.57 108.38,436.99 111.82,435.41 115.25,433.83 118.68,432.25 122.12,430.67 125.56,429.13 129.03,427.62 132.49,426.11 135.95,424.60 139.41,423.10 142.73,421.40 145.73,419.32 148.52,416.88 151.12,414.16 153.73,411.44 156.34,408.72 158.95,406.00 161.56,403.28 164.17,400.56 166.78,397.84 169.39,395.12 172.00,392.40 175.04,392.40 172.34,395.13 169.64,397.86 166.94,400.59 164.25,403.32 161.55,406.05 158.85,408.78 156.15,411.51 153.45,414.24 150.75,416.97 147.85,419.37 144.68,421.33 141.26,422.99 137.72,424.50 134.18,426.00 130.64,427.51 127.10,429.02 123.58,430.56 120.08,432.15 116.57,433.75 113.07,435.34 109.57,436.93 106.06,438.52 102.56,440.11 99.06,441.71 95.55,443.30 92.05,444.89 88.55,446.48 85.04,448.07 81.54,449.67 78.04,451.26 74.55,452.88 71.10,454.60 67.66,456.32 64.22,458.04 60.77,459.76 57.33,461.48 53.89,463.20 50.44,464.92 47.00,466.64" fill="#bf86ca" stroke="#bf86ca" stroke-width="0.35"/>
<polygon points="47.00,466.64 50.44,464.92 53.89,463.20 57.33,461.48 60.77,459.76 64.22,458.04 67.66,456.32 71.10,454.60 74.55,452.88 78.04,451.26 81.54,449.67 85.04,448.07 88.55,446.48 92.05,444.89 95.55,443.30 99.06,441.71 102.56,440.11 106.06,438.52 109.57,436.93 113.07,435.34 116.57,433.75 120.08,432.15 123.58,430.56 127.10,429.02 130.64,427.51 134.18,426.00 137.72,424.50 141.26,422.99 144.68,421.33 147.85,419.37 150.75,416.97 153.45,414.24 156.15,411.51 158.85,408.78 161.55,406.05 164.25,403.32 166.94,400.59 169.64,397.86 172.34,395.13 175.04,392.40 178.08,392.40 175.29,395.14 172.50,397.88 169.72,400.62 166.93,403.36 164.14,406.10 161.35,408.85 158.57,411.59 155.78,414.33 152.99,417.07 149.96,419.42 146.62,421.27 143.10,422.88 139.48,424.39 135.87,425.89 132.25,427.40 128.64,428.90 125.04,430.45 121.47,432.06 117.90,433.66 114.32,435.27 110.75,436.87 107.17,438.47 103.60,440.08 100.03,441.68 96.45,443.29 92.88,444.89 89.31,446.50 85.73,448.10 82.16,449.71 78.59,451.31 75.03,452.95 71.53,454.71 68.02,456.46 64.52,458.21 61.02,459.97 57.51,461.72 54.01,463.47 50.50,465.23 47.00,466.98" fill="#c895d1" stroke="#c895d1" stroke-width="0.35"/>
<polygon points="47.00,466.98 50.50,465.23 54.01,463.47 57.51,461.72 61.02,459.97 64.52,458.21 68.02,456.46 71.53,454.71 75.03,452.95 78.59,451.31 82.16,449.71 85.73,448.10 89.31,446.50 92.88,444.89 96.45,443.29 100.03,441.68 103.60,440.08 107.17,438.47 110.75,436.87 114.32,435.27 117.90,433.66 121.47,432.06 125.04,430.45 128.64,428.90 132.25,427.40 135.87,425.89 139.48,424.39 143.10,422.88 146.62,421.27 149.96,419.42 152.99,417.07 155.78,414.33 158.57,411.59 161.35,408.85 164.14,406.10 166.93,403.36 169.72,400.62 172.50,397.88 175.29,395.14 178.08,392.40 181.12,392.40 178.24,395.15 175.37,397.90 172.49,400.65 169.61,403.41 166.74,406.16 163.86,408.91 160.98,411.66 158.11,414.41 155.23,417.16 152.08,419.46 148.57,421.20 144.94,422.78 141.25,424.28 137.56,425.78 133.87,427.29 130.18,428.79 126.51,430.34 122.86,431.96 119.22,433.58 115.57,435.19 111.93,436.81 108.29,438.43 104.64,440.04 101.00,441.66 97.36,443.28 93.71,444.90 90.07,446.51 86.42,448.13 82.78,449.75 79.14,451.36 75.51,453.02 71.95,454.81 68.38,456.60 64.82,458.38 61.26,460.17 57.69,461.96 54.13,463.75 50.56,465.53 47.00,467.32" fill="#d3aada" stroke="#d3aada" stroke-width="0.35"/>
<polygon points="47.00,467.32 50.56,465.53 54.13,463.75 57.69,461.96 61.26,460.17 64.82,458.38 68.38,456.60 71.95,454.81 75.51,453.02 79.14,451.36 82.78,449.75 86.42,448.13 90.07,446.51 93.71,444.90 97.36,443.28 101.00,441.66 104.64,440.04 108.29,438.43 111.93,436.81 115.57,435.19 119.22,433.58 122.86,431.96 126.51,430.34 130.18,428.79 133.87,427.29 137.56,425.78 141.25,424.28 144.94,422.78 148.57,421.20 152.08,419.46 155.23,417.16 158.11,414.41 160.98,411.66 163.86,408.91 166.74,406.16 169.61,403.41 172.49,400.65 175.37,397.90 178.24,395.15 181.12,392.40 184.16,392.40 181.19,395.16 178.23,397.92 175.26,400.69 172.30,403.45 169.33,406.21 166.37,408.97 163.40,411.73 160.43,414.49 157.47,417.26 154.19,419.51 150.52,421.13 146.78,422.67 143.01,424.17 139.25,425.67 135.48,427.17 131.71,428.67 127.97,430.23 124.25,431.86 120.54,433.49 116.83,435.12 113.11,436.75 109.40,438.38 105.68,440.01 101.97,441.64 98.26,443.27 94.54,444.90 90.83,446.53 87.12,448.16 83.40,449.79 79.69,451.42 76.00,453.09 72.37,454.91 68.75,456.74 65.12,458.56 61.50,460.38 57.87,462.20 54.25,464.02 50.62,465.84 47.00,467.66" fill="#dfc0e5" stroke="#dfc0e5" stroke-width="0.35"/>
<polygon points="47.00,467.66 50.62,465.84 54.25,464.02 57.87,462.20 61.50,460.38 65.12,458.56 68.75,456.74 72.37,454.91 76.00,453.09 79.69,451.42 83.40,449.79 87.12,448.16 90.83,446.53 94.54,444.90 98.26,443.27 101.97,441.64 105.68,440.01 109.40,438.38 113.11,436.75 116.83,435.12 120.54,433.49 124.25,431.86 127.97,430.23 131.71,428.67 135.48,427.17 139.25,425.67 143.01,424.17 146.78,422.67 150.52,421.13 154.19,419.51 157.47,417.26 160.43,414.49 163.40,411.73 166.37,408.97 169.33,406.21 172.30,403.45 175.26,400.69 178.23,397.92 181.19,395.16 184.16,392.40 187.20,392.40 184.15,395.17 181.09,397.94 178.04,400.72 174.98,403.49 171.93,406.26 168.87,409.03 165.82,411.81 162.76,414.58 159.71,417.35 156.31,419.56 152.46,421.06 148.62,422.56 144.78,424.06 140.93,425.56 137.09,427.06 133.25,428.56 129.43,430.12 125.65,431.77 121.86,433.41 118.08,435.05 114.30,436.69 110.51,438.33 106.73,439.98 102.94,441.62 99.16,443.26 95.37,444.90 91.59,446.54 87.81,448.19 84.02,449.83 80.24,451.47 76.48,453.16 72.79,455.02 69.11,456.87 65.42,458.73 61.74,460.58 58.05,462.44 54.37,464.29 50.68,466.15 47.00,468.00" fill="#ebd6ef" stroke="#ebd6ef" stroke-width="0.35"/>
<path d="M54,464.6 L78.5,459.2 L77.8,457.6 L83.4,458.2 L79.2,462.0 L78.9,460.4 L54.3,465.6 Z" fill="url(#kArr)"/>
<rect x="78.90" y="394.00" width="29.80" height="14.60" fill="#d9ecf8"/>
<text x="93.80" y="405.30" font-size="11" font-weight="bold" text-anchor="middle" fill="#5aa6e0">NM</text>
<rect x="182.00" y="394.00" width="29.80" height="14.40" fill="#f3e0f5"/>
<text x="196.90" y="405.20" font-size="11" font-weight="bold" text-anchor="middle" fill="#d150d8">NMD</text>
<line x1="111.00" y1="507.30" x2="201.70" y2="507.30" stroke="#555" stroke-width="1.1" stroke-dasharray="3,1.7"/>
<polygon points="105.90,507.30 112.50,504.90 112.50,509.70" fill="#555" stroke="none" stroke-width="1"/>
<rect x="90.70" y="510.60" width="115.70" height="10.20" fill="#ececec"/>
<text x="92.5" y="519.0" font-size="8.2" font-weight="bold" fill="#262626" textLength="12.69" lengthAdjust="spacingAndGlyphs">300</text>
<text x="105.6" y="516.2" font-size="5.2" font-weight="bold" fill="#262626">th</text>
<text x="111.1" y="519.0" font-size="8.2" font-weight="bold" fill="#303030" textLength="12.69" lengthAdjust="spacingAndGlyphs">250</text>
<text x="124.2" y="516.2" font-size="5.2" font-weight="bold" fill="#303030">th</text>
<text x="129.6" y="519.0" font-size="8.2" font-weight="bold" fill="#3c3c3c" textLength="12.69" lengthAdjust="spacingAndGlyphs">200</text>
<text x="142.7" y="516.2" font-size="5.2" font-weight="bold" fill="#3c3c3c">th</text>
<text x="148.1" y="519.0" font-size="8.2" font-weight="bold" fill="#5a5a5a" textLength="12.69" lengthAdjust="spacingAndGlyphs">150</text>
<text x="161.2" y="516.2" font-size="5.2" font-weight="bold" fill="#5a5a5a">th</text>
<text x="166.6" y="519.0" font-size="8.2" font-weight="normal" fill="#7a7a7a" textLength="12.69" lengthAdjust="spacingAndGlyphs">100</text>
<text x="179.7" y="516.2" font-size="5.2" font-weight="normal" fill="#7a7a7a">th</text>
<text x="185.1" y="519.0" font-size="8.2" font-weight="normal" fill="#999999" textLength="8.46" lengthAdjust="spacingAndGlyphs">50</text>
<text x="194.0" y="516.2" font-size="5.2" font-weight="normal" fill="#999999">th</text>
<text x="197.4" y="519.0" font-size="8.2" font-weight="normal" fill="#b0b0b0" textLength="4.23" lengthAdjust="spacingAndGlyphs">1</text>
<text x="202.0" y="516.2" font-size="5.2" font-weight="normal" fill="#b0b0b0">th</text>
<line x1="39.0" y1="383.6" x2="213.7" y2="383.6" stroke="#1b1b1b" stroke-width="1.5"/>
<line x1="39.0" y1="524.7" x2="213.7" y2="524.7" stroke="#1b1b1b" stroke-width="1.5"/>
<line x1="39.0" y1="383.6" x2="39.0" y2="524.7" stroke="#4374c2" stroke-width="1.5"/>
<line x1="213.7" y1="383.6" x2="213.7" y2="524.7" stroke="#d044d4" stroke-width="1.5"/>
<line x1="39.00" y1="493.95" x2="36.30" y2="493.95" stroke="#4374c2" stroke-width="1.1"/>
<text x="33.90" y="497.29" font-size="11.5" font-weight="bold" text-anchor="end" fill="#4374c2">2</text>
<line x1="39.00" y1="449.80" x2="36.30" y2="449.80" stroke="#4374c2" stroke-width="1.1"/>
<text x="33.90" y="453.14" font-size="11.5" font-weight="bold" text-anchor="end" fill="#4374c2">3</text>
<line x1="39.00" y1="405.65" x2="36.30" y2="405.65" stroke="#4374c2" stroke-width="1.1"/>
<text x="33.90" y="408.99" font-size="11.5" font-weight="bold" text-anchor="end" fill="#4374c2">4</text>
<line x1="39.00" y1="516.02" x2="37.38" y2="516.02" stroke="#4374c2" stroke-width="1.1"/>
<line x1="39.00" y1="471.88" x2="37.38" y2="471.88" stroke="#4374c2" stroke-width="1.1"/>
<line x1="39.00" y1="427.73" x2="37.38" y2="427.73" stroke="#4374c2" stroke-width="1.1"/>
<line x1="47.30" y1="524.70" x2="47.30" y2="527.40" stroke="#1b1b1b" stroke-width="1.1"/>
<text x="47.30" y="538.80" font-size="11.2" font-weight="bold" text-anchor="middle" fill="#1b1b1b">0</text>
<line x1="130.30" y1="524.70" x2="130.30" y2="527.40" stroke="#1b1b1b" stroke-width="1.1"/>
<text x="130.30" y="538.80" font-size="11.2" font-weight="bold" text-anchor="middle" fill="#1b1b1b">50</text>
<line x1="213.30" y1="524.70" x2="213.30" y2="527.40" stroke="#1b1b1b" stroke-width="1.1"/>
<text x="213.30" y="538.80" font-size="11.2" font-weight="bold" text-anchor="middle" fill="#1b1b1b">100</text>
<line x1="88.80" y1="524.70" x2="88.80" y2="526.32" stroke="#1b1b1b" stroke-width="1.1"/>
<line x1="171.80" y1="524.70" x2="171.80" y2="526.32" stroke="#1b1b1b" stroke-width="1.1"/>
<text x="13.60" y="456.50" font-size="11.9" font-weight="bold" text-anchor="middle" fill="#1b1b1b" transform="rotate(-90 13.6 456.5)"><tspan dy="0.00">Potential (V vs.Na</tspan><tspan dy="-4.76" font-size="6.55">+</tspan><tspan dy="4.76">/Na)</tspan></text>
<text x="131.40" y="551.50" font-size="12" font-weight="bold" text-anchor="middle" fill="#1b1b1b"><tspan dy="0.00">Specific capacity (mAh g</tspan><tspan dy="-4.80" font-size="7.92">-1</tspan><tspan dy="4.80">)</tspan></text>
<text x="6.20" y="380.40" font-size="19.6" font-weight="bold" text-anchor="start" fill="#1b1b1b">f</text>
<rect x="260.50" y="383.60" width="388.70" height="141.70" fill="url(#bgG)"/>
<rect x="262.30" y="418.80" width="10.6" height="10.6" fill="none" stroke="#56d0c8" stroke-width="2"/>
<text x="265.80" y="411.60" font-size="10" font-weight="bold" text-anchor="start" fill="#56d0c8">Nat. Comm., 2022</text>
<rect x="415.20" y="433.40" width="10.6" height="10.6" fill="none" stroke="#f09a66" stroke-width="2"/>
<text x="308.90" y="428.80" font-size="10" font-weight="bold" text-anchor="start" fill="#f09a66">J. Am. Chem. Soc., 2023</text>
<rect x="386.30" y="437.20" width="10.6" height="10.6" fill="none" stroke="#5b8fd2" stroke-width="2"/>
<text x="263.40" y="458.90" font-size="10" font-weight="bold" text-anchor="start" fill="#5b8fd2">Energy Environ. Sci., 2023</text>
<rect x="401.90" y="462.20" width="10.6" height="10.6" fill="none" stroke="#444444" stroke-width="2"/>
<text x="285.00" y="484.50" font-size="10" font-weight="bold" text-anchor="start" fill="#444444">J. Am. Chem. Soc., 2023</text>
<rect x="445.20" y="482.00" width="10.6" height="10.6" fill="none" stroke="#4cb865" stroke-width="2"/>
<text x="456.60" y="506.20" font-size="10" font-weight="bold" text-anchor="end" fill="#4cb865">Nat. Energy, 2024</text>
<rect x="455.80" y="444.20" width="10.6" height="10.6" fill="none" stroke="#e58cef" stroke-width="2"/>
<text x="430.70" y="425.50" font-size="10" font-weight="bold" text-anchor="start" fill="#e58cef">Angew. Chem.</text>
<text x="430.70" y="437.80" font-size="10" font-weight="bold" text-anchor="start" fill="#e58cef">Int. Ed., 2022</text>
<rect x="481.40" y="445.00" width="10.6" height="10.6" fill="none" stroke="#6a3c40" stroke-width="2"/>
<text x="498.30" y="446.60" font-size="10" font-weight="bold" text-anchor="start" fill="#6a3c40">Angew. Chem.</text>
<text x="498.30" y="458.40" font-size="10" font-weight="bold" text-anchor="start" fill="#6a3c40">Int. Ed., 2024</text>
<rect x="453.60" y="459.70" width="10.6" height="10.6" fill="none" stroke="#c9a030" stroke-width="2"/>
<text x="466.90" y="477.30" font-size="10" font-weight="bold" text-anchor="start" fill="#c9a030">Nat. Comm., 2022</text>
<rect x="545.60" y="504.90" width="10.6" height="10.6" fill="none" stroke="#a0a83a" stroke-width="2"/>
<text x="495.40" y="499.50" font-size="10" font-weight="bold" text-anchor="start" fill="#a0a83a">Angew. Chem. Int. Ed., 2024</text>
<rect x="590.30" y="425.50" width="10.6" height="10.6" fill="none" stroke="#b27ae6" stroke-width="2"/>
<text x="518.70" y="421.90" font-size="10" font-weight="bold" text-anchor="start" fill="#b27ae6">Nat. Sustain., 2022</text>
<rect x="602.80" y="444.50" width="10.6" height="10.6" fill="none" stroke="#4a7be6" stroke-width="2"/>
<text x="576.60" y="466.60" font-size="10" font-weight="bold" text-anchor="start" fill="#4a7be6">Nat. Sustain.,</text>
<text x="621.30" y="478.80" font-size="10" font-weight="bold" text-anchor="middle" fill="#4a7be6">2024</text>
<rect x="618.20" y="413.00" width="10.6" height="10.6" fill="none" stroke="#7cc243" stroke-width="2"/>
<text x="502.60" y="409.40" font-size="10" font-weight="bold" text-anchor="start" fill="#7cc243">J. Am. Chem. Soc., 2024</text>
<rect x="632.0" y="405.7" width="10.8" height="10.8" fill="none" stroke="#e0404c" stroke-width="1.8"/>
<line x1="637.40" y1="405.70" x2="637.40" y2="416.50" stroke="#e0404c" stroke-width="1.5"/>
<line x1="632.00" y1="411.10" x2="642.80" y2="411.10" stroke="#e0404c" stroke-width="1.5"/>
<text x="617.80" y="392.90" font-size="10" font-weight="bold" text-anchor="middle" fill="#e0404c">This work</text>
<rect x="260.5" y="383.6" width="388.70" height="141.70" fill="none" stroke="#1b1b1b" stroke-width="1.5"/>
<line x1="260.50" y1="525.30" x2="257.80" y2="525.30" stroke="#1b1b1b" stroke-width="1.1"/>
<text x="256.60" y="529.44" font-size="11.5" font-weight="bold" text-anchor="end" fill="#1b1b1b">60</text>
<line x1="260.50" y1="469.00" x2="257.80" y2="469.00" stroke="#1b1b1b" stroke-width="1.1"/>
<text x="256.60" y="473.14" font-size="11.5" font-weight="bold" text-anchor="end" fill="#1b1b1b">75</text>
<line x1="260.50" y1="412.71" x2="257.80" y2="412.71" stroke="#1b1b1b" stroke-width="1.1"/>
<text x="256.60" y="416.85" font-size="11.5" font-weight="bold" text-anchor="end" fill="#1b1b1b">90</text>
<line x1="260.50" y1="497.15" x2="258.88" y2="497.15" stroke="#1b1b1b" stroke-width="1.1"/>
<line x1="260.50" y1="440.86" x2="258.88" y2="440.86" stroke="#1b1b1b" stroke-width="1.1"/>
<line x1="260.50" y1="384.56" x2="258.88" y2="384.56" stroke="#1b1b1b" stroke-width="1.1"/>
<line x1="281.80" y1="525.30" x2="281.80" y2="528.00" stroke="#1b1b1b" stroke-width="1.1"/>
<text x="281.80" y="539.30" font-size="11.2" font-weight="bold" text-anchor="middle" fill="#1b1b1b">100</text>
<line x1="363.40" y1="525.30" x2="363.40" y2="528.00" stroke="#1b1b1b" stroke-width="1.1"/>
<text x="363.40" y="539.30" font-size="11.2" font-weight="bold" text-anchor="middle" fill="#1b1b1b">120</text>
<line x1="445.00" y1="525.30" x2="445.00" y2="528.00" stroke="#1b1b1b" stroke-width="1.1"/>
<text x="445.00" y="539.30" font-size="11.2" font-weight="bold" text-anchor="middle" fill="#1b1b1b">140</text>
<line x1="526.60" y1="525.30" x2="526.60" y2="528.00" stroke="#1b1b1b" stroke-width="1.1"/>
<text x="526.60" y="539.30" font-size="11.2" font-weight="bold" text-anchor="middle" fill="#1b1b1b">160</text>
<line x1="608.20" y1="525.30" x2="608.20" y2="528.00" stroke="#1b1b1b" stroke-width="1.1"/>
<text x="608.20" y="539.30" font-size="11.2" font-weight="bold" text-anchor="middle" fill="#1b1b1b">180</text>
<line x1="322.60" y1="525.30" x2="322.60" y2="526.92" stroke="#1b1b1b" stroke-width="1.1"/>
<line x1="404.20" y1="525.30" x2="404.20" y2="526.92" stroke="#1b1b1b" stroke-width="1.1"/>
<line x1="485.80" y1="525.30" x2="485.80" y2="526.92" stroke="#1b1b1b" stroke-width="1.1"/>
<line x1="567.40" y1="525.30" x2="567.40" y2="526.92" stroke="#1b1b1b" stroke-width="1.1"/>
<text x="232.00" y="461.10" font-size="12.3" font-weight="bold" text-anchor="middle" fill="#1b1b1b" transform="rotate(-90 232.0 461.1)">Capacitance retention (%)</text>
<text x="453.60" y="552.50" font-size="12" font-weight="bold" text-anchor="middle" fill="#1b1b1b"><tspan dy="0.00">Specific capacity (mAh g</tspan><tspan dy="-4.80" font-size="7.92">-1</tspan><tspan dy="4.80">)</tspan></text>
<text x="222.30" y="378.80" font-size="19.6" font-weight="bold" text-anchor="start" fill="#1b1b1b">g</text>
<text x="4.00" y="540.00" font-size="1" font-weight="bold" text-anchor="start" fill="#1b1b1b"></text>
<rect x="6.5" y="571.4" width="120" height="165.4" rx="11" fill="url(#bgH)"/>
<rect x="18.7" y="619" width="4.6" height="87.5" fill="url(#chgA)"/>
<polygon points="21.00,613.40 16.60,619.60 25.40,619.60" fill="#e08fe0" stroke="none" stroke-width="1"/>
<rect x="107.9" y="613.7" width="4.4" height="85.5" fill="url(#dchA)"/>
<polygon points="110.10,706.60 105.90,698.80 114.40,698.80" fill="#e08fe0" stroke="none" stroke-width="1"/>
<text x="15.60" y="662.10" font-size="9.2" font-weight="bold" text-anchor="middle" fill="#1b1b1b" transform="rotate(-90 15.6 662.1)">Charge</text>
<text x="123.90" y="656.90" font-size="9.3" font-weight="bold" text-anchor="middle" fill="#1b1b1b" transform="rotate(-90 123.9 656.9)">Discharge</text>
<circle cx="8.90" cy="598.80" r="1.9" fill="#f2ea5c" stroke="none" stroke-width="1"/>
<text x="16.80" y="602.00" font-size="9.3" font-weight="bold" text-anchor="start" fill="#1b1b1b"><tspan dy="0.00">Na</tspan><tspan dy="-3.72" font-size="6.14">+</tspan></text>
<ellipse cx="67" cy="587" rx="37.2" ry="7.4" fill="url(#discS)"/>
<ellipse cx="67" cy="584" rx="37.2" ry="7.4" fill="url(#discG)"/>
<line x1="63.50" y1="583.80" x2="70.50" y2="583.80" stroke="#444" stroke-width="1.4"/>
<ellipse cx="67" cy="610.5" rx="29" ry="6.9" fill="url(#discS)"/>
<ellipse cx="67" cy="608.4" rx="29" ry="6.9" fill="url(#discG)"/>
<ellipse cx="67" cy="608.4" rx="6.5" ry="2.2" fill="#ffffff"/>
<path d="M36.3,623.7 L36.3,627.6 A30.7,4.6 0 0 0 97.7,627.6 L97.7,623.7 Z" fill="url(#ccS)"/>
<ellipse cx="67" cy="623.7" rx="30.7" ry="4.6" fill="url(#ccT)" stroke="#c8cdd8" stroke-width="0.4"/>
<polygon points="43.80,647.80 46.90,645.20 53.10,645.20 56.20,647.80 53.10,650.40 46.90,650.40" fill="#8c8c92" stroke="none" stroke-width="1"/>
<polygon points="43.80,646.00 46.90,643.40 53.10,643.40 56.20,646.00 53.10,648.60 46.90,648.60" fill="#c9c9cd" stroke="#9e9ea4" stroke-width="0.4"/>
<polygon points="54.80,646.80 57.90,644.20 64.10,644.20 67.20,646.80 64.10,649.40 57.90,649.40" fill="#8c8c92" stroke="none" stroke-width="1"/>
<polygon points="54.80,645.00 57.90,642.40 64.10,642.40 67.20,645.00 64.10,647.60 57.90,647.60" fill="#c9c9cd" stroke="#9e9ea4" stroke-width="0.4"/>
<polygon points="65.80,646.80 68.90,644.20 75.10,644.20 78.20,646.80 75.10,649.40 68.90,649.40" fill="#8c8c92" stroke="none" stroke-width="1"/>
<polygon points="65.80,645.00 68.90,642.40 75.10,642.40 78.20,645.00 75.10,647.60 68.90,647.60" fill="#c9c9cd" stroke="#9e9ea4" stroke-width="0.4"/>
<polygon points="76.80,647.80 79.90,645.20 86.10,645.20 89.20,647.80 86.10,650.40 79.90,650.40" fill="#8c8c92" stroke="none" stroke-width="1"/>
<polygon points="76.80,646.00 79.90,643.40 86.10,643.40 89.20,646.00 86.10,648.60 79.90,648.60" fill="#c9c9cd" stroke="#9e9ea4" stroke-width="0.4"/>
<polygon points="38.30,652.80 41.40,650.20 47.60,650.20 50.70,652.80 47.60,655.40 41.40,655.40" fill="#8c8c92" stroke="none" stroke-width="1"/>
<polygon points="38.30,651.00 41.40,648.40 47.60,648.40 50.70,651.00 47.60,653.60 41.40,653.60" fill="#c9c9cd" stroke="#9e9ea4" stroke-width="0.4"/>
<polygon points="49.30,652.30 52.40,649.70 58.60,649.70 61.70,652.30 58.60,654.90 52.40,654.90" fill="#8c8c92" stroke="none" stroke-width="1"/>
<polygon points="49.30,650.50 52.40,647.90 58.60,647.90 61.70,650.50 58.60,653.10 52.40,653.10" fill="#c9c9cd" stroke="#9e9ea4" stroke-width="0.4"/>
<polygon points="60.30,651.80 63.40,649.20 69.60,649.20 72.70,651.80 69.60,654.40 63.40,654.40" fill="#8c8c92" stroke="none" stroke-width="1"/>
<polygon points="60.30,650.00 63.40,647.40 69.60,647.40 72.70,650.00 69.60,652.60 63.40,652.60" fill="#c9c9cd" stroke="#9e9ea4" stroke-width="0.4"/>
<polygon points="71.30,651.80 74.40,649.20 80.60,649.20 83.70,651.80 80.60,654.40 74.40,654.40" fill="#8c8c92" stroke="none" stroke-width="1"/>
<polygon points="71.30,650.00 74.40,647.40 80.60,647.40 83.70,650.00 80.60,652.60 74.40,652.60" fill="#c9c9cd" stroke="#9e9ea4" stroke-width="0.4"/>
<polygon points="82.30,652.80 85.40,650.20 91.60,650.20 94.70,652.80 91.60,655.40 85.40,655.40" fill="#8c8c92" stroke="none" stroke-width="1"/>
<polygon points="82.30,651.00 85.40,648.40 91.60,648.40 94.70,651.00 91.60,653.60 85.40,653.60" fill="#c9c9cd" stroke="#9e9ea4" stroke-width="0.4"/>
<polygon points="43.80,657.30 46.90,654.70 53.10,654.70 56.20,657.30 53.10,659.90 46.90,659.90" fill="#8c8c92" stroke="none" stroke-width="1"/>
<polygon points="43.80,655.50 46.90,652.90 53.10,652.90 56.20,655.50 53.10,658.10 46.90,658.10" fill="#c9c9cd" stroke="#9e9ea4" stroke-width="0.4"/>
<polygon points="54.80,657.30 57.90,654.70 64.10,654.70 67.20,657.30 64.10,659.90 57.90,659.90" fill="#8c8c92" stroke="none" stroke-width="1"/>
<polygon points="54.80,655.50 57.90,652.90 64.10,652.90 67.20,655.50 64.10,658.10 57.90,658.10" fill="#c9c9cd" stroke="#9e9ea4" stroke-width="0.4"/>
<polygon points="65.80,657.30 68.90,654.70 75.10,654.70 78.20,657.30 75.10,659.90 68.90,659.90" fill="#8c8c92" stroke="none" stroke-width="1"/>
<polygon points="65.80,655.50 68.90,652.90 75.10,652.90 78.20,655.50 75.10,658.10 68.90,658.10" fill="#c9c9cd" stroke="#9e9ea4" stroke-width="0.4"/>
<polygon points="76.80,656.80 79.90,654.20 86.10,654.20 89.20,656.80 86.10,659.40 79.90,659.40" fill="#8c8c92" stroke="none" stroke-width="1"/>
<polygon points="76.80,655.00 79.90,652.40 86.10,652.40 89.20,655.00 86.10,657.60 79.90,657.60" fill="#c9c9cd" stroke="#9e9ea4" stroke-width="0.4"/>
<text x="67.00" y="641.80" font-size="9.1" font-weight="bold" text-anchor="middle" fill="#1b1b1b">Hard carbon</text>
<ellipse cx="67" cy="671.5" rx="36.3" ry="8.6" fill="#d9cf9f"/>
<ellipse cx="67" cy="670.3" rx="36.3" ry="8.3" fill="url(#sepG)"/>
<text x="68.50" y="675.60" font-size="9.1" font-weight="bold" text-anchor="middle" fill="#1b1b1b">Separator</text>
<path d="M29.8,710.2 L29.8,722.5 A37.2,8.2 0 0 0 104.2,722.5 L104.2,710.2 Z" fill="url(#elS)"/>
<ellipse cx="67" cy="710.2" rx="37.2" ry="7.6" fill="url(#elT)"/>
<polygon points="38.10,681.90 59.60,681.90 62.40,685.30 40.90,685.30" fill="#3f72d4" stroke="none" stroke-width="1"/>
<circle cx="40.90" cy="685.40" r="0.7" fill="#e03a3a" stroke="none" stroke-width="1"/>
<circle cx="38.10" cy="681.80" r="0.7" fill="#e03a3a" stroke="none" stroke-width="1"/>
<circle cx="46.27" cy="685.40" r="0.7" fill="#e03a3a" stroke="none" stroke-width="1"/>
<circle cx="43.48" cy="681.80" r="0.7" fill="#e03a3a" stroke="none" stroke-width="1"/>
<circle cx="51.65" cy="685.40" r="0.7" fill="#e03a3a" stroke="none" stroke-width="1"/>
<circle cx="48.85" cy="681.80" r="0.7" fill="#e03a3a" stroke="none" stroke-width="1"/>
<circle cx="57.02" cy="685.40" r="0.7" fill="#e03a3a" stroke="none" stroke-width="1"/>
<circle cx="54.23" cy="681.80" r="0.7" fill="#e03a3a" stroke="none" stroke-width="1"/>
<circle cx="62.40" cy="685.40" r="0.7" fill="#e03a3a" stroke="none" stroke-width="1"/>
<circle cx="59.60" cy="681.80" r="0.7" fill="#e03a3a" stroke="none" stroke-width="1"/>
<polygon points="69.10,682.70 90.60,682.70 93.40,686.10 71.90,686.10" fill="#3f72d4" stroke="none" stroke-width="1"/>
<circle cx="71.90" cy="686.20" r="0.7" fill="#e03a3a" stroke="none" stroke-width="1"/>
<circle cx="69.10" cy="682.60" r="0.7" fill="#e03a3a" stroke="none" stroke-width="1"/>
<circle cx="77.28" cy="686.20" r="0.7" fill="#e03a3a" stroke="none" stroke-width="1"/>
<circle cx="74.47" cy="682.60" r="0.7" fill="#e03a3a" stroke="none" stroke-width="1"/>
<circle cx="82.65" cy="686.20" r="0.7" fill="#e03a3a" stroke="none" stroke-width="1"/>
<circle cx="79.85" cy="682.60" r="0.7" fill="#e03a3a" stroke="none" stroke-width="1"/>
<circle cx="88.03" cy="686.20" r="0.7" fill="#e03a3a" stroke="none" stroke-width="1"/>
<circle cx="85.22" cy="682.60" r="0.7" fill="#e03a3a" stroke="none" stroke-width="1"/>
<circle cx="93.40" cy="686.20" r="0.7" fill="#e03a3a" stroke="none" stroke-width="1"/>
<circle cx="90.60" cy="682.60" r="0.7" fill="#e03a3a" stroke="none" stroke-width="1"/>
<polygon points="35.60,691.30 57.60,691.30 60.40,694.70 38.40,694.70" fill="#3f72d4" stroke="none" stroke-width="1"/>
<circle cx="38.40" cy="694.80" r="0.7" fill="#e03a3a" stroke="none" stroke-width="1"/>
<circle cx="35.60" cy="691.20" r="0.7" fill="#e03a3a" stroke="none" stroke-width="1"/>
<circle cx="43.90" cy="694.80" r="0.7" fill="#e03a3a" stroke="none" stroke-width="1"/>
<circle cx="41.10" cy="691.20" r="0.7" fill="#e03a3a" stroke="none" stroke-width="1"/>
<circle cx="49.40" cy="694.80" r="0.7" fill="#e03a3a" stroke="none" stroke-width="1"/>
<circle cx="46.60" cy="691.20" r="0.7" fill="#e03a3a" stroke="none" stroke-width="1"/>
<circle cx="54.90" cy="694.80" r="0.7" fill="#e03a3a" stroke="none" stroke-width="1"/>
<circle cx="52.10" cy="691.20" r="0.7" fill="#e03a3a" stroke="none" stroke-width="1"/>
<circle cx="60.40" cy="694.80" r="0.7" fill="#e03a3a" stroke="none" stroke-width="1"/>
<circle cx="57.60" cy="691.20" r="0.7" fill="#e03a3a" stroke="none" stroke-width="1"/>
<polygon points="66.60,692.10 89.10,692.10 91.90,695.50 69.40,695.50" fill="#3f72d4" stroke="none" stroke-width="1"/>
<circle cx="69.40" cy="695.60" r="0.7" fill="#e03a3a" stroke="none" stroke-width="1"/>
<circle cx="66.60" cy="692.00" r="0.7" fill="#e03a3a" stroke="none" stroke-width="1"/>
<circle cx="75.03" cy="695.60" r="0.7" fill="#e03a3a" stroke="none" stroke-width="1"/>
<circle cx="72.22" cy="692.00" r="0.7" fill="#e03a3a" stroke="none" stroke-width="1"/>
<circle cx="80.65" cy="695.60" r="0.7" fill="#e03a3a" stroke="none" stroke-width="1"/>
<circle cx="77.85" cy="692.00" r="0.7" fill="#e03a3a" stroke="none" stroke-width="1"/>
<circle cx="86.28" cy="695.60" r="0.7" fill="#e03a3a" stroke="none" stroke-width="1"/>
<circle cx="83.47" cy="692.00" r="0.7" fill="#e03a3a" stroke="none" stroke-width="1"/>
<circle cx="91.90" cy="695.60" r="0.7" fill="#e03a3a" stroke="none" stroke-width="1"/>
<circle cx="89.10" cy="692.00" r="0.7" fill="#e03a3a" stroke="none" stroke-width="1"/>
<polygon points="43.60,700.10 65.60,700.10 68.40,703.50 46.40,703.50" fill="#3f72d4" stroke="none" stroke-width="1"/>
<circle cx="46.40" cy="703.60" r="0.7" fill="#e03a3a" stroke="none" stroke-width="1"/>
<circle cx="43.60" cy="700.00" r="0.7" fill="#e03a3a" stroke="none" stroke-width="1"/>
<circle cx="51.90" cy="703.60" r="0.7" fill="#e03a3a" stroke="none" stroke-width="1"/>
<circle cx="49.10" cy="700.00" r="0.7" fill="#e03a3a" stroke="none" stroke-width="1"/>
<circle cx="57.40" cy="703.60" r="0.7" fill="#e03a3a" stroke="none" stroke-width="1"/>
<circle cx="54.60" cy="700.00" r="0.7" fill="#e03a3a" stroke="none" stroke-width="1"/>
<circle cx="62.90" cy="703.60" r="0.7" fill="#e03a3a" stroke="none" stroke-width="1"/>
<circle cx="60.10" cy="700.00" r="0.7" fill="#e03a3a" stroke="none" stroke-width="1"/>
<circle cx="68.40" cy="703.60" r="0.7" fill="#e03a3a" stroke="none" stroke-width="1"/>
<circle cx="65.60" cy="700.00" r="0.7" fill="#e03a3a" stroke="none" stroke-width="1"/>
<polygon points="74.10,700.70 96.60,700.70 99.40,704.10 76.90,704.10" fill="#3f72d4" stroke="none" stroke-width="1"/>
<circle cx="76.90" cy="704.20" r="0.7" fill="#e03a3a" stroke="none" stroke-width="1"/>
<circle cx="74.10" cy="700.60" r="0.7" fill="#e03a3a" stroke="none" stroke-width="1"/>
<circle cx="82.53" cy="704.20" r="0.7" fill="#e03a3a" stroke="none" stroke-width="1"/>
<circle cx="79.72" cy="700.60" r="0.7" fill="#e03a3a" stroke="none" stroke-width="1"/>
<circle cx="88.15" cy="704.20" r="0.7" fill="#e03a3a" stroke="none" stroke-width="1"/>
<circle cx="85.35" cy="700.60" r="0.7" fill="#e03a3a" stroke="none" stroke-width="1"/>
<circle cx="93.78" cy="704.20" r="0.7" fill="#e03a3a" stroke="none" stroke-width="1"/>
<circle cx="90.97" cy="700.60" r="0.7" fill="#e03a3a" stroke="none" stroke-width="1"/>
<circle cx="99.40" cy="704.20" r="0.7" fill="#e03a3a" stroke="none" stroke-width="1"/>
<circle cx="96.60" cy="700.60" r="0.7" fill="#e03a3a" stroke="none" stroke-width="1"/>
<polygon points="36.60,707.90 58.60,707.90 61.40,711.30 39.40,711.30" fill="#3f72d4" stroke="none" stroke-width="1"/>
<circle cx="39.40" cy="711.40" r="0.7" fill="#e03a3a" stroke="none" stroke-width="1"/>
<circle cx="36.60" cy="707.80" r="0.7" fill="#e03a3a" stroke="none" stroke-width="1"/>
<circle cx="44.90" cy="711.40" r="0.7" fill="#e03a3a" stroke="none" stroke-width="1"/>
<circle cx="42.10" cy="707.80" r="0.7" fill="#e03a3a" stroke="none" stroke-width="1"/>
<circle cx="50.40" cy="711.40" r="0.7" fill="#e03a3a" stroke="none" stroke-width="1"/>
<circle cx="47.60" cy="707.80" r="0.7" fill="#e03a3a" stroke="none" stroke-width="1"/>
<circle cx="55.90" cy="711.40" r="0.7" fill="#e03a3a" stroke="none" stroke-width="1"/>
<circle cx="53.10" cy="707.80" r="0.7" fill="#e03a3a" stroke="none" stroke-width="1"/>
<circle cx="61.40" cy="711.40" r="0.7" fill="#e03a3a" stroke="none" stroke-width="1"/>
<circle cx="58.60" cy="707.80" r="0.7" fill="#e03a3a" stroke="none" stroke-width="1"/>
<polygon points="67.10,708.70 89.10,708.70 91.90,712.10 69.90,712.10" fill="#3f72d4" stroke="none" stroke-width="1"/>
<circle cx="69.90" cy="712.20" r="0.7" fill="#e03a3a" stroke="none" stroke-width="1"/>
<circle cx="67.10" cy="708.60" r="0.7" fill="#e03a3a" stroke="none" stroke-width="1"/>
<circle cx="75.40" cy="712.20" r="0.7" fill="#e03a3a" stroke="none" stroke-width="1"/>
<circle cx="72.60" cy="708.60" r="0.7" fill="#e03a3a" stroke="none" stroke-width="1"/>
<circle cx="80.90" cy="712.20" r="0.7" fill="#e03a3a" stroke="none" stroke-width="1"/>
<circle cx="78.10" cy="708.60" r="0.7" fill="#e03a3a" stroke="none" stroke-width="1"/>
<circle cx="86.40" cy="712.20" r="0.7" fill="#e03a3a" stroke="none" stroke-width="1"/>
<circle cx="83.60" cy="708.60" r="0.7" fill="#e03a3a" stroke="none" stroke-width="1"/>
<circle cx="91.90" cy="712.20" r="0.7" fill="#e03a3a" stroke="none" stroke-width="1"/>
<circle cx="89.10" cy="708.60" r="0.7" fill="#e03a3a" stroke="none" stroke-width="1"/>
<text x="66.50" y="721.50" font-size="9.2" font-weight="bold" text-anchor="middle" fill="#1b1b1b">Positive electrode</text>
<text x="67.00" y="729.50" font-size="12" font-weight="bold" text-anchor="middle" fill="#111">+</text>
<circle cx="38.00" cy="647.00" r="2.1" fill="#f5ef66" stroke="none" stroke-width="1"/>
<circle cx="43.00" cy="641.00" r="2.1" fill="#f5ef66" stroke="none" stroke-width="1"/>
<circle cx="59.00" cy="645.00" r="2.1" fill="#f5ef66" stroke="none" stroke-width="1"/>
<circle cx="78.00" cy="641.00" r="2.1" fill="#f5ef66" stroke="none" stroke-width="1"/>
<circle cx="86.00" cy="645.00" r="2.1" fill="#f5ef66" stroke="none" stroke-width="1"/>
<circle cx="91.00" cy="649.00" r="2.1" fill="#f5ef66" stroke="none" stroke-width="1"/>
<circle cx="95.00" cy="655.00" r="2.1" fill="#f5ef66" stroke="none" stroke-width="1"/>
<circle cx="36.00" cy="657.00" r="2.1" fill="#f5ef66" stroke="none" stroke-width="1"/>
<circle cx="60.00" cy="652.50" r="2.1" fill="#f5ef66" stroke="none" stroke-width="1"/>
<circle cx="73.00" cy="654.00" r="2.1" fill="#f5ef66" stroke="none" stroke-width="1"/>
<circle cx="80.00" cy="660.00" r="2.1" fill="#f5ef66" stroke="none" stroke-width="1"/>
<circle cx="52.00" cy="661.00" r="2.1" fill="#f5ef66" stroke="none" stroke-width="1"/>
<circle cx="39.00" cy="665.00" r="2.1" fill="#f5ef66" stroke="none" stroke-width="1"/>
<circle cx="98.00" cy="666.00" r="2.1" fill="#f5ef66" stroke="none" stroke-width="1"/>
<circle cx="73.00" cy="661.50" r="2.1" fill="#f5ef66" stroke="none" stroke-width="1"/>
<circle cx="57.00" cy="666.00" r="2.1" fill="#f5ef66" stroke="none" stroke-width="1"/>
<circle cx="43.00" cy="674.00" r="2.1" fill="#f5ef66" stroke="none" stroke-width="1"/>
<circle cx="70.00" cy="680.00" r="2.1" fill="#f5ef66" stroke="none" stroke-width="1"/>
<circle cx="58.00" cy="687.00" r="2.1" fill="#f5ef66" stroke="none" stroke-width="1"/>
<circle cx="72.00" cy="683.00" r="2.1" fill="#f5ef66" stroke="none" stroke-width="1"/>
<circle cx="90.00" cy="684.00" r="2.1" fill="#f5ef66" stroke="none" stroke-width="1"/>
<circle cx="47.00" cy="690.00" r="2.1" fill="#f5ef66" stroke="none" stroke-width="1"/>
<circle cx="84.00" cy="691.00" r="2.1" fill="#f5ef66" stroke="none" stroke-width="1"/>
<circle cx="61.00" cy="698.00" r="2.1" fill="#f5ef66" stroke="none" stroke-width="1"/>
<circle cx="97.00" cy="696.00" r="2.1" fill="#f5ef66" stroke="none" stroke-width="1"/>
<circle cx="49.00" cy="700.00" r="2.1" fill="#f5ef66" stroke="none" stroke-width="1"/>
<circle cx="85.00" cy="706.00" r="2.1" fill="#f5ef66" stroke="none" stroke-width="1"/>
<circle cx="39.00" cy="706.00" r="2.1" fill="#f5ef66" stroke="none" stroke-width="1"/>
<circle cx="66.00" cy="706.00" r="2.1" fill="#f5ef66" stroke="none" stroke-width="1"/>
<circle cx="95.00" cy="706.00" r="2.1" fill="#f5ef66" stroke="none" stroke-width="1"/>
<text x="4.90" y="572.40" font-size="19.6" font-weight="bold" text-anchor="start" fill="#1b1b1b">h</text>
<rect x="171.3" y="577.2" width="58.10" height="137.00" fill="url(#bandA)"/>
<rect x="229.4" y="577.2" width="39.40" height="137.00" fill="url(#bandA)"/>
<rect x="268.8" y="577.2" width="72.00" height="137.00" fill="url(#bandA)"/>
<circle cx="186.13" cy="635.54" r="2.55" fill="none" stroke="#5fa9e1" stroke-width="1.05"/>
<circle cx="191.06" cy="638.28" r="2.55" fill="none" stroke="#5fa9e1" stroke-width="1.05"/>
<circle cx="195.99" cy="640.11" r="2.55" fill="none" stroke="#5fa9e1" stroke-width="1.05"/>
<circle cx="200.92" cy="641.02" r="2.55" fill="none" stroke="#5fa9e1" stroke-width="1.05"/>
<circle cx="205.85" cy="641.94" r="2.55" fill="none" stroke="#5fa9e1" stroke-width="1.05"/>
<circle cx="210.78" cy="646.51" r="2.55" fill="none" stroke="#5fa9e1" stroke-width="1.05"/>
<circle cx="215.71" cy="647.88" r="2.55" fill="none" stroke="#5fa9e1" stroke-width="1.05"/>
<circle cx="220.64" cy="649.44" r="2.55" fill="none" stroke="#5fa9e1" stroke-width="1.05"/>
<circle cx="225.57" cy="651.09" r="2.55" fill="none" stroke="#5fa9e1" stroke-width="1.05"/>
<circle cx="230.50" cy="661.15" r="2.55" fill="none" stroke="#5fa9e1" stroke-width="1.05"/>
<circle cx="235.43" cy="668.47" r="2.55" fill="none" stroke="#5fa9e1" stroke-width="1.05"/>
<circle cx="240.36" cy="669.93" r="2.55" fill="none" stroke="#5fa9e1" stroke-width="1.05"/>
<circle cx="245.29" cy="673.04" r="2.55" fill="none" stroke="#5fa9e1" stroke-width="1.05"/>
<circle cx="250.22" cy="684.93" r="2.55" fill="none" stroke="#5fa9e1" stroke-width="1.05"/>
<circle cx="255.15" cy="686.76" r="2.55" fill="none" stroke="#5fa9e1" stroke-width="1.05"/>
<circle cx="260.08" cy="688.59" r="2.55" fill="none" stroke="#5fa9e1" stroke-width="1.05"/>
<circle cx="265.01" cy="690.88" r="2.55" fill="none" stroke="#5fa9e1" stroke-width="1.05"/>
<circle cx="269.94" cy="700.48" r="2.55" fill="none" stroke="#5fa9e1" stroke-width="1.05"/>
<circle cx="274.87" cy="700.66" r="2.55" fill="none" stroke="#5fa9e1" stroke-width="1.05"/>
<circle cx="279.80" cy="700.85" r="2.55" fill="none" stroke="#5fa9e1" stroke-width="1.05"/>
<circle cx="284.73" cy="701.21" r="2.55" fill="none" stroke="#5fa9e1" stroke-width="1.05"/>
<circle cx="289.66" cy="669.38" r="2.55" fill="none" stroke="#5fa9e1" stroke-width="1.05"/>
<circle cx="294.59" cy="669.84" r="2.55" fill="none" stroke="#5fa9e1" stroke-width="1.05"/>
<circle cx="299.52" cy="670.29" r="2.55" fill="none" stroke="#5fa9e1" stroke-width="1.05"/>
<circle cx="304.45" cy="670.66" r="2.55" fill="none" stroke="#5fa9e1" stroke-width="1.05"/>
<circle cx="309.38" cy="671.03" r="2.55" fill="none" stroke="#5fa9e1" stroke-width="1.05"/>
<circle cx="314.31" cy="671.39" r="2.55" fill="none" stroke="#5fa9e1" stroke-width="1.05"/>
<circle cx="319.24" cy="671.76" r="2.55" fill="none" stroke="#5fa9e1" stroke-width="1.05"/>
<circle cx="324.17" cy="672.12" r="2.55" fill="none" stroke="#5fa9e1" stroke-width="1.05"/>
<circle cx="329.10" cy="672.49" r="2.55" fill="none" stroke="#5fa9e1" stroke-width="1.05"/>
<circle cx="186.13" cy="595.29" r="2.55" fill="none" stroke="#d462d8" stroke-width="1.05"/>
<circle cx="191.06" cy="601.69" r="2.55" fill="none" stroke="#d462d8" stroke-width="1.05"/>
<circle cx="195.99" cy="604.98" r="2.55" fill="none" stroke="#d462d8" stroke-width="1.05"/>
<circle cx="200.92" cy="608.09" r="2.55" fill="none" stroke="#d462d8" stroke-width="1.05"/>
<circle cx="205.85" cy="610.84" r="2.55" fill="none" stroke="#d462d8" stroke-width="1.05"/>
<circle cx="210.78" cy="615.41" r="2.55" fill="none" stroke="#d462d8" stroke-width="1.05"/>
<circle cx="215.71" cy="616.33" r="2.55" fill="none" stroke="#d462d8" stroke-width="1.05"/>
<circle cx="220.64" cy="617.24" r="2.55" fill="none" stroke="#d462d8" stroke-width="1.05"/>
<circle cx="225.57" cy="618.52" r="2.55" fill="none" stroke="#d462d8" stroke-width="1.05"/>
<circle cx="230.50" cy="623.28" r="2.55" fill="none" stroke="#d462d8" stroke-width="1.05"/>
<circle cx="235.43" cy="623.74" r="2.55" fill="none" stroke="#d462d8" stroke-width="1.05"/>
<circle cx="240.36" cy="624.01" r="2.55" fill="none" stroke="#d462d8" stroke-width="1.05"/>
<circle cx="245.29" cy="624.93" r="2.55" fill="none" stroke="#d462d8" stroke-width="1.05"/>
<circle cx="250.22" cy="633.71" r="2.55" fill="none" stroke="#d462d8" stroke-width="1.05"/>
<circle cx="255.15" cy="633.71" r="2.55" fill="none" stroke="#d462d8" stroke-width="1.05"/>
<circle cx="260.08" cy="633.71" r="2.55" fill="none" stroke="#d462d8" stroke-width="1.05"/>
<circle cx="265.01" cy="634.44" r="2.55" fill="none" stroke="#d462d8" stroke-width="1.05"/>
<circle cx="269.94" cy="645.60" r="2.55" fill="none" stroke="#d462d8" stroke-width="1.05"/>
<circle cx="274.87" cy="645.60" r="2.55" fill="none" stroke="#d462d8" stroke-width="1.05"/>
<circle cx="279.80" cy="645.78" r="2.55" fill="none" stroke="#d462d8" stroke-width="1.05"/>
<circle cx="284.73" cy="647.43" r="2.55" fill="none" stroke="#d462d8" stroke-width="1.05"/>
<circle cx="289.66" cy="636.91" r="2.55" fill="none" stroke="#d462d8" stroke-width="1.05"/>
<circle cx="294.59" cy="637.09" r="2.55" fill="none" stroke="#d462d8" stroke-width="1.05"/>
<circle cx="299.52" cy="637.27" r="2.55" fill="none" stroke="#d462d8" stroke-width="1.05"/>
<circle cx="304.45" cy="637.55" r="2.55" fill="none" stroke="#d462d8" stroke-width="1.05"/>
<circle cx="309.38" cy="637.82" r="2.55" fill="none" stroke="#d462d8" stroke-width="1.05"/>
<circle cx="314.31" cy="638.10" r="2.55" fill="none" stroke="#d462d8" stroke-width="1.05"/>
<circle cx="319.24" cy="638.37" r="2.55" fill="none" stroke="#d462d8" stroke-width="1.05"/>
<circle cx="324.17" cy="638.65" r="2.55" fill="none" stroke="#d462d8" stroke-width="1.05"/>
<circle cx="329.10" cy="638.92" r="2.55" fill="none" stroke="#d462d8" stroke-width="1.05"/>
<text x="200.50" y="597.00" font-size="9.5" font-weight="bold" text-anchor="middle" fill="#1b1b1b">0.05</text>
<text x="220.20" y="612.80" font-size="9.5" font-weight="bold" text-anchor="middle" fill="#1b1b1b">0.1</text>
<text x="239.90" y="618.10" font-size="9.5" font-weight="bold" text-anchor="middle" fill="#1b1b1b">0.2</text>
<text x="260.90" y="628.10" font-size="9.5" font-weight="bold" text-anchor="middle" fill="#1b1b1b">0.5</text>
<text x="278.00" y="638.60" font-size="9.5" font-weight="bold" text-anchor="middle" fill="#1b1b1b">1.0</text>
<text x="295.60" y="629.90" font-size="9.5" font-weight="bold" text-anchor="middle" fill="#1b1b1b">0.2</text>
<text x="317.40" y="710.00" font-size="9.5" font-weight="bold" text-anchor="start" fill="#1b1b1b"><tspan dy="0.00">A g</tspan><tspan dy="-3.80" font-size="6.27">-1</tspan></text>
<circle cx="288.50" cy="587.10" r="2.6" fill="none" stroke="#5fa9e1" stroke-width="1.05"/>
<text x="299.50" y="590.30" font-size="8.9" font-weight="bold" text-anchor="start" fill="#5fa9e1">HC||NM</text>
<circle cx="288.50" cy="598.10" r="2.6" fill="none" stroke="#d462d8" stroke-width="1.05"/>
<text x="299.50" y="601.30" font-size="8.9" font-weight="bold" text-anchor="start" fill="#d462d8">HC||NMD</text>
<rect x="171.3" y="577.2" width="169.50" height="137.00" fill="none" stroke="#1b1b1b" stroke-width="1.5"/>
<line x1="171.30" y1="714.20" x2="168.60" y2="714.20" stroke="#1b1b1b" stroke-width="1.1"/>
<text x="167.40" y="718.34" font-size="11.5" font-weight="bold" text-anchor="end" fill="#1b1b1b">0</text>
<line x1="171.30" y1="668.47" x2="168.60" y2="668.47" stroke="#1b1b1b" stroke-width="1.1"/>
<text x="167.40" y="672.61" font-size="11.5" font-weight="bold" text-anchor="end" fill="#1b1b1b">50</text>
<line x1="171.30" y1="622.73" x2="168.60" y2="622.73" stroke="#1b1b1b" stroke-width="1.1"/>
<text x="167.40" y="626.87" font-size="11.5" font-weight="bold" text-anchor="end" fill="#1b1b1b">100</text>
<line x1="171.30" y1="577.00" x2="168.60" y2="577.00" stroke="#1b1b1b" stroke-width="1.1"/>
<text x="167.40" y="581.14" font-size="11.5" font-weight="bold" text-anchor="end" fill="#1b1b1b">150</text>
<line x1="171.30" y1="691.33" x2="169.68" y2="691.33" stroke="#1b1b1b" stroke-width="1.1"/>
<line x1="171.30" y1="645.60" x2="169.68" y2="645.60" stroke="#1b1b1b" stroke-width="1.1"/>
<line x1="171.30" y1="599.86" x2="169.68" y2="599.86" stroke="#1b1b1b" stroke-width="1.1"/>
<line x1="181.20" y1="714.20" x2="181.20" y2="716.90" stroke="#1b1b1b" stroke-width="1.1"/>
<text x="181.20" y="727.00" font-size="11.2" font-weight="bold" text-anchor="middle" fill="#1b1b1b">0</text>
<line x1="220.64" y1="714.20" x2="220.64" y2="716.90" stroke="#1b1b1b" stroke-width="1.1"/>
<text x="220.64" y="727.00" font-size="11.2" font-weight="bold" text-anchor="middle" fill="#1b1b1b">8</text>
<line x1="260.08" y1="714.20" x2="260.08" y2="716.90" stroke="#1b1b1b" stroke-width="1.1"/>
<text x="260.08" y="727.00" font-size="11.2" font-weight="bold" text-anchor="middle" fill="#1b1b1b">16</text>
<line x1="299.52" y1="714.20" x2="299.52" y2="716.90" stroke="#1b1b1b" stroke-width="1.1"/>
<text x="299.52" y="727.00" font-size="11.2" font-weight="bold" text-anchor="middle" fill="#1b1b1b">24</text>
<line x1="338.96" y1="714.20" x2="338.96" y2="716.90" stroke="#1b1b1b" stroke-width="1.1"/>
<text x="338.96" y="727.00" font-size="11.2" font-weight="bold" text-anchor="middle" fill="#1b1b1b">32</text>
<line x1="200.92" y1="714.20" x2="200.92" y2="715.82" stroke="#1b1b1b" stroke-width="1.1"/>
<line x1="240.36" y1="714.20" x2="240.36" y2="715.82" stroke="#1b1b1b" stroke-width="1.1"/>
<line x1="279.80" y1="714.20" x2="279.80" y2="715.82" stroke="#1b1b1b" stroke-width="1.1"/>
<line x1="319.24" y1="714.20" x2="319.24" y2="715.82" stroke="#1b1b1b" stroke-width="1.1"/>
<text x="145.50" y="649.00" font-size="11.75" font-weight="bold" text-anchor="middle" fill="#1b1b1b" transform="rotate(-90 145.5 649.0)"><tspan dy="0.00">Specific capacity (mAh g</tspan><tspan dy="-4.70" font-size="6.46">-1</tspan><tspan dy="4.70">)</tspan></text>
<text x="255.00" y="740.00" font-size="12" font-weight="bold" text-anchor="middle" fill="#1b1b1b">Cycle number</text>
<text x="138.90" y="574.50" font-size="19.6" font-weight="bold" text-anchor="start" fill="#1b1b1b">i</text>
<rect x="386.50" y="577.20" width="262.70" height="136.80" fill="url(#bgJ)"/>
<g opacity="0.8">
<circle cx="399.10" cy="628.14" r="2.1" fill="none" stroke="#a8d6f0" stroke-width="0.6"/>
<circle cx="399.92" cy="621.18" r="2.1" fill="none" stroke="#a8d6f0" stroke-width="0.6"/>
<circle cx="400.74" cy="625.81" r="2.1" fill="none" stroke="#a8d6f0" stroke-width="0.6"/>
<circle cx="401.57" cy="625.75" r="2.1" fill="none" stroke="#a8d6f0" stroke-width="0.6"/>
<circle cx="402.39" cy="627.25" r="2.1" fill="none" stroke="#a8d6f0" stroke-width="0.6"/>
<circle cx="403.22" cy="628.10" r="2.1" fill="none" stroke="#a8d6f0" stroke-width="0.6"/>
<circle cx="404.04" cy="627.13" r="2.1" fill="none" stroke="#a8d6f0" stroke-width="0.6"/>
<circle cx="404.86" cy="629.35" r="2.1" fill="none" stroke="#a8d6f0" stroke-width="0.6"/>
<circle cx="405.69" cy="631.58" r="2.1" fill="none" stroke="#a8d6f0" stroke-width="0.6"/>
<circle cx="406.51" cy="632.12" r="2.1" fill="none" stroke="#a8d6f0" stroke-width="0.6"/>
<circle cx="407.34" cy="632.94" r="2.1" fill="none" stroke="#a8d6f0" stroke-width="0.6"/>
<circle cx="408.16" cy="628.25" r="2.1" fill="none" stroke="#a8d6f0" stroke-width="0.6"/>
<circle cx="408.98" cy="627.19" r="2.1" fill="none" stroke="#a8d6f0" stroke-width="0.6"/>
<circle cx="409.81" cy="623.67" r="2.1" fill="none" stroke="#a8d6f0" stroke-width="0.6"/>
<circle cx="410.63" cy="627.35" r="2.1" fill="none" stroke="#a8d6f0" stroke-width="0.6"/>
<circle cx="411.46" cy="628.09" r="2.1" fill="none" stroke="#a8d6f0" stroke-width="0.6"/>
<circle cx="412.28" cy="626.82" r="2.1" fill="none" stroke="#a8d6f0" stroke-width="0.6"/>
<circle cx="413.10" cy="629.02" r="2.1" fill="none" stroke="#a8d6f0" stroke-width="0.6"/>
<circle cx="413.93" cy="635.15" r="2.1" fill="none" stroke="#a8d6f0" stroke-width="0.6"/>
<circle cx="414.75" cy="625.54" r="2.1" fill="none" stroke="#a8d6f0" stroke-width="0.6"/>
<circle cx="415.58" cy="630.49" r="2.1" fill="none" stroke="#a8d6f0" stroke-width="0.6"/>
<circle cx="416.40" cy="628.25" r="2.1" fill="none" stroke="#a8d6f0" stroke-width="0.6"/>
<circle cx="417.22" cy="629.86" r="2.1" fill="none" stroke="#a8d6f0" stroke-width="0.6"/>
<circle cx="418.05" cy="619.40" r="2.1" fill="none" stroke="#a8d6f0" stroke-width="0.6"/>
<circle cx="418.87" cy="625.21" r="2.1" fill="none" stroke="#a8d6f0" stroke-width="0.6"/>
<circle cx="419.70" cy="627.61" r="2.1" fill="none" stroke="#a8d6f0" stroke-width="0.6"/>
<circle cx="420.52" cy="632.73" r="2.1" fill="none" stroke="#a8d6f0" stroke-width="0.6"/>
<circle cx="421.34" cy="626.04" r="2.1" fill="none" stroke="#a8d6f0" stroke-width="0.6"/>
<circle cx="422.17" cy="631.94" r="2.1" fill="none" stroke="#a8d6f0" stroke-width="0.6"/>
<circle cx="422.99" cy="625.15" r="2.1" fill="none" stroke="#a8d6f0" stroke-width="0.6"/>
<circle cx="423.82" cy="634.00" r="2.1" fill="none" stroke="#a8d6f0" stroke-width="0.6"/>
<circle cx="424.64" cy="629.27" r="2.1" fill="none" stroke="#a8d6f0" stroke-width="0.6"/>
<circle cx="425.46" cy="625.88" r="2.1" fill="none" stroke="#a8d6f0" stroke-width="0.6"/>
<circle cx="426.29" cy="631.81" r="2.1" fill="none" stroke="#a8d6f0" stroke-width="0.6"/>
<circle cx="427.11" cy="628.60" r="2.1" fill="none" stroke="#a8d6f0" stroke-width="0.6"/>
<circle cx="427.94" cy="628.42" r="2.1" fill="none" stroke="#a8d6f0" stroke-width="0.6"/>
<circle cx="428.76" cy="625.82" r="2.1" fill="none" stroke="#a8d6f0" stroke-width="0.6"/>
<circle cx="429.58" cy="630.58" r="2.1" fill="none" stroke="#a8d6f0" stroke-width="0.6"/>
<circle cx="430.41" cy="626.65" r="2.1" fill="none" stroke="#a8d6f0" stroke-width="0.6"/>
<circle cx="431.23" cy="622.04" r="2.1" fill="none" stroke="#a8d6f0" stroke-width="0.6"/>
<circle cx="432.06" cy="633.92" r="2.1" fill="none" stroke="#a8d6f0" stroke-width="0.6"/>
<circle cx="432.88" cy="631.82" r="2.1" fill="none" stroke="#a8d6f0" stroke-width="0.6"/>
<circle cx="433.70" cy="627.40" r="2.1" fill="none" stroke="#a8d6f0" stroke-width="0.6"/>
<circle cx="434.53" cy="631.14" r="2.1" fill="none" stroke="#a8d6f0" stroke-width="0.6"/>
<circle cx="435.35" cy="633.44" r="2.1" fill="none" stroke="#a8d6f0" stroke-width="0.6"/>
<circle cx="436.18" cy="624.16" r="2.1" fill="none" stroke="#a8d6f0" stroke-width="0.6"/>
<circle cx="437.00" cy="625.72" r="2.1" fill="none" stroke="#a8d6f0" stroke-width="0.6"/>
<circle cx="437.82" cy="625.23" r="2.1" fill="none" stroke="#a8d6f0" stroke-width="0.6"/>
<circle cx="438.65" cy="625.31" r="2.1" fill="none" stroke="#a8d6f0" stroke-width="0.6"/>
<circle cx="439.47" cy="626.50" r="2.1" fill="none" stroke="#a8d6f0" stroke-width="0.6"/>
<circle cx="440.30" cy="631.67" r="2.1" fill="none" stroke="#a8d6f0" stroke-width="0.6"/>
<circle cx="441.12" cy="636.87" r="2.1" fill="none" stroke="#a8d6f0" stroke-width="0.6"/>
<circle cx="441.94" cy="627.23" r="2.1" fill="none" stroke="#a8d6f0" stroke-width="0.6"/>
<circle cx="442.77" cy="632.51" r="2.1" fill="none" stroke="#a8d6f0" stroke-width="0.6"/>
<circle cx="443.59" cy="628.75" r="2.1" fill="none" stroke="#a8d6f0" stroke-width="0.6"/>
<circle cx="444.42" cy="627.60" r="2.1" fill="none" stroke="#a8d6f0" stroke-width="0.6"/>
<circle cx="445.24" cy="633.12" r="2.1" fill="none" stroke="#a8d6f0" stroke-width="0.6"/>
<circle cx="446.06" cy="630.03" r="2.1" fill="none" stroke="#a8d6f0" stroke-width="0.6"/>
<circle cx="446.89" cy="623.07" r="2.1" fill="none" stroke="#a8d6f0" stroke-width="0.6"/>
<circle cx="447.71" cy="626.32" r="2.1" fill="none" stroke="#a8d6f0" stroke-width="0.6"/>
<circle cx="448.54" cy="634.34" r="2.1" fill="none" stroke="#a8d6f0" stroke-width="0.6"/>
<circle cx="449.36" cy="629.57" r="2.1" fill="none" stroke="#a8d6f0" stroke-width="0.6"/>
<circle cx="450.18" cy="628.89" r="2.1" fill="none" stroke="#a8d6f0" stroke-width="0.6"/>
<circle cx="451.01" cy="626.98" r="2.1" fill="none" stroke="#a8d6f0" stroke-width="0.6"/>
<circle cx="451.83" cy="626.40" r="2.1" fill="none" stroke="#a8d6f0" stroke-width="0.6"/>
<circle cx="452.66" cy="629.12" r="2.1" fill="none" stroke="#a8d6f0" stroke-width="0.6"/>
<circle cx="453.48" cy="629.70" r="2.1" fill="none" stroke="#a8d6f0" stroke-width="0.6"/>
<circle cx="454.30" cy="625.98" r="2.1" fill="none" stroke="#a8d6f0" stroke-width="0.6"/>
<circle cx="455.13" cy="633.71" r="2.1" fill="none" stroke="#a8d6f0" stroke-width="0.6"/>
<circle cx="455.95" cy="625.08" r="2.1" fill="none" stroke="#a8d6f0" stroke-width="0.6"/>
<circle cx="456.78" cy="627.79" r="2.1" fill="none" stroke="#a8d6f0" stroke-width="0.6"/>
<circle cx="457.60" cy="630.60" r="2.1" fill="none" stroke="#a8d6f0" stroke-width="0.6"/>
<circle cx="458.42" cy="630.88" r="2.1" fill="none" stroke="#a8d6f0" stroke-width="0.6"/>
<circle cx="459.25" cy="628.16" r="2.1" fill="none" stroke="#a8d6f0" stroke-width="0.6"/>
<circle cx="460.07" cy="633.87" r="2.1" fill="none" stroke="#a8d6f0" stroke-width="0.6"/>
<circle cx="460.90" cy="636.81" r="2.1" fill="none" stroke="#a8d6f0" stroke-width="0.6"/>
<circle cx="461.72" cy="627.70" r="2.1" fill="none" stroke="#a8d6f0" stroke-width="0.6"/>
<circle cx="462.54" cy="624.10" r="2.1" fill="none" stroke="#a8d6f0" stroke-width="0.6"/>
<circle cx="463.37" cy="629.50" r="2.1" fill="none" stroke="#a8d6f0" stroke-width="0.6"/>
<circle cx="464.19" cy="628.84" r="2.1" fill="none" stroke="#a8d6f0" stroke-width="0.6"/>
<circle cx="465.02" cy="629.08" r="2.1" fill="none" stroke="#a8d6f0" stroke-width="0.6"/>
<circle cx="465.84" cy="632.27" r="2.1" fill="none" stroke="#a8d6f0" stroke-width="0.6"/>
<circle cx="466.66" cy="627.68" r="2.1" fill="none" stroke="#a8d6f0" stroke-width="0.6"/>
<circle cx="467.49" cy="626.32" r="2.1" fill="none" stroke="#a8d6f0" stroke-width="0.6"/>
<circle cx="468.31" cy="628.96" r="2.1" fill="none" stroke="#a8d6f0" stroke-width="0.6"/>
<circle cx="469.14" cy="626.05" r="2.1" fill="none" stroke="#a8d6f0" stroke-width="0.6"/>
<circle cx="469.96" cy="632.50" r="2.1" fill="none" stroke="#a8d6f0" stroke-width="0.6"/>
<circle cx="470.78" cy="628.23" r="2.1" fill="none" stroke="#a8d6f0" stroke-width="0.6"/>
<circle cx="471.61" cy="631.60" r="2.1" fill="none" stroke="#a8d6f0" stroke-width="0.6"/>
<circle cx="472.43" cy="630.74" r="2.1" fill="none" stroke="#a8d6f0" stroke-width="0.6"/>
<circle cx="473.26" cy="628.22" r="2.1" fill="none" stroke="#a8d6f0" stroke-width="0.6"/>
<circle cx="474.08" cy="628.58" r="2.1" fill="none" stroke="#a8d6f0" stroke-width="0.6"/>
<circle cx="474.90" cy="626.28" r="2.1" fill="none" stroke="#a8d6f0" stroke-width="0.6"/>
<circle cx="475.73" cy="626.92" r="2.1" fill="none" stroke="#a8d6f0" stroke-width="0.6"/>
<circle cx="476.55" cy="633.07" r="2.1" fill="none" stroke="#a8d6f0" stroke-width="0.6"/>
<circle cx="477.38" cy="624.84" r="2.1" fill="none" stroke="#a8d6f0" stroke-width="0.6"/>
<circle cx="478.20" cy="634.39" r="2.1" fill="none" stroke="#a8d6f0" stroke-width="0.6"/>
<circle cx="479.02" cy="629.50" r="2.1" fill="none" stroke="#a8d6f0" stroke-width="0.6"/>
<circle cx="479.85" cy="628.19" r="2.1" fill="none" stroke="#a8d6f0" stroke-width="0.6"/>
<circle cx="480.67" cy="629.49" r="2.1" fill="none" stroke="#a8d6f0" stroke-width="0.6"/>
<circle cx="481.50" cy="627.58" r="2.1" fill="none" stroke="#a8d6f0" stroke-width="0.6"/>
<circle cx="482.32" cy="629.15" r="2.1" fill="none" stroke="#a8d6f0" stroke-width="0.6"/>
<circle cx="483.14" cy="632.52" r="2.1" fill="none" stroke="#a8d6f0" stroke-width="0.6"/>
<circle cx="483.97" cy="626.59" r="2.1" fill="none" stroke="#a8d6f0" stroke-width="0.6"/>
<circle cx="484.79" cy="629.46" r="2.1" fill="none" stroke="#a8d6f0" stroke-width="0.6"/>
<circle cx="485.62" cy="632.33" r="2.1" fill="none" stroke="#a8d6f0" stroke-width="0.6"/>
<circle cx="486.44" cy="629.10" r="2.1" fill="none" stroke="#a8d6f0" stroke-width="0.6"/>
<circle cx="487.26" cy="629.39" r="2.1" fill="none" stroke="#a8d6f0" stroke-width="0.6"/>
<circle cx="488.09" cy="628.21" r="2.1" fill="none" stroke="#a8d6f0" stroke-width="0.6"/>
<circle cx="488.91" cy="631.24" r="2.1" fill="none" stroke="#a8d6f0" stroke-width="0.6"/>
<circle cx="489.74" cy="628.75" r="2.1" fill="none" stroke="#a8d6f0" stroke-width="0.6"/>
<circle cx="490.56" cy="629.93" r="2.1" fill="none" stroke="#a8d6f0" stroke-width="0.6"/>
<circle cx="491.38" cy="624.03" r="2.1" fill="none" stroke="#a8d6f0" stroke-width="0.6"/>
<circle cx="492.21" cy="630.52" r="2.1" fill="none" stroke="#a8d6f0" stroke-width="0.6"/>
<circle cx="493.03" cy="625.11" r="2.1" fill="none" stroke="#a8d6f0" stroke-width="0.6"/>
<circle cx="493.86" cy="629.59" r="2.1" fill="none" stroke="#a8d6f0" stroke-width="0.6"/>
<circle cx="494.68" cy="625.61" r="2.1" fill="none" stroke="#a8d6f0" stroke-width="0.6"/>
<circle cx="495.50" cy="621.68" r="2.1" fill="none" stroke="#a8d6f0" stroke-width="0.6"/>
<circle cx="496.33" cy="630.59" r="2.1" fill="none" stroke="#a8d6f0" stroke-width="0.6"/>
<circle cx="497.15" cy="628.86" r="2.1" fill="none" stroke="#a8d6f0" stroke-width="0.6"/>
<circle cx="497.98" cy="632.32" r="2.1" fill="none" stroke="#a8d6f0" stroke-width="0.6"/>
<circle cx="498.80" cy="631.66" r="2.1" fill="none" stroke="#a8d6f0" stroke-width="0.6"/>
<circle cx="499.62" cy="631.18" r="2.1" fill="none" stroke="#a8d6f0" stroke-width="0.6"/>
<circle cx="500.45" cy="629.03" r="2.1" fill="none" stroke="#a8d6f0" stroke-width="0.6"/>
<circle cx="501.27" cy="626.28" r="2.1" fill="none" stroke="#a8d6f0" stroke-width="0.6"/>
<circle cx="502.10" cy="626.39" r="2.1" fill="none" stroke="#a8d6f0" stroke-width="0.6"/>
<circle cx="502.92" cy="630.94" r="2.1" fill="none" stroke="#a8d6f0" stroke-width="0.6"/>
<circle cx="503.74" cy="628.85" r="2.1" fill="none" stroke="#a8d6f0" stroke-width="0.6"/>
<circle cx="504.57" cy="634.15" r="2.1" fill="none" stroke="#a8d6f0" stroke-width="0.6"/>
<circle cx="505.39" cy="627.42" r="2.1" fill="none" stroke="#a8d6f0" stroke-width="0.6"/>
<circle cx="506.22" cy="630.12" r="2.1" fill="none" stroke="#a8d6f0" stroke-width="0.6"/>
<circle cx="507.04" cy="632.89" r="2.1" fill="none" stroke="#a8d6f0" stroke-width="0.6"/>
<circle cx="507.86" cy="631.73" r="2.1" fill="none" stroke="#a8d6f0" stroke-width="0.6"/>
<circle cx="508.69" cy="627.45" r="2.1" fill="none" stroke="#a8d6f0" stroke-width="0.6"/>
<circle cx="509.51" cy="629.01" r="2.1" fill="none" stroke="#a8d6f0" stroke-width="0.6"/>
<circle cx="510.34" cy="627.23" r="2.1" fill="none" stroke="#a8d6f0" stroke-width="0.6"/>
<circle cx="511.16" cy="630.79" r="2.1" fill="none" stroke="#a8d6f0" stroke-width="0.6"/>
<circle cx="511.98" cy="628.83" r="2.1" fill="none" stroke="#a8d6f0" stroke-width="0.6"/>
<circle cx="512.81" cy="630.13" r="2.1" fill="none" stroke="#a8d6f0" stroke-width="0.6"/>
<circle cx="513.63" cy="634.33" r="2.1" fill="none" stroke="#a8d6f0" stroke-width="0.6"/>
<circle cx="514.46" cy="629.87" r="2.1" fill="none" stroke="#a8d6f0" stroke-width="0.6"/>
<circle cx="515.28" cy="629.78" r="2.1" fill="none" stroke="#a8d6f0" stroke-width="0.6"/>
<circle cx="516.10" cy="631.59" r="2.1" fill="none" stroke="#a8d6f0" stroke-width="0.6"/>
<circle cx="516.93" cy="626.76" r="2.1" fill="none" stroke="#a8d6f0" stroke-width="0.6"/>
<circle cx="517.75" cy="622.31" r="2.1" fill="none" stroke="#a8d6f0" stroke-width="0.6"/>
<circle cx="518.58" cy="624.67" r="2.1" fill="none" stroke="#a8d6f0" stroke-width="0.6"/>
<circle cx="519.40" cy="629.21" r="2.1" fill="none" stroke="#a8d6f0" stroke-width="0.6"/>
<circle cx="520.22" cy="633.14" r="2.1" fill="none" stroke="#a8d6f0" stroke-width="0.6"/>
<circle cx="521.05" cy="629.94" r="2.1" fill="none" stroke="#a8d6f0" stroke-width="0.6"/>
<circle cx="521.87" cy="631.41" r="2.1" fill="none" stroke="#a8d6f0" stroke-width="0.6"/>
<circle cx="522.70" cy="628.83" r="2.1" fill="none" stroke="#a8d6f0" stroke-width="0.6"/>
<circle cx="523.52" cy="625.44" r="2.1" fill="none" stroke="#a8d6f0" stroke-width="0.6"/>
<circle cx="524.34" cy="629.52" r="2.1" fill="none" stroke="#a8d6f0" stroke-width="0.6"/>
<circle cx="525.17" cy="633.99" r="2.1" fill="none" stroke="#a8d6f0" stroke-width="0.6"/>
<circle cx="525.99" cy="624.91" r="2.1" fill="none" stroke="#a8d6f0" stroke-width="0.6"/>
<circle cx="526.82" cy="629.15" r="2.1" fill="none" stroke="#a8d6f0" stroke-width="0.6"/>
<circle cx="527.64" cy="624.88" r="2.1" fill="none" stroke="#a8d6f0" stroke-width="0.6"/>
<circle cx="528.46" cy="632.22" r="2.1" fill="none" stroke="#a8d6f0" stroke-width="0.6"/>
<circle cx="529.29" cy="621.16" r="2.1" fill="none" stroke="#a8d6f0" stroke-width="0.6"/>
<circle cx="530.11" cy="633.34" r="2.1" fill="none" stroke="#a8d6f0" stroke-width="0.6"/>
<circle cx="530.94" cy="628.90" r="2.1" fill="none" stroke="#a8d6f0" stroke-width="0.6"/>
<circle cx="531.76" cy="626.68" r="2.1" fill="none" stroke="#a8d6f0" stroke-width="0.6"/>
<circle cx="532.58" cy="637.79" r="2.1" fill="none" stroke="#a8d6f0" stroke-width="0.6"/>
<circle cx="533.41" cy="631.93" r="2.1" fill="none" stroke="#a8d6f0" stroke-width="0.6"/>
<circle cx="534.23" cy="634.56" r="2.1" fill="none" stroke="#a8d6f0" stroke-width="0.6"/>
<circle cx="535.06" cy="623.72" r="2.1" fill="none" stroke="#a8d6f0" stroke-width="0.6"/>
<circle cx="535.88" cy="627.05" r="2.1" fill="none" stroke="#a8d6f0" stroke-width="0.6"/>
<circle cx="536.70" cy="632.47" r="2.1" fill="none" stroke="#a8d6f0" stroke-width="0.6"/>
<circle cx="537.53" cy="635.05" r="2.1" fill="none" stroke="#a8d6f0" stroke-width="0.6"/>
<circle cx="538.35" cy="635.06" r="2.1" fill="none" stroke="#a8d6f0" stroke-width="0.6"/>
<circle cx="539.18" cy="628.78" r="2.1" fill="none" stroke="#a8d6f0" stroke-width="0.6"/>
<circle cx="540.00" cy="631.98" r="2.1" fill="none" stroke="#a8d6f0" stroke-width="0.6"/>
<circle cx="540.82" cy="628.14" r="2.1" fill="none" stroke="#a8d6f0" stroke-width="0.6"/>
<circle cx="541.65" cy="631.09" r="2.1" fill="none" stroke="#a8d6f0" stroke-width="0.6"/>
<circle cx="542.47" cy="634.90" r="2.1" fill="none" stroke="#a8d6f0" stroke-width="0.6"/>
<circle cx="543.30" cy="623.42" r="2.1" fill="none" stroke="#a8d6f0" stroke-width="0.6"/>
<circle cx="544.12" cy="627.75" r="2.1" fill="none" stroke="#a8d6f0" stroke-width="0.6"/>
<circle cx="544.94" cy="631.62" r="2.1" fill="none" stroke="#a8d6f0" stroke-width="0.6"/>
<circle cx="545.77" cy="630.46" r="2.1" fill="none" stroke="#a8d6f0" stroke-width="0.6"/>
<circle cx="546.59" cy="625.05" r="2.1" fill="none" stroke="#a8d6f0" stroke-width="0.6"/>
<circle cx="547.42" cy="626.65" r="2.1" fill="none" stroke="#a8d6f0" stroke-width="0.6"/>
<circle cx="548.24" cy="633.42" r="2.1" fill="none" stroke="#a8d6f0" stroke-width="0.6"/>
<circle cx="549.06" cy="624.56" r="2.1" fill="none" stroke="#a8d6f0" stroke-width="0.6"/>
<circle cx="549.89" cy="631.37" r="2.1" fill="none" stroke="#a8d6f0" stroke-width="0.6"/>
<circle cx="550.71" cy="627.45" r="2.1" fill="none" stroke="#a8d6f0" stroke-width="0.6"/>
<circle cx="551.54" cy="633.30" r="2.1" fill="none" stroke="#a8d6f0" stroke-width="0.6"/>
<circle cx="552.36" cy="631.54" r="2.1" fill="none" stroke="#a8d6f0" stroke-width="0.6"/>
<circle cx="553.18" cy="626.75" r="2.1" fill="none" stroke="#a8d6f0" stroke-width="0.6"/>
<circle cx="554.01" cy="633.28" r="2.1" fill="none" stroke="#a8d6f0" stroke-width="0.6"/>
<circle cx="554.83" cy="629.09" r="2.1" fill="none" stroke="#a8d6f0" stroke-width="0.6"/>
<circle cx="555.66" cy="628.00" r="2.1" fill="none" stroke="#a8d6f0" stroke-width="0.6"/>
<circle cx="556.48" cy="631.51" r="2.1" fill="none" stroke="#a8d6f0" stroke-width="0.6"/>
<circle cx="557.30" cy="624.59" r="2.1" fill="none" stroke="#a8d6f0" stroke-width="0.6"/>
<circle cx="558.13" cy="627.15" r="2.1" fill="none" stroke="#a8d6f0" stroke-width="0.6"/>
<circle cx="558.95" cy="629.78" r="2.1" fill="none" stroke="#a8d6f0" stroke-width="0.6"/>
<circle cx="559.78" cy="626.01" r="2.1" fill="none" stroke="#a8d6f0" stroke-width="0.6"/>
<circle cx="560.60" cy="624.85" r="2.1" fill="none" stroke="#a8d6f0" stroke-width="0.6"/>
<circle cx="561.42" cy="625.28" r="2.1" fill="none" stroke="#a8d6f0" stroke-width="0.6"/>
<circle cx="562.25" cy="629.74" r="2.1" fill="none" stroke="#a8d6f0" stroke-width="0.6"/>
<circle cx="563.07" cy="626.70" r="2.1" fill="none" stroke="#a8d6f0" stroke-width="0.6"/>
<circle cx="563.90" cy="628.07" r="2.1" fill="none" stroke="#a8d6f0" stroke-width="0.6"/>
<circle cx="564.72" cy="632.94" r="2.1" fill="none" stroke="#a8d6f0" stroke-width="0.6"/>
<circle cx="565.54" cy="630.49" r="2.1" fill="none" stroke="#a8d6f0" stroke-width="0.6"/>
<circle cx="566.37" cy="622.70" r="2.1" fill="none" stroke="#a8d6f0" stroke-width="0.6"/>
<circle cx="567.19" cy="631.93" r="2.1" fill="none" stroke="#a8d6f0" stroke-width="0.6"/>
<circle cx="568.02" cy="627.74" r="2.1" fill="none" stroke="#a8d6f0" stroke-width="0.6"/>
<circle cx="568.84" cy="623.78" r="2.1" fill="none" stroke="#a8d6f0" stroke-width="0.6"/>
<circle cx="569.66" cy="630.57" r="2.1" fill="none" stroke="#a8d6f0" stroke-width="0.6"/>
<circle cx="570.49" cy="629.38" r="2.1" fill="none" stroke="#a8d6f0" stroke-width="0.6"/>
<circle cx="571.31" cy="631.78" r="2.1" fill="none" stroke="#a8d6f0" stroke-width="0.6"/>
<circle cx="572.14" cy="627.66" r="2.1" fill="none" stroke="#a8d6f0" stroke-width="0.6"/>
<circle cx="572.96" cy="633.34" r="2.1" fill="none" stroke="#a8d6f0" stroke-width="0.6"/>
<circle cx="573.78" cy="627.86" r="2.1" fill="none" stroke="#a8d6f0" stroke-width="0.6"/>
<circle cx="574.61" cy="632.05" r="2.1" fill="none" stroke="#a8d6f0" stroke-width="0.6"/>
<circle cx="575.43" cy="628.24" r="2.1" fill="none" stroke="#a8d6f0" stroke-width="0.6"/>
<circle cx="576.26" cy="634.95" r="2.1" fill="none" stroke="#a8d6f0" stroke-width="0.6"/>
<circle cx="577.08" cy="632.92" r="2.1" fill="none" stroke="#a8d6f0" stroke-width="0.6"/>
<circle cx="577.90" cy="626.30" r="2.1" fill="none" stroke="#a8d6f0" stroke-width="0.6"/>
<circle cx="578.73" cy="627.42" r="2.1" fill="none" stroke="#a8d6f0" stroke-width="0.6"/>
<circle cx="579.55" cy="639.31" r="2.1" fill="none" stroke="#a8d6f0" stroke-width="0.6"/>
<circle cx="580.38" cy="624.38" r="2.1" fill="none" stroke="#a8d6f0" stroke-width="0.6"/>
<circle cx="581.20" cy="632.05" r="2.1" fill="none" stroke="#a8d6f0" stroke-width="0.6"/>
<circle cx="582.02" cy="626.45" r="2.1" fill="none" stroke="#a8d6f0" stroke-width="0.6"/>
<circle cx="582.85" cy="625.99" r="2.1" fill="none" stroke="#a8d6f0" stroke-width="0.6"/>
<circle cx="583.67" cy="629.89" r="2.1" fill="none" stroke="#a8d6f0" stroke-width="0.6"/>
<circle cx="584.50" cy="630.60" r="2.1" fill="none" stroke="#a8d6f0" stroke-width="0.6"/>
<circle cx="585.32" cy="635.65" r="2.1" fill="none" stroke="#a8d6f0" stroke-width="0.6"/>
<circle cx="586.14" cy="627.83" r="2.1" fill="none" stroke="#a8d6f0" stroke-width="0.6"/>
<circle cx="586.97" cy="623.26" r="2.1" fill="none" stroke="#a8d6f0" stroke-width="0.6"/>
<circle cx="587.79" cy="633.45" r="2.1" fill="none" stroke="#a8d6f0" stroke-width="0.6"/>
<circle cx="588.62" cy="625.66" r="2.1" fill="none" stroke="#a8d6f0" stroke-width="0.6"/>
<circle cx="589.44" cy="626.92" r="2.1" fill="none" stroke="#a8d6f0" stroke-width="0.6"/>
<circle cx="590.26" cy="626.24" r="2.1" fill="none" stroke="#a8d6f0" stroke-width="0.6"/>
<circle cx="591.09" cy="632.85" r="2.1" fill="none" stroke="#a8d6f0" stroke-width="0.6"/>
<circle cx="591.91" cy="629.72" r="2.1" fill="none" stroke="#a8d6f0" stroke-width="0.6"/>
<circle cx="592.74" cy="628.52" r="2.1" fill="none" stroke="#a8d6f0" stroke-width="0.6"/>
<circle cx="593.56" cy="623.76" r="2.1" fill="none" stroke="#a8d6f0" stroke-width="0.6"/>
<circle cx="594.38" cy="632.42" r="2.1" fill="none" stroke="#a8d6f0" stroke-width="0.6"/>
<circle cx="595.21" cy="631.09" r="2.1" fill="none" stroke="#a8d6f0" stroke-width="0.6"/>
<circle cx="596.03" cy="631.87" r="2.1" fill="none" stroke="#a8d6f0" stroke-width="0.6"/>
<circle cx="596.86" cy="626.54" r="2.1" fill="none" stroke="#a8d6f0" stroke-width="0.6"/>
<circle cx="597.68" cy="634.55" r="2.1" fill="none" stroke="#a8d6f0" stroke-width="0.6"/>
<circle cx="598.50" cy="630.03" r="2.1" fill="none" stroke="#a8d6f0" stroke-width="0.6"/>
<circle cx="599.33" cy="633.64" r="2.1" fill="none" stroke="#a8d6f0" stroke-width="0.6"/>
<circle cx="600.15" cy="630.48" r="2.1" fill="none" stroke="#a8d6f0" stroke-width="0.6"/>
<circle cx="600.98" cy="626.89" r="2.1" fill="none" stroke="#a8d6f0" stroke-width="0.6"/>
<circle cx="601.80" cy="631.13" r="2.1" fill="none" stroke="#a8d6f0" stroke-width="0.6"/>
<circle cx="602.62" cy="627.10" r="2.1" fill="none" stroke="#a8d6f0" stroke-width="0.6"/>
<circle cx="603.45" cy="630.91" r="2.1" fill="none" stroke="#a8d6f0" stroke-width="0.6"/>
<circle cx="604.27" cy="629.54" r="2.1" fill="none" stroke="#a8d6f0" stroke-width="0.6"/>
<circle cx="605.10" cy="629.87" r="2.1" fill="none" stroke="#a8d6f0" stroke-width="0.6"/>
<circle cx="605.92" cy="632.27" r="2.1" fill="none" stroke="#a8d6f0" stroke-width="0.6"/>
<circle cx="606.74" cy="628.01" r="2.1" fill="none" stroke="#a8d6f0" stroke-width="0.6"/>
<circle cx="607.57" cy="627.26" r="2.1" fill="none" stroke="#a8d6f0" stroke-width="0.6"/>
<circle cx="608.39" cy="631.97" r="2.1" fill="none" stroke="#a8d6f0" stroke-width="0.6"/>
<circle cx="609.22" cy="627.15" r="2.1" fill="none" stroke="#a8d6f0" stroke-width="0.6"/>
<circle cx="610.04" cy="629.04" r="2.1" fill="none" stroke="#a8d6f0" stroke-width="0.6"/>
<circle cx="610.86" cy="630.79" r="2.1" fill="none" stroke="#a8d6f0" stroke-width="0.6"/>
<circle cx="611.69" cy="628.88" r="2.1" fill="none" stroke="#a8d6f0" stroke-width="0.6"/>
<circle cx="612.51" cy="626.70" r="2.1" fill="none" stroke="#a8d6f0" stroke-width="0.6"/>
<circle cx="613.34" cy="626.96" r="2.1" fill="none" stroke="#a8d6f0" stroke-width="0.6"/>
<circle cx="614.16" cy="624.54" r="2.1" fill="none" stroke="#a8d6f0" stroke-width="0.6"/>
<circle cx="614.98" cy="628.53" r="2.1" fill="none" stroke="#a8d6f0" stroke-width="0.6"/>
<circle cx="615.81" cy="628.68" r="2.1" fill="none" stroke="#a8d6f0" stroke-width="0.6"/>
<circle cx="616.63" cy="634.28" r="2.1" fill="none" stroke="#a8d6f0" stroke-width="0.6"/>
<circle cx="617.46" cy="631.15" r="2.1" fill="none" stroke="#a8d6f0" stroke-width="0.6"/>
<circle cx="618.28" cy="627.47" r="2.1" fill="none" stroke="#a8d6f0" stroke-width="0.6"/>
<circle cx="619.10" cy="633.01" r="2.1" fill="none" stroke="#a8d6f0" stroke-width="0.6"/>
<circle cx="619.93" cy="632.43" r="2.1" fill="none" stroke="#a8d6f0" stroke-width="0.6"/>
<circle cx="620.75" cy="623.44" r="2.1" fill="none" stroke="#a8d6f0" stroke-width="0.6"/>
<circle cx="621.58" cy="629.66" r="2.1" fill="none" stroke="#a8d6f0" stroke-width="0.6"/>
<circle cx="622.40" cy="633.00" r="2.1" fill="none" stroke="#a8d6f0" stroke-width="0.6"/>
<circle cx="623.22" cy="636.31" r="2.1" fill="none" stroke="#a8d6f0" stroke-width="0.6"/>
<circle cx="624.05" cy="632.24" r="2.1" fill="none" stroke="#a8d6f0" stroke-width="0.6"/>
<circle cx="624.87" cy="621.89" r="2.1" fill="none" stroke="#a8d6f0" stroke-width="0.6"/>
<circle cx="625.70" cy="629.46" r="2.1" fill="none" stroke="#a8d6f0" stroke-width="0.6"/>
<circle cx="626.52" cy="627.41" r="2.1" fill="none" stroke="#a8d6f0" stroke-width="0.6"/>
<circle cx="627.34" cy="627.22" r="2.1" fill="none" stroke="#a8d6f0" stroke-width="0.6"/>
<circle cx="628.17" cy="630.98" r="2.1" fill="none" stroke="#a8d6f0" stroke-width="0.6"/>
<circle cx="628.99" cy="628.27" r="2.1" fill="none" stroke="#a8d6f0" stroke-width="0.6"/>
<circle cx="629.82" cy="629.25" r="2.1" fill="none" stroke="#a8d6f0" stroke-width="0.6"/>
<circle cx="630.64" cy="630.48" r="2.1" fill="none" stroke="#a8d6f0" stroke-width="0.6"/>
<circle cx="631.46" cy="626.09" r="2.1" fill="none" stroke="#a8d6f0" stroke-width="0.6"/>
<circle cx="632.29" cy="632.12" r="2.1" fill="none" stroke="#a8d6f0" stroke-width="0.6"/>
<circle cx="633.11" cy="631.86" r="2.1" fill="none" stroke="#a8d6f0" stroke-width="0.6"/>
<circle cx="633.94" cy="631.52" r="2.1" fill="none" stroke="#a8d6f0" stroke-width="0.6"/>
<circle cx="634.76" cy="625.44" r="2.1" fill="none" stroke="#a8d6f0" stroke-width="0.6"/>
<circle cx="635.58" cy="630.98" r="2.1" fill="none" stroke="#a8d6f0" stroke-width="0.6"/>
<circle cx="636.41" cy="623.54" r="2.1" fill="none" stroke="#a8d6f0" stroke-width="0.6"/>
<circle cx="637.23" cy="633.75" r="2.1" fill="none" stroke="#a8d6f0" stroke-width="0.6"/>
<circle cx="638.06" cy="632.62" r="2.1" fill="none" stroke="#a8d6f0" stroke-width="0.6"/>
<circle cx="638.88" cy="637.95" r="2.1" fill="none" stroke="#a8d6f0" stroke-width="0.6"/>
<circle cx="639.70" cy="632.41" r="2.1" fill="none" stroke="#a8d6f0" stroke-width="0.6"/>
<circle cx="640.53" cy="629.14" r="2.1" fill="none" stroke="#a8d6f0" stroke-width="0.6"/>
<circle cx="641.35" cy="627.14" r="2.1" fill="none" stroke="#a8d6f0" stroke-width="0.6"/>
<circle cx="642.18" cy="632.62" r="2.1" fill="none" stroke="#a8d6f0" stroke-width="0.6"/>
<circle cx="643.00" cy="631.10" r="2.1" fill="none" stroke="#a8d6f0" stroke-width="0.6"/>
<circle cx="399.10" cy="627.62" r="2.1" fill="none" stroke="#e6a8ea" stroke-width="0.6"/>
<circle cx="399.92" cy="624.63" r="2.1" fill="none" stroke="#e6a8ea" stroke-width="0.6"/>
<circle cx="400.74" cy="621.87" r="2.1" fill="none" stroke="#e6a8ea" stroke-width="0.6"/>
<circle cx="401.57" cy="621.25" r="2.1" fill="none" stroke="#e6a8ea" stroke-width="0.6"/>
<circle cx="402.39" cy="622.16" r="2.1" fill="none" stroke="#e6a8ea" stroke-width="0.6"/>
<circle cx="403.22" cy="625.08" r="2.1" fill="none" stroke="#e6a8ea" stroke-width="0.6"/>
<circle cx="404.04" cy="624.35" r="2.1" fill="none" stroke="#e6a8ea" stroke-width="0.6"/>
<circle cx="404.86" cy="625.83" r="2.1" fill="none" stroke="#e6a8ea" stroke-width="0.6"/>
<circle cx="405.69" cy="628.56" r="2.1" fill="none" stroke="#e6a8ea" stroke-width="0.6"/>
<circle cx="406.51" cy="626.39" r="2.1" fill="none" stroke="#e6a8ea" stroke-width="0.6"/>
<circle cx="407.34" cy="622.77" r="2.1" fill="none" stroke="#e6a8ea" stroke-width="0.6"/>
<circle cx="408.16" cy="624.56" r="2.1" fill="none" stroke="#e6a8ea" stroke-width="0.6"/>
<circle cx="408.98" cy="626.01" r="2.1" fill="none" stroke="#e6a8ea" stroke-width="0.6"/>
<circle cx="409.81" cy="627.91" r="2.1" fill="none" stroke="#e6a8ea" stroke-width="0.6"/>
<circle cx="410.63" cy="625.44" r="2.1" fill="none" stroke="#e6a8ea" stroke-width="0.6"/>
<circle cx="411.46" cy="626.69" r="2.1" fill="none" stroke="#e6a8ea" stroke-width="0.6"/>
<circle cx="412.28" cy="625.11" r="2.1" fill="none" stroke="#e6a8ea" stroke-width="0.6"/>
<circle cx="413.10" cy="623.95" r="2.1" fill="none" stroke="#e6a8ea" stroke-width="0.6"/>
<circle cx="413.93" cy="631.04" r="2.1" fill="none" stroke="#e6a8ea" stroke-width="0.6"/>
<circle cx="414.75" cy="625.43" r="2.1" fill="none" stroke="#e6a8ea" stroke-width="0.6"/>
<circle cx="415.58" cy="628.95" r="2.1" fill="none" stroke="#e6a8ea" stroke-width="0.6"/>
<circle cx="416.40" cy="627.59" r="2.1" fill="none" stroke="#e6a8ea" stroke-width="0.6"/>
<circle cx="417.22" cy="628.38" r="2.1" fill="none" stroke="#e6a8ea" stroke-width="0.6"/>
<circle cx="418.05" cy="622.35" r="2.1" fill="none" stroke="#e6a8ea" stroke-width="0.6"/>
<circle cx="418.87" cy="623.48" r="2.1" fill="none" stroke="#e6a8ea" stroke-width="0.6"/>
<circle cx="419.70" cy="623.93" r="2.1" fill="none" stroke="#e6a8ea" stroke-width="0.6"/>
<circle cx="420.52" cy="627.10" r="2.1" fill="none" stroke="#e6a8ea" stroke-width="0.6"/>
<circle cx="421.34" cy="628.88" r="2.1" fill="none" stroke="#e6a8ea" stroke-width="0.6"/>
<circle cx="422.17" cy="626.17" r="2.1" fill="none" stroke="#e6a8ea" stroke-width="0.6"/>
<circle cx="422.99" cy="624.68" r="2.1" fill="none" stroke="#e6a8ea" stroke-width="0.6"/>
<circle cx="423.82" cy="625.39" r="2.1" fill="none" stroke="#e6a8ea" stroke-width="0.6"/>
<circle cx="424.64" cy="623.44" r="2.1" fill="none" stroke="#e6a8ea" stroke-width="0.6"/>
<circle cx="425.46" cy="626.11" r="2.1" fill="none" stroke="#e6a8ea" stroke-width="0.6"/>
<circle cx="426.29" cy="620.60" r="2.1" fill="none" stroke="#e6a8ea" stroke-width="0.6"/>
<circle cx="427.11" cy="623.52" r="2.1" fill="none" stroke="#e6a8ea" stroke-width="0.6"/>
<circle cx="427.94" cy="620.10" r="2.1" fill="none" stroke="#e6a8ea" stroke-width="0.6"/>
<circle cx="428.76" cy="624.57" r="2.1" fill="none" stroke="#e6a8ea" stroke-width="0.6"/>
<circle cx="429.58" cy="625.79" r="2.1" fill="none" stroke="#e6a8ea" stroke-width="0.6"/>
<circle cx="430.41" cy="627.37" r="2.1" fill="none" stroke="#e6a8ea" stroke-width="0.6"/>
<circle cx="431.23" cy="623.13" r="2.1" fill="none" stroke="#e6a8ea" stroke-width="0.6"/>
<circle cx="432.06" cy="622.52" r="2.1" fill="none" stroke="#e6a8ea" stroke-width="0.6"/>
<circle cx="432.88" cy="624.80" r="2.1" fill="none" stroke="#e6a8ea" stroke-width="0.6"/>
<circle cx="433.70" cy="624.16" r="2.1" fill="none" stroke="#e6a8ea" stroke-width="0.6"/>
<circle cx="434.53" cy="625.90" r="2.1" fill="none" stroke="#e6a8ea" stroke-width="0.6"/>
<circle cx="435.35" cy="626.27" r="2.1" fill="none" stroke="#e6a8ea" stroke-width="0.6"/>
<circle cx="436.18" cy="625.95" r="2.1" fill="none" stroke="#e6a8ea" stroke-width="0.6"/>
<circle cx="437.00" cy="630.02" r="2.1" fill="none" stroke="#e6a8ea" stroke-width="0.6"/>
<circle cx="437.82" cy="627.80" r="2.1" fill="none" stroke="#e6a8ea" stroke-width="0.6"/>
<circle cx="438.65" cy="625.10" r="2.1" fill="none" stroke="#e6a8ea" stroke-width="0.6"/>
<circle cx="439.47" cy="624.88" r="2.1" fill="none" stroke="#e6a8ea" stroke-width="0.6"/>
<circle cx="440.30" cy="622.42" r="2.1" fill="none" stroke="#e6a8ea" stroke-width="0.6"/>
<circle cx="441.12" cy="623.59" r="2.1" fill="none" stroke="#e6a8ea" stroke-width="0.6"/>
<circle cx="441.94" cy="624.12" r="2.1" fill="none" stroke="#e6a8ea" stroke-width="0.6"/>
<circle cx="442.77" cy="625.08" r="2.1" fill="none" stroke="#e6a8ea" stroke-width="0.6"/>
<circle cx="443.59" cy="631.00" r="2.1" fill="none" stroke="#e6a8ea" stroke-width="0.6"/>
<circle cx="444.42" cy="625.08" r="2.1" fill="none" stroke="#e6a8ea" stroke-width="0.6"/>
<circle cx="445.24" cy="627.48" r="2.1" fill="none" stroke="#e6a8ea" stroke-width="0.6"/>
<circle cx="446.06" cy="623.95" r="2.1" fill="none" stroke="#e6a8ea" stroke-width="0.6"/>
<circle cx="446.89" cy="625.93" r="2.1" fill="none" stroke="#e6a8ea" stroke-width="0.6"/>
<circle cx="447.71" cy="626.07" r="2.1" fill="none" stroke="#e6a8ea" stroke-width="0.6"/>
<circle cx="448.54" cy="626.59" r="2.1" fill="none" stroke="#e6a8ea" stroke-width="0.6"/>
<circle cx="449.36" cy="625.96" r="2.1" fill="none" stroke="#e6a8ea" stroke-width="0.6"/>
<circle cx="450.18" cy="630.23" r="2.1" fill="none" stroke="#e6a8ea" stroke-width="0.6"/>
<circle cx="451.01" cy="629.30" r="2.1" fill="none" stroke="#e6a8ea" stroke-width="0.6"/>
<circle cx="451.83" cy="622.11" r="2.1" fill="none" stroke="#e6a8ea" stroke-width="0.6"/>
<circle cx="452.66" cy="624.11" r="2.1" fill="none" stroke="#e6a8ea" stroke-width="0.6"/>
<circle cx="453.48" cy="626.35" r="2.1" fill="none" stroke="#e6a8ea" stroke-width="0.6"/>
<circle cx="454.30" cy="626.11" r="2.1" fill="none" stroke="#e6a8ea" stroke-width="0.6"/>
<circle cx="455.13" cy="626.16" r="2.1" fill="none" stroke="#e6a8ea" stroke-width="0.6"/>
<circle cx="455.95" cy="616.89" r="2.1" fill="none" stroke="#e6a8ea" stroke-width="0.6"/>
<circle cx="456.78" cy="623.89" r="2.1" fill="none" stroke="#e6a8ea" stroke-width="0.6"/>
<circle cx="457.60" cy="625.22" r="2.1" fill="none" stroke="#e6a8ea" stroke-width="0.6"/>
<circle cx="458.42" cy="626.95" r="2.1" fill="none" stroke="#e6a8ea" stroke-width="0.6"/>
<circle cx="459.25" cy="631.28" r="2.1" fill="none" stroke="#e6a8ea" stroke-width="0.6"/>
<circle cx="460.07" cy="624.91" r="2.1" fill="none" stroke="#e6a8ea" stroke-width="0.6"/>
<circle cx="460.90" cy="621.67" r="2.1" fill="none" stroke="#e6a8ea" stroke-width="0.6"/>
<circle cx="461.72" cy="622.83" r="2.1" fill="none" stroke="#e6a8ea" stroke-width="0.6"/>
<circle cx="462.54" cy="624.54" r="2.1" fill="none" stroke="#e6a8ea" stroke-width="0.6"/>
<circle cx="463.37" cy="626.78" r="2.1" fill="none" stroke="#e6a8ea" stroke-width="0.6"/>
<circle cx="464.19" cy="628.26" r="2.1" fill="none" stroke="#e6a8ea" stroke-width="0.6"/>
<circle cx="465.02" cy="625.03" r="2.1" fill="none" stroke="#e6a8ea" stroke-width="0.6"/>
<circle cx="465.84" cy="626.28" r="2.1" fill="none" stroke="#e6a8ea" stroke-width="0.6"/>
<circle cx="466.66" cy="628.15" r="2.1" fill="none" stroke="#e6a8ea" stroke-width="0.6"/>
<circle cx="467.49" cy="620.98" r="2.1" fill="none" stroke="#e6a8ea" stroke-width="0.6"/>
<circle cx="468.31" cy="627.64" r="2.1" fill="none" stroke="#e6a8ea" stroke-width="0.6"/>
<circle cx="469.14" cy="626.62" r="2.1" fill="none" stroke="#e6a8ea" stroke-width="0.6"/>
<circle cx="469.96" cy="631.35" r="2.1" fill="none" stroke="#e6a8ea" stroke-width="0.6"/>
<circle cx="470.78" cy="620.86" r="2.1" fill="none" stroke="#e6a8ea" stroke-width="0.6"/>
<circle cx="471.61" cy="625.64" r="2.1" fill="none" stroke="#e6a8ea" stroke-width="0.6"/>
<circle cx="472.43" cy="625.42" r="2.1" fill="none" stroke="#e6a8ea" stroke-width="0.6"/>
<circle cx="473.26" cy="624.50" r="2.1" fill="none" stroke="#e6a8ea" stroke-width="0.6"/>
<circle cx="474.08" cy="627.39" r="2.1" fill="none" stroke="#e6a8ea" stroke-width="0.6"/>
<circle cx="474.90" cy="626.83" r="2.1" fill="none" stroke="#e6a8ea" stroke-width="0.6"/>
<circle cx="475.73" cy="624.48" r="2.1" fill="none" stroke="#e6a8ea" stroke-width="0.6"/>
<circle cx="476.55" cy="627.34" r="2.1" fill="none" stroke="#e6a8ea" stroke-width="0.6"/>
<circle cx="477.38" cy="624.41" r="2.1" fill="none" stroke="#e6a8ea" stroke-width="0.6"/>
<circle cx="478.20" cy="622.12" r="2.1" fill="none" stroke="#e6a8ea" stroke-width="0.6"/>
<circle cx="479.02" cy="623.28" r="2.1" fill="none" stroke="#e6a8ea" stroke-width="0.6"/>
<circle cx="479.85" cy="621.60" r="2.1" fill="none" stroke="#e6a8ea" stroke-width="0.6"/>
<circle cx="480.67" cy="622.48" r="2.1" fill="none" stroke="#e6a8ea" stroke-width="0.6"/>
<circle cx="481.50" cy="620.77" r="2.1" fill="none" stroke="#e6a8ea" stroke-width="0.6"/>
<circle cx="482.32" cy="624.49" r="2.1" fill="none" stroke="#e6a8ea" stroke-width="0.6"/>
<circle cx="483.14" cy="624.13" r="2.1" fill="none" stroke="#e6a8ea" stroke-width="0.6"/>
<circle cx="483.97" cy="628.03" r="2.1" fill="none" stroke="#e6a8ea" stroke-width="0.6"/>
<circle cx="484.79" cy="625.69" r="2.1" fill="none" stroke="#e6a8ea" stroke-width="0.6"/>
<circle cx="485.62" cy="627.08" r="2.1" fill="none" stroke="#e6a8ea" stroke-width="0.6"/>
<circle cx="486.44" cy="625.41" r="2.1" fill="none" stroke="#e6a8ea" stroke-width="0.6"/>
<circle cx="487.26" cy="627.90" r="2.1" fill="none" stroke="#e6a8ea" stroke-width="0.6"/>
<circle cx="488.09" cy="624.41" r="2.1" fill="none" stroke="#e6a8ea" stroke-width="0.6"/>
<circle cx="488.91" cy="618.60" r="2.1" fill="none" stroke="#e6a8ea" stroke-width="0.6"/>
<circle cx="489.74" cy="627.22" r="2.1" fill="none" stroke="#e6a8ea" stroke-width="0.6"/>
<circle cx="490.56" cy="623.75" r="2.1" fill="none" stroke="#e6a8ea" stroke-width="0.6"/>
<circle cx="491.38" cy="623.62" r="2.1" fill="none" stroke="#e6a8ea" stroke-width="0.6"/>
<circle cx="492.21" cy="627.11" r="2.1" fill="none" stroke="#e6a8ea" stroke-width="0.6"/>
<circle cx="493.03" cy="625.98" r="2.1" fill="none" stroke="#e6a8ea" stroke-width="0.6"/>
<circle cx="493.86" cy="626.57" r="2.1" fill="none" stroke="#e6a8ea" stroke-width="0.6"/>
<circle cx="494.68" cy="624.10" r="2.1" fill="none" stroke="#e6a8ea" stroke-width="0.6"/>
<circle cx="495.50" cy="626.86" r="2.1" fill="none" stroke="#e6a8ea" stroke-width="0.6"/>
<circle cx="496.33" cy="618.54" r="2.1" fill="none" stroke="#e6a8ea" stroke-width="0.6"/>
<circle cx="497.15" cy="623.01" r="2.1" fill="none" stroke="#e6a8ea" stroke-width="0.6"/>
<circle cx="497.98" cy="622.29" r="2.1" fill="none" stroke="#e6a8ea" stroke-width="0.6"/>
<circle cx="498.80" cy="619.69" r="2.1" fill="none" stroke="#e6a8ea" stroke-width="0.6"/>
<circle cx="499.62" cy="621.69" r="2.1" fill="none" stroke="#e6a8ea" stroke-width="0.6"/>
<circle cx="500.45" cy="625.51" r="2.1" fill="none" stroke="#e6a8ea" stroke-width="0.6"/>
<circle cx="501.27" cy="624.29" r="2.1" fill="none" stroke="#e6a8ea" stroke-width="0.6"/>
<circle cx="502.10" cy="625.13" r="2.1" fill="none" stroke="#e6a8ea" stroke-width="0.6"/>
<circle cx="502.92" cy="624.54" r="2.1" fill="none" stroke="#e6a8ea" stroke-width="0.6"/>
<circle cx="503.74" cy="622.73" r="2.1" fill="none" stroke="#e6a8ea" stroke-width="0.6"/>
<circle cx="504.57" cy="630.33" r="2.1" fill="none" stroke="#e6a8ea" stroke-width="0.6"/>
<circle cx="505.39" cy="629.53" r="2.1" fill="none" stroke="#e6a8ea" stroke-width="0.6"/>
<circle cx="506.22" cy="626.07" r="2.1" fill="none" stroke="#e6a8ea" stroke-width="0.6"/>
<circle cx="507.04" cy="624.08" r="2.1" fill="none" stroke="#e6a8ea" stroke-width="0.6"/>
<circle cx="507.86" cy="626.50" r="2.1" fill="none" stroke="#e6a8ea" stroke-width="0.6"/>
<circle cx="508.69" cy="625.73" r="2.1" fill="none" stroke="#e6a8ea" stroke-width="0.6"/>
<circle cx="509.51" cy="622.39" r="2.1" fill="none" stroke="#e6a8ea" stroke-width="0.6"/>
<circle cx="510.34" cy="623.50" r="2.1" fill="none" stroke="#e6a8ea" stroke-width="0.6"/>
<circle cx="511.16" cy="625.52" r="2.1" fill="none" stroke="#e6a8ea" stroke-width="0.6"/>
<circle cx="511.98" cy="626.09" r="2.1" fill="none" stroke="#e6a8ea" stroke-width="0.6"/>
<circle cx="512.81" cy="629.03" r="2.1" fill="none" stroke="#e6a8ea" stroke-width="0.6"/>
<circle cx="513.63" cy="623.99" r="2.1" fill="none" stroke="#e6a8ea" stroke-width="0.6"/>
<circle cx="514.46" cy="624.97" r="2.1" fill="none" stroke="#e6a8ea" stroke-width="0.6"/>
<circle cx="515.28" cy="627.72" r="2.1" fill="none" stroke="#e6a8ea" stroke-width="0.6"/>
<circle cx="516.10" cy="624.01" r="2.1" fill="none" stroke="#e6a8ea" stroke-width="0.6"/>
<circle cx="516.93" cy="626.22" r="2.1" fill="none" stroke="#e6a8ea" stroke-width="0.6"/>
<circle cx="517.75" cy="626.15" r="2.1" fill="none" stroke="#e6a8ea" stroke-width="0.6"/>
<circle cx="518.58" cy="629.52" r="2.1" fill="none" stroke="#e6a8ea" stroke-width="0.6"/>
<circle cx="519.40" cy="623.00" r="2.1" fill="none" stroke="#e6a8ea" stroke-width="0.6"/>
<circle cx="520.22" cy="627.26" r="2.1" fill="none" stroke="#e6a8ea" stroke-width="0.6"/>
<circle cx="521.05" cy="624.54" r="2.1" fill="none" stroke="#e6a8ea" stroke-width="0.6"/>
<circle cx="521.87" cy="624.73" r="2.1" fill="none" stroke="#e6a8ea" stroke-width="0.6"/>
<circle cx="522.70" cy="626.76" r="2.1" fill="none" stroke="#e6a8ea" stroke-width="0.6"/>
<circle cx="523.52" cy="625.49" r="2.1" fill="none" stroke="#e6a8ea" stroke-width="0.6"/>
<circle cx="524.34" cy="625.94" r="2.1" fill="none" stroke="#e6a8ea" stroke-width="0.6"/>
<circle cx="525.17" cy="625.99" r="2.1" fill="none" stroke="#e6a8ea" stroke-width="0.6"/>
<circle cx="525.99" cy="624.86" r="2.1" fill="none" stroke="#e6a8ea" stroke-width="0.6"/>
<circle cx="526.82" cy="626.99" r="2.1" fill="none" stroke="#e6a8ea" stroke-width="0.6"/>
<circle cx="527.64" cy="623.60" r="2.1" fill="none" stroke="#e6a8ea" stroke-width="0.6"/>
<circle cx="528.46" cy="625.07" r="2.1" fill="none" stroke="#e6a8ea" stroke-width="0.6"/>
<circle cx="529.29" cy="628.38" r="2.1" fill="none" stroke="#e6a8ea" stroke-width="0.6"/>
<circle cx="530.11" cy="624.31" r="2.1" fill="none" stroke="#e6a8ea" stroke-width="0.6"/>
<circle cx="530.94" cy="626.41" r="2.1" fill="none" stroke="#e6a8ea" stroke-width="0.6"/>
<circle cx="531.76" cy="624.17" r="2.1" fill="none" stroke="#e6a8ea" stroke-width="0.6"/>
<circle cx="532.58" cy="631.39" r="2.1" fill="none" stroke="#e6a8ea" stroke-width="0.6"/>
<circle cx="533.41" cy="624.50" r="2.1" fill="none" stroke="#e6a8ea" stroke-width="0.6"/>
<circle cx="534.23" cy="631.18" r="2.1" fill="none" stroke="#e6a8ea" stroke-width="0.6"/>
<circle cx="535.06" cy="626.55" r="2.1" fill="none" stroke="#e6a8ea" stroke-width="0.6"/>
<circle cx="535.88" cy="617.20" r="2.1" fill="none" stroke="#e6a8ea" stroke-width="0.6"/>
<circle cx="536.70" cy="623.74" r="2.1" fill="none" stroke="#e6a8ea" stroke-width="0.6"/>
<circle cx="537.53" cy="622.72" r="2.1" fill="none" stroke="#e6a8ea" stroke-width="0.6"/>
<circle cx="538.35" cy="627.27" r="2.1" fill="none" stroke="#e6a8ea" stroke-width="0.6"/>
<circle cx="539.18" cy="628.36" r="2.1" fill="none" stroke="#e6a8ea" stroke-width="0.6"/>
<circle cx="540.00" cy="625.67" r="2.1" fill="none" stroke="#e6a8ea" stroke-width="0.6"/>
<circle cx="540.82" cy="624.40" r="2.1" fill="none" stroke="#e6a8ea" stroke-width="0.6"/>
<circle cx="541.65" cy="625.71" r="2.1" fill="none" stroke="#e6a8ea" stroke-width="0.6"/>
<circle cx="542.47" cy="627.21" r="2.1" fill="none" stroke="#e6a8ea" stroke-width="0.6"/>
<circle cx="543.30" cy="627.72" r="2.1" fill="none" stroke="#e6a8ea" stroke-width="0.6"/>
<circle cx="544.12" cy="626.49" r="2.1" fill="none" stroke="#e6a8ea" stroke-width="0.6"/>
<circle cx="544.94" cy="621.27" r="2.1" fill="none" stroke="#e6a8ea" stroke-width="0.6"/>
<circle cx="545.77" cy="625.42" r="2.1" fill="none" stroke="#e6a8ea" stroke-width="0.6"/>
<circle cx="546.59" cy="626.38" r="2.1" fill="none" stroke="#e6a8ea" stroke-width="0.6"/>
<circle cx="547.42" cy="626.08" r="2.1" fill="none" stroke="#e6a8ea" stroke-width="0.6"/>
<circle cx="548.24" cy="627.89" r="2.1" fill="none" stroke="#e6a8ea" stroke-width="0.6"/>
<circle cx="549.06" cy="628.86" r="2.1" fill="none" stroke="#e6a8ea" stroke-width="0.6"/>
<circle cx="549.89" cy="624.97" r="2.1" fill="none" stroke="#e6a8ea" stroke-width="0.6"/>
<circle cx="550.71" cy="621.89" r="2.1" fill="none" stroke="#e6a8ea" stroke-width="0.6"/>
<circle cx="551.54" cy="624.06" r="2.1" fill="none" stroke="#e6a8ea" stroke-width="0.6"/>
<circle cx="552.36" cy="628.90" r="2.1" fill="none" stroke="#e6a8ea" stroke-width="0.6"/>
<circle cx="553.18" cy="621.41" r="2.1" fill="none" stroke="#e6a8ea" stroke-width="0.6"/>
<circle cx="554.01" cy="624.63" r="2.1" fill="none" stroke="#e6a8ea" stroke-width="0.6"/>
<circle cx="554.83" cy="620.44" r="2.1" fill="none" stroke="#e6a8ea" stroke-width="0.6"/>
<circle cx="555.66" cy="625.66" r="2.1" fill="none" stroke="#e6a8ea" stroke-width="0.6"/>
<circle cx="556.48" cy="628.78" r="2.1" fill="none" stroke="#e6a8ea" stroke-width="0.6"/>
<circle cx="557.30" cy="624.70" r="2.1" fill="none" stroke="#e6a8ea" stroke-width="0.6"/>
<circle cx="558.13" cy="625.69" r="2.1" fill="none" stroke="#e6a8ea" stroke-width="0.6"/>
<circle cx="558.95" cy="628.11" r="2.1" fill="none" stroke="#e6a8ea" stroke-width="0.6"/>
<circle cx="559.78" cy="627.23" r="2.1" fill="none" stroke="#e6a8ea" stroke-width="0.6"/>
<circle cx="560.60" cy="626.35" r="2.1" fill="none" stroke="#e6a8ea" stroke-width="0.6"/>
<circle cx="561.42" cy="627.57" r="2.1" fill="none" stroke="#e6a8ea" stroke-width="0.6"/>
<circle cx="562.25" cy="623.69" r="2.1" fill="none" stroke="#e6a8ea" stroke-width="0.6"/>
<circle cx="563.07" cy="624.50" r="2.1" fill="none" stroke="#e6a8ea" stroke-width="0.6"/>
<circle cx="563.90" cy="626.47" r="2.1" fill="none" stroke="#e6a8ea" stroke-width="0.6"/>
<circle cx="564.72" cy="626.22" r="2.1" fill="none" stroke="#e6a8ea" stroke-width="0.6"/>
<circle cx="565.54" cy="622.99" r="2.1" fill="none" stroke="#e6a8ea" stroke-width="0.6"/>
<circle cx="566.37" cy="624.24" r="2.1" fill="none" stroke="#e6a8ea" stroke-width="0.6"/>
<circle cx="567.19" cy="628.33" r="2.1" fill="none" stroke="#e6a8ea" stroke-width="0.6"/>
<circle cx="568.02" cy="624.61" r="2.1" fill="none" stroke="#e6a8ea" stroke-width="0.6"/>
<circle cx="568.84" cy="620.81" r="2.1" fill="none" stroke="#e6a8ea" stroke-width="0.6"/>
<circle cx="569.66" cy="624.48" r="2.1" fill="none" stroke="#e6a8ea" stroke-width="0.6"/>
<circle cx="570.49" cy="627.46" r="2.1" fill="none" stroke="#e6a8ea" stroke-width="0.6"/>
<circle cx="571.31" cy="621.31" r="2.1" fill="none" stroke="#e6a8ea" stroke-width="0.6"/>
<circle cx="572.14" cy="618.82" r="2.1" fill="none" stroke="#e6a8ea" stroke-width="0.6"/>
<circle cx="572.96" cy="624.86" r="2.1" fill="none" stroke="#e6a8ea" stroke-width="0.6"/>
<circle cx="573.78" cy="631.15" r="2.1" fill="none" stroke="#e6a8ea" stroke-width="0.6"/>
<circle cx="574.61" cy="628.99" r="2.1" fill="none" stroke="#e6a8ea" stroke-width="0.6"/>
<circle cx="575.43" cy="620.35" r="2.1" fill="none" stroke="#e6a8ea" stroke-width="0.6"/>
<circle cx="576.26" cy="625.62" r="2.1" fill="none" stroke="#e6a8ea" stroke-width="0.6"/>
<circle cx="577.08" cy="623.33" r="2.1" fill="none" stroke="#e6a8ea" stroke-width="0.6"/>
<circle cx="577.90" cy="623.72" r="2.1" fill="none" stroke="#e6a8ea" stroke-width="0.6"/>
<circle cx="578.73" cy="624.67" r="2.1" fill="none" stroke="#e6a8ea" stroke-width="0.6"/>
<circle cx="579.55" cy="620.75" r="2.1" fill="none" stroke="#e6a8ea" stroke-width="0.6"/>
<circle cx="580.38" cy="624.55" r="2.1" fill="none" stroke="#e6a8ea" stroke-width="0.6"/>
<circle cx="581.20" cy="623.50" r="2.1" fill="none" stroke="#e6a8ea" stroke-width="0.6"/>
<circle cx="582.02" cy="624.20" r="2.1" fill="none" stroke="#e6a8ea" stroke-width="0.6"/>
<circle cx="582.85" cy="624.37" r="2.1" fill="none" stroke="#e6a8ea" stroke-width="0.6"/>
<circle cx="583.67" cy="618.68" r="2.1" fill="none" stroke="#e6a8ea" stroke-width="0.6"/>
<circle cx="584.50" cy="627.87" r="2.1" fill="none" stroke="#e6a8ea" stroke-width="0.6"/>
<circle cx="585.32" cy="628.15" r="2.1" fill="none" stroke="#e6a8ea" stroke-width="0.6"/>
<circle cx="586.14" cy="622.16" r="2.1" fill="none" stroke="#e6a8ea" stroke-width="0.6"/>
<circle cx="586.97" cy="628.26" r="2.1" fill="none" stroke="#e6a8ea" stroke-width="0.6"/>
<circle cx="587.79" cy="624.57" r="2.1" fill="none" stroke="#e6a8ea" stroke-width="0.6"/>
<circle cx="588.62" cy="627.69" r="2.1" fill="none" stroke="#e6a8ea" stroke-width="0.6"/>
<circle cx="589.44" cy="622.53" r="2.1" fill="none" stroke="#e6a8ea" stroke-width="0.6"/>
<circle cx="590.26" cy="625.03" r="2.1" fill="none" stroke="#e6a8ea" stroke-width="0.6"/>
<circle cx="591.09" cy="623.22" r="2.1" fill="none" stroke="#e6a8ea" stroke-width="0.6"/>
<circle cx="591.91" cy="626.90" r="2.1" fill="none" stroke="#e6a8ea" stroke-width="0.6"/>
<circle cx="592.74" cy="625.39" r="2.1" fill="none" stroke="#e6a8ea" stroke-width="0.6"/>
<circle cx="593.56" cy="630.94" r="2.1" fill="none" stroke="#e6a8ea" stroke-width="0.6"/>
<circle cx="594.38" cy="622.90" r="2.1" fill="none" stroke="#e6a8ea" stroke-width="0.6"/>
<circle cx="595.21" cy="624.01" r="2.1" fill="none" stroke="#e6a8ea" stroke-width="0.6"/>
<circle cx="596.03" cy="625.03" r="2.1" fill="none" stroke="#e6a8ea" stroke-width="0.6"/>
<circle cx="596.86" cy="624.93" r="2.1" fill="none" stroke="#e6a8ea" stroke-width="0.6"/>
<circle cx="597.68" cy="626.05" r="2.1" fill="none" stroke="#e6a8ea" stroke-width="0.6"/>
<circle cx="598.50" cy="625.24" r="2.1" fill="none" stroke="#e6a8ea" stroke-width="0.6"/>
<circle cx="599.33" cy="620.17" r="2.1" fill="none" stroke="#e6a8ea" stroke-width="0.6"/>
<circle cx="600.15" cy="626.64" r="2.1" fill="none" stroke="#e6a8ea" stroke-width="0.6"/>
<circle cx="600.98" cy="626.32" r="2.1" fill="none" stroke="#e6a8ea" stroke-width="0.6"/>
<circle cx="601.80" cy="623.27" r="2.1" fill="none" stroke="#e6a8ea" stroke-width="0.6"/>
<circle cx="602.62" cy="624.46" r="2.1" fill="none" stroke="#e6a8ea" stroke-width="0.6"/>
<circle cx="603.45" cy="626.63" r="2.1" fill="none" stroke="#e6a8ea" stroke-width="0.6"/>
<circle cx="604.27" cy="620.80" r="2.1" fill="none" stroke="#e6a8ea" stroke-width="0.6"/>
<circle cx="605.10" cy="620.73" r="2.1" fill="none" stroke="#e6a8ea" stroke-width="0.6"/>
<circle cx="605.92" cy="625.89" r="2.1" fill="none" stroke="#e6a8ea" stroke-width="0.6"/>
<circle cx="606.74" cy="620.35" r="2.1" fill="none" stroke="#e6a8ea" stroke-width="0.6"/>
<circle cx="607.57" cy="628.65" r="2.1" fill="none" stroke="#e6a8ea" stroke-width="0.6"/>
<circle cx="608.39" cy="621.07" r="2.1" fill="none" stroke="#e6a8ea" stroke-width="0.6"/>
<circle cx="609.22" cy="629.25" r="2.1" fill="none" stroke="#e6a8ea" stroke-width="0.6"/>
<circle cx="610.04" cy="624.08" r="2.1" fill="none" stroke="#e6a8ea" stroke-width="0.6"/>
<circle cx="610.86" cy="625.43" r="2.1" fill="none" stroke="#e6a8ea" stroke-width="0.6"/>
<circle cx="611.69" cy="626.00" r="2.1" fill="none" stroke="#e6a8ea" stroke-width="0.6"/>
<circle cx="612.51" cy="623.43" r="2.1" fill="none" stroke="#e6a8ea" stroke-width="0.6"/>
<circle cx="613.34" cy="627.58" r="2.1" fill="none" stroke="#e6a8ea" stroke-width="0.6"/>
<circle cx="614.16" cy="627.02" r="2.1" fill="none" stroke="#e6a8ea" stroke-width="0.6"/>
<circle cx="614.98" cy="628.01" r="2.1" fill="none" stroke="#e6a8ea" stroke-width="0.6"/>
<circle cx="615.81" cy="621.18" r="2.1" fill="none" stroke="#e6a8ea" stroke-width="0.6"/>
<circle cx="616.63" cy="626.62" r="2.1" fill="none" stroke="#e6a8ea" stroke-width="0.6"/>
<circle cx="617.46" cy="624.16" r="2.1" fill="none" stroke="#e6a8ea" stroke-width="0.6"/>
<circle cx="618.28" cy="625.67" r="2.1" fill="none" stroke="#e6a8ea" stroke-width="0.6"/>
<circle cx="619.10" cy="622.37" r="2.1" fill="none" stroke="#e6a8ea" stroke-width="0.6"/>
<circle cx="619.93" cy="627.77" r="2.1" fill="none" stroke="#e6a8ea" stroke-width="0.6"/>
<circle cx="620.75" cy="627.34" r="2.1" fill="none" stroke="#e6a8ea" stroke-width="0.6"/>
<circle cx="621.58" cy="626.74" r="2.1" fill="none" stroke="#e6a8ea" stroke-width="0.6"/>
<circle cx="622.40" cy="624.59" r="2.1" fill="none" stroke="#e6a8ea" stroke-width="0.6"/>
<circle cx="623.22" cy="627.07" r="2.1" fill="none" stroke="#e6a8ea" stroke-width="0.6"/>
<circle cx="624.05" cy="623.88" r="2.1" fill="none" stroke="#e6a8ea" stroke-width="0.6"/>
<circle cx="624.87" cy="623.66" r="2.1" fill="none" stroke="#e6a8ea" stroke-width="0.6"/>
<circle cx="625.70" cy="622.37" r="2.1" fill="none" stroke="#e6a8ea" stroke-width="0.6"/>
<circle cx="626.52" cy="623.67" r="2.1" fill="none" stroke="#e6a8ea" stroke-width="0.6"/>
<circle cx="627.34" cy="621.44" r="2.1" fill="none" stroke="#e6a8ea" stroke-width="0.6"/>
<circle cx="628.17" cy="625.96" r="2.1" fill="none" stroke="#e6a8ea" stroke-width="0.6"/>
<circle cx="628.99" cy="626.38" r="2.1" fill="none" stroke="#e6a8ea" stroke-width="0.6"/>
<circle cx="629.82" cy="626.85" r="2.1" fill="none" stroke="#e6a8ea" stroke-width="0.6"/>
<circle cx="630.64" cy="626.86" r="2.1" fill="none" stroke="#e6a8ea" stroke-width="0.6"/>
<circle cx="631.46" cy="628.53" r="2.1" fill="none" stroke="#e6a8ea" stroke-width="0.6"/>
<circle cx="632.29" cy="624.05" r="2.1" fill="none" stroke="#e6a8ea" stroke-width="0.6"/>
<circle cx="633.11" cy="624.81" r="2.1" fill="none" stroke="#e6a8ea" stroke-width="0.6"/>
<circle cx="633.94" cy="630.53" r="2.1" fill="none" stroke="#e6a8ea" stroke-width="0.6"/>
<circle cx="634.76" cy="625.38" r="2.1" fill="none" stroke="#e6a8ea" stroke-width="0.6"/>
<circle cx="635.58" cy="626.97" r="2.1" fill="none" stroke="#e6a8ea" stroke-width="0.6"/>
<circle cx="636.41" cy="627.45" r="2.1" fill="none" stroke="#e6a8ea" stroke-width="0.6"/>
<circle cx="637.23" cy="625.81" r="2.1" fill="none" stroke="#e6a8ea" stroke-width="0.6"/>
<circle cx="638.06" cy="621.96" r="2.1" fill="none" stroke="#e6a8ea" stroke-width="0.6"/>
<circle cx="638.88" cy="624.81" r="2.1" fill="none" stroke="#e6a8ea" stroke-width="0.6"/>
<circle cx="639.70" cy="630.29" r="2.1" fill="none" stroke="#e6a8ea" stroke-width="0.6"/>
<circle cx="640.53" cy="624.25" r="2.1" fill="none" stroke="#e6a8ea" stroke-width="0.6"/>
<circle cx="641.35" cy="627.38" r="2.1" fill="none" stroke="#e6a8ea" stroke-width="0.6"/>
<circle cx="642.18" cy="620.84" r="2.1" fill="none" stroke="#e6a8ea" stroke-width="0.6"/>
<circle cx="643.00" cy="626.37" r="2.1" fill="none" stroke="#e6a8ea" stroke-width="0.6"/>
<circle cx="445.24" cy="611.86" r="2.1" fill="none" stroke="#e6a8ea" stroke-width="0.6"/>
<circle cx="478.20" cy="614.62" r="2.1" fill="none" stroke="#e6a8ea" stroke-width="0.6"/>
<circle cx="502.92" cy="616.46" r="2.1" fill="none" stroke="#e6a8ea" stroke-width="0.6"/>
<circle cx="474.08" cy="613.70" r="2.1" fill="none" stroke="#e6a8ea" stroke-width="0.6"/>
<circle cx="634.76" cy="617.38" r="2.1" fill="none" stroke="#e6a8ea" stroke-width="0.6"/>
</g>
<polyline points="399.10,622.94 399.34,623.11 399.60,623.30 399.88,623.52 400.20,623.78 400.59,624.06 401.05,624.38 401.61,624.74 402.29,625.14 403.09,625.58 404.04,626.06 405.11,626.61 406.25,627.25 407.48,627.95 408.82,628.70 410.27,629.47 411.85,630.25 413.57,631.02 415.44,631.76 417.48,632.46 419.70,633.08 422.15,633.65 424.86,634.20 427.78,634.72 430.86,635.21 434.06,635.69 437.34,636.14 440.63,636.57 443.90,636.99 447.10,637.38 450.18,637.76 453.14,638.11 456.00,638.41 458.81,638.69 461.59,638.94 464.40,639.18 467.25,639.41 470.19,639.65 473.24,639.91 476.45,640.18 479.85,640.49 483.45,640.83 487.24,641.19 491.17,641.58 495.23,641.97 499.37,642.37 503.56,642.78 507.77,643.18 511.98,643.57 516.14,643.95 520.22,644.31 524.25,644.66 528.27,644.99 532.28,645.32 536.30,645.64 540.31,645.95 544.33,646.27 548.37,646.58 552.42,646.89 556.50,647.20 560.60,647.51 564.74,647.83 568.93,648.14 573.14,648.46 577.37,648.77 581.61,649.09 585.85,649.40 590.09,649.71 594.30,650.02 598.48,650.33 602.62,650.63 606.90,650.94 611.41,651.27 616.05,651.60 620.71,651.93 625.28,652.26 629.66,652.57 633.73,652.86 637.38,653.12 640.50,653.34 643.00,653.52 644.79,653.64 645.96,653.73 646.61,653.77 646.84,653.79 646.76,653.78 646.48,653.76 646.11,653.74 645.74,653.71 645.50,653.69 645.47,653.69" fill="none" stroke="#cf57d6" stroke-width="6.6" stroke-linejoin="round" stroke-linecap="round"/>
<polyline points="399.10,672.08 399.34,672.26 399.58,672.50 399.85,672.77 400.16,673.08 400.54,673.42 400.99,673.77 401.55,674.14 402.23,674.50 403.06,674.86 404.04,675.20 405.16,675.54 406.39,675.89 407.72,676.25 409.17,676.61 410.74,676.98 412.43,677.34 414.24,677.70 416.20,678.05 418.29,678.39 420.52,678.71 422.84,679.00 425.23,679.26 427.70,679.49 430.29,679.71 433.03,679.93 435.97,680.16 439.11,680.42 442.51,680.71 446.19,681.04 450.18,681.44 454.56,681.91 459.31,682.45 464.39,683.04 469.73,683.67 475.26,684.32 480.94,684.97 486.68,685.61 492.44,686.22 498.15,686.79 503.74,687.29 509.36,687.74 515.14,688.16 521.03,688.55 526.96,688.92 532.89,689.26 538.77,689.59 544.53,689.91 550.13,690.21 555.50,690.51 560.60,690.80 565.41,691.08 569.98,691.34 574.35,691.58 578.56,691.81 582.64,692.03 586.64,692.24 590.61,692.46 594.56,692.68 598.56,692.90 602.62,693.14 606.90,693.40 611.41,693.68 616.05,693.97 620.71,694.27 625.28,694.56 629.66,694.85 633.73,695.11 637.38,695.35 640.50,695.55 643.00,695.71 644.79,695.83 645.96,695.90 646.61,695.94 646.84,695.96 646.76,695.95 646.48,695.94 646.11,695.91 645.74,695.89 645.50,695.87 645.47,695.87" fill="none" stroke="#61ace2" stroke-width="6.6" stroke-linejoin="round" stroke-linecap="round"/>
<circle cx="644.65" cy="653.52" r="2.3" fill="#ffffff" stroke="#cf57d6" stroke-width="0.8"/>
<circle cx="644.65" cy="695.71" r="2.3" fill="#ffffff" stroke="#61ace2" stroke-width="0.8"/>
<circle cx="396.62" cy="602.66" r="2.8" fill="#f4d2f5" stroke="#cf57d6" stroke-width="0.9"/>
<circle cx="397.20" cy="605.00" r="2.8" fill="#f4d2f5" stroke="#cf57d6" stroke-width="0.9"/>
<circle cx="397.78" cy="607.34" r="2.8" fill="#f4d2f5" stroke="#cf57d6" stroke-width="0.9"/>
<circle cx="398.35" cy="609.68" r="2.8" fill="#ffffff" stroke="#cf57d6" stroke-width="0.9"/>
<circle cx="397.45" cy="671.30" r="2.8" fill="#cfe6f6" stroke="#61ace2" stroke-width="0.9"/>
<circle cx="399.10" cy="670.52" r="2.8" fill="#cfe6f6" stroke="#61ace2" stroke-width="0.9"/>
<circle cx="400.74" cy="672.08" r="2.8" fill="#ffffff" stroke="#61ace2" stroke-width="0.9"/>
<circle cx="399.10" cy="660.38" r="1.6" fill="none" stroke="#cf57d6" stroke-width="0.6"/>
<circle cx="403.22" cy="690.02" r="1.6" fill="none" stroke="#61ace2" stroke-width="0.6"/>
<rect x="538.00" y="661.60" width="104.70" height="12.50" fill="#f3e2f5"/>
<text x="590.30" y="671.80" font-size="10.5" font-weight="bold" text-anchor="middle" fill="#b845c2"><tspan dy="0.00">66.7%@77.8 mAh g</tspan><tspan dy="-4.20" font-size="6.93">-1</tspan></text>
<rect x="538.00" y="698.60" width="104.70" height="12.00" fill="#ddeef9"/>
<text x="590.30" y="708.60" font-size="10.5" font-weight="bold" text-anchor="middle" fill="#4f9fd8"><tspan dy="0.00">47.4%@23.7 mAh g</tspan><tspan dy="-4.20" font-size="6.93">-1</tspan></text>
<text x="402.40" y="592.30" font-size="10.6" font-weight="bold" text-anchor="start" fill="#1b1b1b"><tspan dy="0.00">0.2 A g</tspan><tspan dy="-4.24" font-size="7.0">-1</tspan><tspan dy="4.24"> 300cycles</tspan></text>
<polyline points="407.60,687.50 407.60,705.30 398.00,705.30" fill="none" stroke="#777" stroke-width="1.0" stroke-linejoin="round" stroke-linecap="round"/>
<polygon points="394.20,705.30 400.10,702.70 400.10,707.90" fill="#777" stroke="none" stroke-width="1"/>
<polyline points="636.00,631.80 636.00,643.80 644.00,643.80" fill="none" stroke="#777" stroke-width="1.0" stroke-linejoin="round" stroke-linecap="round"/>
<polygon points="647.60,643.80 641.70,641.20 641.70,646.40" fill="#777" stroke="none" stroke-width="1"/>
<circle cx="584.80" cy="588.20" r="2.9" fill="none" stroke="#61ace2" stroke-width="1.0"/>
<text x="599.70" y="592.00" font-size="10.2" font-weight="bold" text-anchor="start" fill="#5fa9e1">HC||NM</text>
<circle cx="584.80" cy="600.70" r="2.9" fill="none" stroke="#cf57d6" stroke-width="1.0"/>
<text x="599.70" y="604.50" font-size="10.2" font-weight="bold" text-anchor="start" fill="#d150d8">HC||NMD</text>
<rect x="386.5" y="577.2" width="262.70" height="136.80" fill="none" stroke="#1b1b1b" stroke-width="1.5"/>
<line x1="386.50" y1="714.20" x2="383.80" y2="714.20" stroke="#1b1b1b" stroke-width="1.1"/>
<text x="382.60" y="718.34" font-size="11.5" font-weight="bold" text-anchor="end" fill="#1b1b1b">0</text>
<line x1="386.50" y1="675.20" x2="383.80" y2="675.20" stroke="#1b1b1b" stroke-width="1.1"/>
<text x="382.60" y="679.34" font-size="11.5" font-weight="bold" text-anchor="end" fill="#1b1b1b">50</text>
<line x1="386.50" y1="636.20" x2="383.80" y2="636.20" stroke="#1b1b1b" stroke-width="1.1"/>
<text x="382.60" y="640.34" font-size="11.5" font-weight="bold" text-anchor="end" fill="#1b1b1b">100</text>
<line x1="386.50" y1="597.20" x2="383.80" y2="597.20" stroke="#1b1b1b" stroke-width="1.1"/>
<text x="382.60" y="601.34" font-size="11.5" font-weight="bold" text-anchor="end" fill="#1b1b1b">150</text>
<line x1="386.50" y1="694.70" x2="384.88" y2="694.70" stroke="#1b1b1b" stroke-width="1.1"/>
<line x1="386.50" y1="655.70" x2="384.88" y2="655.70" stroke="#1b1b1b" stroke-width="1.1"/>
<line x1="386.50" y1="616.70" x2="384.88" y2="616.70" stroke="#1b1b1b" stroke-width="1.1"/>
<line x1="386.50" y1="577.70" x2="384.88" y2="577.70" stroke="#1b1b1b" stroke-width="1.1"/>
<line x1="649.20" y1="714.90" x2="651.90" y2="714.90" stroke="#1b1b1b" stroke-width="1.1"/>
<text x="653.10" y="719.04" font-size="11.5" font-weight="bold" text-anchor="start" fill="#1b1b1b">90</text>
<line x1="649.20" y1="668.90" x2="651.90" y2="668.90" stroke="#1b1b1b" stroke-width="1.1"/>
<text x="653.10" y="673.04" font-size="11.5" font-weight="bold" text-anchor="start" fill="#1b1b1b">95</text>
<line x1="649.20" y1="622.90" x2="651.90" y2="622.90" stroke="#1b1b1b" stroke-width="1.1"/>
<text x="653.10" y="627.04" font-size="11.5" font-weight="bold" text-anchor="start" fill="#1b1b1b">100</text>
<line x1="649.20" y1="576.90" x2="651.90" y2="576.90" stroke="#1b1b1b" stroke-width="1.1"/>
<text x="653.10" y="581.04" font-size="11.5" font-weight="bold" text-anchor="start" fill="#1b1b1b">105</text>
<line x1="649.20" y1="691.90" x2="650.82" y2="691.90" stroke="#1b1b1b" stroke-width="1.1"/>
<line x1="649.20" y1="645.90" x2="650.82" y2="645.90" stroke="#1b1b1b" stroke-width="1.1"/>
<line x1="649.20" y1="599.90" x2="650.82" y2="599.90" stroke="#1b1b1b" stroke-width="1.1"/>
<line x1="395.80" y1="714.00" x2="395.80" y2="716.70" stroke="#1b1b1b" stroke-width="1.1"/>
<text x="395.80" y="727.00" font-size="11.2" font-weight="bold" text-anchor="middle" fill="#1b1b1b">0</text>
<line x1="478.20" y1="714.00" x2="478.20" y2="716.70" stroke="#1b1b1b" stroke-width="1.1"/>
<text x="478.20" y="727.00" font-size="11.2" font-weight="bold" text-anchor="middle" fill="#1b1b1b">100</text>
<line x1="560.60" y1="714.00" x2="560.60" y2="716.70" stroke="#1b1b1b" stroke-width="1.1"/>
<text x="560.60" y="727.00" font-size="11.2" font-weight="bold" text-anchor="middle" fill="#1b1b1b">200</text>
<line x1="643.00" y1="714.00" x2="643.00" y2="716.70" stroke="#1b1b1b" stroke-width="1.1"/>
<text x="643.00" y="727.00" font-size="11.2" font-weight="bold" text-anchor="middle" fill="#1b1b1b">300</text>
<line x1="437.00" y1="714.00" x2="437.00" y2="715.62" stroke="#1b1b1b" stroke-width="1.1"/>
<line x1="519.40" y1="714.00" x2="519.40" y2="715.62" stroke="#1b1b1b" stroke-width="1.1"/>
<line x1="601.80" y1="714.00" x2="601.80" y2="715.62" stroke="#1b1b1b" stroke-width="1.1"/>
<text x="362.60" y="654.30" font-size="11.9" font-weight="bold" text-anchor="middle" fill="#1b1b1b" transform="rotate(-90 362.6 654.3)"><tspan dy="0.00">Specific capacity (mAh g</tspan><tspan dy="-4.76" font-size="6.55">-1</tspan><tspan dy="4.76">)</tspan></text>
<text x="682.00" y="647.00" font-size="11.35" font-weight="bold" text-anchor="middle" fill="#1b1b1b" transform="rotate(-90 682.0 647.0)">Coulomb efficiency (%)</text>
<text x="515.80" y="739.00" font-size="12" font-weight="bold" text-anchor="middle" fill="#1b1b1b">Cycle number</text>
<text x="356.00" y="572.00" font-size="19.6" font-weight="bold" text-anchor="start" fill="#1b1b1b">j</text>
</svg>
</body></html>
